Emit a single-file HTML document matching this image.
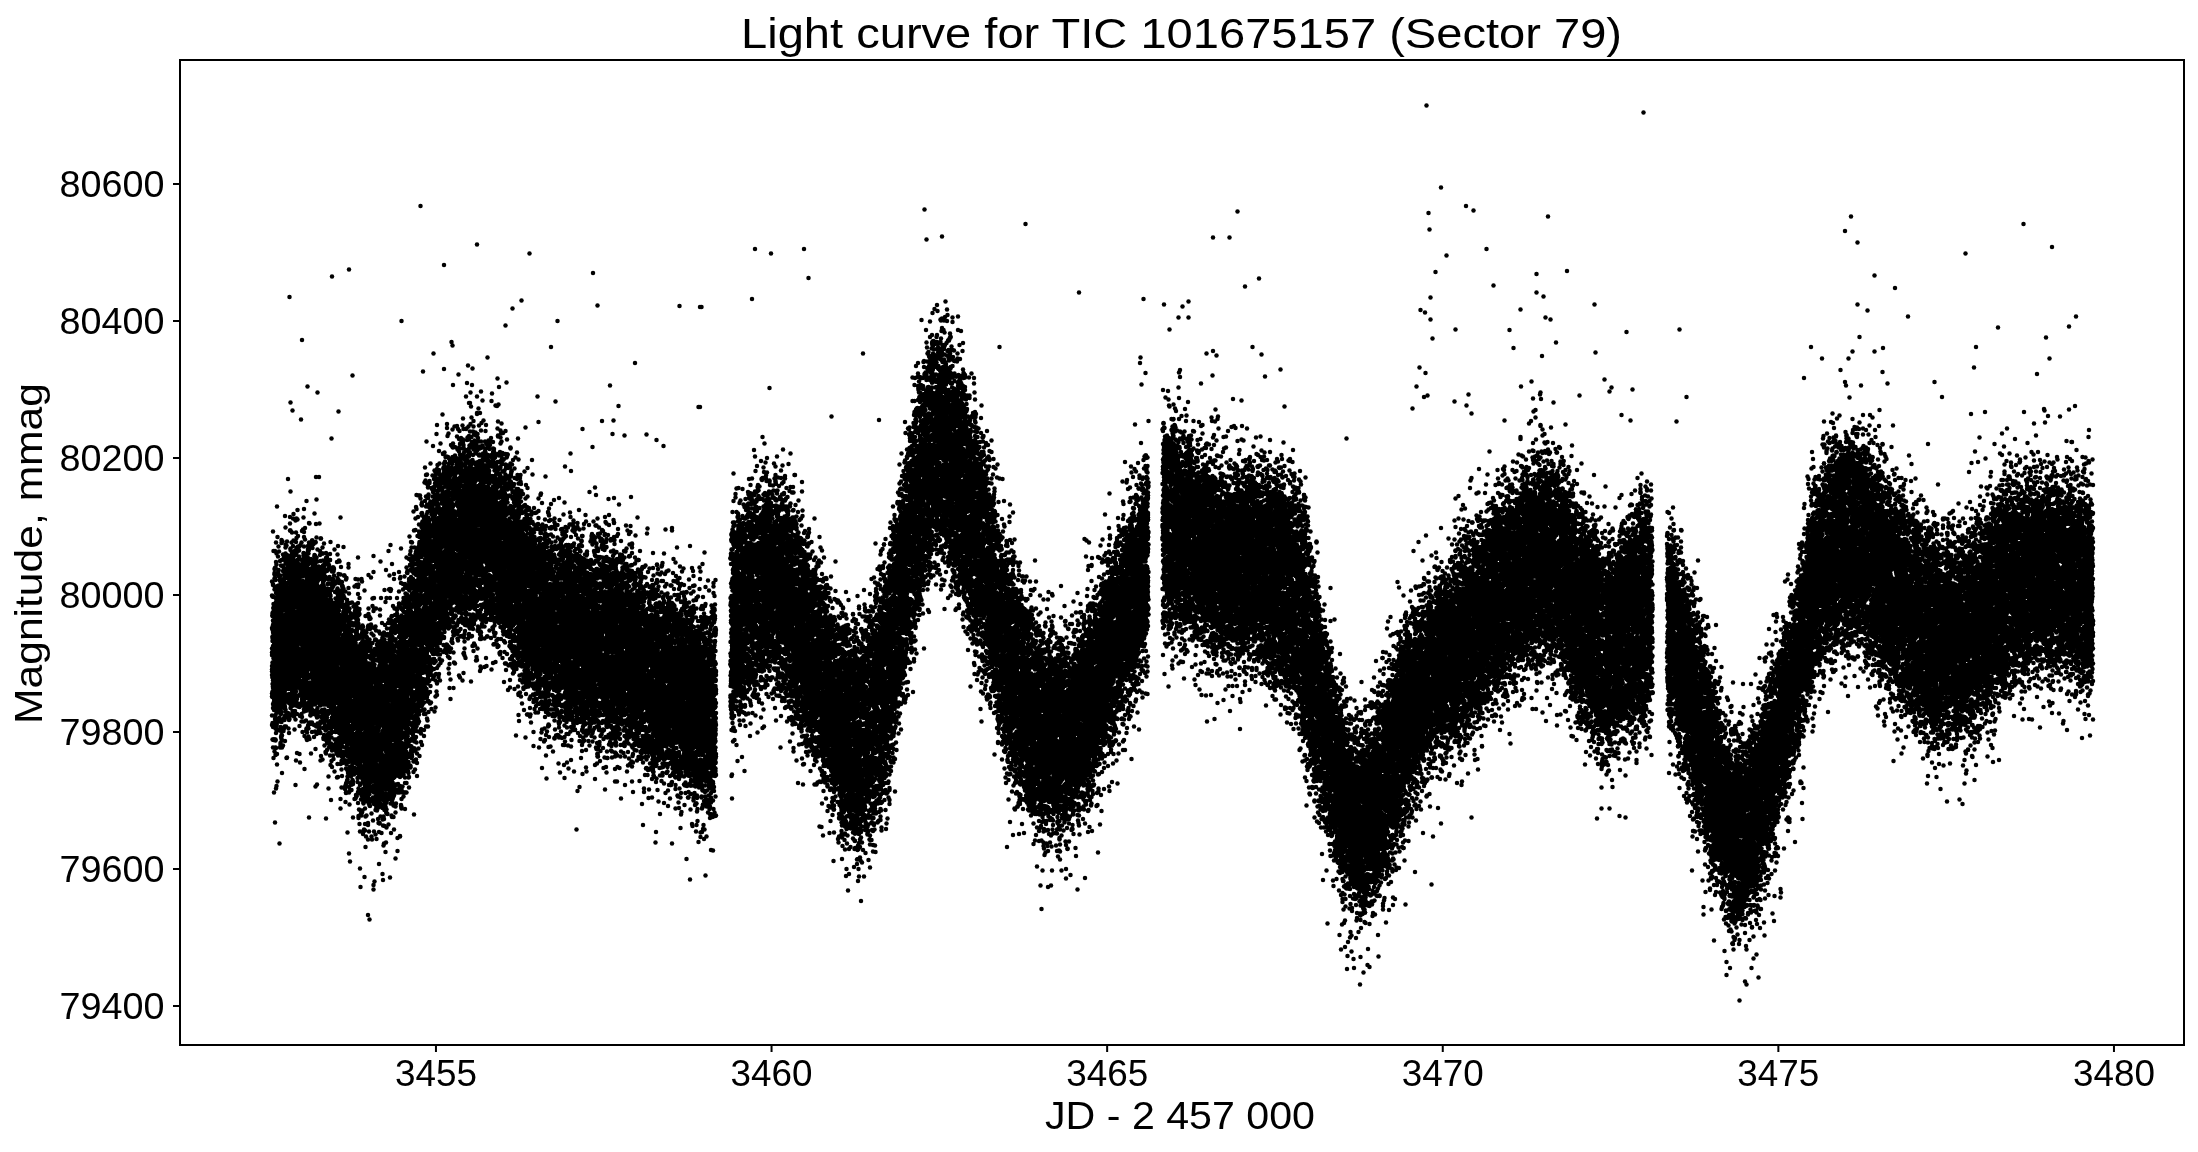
<!DOCTYPE html><html><head><meta charset="utf-8"><style>html,body{margin:0;padding:0;background:#fff;width:2198px;height:1152px;overflow:hidden}svg{display:block;will-change:transform}text{font-family:"Liberation Sans",sans-serif;fill:#000}</style></head><body><svg width="2198" height="1152" viewBox="0 0 2198 1152"><defs><marker id="d" markerUnits="userSpaceOnUse" markerWidth="11.0" markerHeight="11.0" refX="5.5" refY="5.5" overflow="visible"><circle cx="5.5" cy="5.5" r="4.5"/></marker></defs><g transform="scale(0.5)"><path d="M2834 1611l2 2-2 3-3-2zM3236 1494l-4 2 0 4-3 2-3-2-2-4-7 3-3-1-3 0 0 3 3 3 4 0 4 2 4-3 2 2-4 5-5-1-5 5-6-3-3-5-6 0-3-4 3-4-3-3-2 1-3 4-5 2 2 4 4-2 4 4 5 0 5 5-4 4-1 9-2 1-3-1-3 2 2 2 5-2 2 2-1 9 1 1 4-1-1-3 3-4 4-2 3 2 3-1-6-11 3-6 5 0 4-2 10 2 2 6 3-2-1-3-5-2 1-4 6-1-2-4-4 1-2-2 0-3 5-2zM3210 1517l2 2-2 3-3-2zM1520 958l4 4 3-2 3 0 2 4 2 0 4 2 0 5 2 1 6 2 3-3 4-1 5 5 2-5-6-1-1-3 1-8 4-1 3 2 6-1 1 3-6 5 0 3 3 0 5-4-2-4 4-3 0-7-3-2-2 3 0 2-2 2-11-4-1-4-3 0-4 8 3 4 0 6-5 3-3-2 0-7-5-2-2-4 2-10-2-1-4 0-2-2-2 4 4 3 0 4-2 2-4 0zM4156 934l-1-1-3 1 1 6-1 3-6-1-4 4-4-7 2-5-4-2-1 4 3 4-4 4-4 0-2 3-8 3-5-2-5 4-2-2-2-4 1-1 5-1 0-2-2-3 0-4-2-1-2 1 1 4-3 3 0 5-4 6-2 1-6-4-2 4 3 5 5 1 2 4 2 0 2-6 4-4 3 2 7-4 4 2 8 0 6-9 2 1 4 4 3-2 4 0 2-5 4 1 3-2zM3102 924l2 2-2 4-2-2zM3097 897l-5 3-2-1-4 3-3-2-4 4-3-2-4 8-10 4 4 16 6-3 6 5 3-1 0-2-6-7 9-7-6-4-1-3 3-3 4 3 9-1 4 4 3-1 2-6-3-2zM3073 914l3 2-3 3-3-2zM4176 990l-6 4-2 4-2 1-2-1-3-4-2 0-1 6-4 2 0 6-6 6-4-2-2-2 6-8 3-2 0-2-3-3-1-4-5-1-1-2 2-4 5 0 4-4 0-2-7-4-3-6-6 2-2 2 4 4 0 6-4 6 0 4-4 2 2 6-3 2-7-2-6-4 1-3 3-1 4 2 2-6 4-3-4-3-2-5-5 1-1-4-5-2-1-2 2-4-2-2-2 1 0 4-2 3-4 0-2 4-4 0-4 0-9 2-4-4-3 0 0 3 2 1 3 0 6 8-1 2-4 4-4 0-2-2 0-4-5-4-3 4-6 0-3-2 1-4 2-2 6 3-1-8 3-3 2-2 5-3-3-3-4 2-6-2-2-2-4-4 0-2 4-3-2-3 2-4-2-4 0-4-2-2-4 1-4-3-4 5 2 3 5-4 4 4-2 4 2 8-9 8 3 8-1 10 6 6 0 8-8-2 1-6-7-6 0-5-4-3 0-4-5-2-3-4-9 0-1-4 0-4-2-2-6 2 0 6-4 1-4-2-4 1-2 2 2 2 8-2 4 2 2-2 4 0 4 2 0 4-2 2-5-2-8 4-3-2-4 2-4-1-3 5-4 2 0 2 7 0 2 4 6 3 0 7 6 0 2-2 0-4 2-2 4 0 3 6 9-2 2 0 2 3-2 2-4 1-4 2-4-4-3 2-1 3-4 2-4-3-4 0-1-4-5 1-4-1-2 2-4 0-4-7-4 1 5 12 7 0 4-4 2 1 2 6-2 3-4 0-2 2 2 4-2 4-4 2-4-4-4 2 3 5-1 3-5 4 5 4 0 3-4 1-6-4-4 3 0 5 2 1 11-3 1 8-2 1-5-2-9 3-2 0-4-6 0-4-6-5 2-4-4-4 0-5-2-1-3 1 5 6 0 6-7 4 5 4-1 8 3 2 1 4-4 2-5-6-2 4 4 7-3 3-5-1-2-3 2-3-3-1-3 4 0 6 7 2-1 6 2 2 10-4 2-3 5 1 3 2 0 6 3 0 5 2 4-2 4 2 0 2-2 4-12 1-2-1-2-6-4 1-4-5-2 2-1 4-5 4-4 1-1-7-5-1 0-5-6-1-2-3-2-1-3 5-5-2-2 2 2 4-2 4-4-1-5 3-4-3-3-1-4-4-4 4-4-2-2 1 1 3 5-2 4 2 0 6 2 4-2 2-4 2-4-4-4 0-2-3 0-3-7-6-3 4-6 2 0 6-4 0-4 4-4-4 3-3 0-4 7-9 5 0 3-6 6 0 2-2 4 3 3-1-2-4-4 2-4-4 1-4-4-5 2-4 4-3-1-2-9-2-3 4 3 6 4 4 0 6-4 4-4-4 1-8-5-3-2 1-2 4-2 1-2-1-2-4-6 0 0-6-6-1-5-7-5-2-1-6 3-3-1-1-3-2-2 4-4 0-2-4-4-3 0-10-12-7-1-4 3-2 8 6 2-2 0-3-10-3 0-4 4-2-1-3-5 2-4-1-2 2-4 0 0-2 2-4 5-2-1-4-2 0-2 4-6 0-2-1 0-4-2-3-10-2-2-2-4 1-4-3-6-2 0-4 6-7 7 7 4 0 5 6 2-3-3-3-4-1-7-7-2-6 2-5-6-5-2 2-4-2 0-4 4-4 0-2-3 0-3 2-4-4-6 0 0-4 2-2 1-9-3-2-2 0-4-3-2-4 2-7-11-7-5 6-4 2-4 0-1-6-5-2 0-6-8-4-1-4-3-2-3-8 0-4-1 0-4 2 3 4 1 5-2 12 2 1 5 0 1 4-2 4-10 0-4-6 0-5-2-1-3 4-3-1-3-7 1-2 2-2 0-5-3 0-2 3-7 4-4-2-2 1 2 4-4 3 0 3 4 3 6-3 4 1 3 2-1 2-8 6 0 6 2 1 2-1 2-6 5 0 5 2 4 4 10-2 2 2 0 2-4 4-8-2-2 2 0 6-8 8-2-1-2-5 3-4 0-4 5-3 0-1-4-2-2 6-6 2-2 4-4 2-2 5 2 3 3 0 2 1 2-2 3 0 0 6-2 1-3-2-3 2-3-1-3 3-4 0-2 2-6-2-1 2 1 3 2 1 2-2 3 0 5 8-1 2-3 2 0 6-7 4-3-2 0-6-2 0-4 2-4 0-3 6 1 5-3 3 3 8 0 3-6 1-4-3-2 1 0 4 4-1 2 2 0 5 1 3-3 3 2 4-2 6 2 2-1 8 3 2 4-2 4 2 4-2 7 2 1 2-2 2-8 0-3 5-4 0-3 5 1 4-3 5-3 1-3 0-2 1 2 4-2 5 2 4-2 3-6-1-1 2 1 4 4 0 2 4-3 2-3 0-2 2 2 2 3-1 3 2-2 5 2 6-4 6-3 0-3-6-3 4-3 0-2 1 0 2 3 3-2 6 5 3 0 5-4 4 2 4-2 4 4 2 1 8 3 4-2 4-2 2-4-2-2-6-2 2 2 6-3 8 1 2 5 0 1 5-10 9 5 7-3 3 0 6-4 2 2 7-3 3-3-3-3 2-1 3-3 4 2 2-2 6 2 4-1 4 4 2 2 4 2 0 4-7 2-1 4 2 2 5-2 1-3 0-5 2-2 2-4 0-2 2 2 4 2-1 3 2-3 10 4 6-3 3-9-2-6-3-3-5 1-4-2-2-2 2 2 4-1 4 5 6-4 6 4 4 0 4-5 4 1 11-2 3-4 2 0 2 4 2 2 6 4 2 0 2-2 2-4 0-2 2-4 2-3 5 1 5-4 8-1 5-3 0-2-4-4 1 8 10 1 4-3 2-4-4-3 0-1 3 4 1 2 4-2 2-8 3 0 4-4 4-2 9 2 2 6-2 2 5-6 12-2 1-4-2 4-7-2-3-4 4-6 2-4-2-1 2 1 2 6 0 6 6 2 4 0 4 1 4-3 3 2 3 5-2 1-5 8 1 2-6 2-2 5 2 3 6 0 4-3 2-4-3-3 5-7 2-3 0-3 2-7 0-2 2 1 4-2 4 4 4 0 2-7 6-4-4-4 2 2 3 6-1 2 5 0 3-4 4 2 7-3 2-4 0-6-3 0 10-10 0-1 2 5 2 3 7-6 3 0 4-5 8-5 1-8-4 1-6-3-2-4-12-2-3 2-7 4 0 6-3-4-6-3 1-3 6-4 0-2 1-2 6-3 0-3 4 2 10 2 2 7-3 5 5-3 6-5-2-2 2 0 2 10 0 7 6 0 2-5 3 2 4 4-1 3 1 3-1 2 2 4 0 2 2-1 3-2 1-3-4-4 2-3-2-3 2-10-5-6 3-2 3 8 5-3 4 2 12-3 2-5-4 1-14-4-1-2-2 4-17-2-1-2 5-3 2-5 0-2-4-4 2-3-2 3-4 0-8 6 0 2-2 2-10-5-3 1-3 2-1 0-5-4-2-4-8-8 0-1-4 5-3 0-5 2-4 4 0 4 6 3-4-4-2-2-4-3 0-3-4-4 0-4-6-3 0-4-6 2-4 2 0 4 1 0 5 2 0 2-2-2-8 0-1 4-1 1-3-3-1-2 2-6-2-2-4 7-6-5-4 1-4-1-6 2-2 6 2 2-8-2-2-4 2-5-2-3 5-4 0-2-5 4-6-4-3 0-3 2-2 5 0-1-5 4-5-2-2-4 0-2-4-3 0-1 4 4 2 1 6-3 2-10-10 3-10-5-6-1-4 3-5 4 0 2 2 4-3 4 2 2-3-2-1-4 2-4-2-4 0 0-3 4-1 1-2-1-6-6-4-5 2-4-2 1-4-2-6 0-4 6-4 6 2 2-3-4-4-5-1 0-9-4-3-1-4 4-7 4-3-1-5 3-1 4 2 2-3-7-3-3 0-2 2 1 4-9 10-2 0-2 3-2 1-3-2 2-4 3 0 2-6 4-3-2-4 2-7-3-2-4 4-4-2-4 2-3-1-2-3 3-4-1-7 1-1 3 0 2 4 3 0 2-12 4-2 5 3 3-5-3-2-4 4-6-4-4 6-10-1-1-7 7-3 4 3 2 0 1-2-3-8 4-5 4 0 2-3-2-2-2 0-6-2-2-6 2-5-3-3 0-3-5-2-2-5-6 2-2-4 0-2-2-2-7 4-8-2 1-4 2 0 2 2 2-2-1-4-3 1-3-2 0-3 10-5 2 1 1 4 2 1 2-3-2-4 2-5-8-3-6 1-1-6-3-2-2 2-2-1-2-4 5-3 0-4 4-2 3 2-2 6 2 2 7-1 1-4-3-2-1-3 4-3 0-2-2-2-2 2-2 5-4 1-2-6 4-4 0-1-6-2 0-7 2-2 5-1 1-1 0-2-7-2-3 3-4 0-1 2-3 0-3-2 0-3 3-2 4 2 1-3-2-2-5 1-2-4-2 0-2 9 3 3 1 3 1 1 7-1 1 5 3 3-3 3-4-2-3 1-3-3-3 1 2 3-2 24 3 4-3 9 2 2 4-1 3 2-1 2-6 6 0 14-2 3 0 9 2 4-1 3 1 9 2 2-4 6 0 12 2 4 0 6 1 3-1 5-2 2 2 6-2 10 4 5 0 4-3 7 3 4-2 6 0 8-2 3 2 6-2 6 3 3 1 6-4 4 0 8 2 3-2 7 2 2-1 6 5 2 0 4-5 3-1 6 2 12-1 3 1 24 2 2 0 4 2 2 0 2-4 2 2 5-2 5 2 4-4 4 2 3 12-1 2 2 0 4-5 1-3-1-8 3 4 5-1 4 6 10-1 2-4 4 1 6-1 4 4 2 4 7 4 1 4 10 0 2 2 3 0 5 2 4-2 6 2 2 4-2 3 2-1 6-4 4-4 8 4 2 2-6 2-2 6 1 2 5-4 4 2 6-5 3 2 3-1 2-4 4-4 0 0-6 6-3-5-3-2 6-4 2 5 4 0 3 2 3 4-2 5 4 5-3 3 1 0 4 5 4-1 6 3 2 0 4 2 2-2 5-2 1-2-2 2-5-4-1-4 6 4 6-1 3 3 3 2-2-2-6 2-2 5 2 1 6 6 3-2 3-6 6-8-1 0-5-4 0-2 4-4 3 1 3 3 1 0 4 3 3-1 4 2 2 4-4 3 0 3 4 0 2 3 2 1 4 5 5-2 4 0 8-4 2-3 5 2 2 5-6 6-1 3 3 4 2 0 4 4 3-2 5 0 2 2 2 0 3-10-1-4 4-8-2-2 2 2 3 4 1 5-4 4 2-1 5 2 1 5-2 4 1 0 5 3 5-5 3 1 4 4-4 4-1 8 1 2 3-2 4-2 1-7-2-2 4-5 4 0 5 2 2 2-1 0-3 4-5 4 2 0 4-5 7 5 5 2 4-4 4 2 6 3 2 6 7-2 4-3 1-6 6 0 2 3 2 1 2-2 6-4 0-2 3 4 2 2-3 4 0 4-4 2 2 2 4 3 4-3 3-4-1-2 2 2 2 3 0 3 1 2-2 0-4 2-1 3 0 3 4-2 4 3 4-1 4-7 2-5-2-4 9 3 1 2-5 5-1 2 2 2 6 5 4 1 4-4 3-3 13 1 2 4 0 0-4 3-10 3 0 7 8-3 4-7 2 3 4 4-2 4 0 2 4-13 7-3 5 2 3 1 1 4-4 7 0 1 6 5 2 2 3 2 0 4-8 6-1 6 2 2-2 4 0 2-2-1-5-3 0-4 3-4-4 5-3 1-12 10-5 2 1 2 3-3 3 0 3-5 3 0 7 3 0 2-4 3 0 4-4 8 4 4 4 2-2 0-2-4-2-2-6 3-2 6 2 1-4-2-1-3 0-3-6-4 1-4-3-3 2-5-1-3 2-7-2-1-2 4-4 3-1 3 2 3-1 0-3-6-3 0-3 4-7 8 2 0 2-4 6 1 1 3 1 3-6 5-3-4-5 4-4 2 0 4 2 3-2 5 4 2-2-2-3-6 1-2-5 2-3 5 0 3-4 4 0 2-2-2-2-2 0-2 3-4 0-2 2-7 1-4-3 3-5 5 0 1-2-2-4 1-8 5 0 3-6 5 1 2-2-2-3-3-1-1-6-5-7 2-4 0-4 7-4 4 2 3 3-2 5 3 2 2-2-2-5 2-3 4 1 3-1 3 1 2-2 0-1-4-3 0-3-3-2-4 2 1 3 0 3-6-1-6-3-1-6 5-4-1-8 1-4 4-2 2-3 4 1 2-5 0-3-4-3 0-4-2-5 2-2-1-4 4-6 0-3 7-2-2-5 3-4 1-3-3-3 1-4-2-3 2-3-1-4 8-8-5-4 0-5 8-4 8 2 4-1-2-4-4 0-2-2 2-5-3-7 3-3 5 1 3-8-2-2-4 0-3 2-3-4 4-5 7-4-1-9 3-5 5-1 2-2-3-4-5 5-5-1-1-5 5-3 5 0 3-4 1-4 4-8 6-3-2-5-4 6-4 0-1-5 1-2 0-5 1-2 3 0 4 6 2-2 0-2-4-3 1-4 3-4-2-9 4-6 5 2 3-3-8-7 1-3 5 1 2-3-2-3 0-4-4-5-2 0-2-3 10-4 4 4 4-2-1-6-3-3-3-9 1-12 7-2 1-3-6-2 2-6-6-2-3-4 0-3-1-2-4 0-2-3 6-5 3 0 3 0 2 4-1 4 5 2 0-6 4 0 4-2 4 2 1-4-6-3 3-7-4-4 2-4-4-3 0-3 3-2 3 1 4-5 2 0 4-4 4 0 4 4-1 4 4 0 2-4-3-6 1-4-1-2-5 1-4-1-1 6-4 2-2-2 0-4-4-1-2-3 2-8 6-1 4 5 2-2 2-6-2-4 4-6 4 0 4 8 2 2 5 0 3 3 4-1 2-3 4-2-1-3-5 2-4-5-5 2-11-7 1-2 5-3 0-4 8 0 4-5-2-4 1-2 5 0 6-2 2-4 4 0 4 6-3 4 2 6-3 5 4 1 4-5 4 0 2 5-4 4 4 3 0 3 3 2 5-3 8 5 2-6 6-2-2-4-6 4-3-2-7 0-2-6 0-3-6-1-4-6 2-3 10-1 2-4 4-2 4 0 7 9 3-1 1-4 3-2 8 8 0 6-5 2 4 11 3 1 4 2 2-1 0-4-5-3 1-2 2 0 3 0 1 3 6-1 4 3 6 1 6 3 0 2-2 3-6 0-2 2-6 4-3 0-3 2 2 2 18 0 4 6 5 0 5 3 3 4 1 5 8 0 1 10-3 0-5-5-4 1 1 3-4 3 0 4-4 3 2 4-3 3 3 3 7 1 1-2 1-6-3-4 0-3 2-1 4 2 6 0 2 4 5 5 1 3-2 4 2 4-4 7-5 1-2-7-5-3-2 1 0 2 2 3 0 4-4 4 2 3-2 4 2 3 2-2-1-6 3-4 6 6 6-4 7 6 4 0 7 2-1 4-7 3 6 7 0 6-6 5-5-1-1 4 4 2 2-4 5 0 5-5 5 1 4-2 4 1 1-5 4-2 2 3 1 9 3 2 6 0 4-5 4-1 6 6-2 5-3 0-3-3-4 6-7 0-5 3-4-3 2-7-4-3-3 2 1 4-4 2-2 2 5 5 1 5 4 3-8 9 5 4 1 4 2 1 2-2-2-5 3-2 2-10 5 0 4-3 2 2 0 3 2 2 2-2 0-6 6-6 4 6 0 4 2 3-1 5-3 2 2 4 5 0 2-6 2 0 7 0 2 2 0 4-6-2-2 2 2 8-6 0-2 1 1 5-7 4-4-4-4 2-3-3 3-4 4 1 2-2-5-9-10-5-4 3 1 3 4-1 6 4 0 3-4 2 2 6-3 2 3 3 4-1 4 2 4-3 4 3-3 5-3 0-2 2 1 3-2 3 1 4-4 4 2 5 3-2-1-6 4-3 0-5 10 2 3-2 3 1 2-1 0-3-4-3 4-4-5-5 2-3 9-2 3 2-1 6-2 4 1 2 2 0 3-4 6-2 2-5 3-3 9 2 4 2 4-4 4 0 3-2 3 1 2-3-2-2-10 2-3-9 3-3 2 2 3-2-1-6 1-4 2-2 7 3 0 3-2 4 4 6 3 0 0 4 3 3 2 3 5 2 3 4-3 4 3 2 4-2 4 0 0-6 4-2-2-4 2-4-6-4 2-4 10-7 0-5 4-2 1-4 3 0 4 2 2-3-10-3-2 4-2 2-2 5-2 1-4-3-6 1-3 4-3-2-2-4-4 0 0-2 0-7 8-2 2-5-6-14 0-2 4 0 4 3 2 5 3 0 1 3 3 1 2-1-3-4 1-4-2-2-4-1 1-4 8 0 2 4 4 2 1 6 3-2-2-9 2-3 4 2 0 6 2 1 8-5-2-4-4 0-2-2 0-6-4-2-3-4 3-4 6 0 0 2 3 4 3 8 8 3 1-4-5-1-6-8 0-6 4 0 2 4 6-2 4 4 8 2 2-2 0-5 6-3 2 2 0 2-6 4 2 3 2 1 2-6 5-4-1-2-5 0-1-2 2-5 0-3 4-4 4 0 4-6 4-2 4 1 0 4 6 5 5-2-7-6 0-4-2-2-2 0-2-5-2 0-4 3-2 0 0-6-2-7 2-2 5 1 3-3 5 5 4 2 3-2 6 2 0-3-2-3 2-4-4-3-2-6 10-7 6 4 2-3-8-3 4-4 6 0 4 5 6-1 0 3-4 3-2 6-4 0-4 3-1 3-4 3 1 3 2 0 2-4 2-1 4 3 2 0 1-2-2-4 3-2 4 0 3 4 3-4-2 0-3-8 8-4 3 2 0 6-4 4 3 2 3-2 4 0 4-4 3 2 4-1 3 9 0 2-5 0 0 4 7 0 6 4 2-4-4-2-1-10-5-4-2-5 0-2 4-3 4 4 5-1 3 3-2 3-4 2 0 3 2 0 5-2 3 4 3-1 1-3-4-4 5-3 9 5-1 3-3 3 1 2 6-1 3 5 4 0 4 4 6 0 0 4-3 6-4-1 0-7-3 0-6 6 1 2 3 0 4 2 0 4-4 4 3 2 1 5 6-2 4-7 6-2 6 0 4 6 2-1 0-3 2-4-3-2-4 2-2-1-1-3 2-2 4 0 1-1-3-6 4-3 0-5 2-4-2-5 2-5-2-4 0-3-2-4 4-6-4-3 0-5 4-6-2-2 2-8-2-2 0-4-2-2 4-5 0-9-2-4-1-6 3-4-1-4 1-4-2-8 0-4-4-4 1-2 5-2-4-10 0-4 2-2-2-4 2-3 1-5-1-4 2-4-2-4 2-4-3-16 3-4-4-6 2-4 0-10 2-6-2-8 2-4-2-7 2-7-2-4 2-7-2-5 2-6-2-3 1-5-5-4 2-3 0-5 4-10-6-6 0-2 4-2 0-2-3-2-3 4-2-2 0-2 4-2 0-6 4-2 2-4-8-6 0-8 6-1 1-3-5-5 1-5-4-2-1 4 2 4-2 5-4 0-6-6 0-5 4 0 2-3 4 0 0-3zM3472 1826l2 2-3 4-3-2 0-2zM3514 1812l-1 6-5 2-4 0 0-6 8-2zM3452 1787l4-1 0 6 4 2 8 1 0 5-6 3-4-2-6 5-2 0-2-4 4-3-2-7zM3456 1778l4 0 5 4-1 6-7-2-1-5zM3508 1777l-2 3-4-2-2 3-3-2 1-3 4 0 2-2zM3509 1773l4-1 1 3-2 2-2-1zM3449 1772l3 2 0 4 2 2-3 2-6-4 2-6zM3473 1766l3 2-1 3-2 1-3-2 1-2zM3454 1753l4 3-1 4 2 2-1 4-3 2-4-2-1-4-2-2 1-4zM3462 1761l4-2 0-5 4-2 6 8 6 0 1 3-3 2-3-3-3 2-4-2-5 2zM3514 1746l5 0 1 4-5 0zM3458 1744l3 2 0 4-5 3-2-1 0-4zM3426 1745l7-5 4 2 0 5 1 1 5 2 5-2 0 6-4 2 0 6-2 1-6-3-3-6-5 0-4-4zM3522 1735l2 1 0 3-3 3-3-2 0-2zM3522 1728l3 2-3 4-2-2zM3520 1724l2 0 0 3-2 2-3-3zM3434 1720l3 2 3-1 3 2-2 5 1 5-6 3-10-10 2-4zM3446 1719l2 2-2 3-3-2zM3518 1708l4 3-4 5-2-2 0-4zM3524 1691l8-2 2 3 1 9-3 1-6-1-1-5-3-2zM3512 1679l4 4-4 4-3-5 1-2zM3477 1676l3-2 6 2 1 2-4 4-5-3zM3542 1672l2 2-2 2-3-2zM3423 1664l2 2-1 2-4 4-2 0-2-4 0-2 3-2zM3537 1661l3 2-3 3-3-2zM3538 1650l4 1 0 4-5-1zM3542 1641l5 1-1 4-4-1zM3408 1632l2 1 0 3-4 2-2-4zM3532 1627l5 0 1 3-5 2-1-2zM3502 1624l-1 2-2 1-3-1-4 2-2-2 2-4 6-2zM3399 1618l3 0 4 4 0 2-2 2-6 0zM3554 1612l3 2-3 3-2-2zM3406 1610l3 2-3 4-2-2zM3397 1608l3 0 4 6-2 2-2 1-6-3 0-2zM3556 1604l4 1-1 3-4 0zM3390 1602l2 2 0 4-2 1-4-3 1-2zM3525 1599l4 1-1 4-4-2zM3389 1593l1 4-5 5-4 0-3-4 1-3 4-3zM3410 1590l2 3-4 5-2-2 0-2zM3374 1588l3 2 0 4-4 2-2-2-1-4zM3554 1584l4 6-1 2-9 1 0-5 4-4zM3518 1573l3 3-3 2-2-2zM3566 1570l2 4-3 2-2-1-1-3zM3388 1569l4 1 0 4-6 0zM3402 1567l3-2 9 3 0 3-6 4zM3562 1554l3 4-3 2-3-2zM3484 1548l5 0 1 3-4 2-2-1-1-2zM3460 1539l6 1 1 4-5 1-2-3zM3380 1532l3 2 2 6-1 4-2 2-4-3 1-4-1-4zM3503 1532l3 2-3 3-3-2zM3556 1529l4-1 2 3-4 3-2-2zM3496 1528l2 1 0 3-4 3-2-1 0-2zM3444 1528l4-1 2 3-1 2-4 0-2-2zM3376 1521l4 3 1 2-5 4-2-2-1-3 1-3zM3478 1519l2-1 4 1 4 4 0 3-3 2-7-4zM3429 1513l3 2-3 3-3-2zM3589 1512l0 4-7 7-6-1-2-6 2-2 2 0 4-2zM3486 1514l4-4 4 4 3 0 1 3-6 3-6-3zM3496 1506l4 0 0 4-4 0-1-2zM3392 1505l2 2 0 3-2 2-3-2 1-4zM3473 1506l3-2 2 1 4-1 2 1 0 3-4 3-3-3-3 0zM3582 1489l4-1 1 4-4 0zM3508 1487l2 3-2 4-2 2-2-2-2-4zM3870 1484l2 2 1 4-5 2-2-1 0-3 2-3zM3511 1480l3 0 2 2 0 5-5-1zM3502 1478l3 2-3 4-2-2zM3429 1476l2 0 1 4-4 2-2 0 0-3zM3892 1475l4 4-1 2-3 1-4-2 2-4zM3518 1470l4 2 0 4-2 1-4-2 0-3zM3380 1468l2 2 0 2-2 1-2-2 0-3zM3948 1466l8 2 2 6-1 6-5 4-2-2 2-4 0-2-6-2-2-3 2-5zM3576 1465l2 2 0 3-2 0-3-2 1-2zM3449 1464l1 4-3 4-9 0 0-5 6-3zM3900 1461l8-1 2 2 4 9-2 5-6-1-4 3-4-3 0-3 3-3-1-5zM3351 1460l3 0 2 2 4-2 6 3 4 0 4 3 0 2-7 8 3 4-3 5 0 5-3 0-2-2 1-3-1-7 2-2-4-6 0-4-6 0-4-4zM3431 1457l4 1-1 4-4-2zM3598 1456l7 0 0 6-2 0-5-2zM3524 1457l-1 3-5 0 0 4-2 1-6-1-4-2 2-4 10 2 0-4 2-2zM3587 1452l3 0 3 4-2 5 4 3-1 4-4 0-4-6-1-6zM3918 1450l0 4-6 1 0-3 2-2zM3902 1452l1 4-3 2-3-1-3 1-2 2 1 4-3 2-2 0-2-4-5-4 3-7 9-1 3 4 4-2zM3354 1449l2 1 2 4-6 6-4-4 0-2 1-4zM3833 1448l4 1 0 5-5 0zM3934 1447l8 1 0 3 6 7-2 4-4 0-4 1-2-1 0-3 2-5-4-2zM3878 1445l2 3-3 3 1 3-4 3-3-4 3-3 0-4zM3588 1440l6-2 2 4 0 3-2 1-6-4zM3908 1443l-2 3-5 0-3-3-8 3-4-1 0-3 5-6 6 2 4-2zM3524 1438l4-2 5 1 1 3-4 4-2-2zM3880 1432l6 1-2 5-4 0zM3350 1430l3 3-3 7 2 4-4 4-4 2-2-2 2-6-2-5 3-5zM3882 1425l1-2 6-1 2 2 1 2-3 2-7 0zM3604 1422l2 1 0 5 4 4 0 4-3 2-3-1-4-4 2-9zM3917 1422l3 0 3 3 5-3 4 0 8 8 0 6-4 0-6-4-7-2-5-2zM3848 1422l0 4-4 3-2 0-2-3 2-4zM3592 1418l2 2 0 2-3 3-2-1-1-3zM3348 1418l4 1-1 3-4 0zM3542 1418l0 2-2 2-4 2-2-2-1-2 1-2zM3428 1416l2 0 0 4-4 2-2-3zM3414 1418l-1 3-9 3-2-2 1-4 7-2zM3828 1412l3 2-3 3-2-3zM3816 1412l4 0 0 4-4 0zM3904 1410l6 4-2 5-3 3 0 2 3 2 1 2-4 4-7-2 0-2 2-4-6-4 3-6 3 0zM3840 1412l2-2 6 2 2 3-6 3-4-2zM3601 1408l4 0 1 4-5 1zM3939 1404l1 2-2 2-4 2-2-1 0-3 5-3zM3884 1400l3-1 3 3-4 2-2-1zM3972 1400l-1 4-5 0-6 3-2-1-1-3 1-3 3-1 5 1 3-2zM3351 1396l0 8-3 2-5 0-1-6 6-4zM3918 1395l2 3 0 3-3 1-3-3zM3812 1394l4 2 2 4-2 3-2 0-4-3zM3597 1394l5 0 2 2 0 2-6 0zM3834 1392l0 4-4 4-4 0-1-6zM3894 1391l0-1 4-1 3 3-1 2-4 0zM3886 1390l4 0 1 3-4 1zM3935 1398l5-9 2-1 4 1 2 3 6 0 1 2-1 6-6 2-4-6-6 5zM3985 1387l3 2-3 3-3-2zM3406 1388l2-1 4 2 1 3-5 2-2-2zM3838 1386l4 1 1 3-1 2-4-1zM4002 1384l4 1 0 5-5 0-1-4zM3808 1384l2 0 2 5-2 3-2 0-2 0-1-5zM3534 1384l5 0-1 6-2 1-4-2zM3958 1382l6 2 0 6-5-1-2-4zM3946 1378l5 1-1 5-2 0-2-2zM4018 1376l-1 8-5 1-5-2 1-5 3 0 4-4zM3972 1376l0 2-2 2-5 0 1-4zM3555 1374l3 4 0 4-3 2-2 0-1-5 0-3zM3422 1376l4-1 0 3-4 1zM3799 1374l5 1-1 5-5-2zM3864 1372l2 2-2 4-2-2zM3829 1374l-3 5-2 1 0 6-2 2-6-2-8-9 2-3 9 6 3-2 2-7 4 0zM4022 1368l4-1 1 3-3 2-2-1zM3988 1367l7 2 3-3 6 5 0 5-4 5 0 6-16-3 0-5 9-1 1-2-2-3-3 1-3-1zM3965 1366l3 2-3 4-3-2zM3544 1366l2 1 1 3-3 2-2-4zM3878 1360l2 3-2 4 2 1 0 4-2 2-3-3 1-4-2-2zM3396 1356l2 2 0 4-2 0-2-2 0-2zM3541 1349l2 1 1 3-4 2-2-3zM3346 1348l2 2 1 3-3 2-3-1-1-2zM3898 1348l4 0 0 4-4 1-1-2zM3550 1348l2 0 2 4-1 3-3 1-2-2 0-4zM3991 1347l6 7-9 4-2-2-1-6 1-2zM4024 1346l2 2 2 5-2 7-4 4-2 3-2 1-6-5-1-10 3-2 3 2 2-1 1-4zM3984 1346l0 4-5 1-1-5zM4053 1342l3 2-3 3-3-2zM3846 1338l6 1 0 2-2 3-4 0zM3395 1338l3 0 2 3 0 4-5-1zM3802 1337l2 7-2 1-4 5-4 0 0-4 1-6 3-2zM4182 1334l0 6-4 1-4 5-1 4-5-1-1-3 2-3-3-3 1-2 11-5zM4154 1332l2 2-2 4-2-2zM3807 1332l4-1 1 3-2 2-2 0zM4016 1344l0-4 4-1-2-7 2-2 6 4 3-2 8 2 4-2 3 3-2 7-2 0-7-2-3-2-4 2-5 0-1 6-2 0zM4160 1330l3 0 2 4-1 3-3 1-3-2-1-2zM3562 1328l2 2-2 3-3-2zM4099 1327l5-1 0 4-4 0zM3914 1326l4 0 0 6-3 0-3-2zM4144 1326l4-1 2 3 3 2 0 2-2 2-3-2-3 0zM3772 1322l2 0 7 10 5 0 0 2-2 5-8-3-3-4-4-2-1-2zM3932 1322l4 1-1 4-4-1zM3399 1323l5-1 4 4-4 2-5-2zM4162 1320l2 2-2 4-2-2zM4018 1320l2 2-2 2-3-2zM3826 1319l0 3-3 2-1 4-4 0-2-2 1-2 5-5zM3810 1318l1 4-1 3-5 1-3 4-3 0-1-2 2-8zM3576 1318l5 0 1 4-6 0zM4156 1317l3-1 3 0 1 3-3 3-4-2zM3940 1314l4 0 0 7-6-1 0-2zM4044 1313l4 7 0 2-6 4-8-2 0-4 2-4zM4107 1312l4 1-1 3-4 0zM4064 1310l3 2-3 3-2-2zM4120 1312l4-3 4 3 4-2 6 4 5-2 3 2 0 6-3 2-5 0-5-4-3 4-4 0-2 0zM3959 1309l5 1-1 4-5-1zM4145 1306l5 0 0 4-4 1-2-2zM4072 1313l5-3 4 2 1-2 0-4 6-2 4 4 0 6 4 0 1 4-4 2-5-4-2 2-4-2-3 2-5-2zM3846 1304l4 1 0 5-4-2zM4031 1302l3 0 4 2-1 6-3 0-3-2zM3801 1302l2 0 1 5-3 5-3-2 0-6zM4020 1300l6 6 1 4-1 3-4 2-2-1-2-6-3-2zM3575 1300l3 2-3 2-3-2zM4132 1298l4 0 2 2 0 2-2 2-5 0zM4050 1298l4 1 0 3-4 4-2-2-1-2zM4150 1297l4-1 0 4-4 0zM3633 1297l1 3 0 3-4 3-4 0-2-4 0-3 6-3zM3394 1296l4 0 0 4-4 0zM3610 1294l2 2-2 3-3-2zM3748 1294l6 1 2 5-1 3-3 0-6-3zM3813 1291l3 3-4 4-2-1-1-3zM3790 1290l4 0-1 4-4-1zM4112 1285l2 3 3 6-3 2-2 0-4 6-5-2-1-4 3-6zM4014 1286l1 2-2 3-5 2-3-1 0-3 3-3zM3984 1285l3 2-3 3-2-2zM3813 1285l4 1-1 4-4-1zM3388 1286l4-2 4 0 4 7-2 3-4 0-6-4zM4047 1283l3 3-3 4-3-3zM3754 1286l3-3 8 3 1 4-3 2-3-2-4 1-2-2zM3716 1283l4 1 0 4-4-2zM4126 1287l2-5 2-1 6 1 2 2 0 2-6 0-3 3zM4164 1280l4 0 0 5-4-1zM4060 1286l7-7 6 5 7-4 10 13-3 3-5-4-4 1-5-5-8 8-4-3 1-4zM3724 1281l2-2 4 3 7-1 2 5-3 2-2-2-6 3-2-1zM3668 1282l-4 6-6 2-1 2-4 0-5 3-6-5 2-3 9 3 2-2 1-7 3 1 5-4zM3572 1278l4 4 0 3-2 1-4-4zM3698 1280l1 4-4 0-3 4-2 0-4-3 1-3 5-4zM3630 1276l2 2-2 4-3-2zM3855 1277l1 3-2 2-5-1 1-3 3-2zM3582 1276l4 0 0 4-4 0zM4041 1275l4 1-1 4-4-2zM3839 1274l1 6-6 5-2 0-1-6 4-5zM3814 1272l2 2 0 3-2 1-3-2 1-2zM3762 1272l2 2-2 3-3-2zM3738 1272l3 0 7 5 2 3-2 3-4 1-3-4-3-2zM4100 1270l2 6-5 3-3 0-2-3 0-3 4-2zM3687 1270l2 3-1 3-4 4-6 0-1-2 0-4zM3758 1268l2 2-2 3-3-2zM3994 1268l4 0 2 2-3 2-3 0zM3398 1267l2 3 0 3-6 4-2 0-2-2 0-5 5-3zM3734 1270l0 2-2 4-4 2-4-3-8 3-2 2 2 4-3 2-8-7 1-5 8-1 2-1-2-5 3-2 9 1 4 4zM3642 1266l2 0 4 2 1 2-3 4-4 0-2-6zM4104 1265l3-2 3 1 2 3 5-2 2 1 1 2-2 4-8 3-4-2zM3658 1262l2 2 0 2-2 2-2-2 0-3zM4158 1262l4 4 0 5-2 2-2-1 0-4-3-4zM4068 1262l0 3-2 2-4 1-3-2 1-2 4-3zM3667 1260l4 4-3 7-2 3-3-2 1-4-2-4 2-3zM3682 1259l2 3-4 3-2-3zM3352 1258l4 4-4 5-2-1-1-4 1-2zM3734 1257l2 1 1 3-3 5-4-4zM3578 1256l4 2 0 2-3 2-4-3 1-2zM4113 1254l3 3-4 4-2-1 0-2zM3715 1258l-1 3-4 0-10 5-4 0-1-2 2-4 5-1 6-5zM3639 1254l1 2-3 2 0 2-3 1-2-3 4-1 0-3zM4028 1252l2 0 1 4-3 2-2-4zM3382 1252l5 1 1 4-3 1-3-2zM3800 1251l0 3-4 2-2-2 0-3zM3666 1250l0 4-2 3-5-1 1-4 2-2zM3728 1249l0 3-2 2-4 0-2-2 1-2zM4168 1246l2 4-2 1-2 0 0 3-6 1 0-3 4-2 1-4zM3372 1246l4 1 2 3-2 2-4 0zM4014 1246l3 0 3 2 0 5-7-2-1-3zM3880 1246l0 4-2 2-4 0 0-4 2-2zM3738 1244l3 2-3 3-2-2zM3648 1242l4 3 0 3-2 3 0 3-2 2-4-3 0-3 2-3 0-4zM4129 1242l4 0-1 4-4 0zM3672 1254l5-5 1-6 2-2 6 3 0 4 4 4 4 1 1 4-7 3-2 0-2-5-4 3-5 0zM3594 1238l4 4 0 4-4 2-4-3 2-5zM3608 1236l6 0 2 2-2 3-4 1-2-4zM3720 1235l4-1 1 4-4 0zM3696 1234l5-4 4 5-5 3zM3394 1233l-2 3-4 2-5-2 1-4 6-2zM4138 1230l5 0 1 4-6 0zM3716 1228l0 4-5 1-1-3 2-2zM4015 1226l5 0 4 4 0 4-2 0-6-2zM3686 1224l3 2 1 6-3 2-3-1-2-4 2-4zM3846 1223l3 2-3 3-2-2zM3938 1224l4-2 2 4-4 2-2-1zM4056 1222l4 0 0 4-4 0zM4163 1222l5 0 0 4-4 0zM3728 1218l4 2-1 3-4-1zM4099 1218l4-1 1 3-4 1zM3696 1216l4 2 0 2-4 4-4-4 2-4zM3722 1214l2 2 0 2-4 2-2-2zM3636 1216l2-2 4 0 2 2 2 2-6 2-2 0zM3861 1213l5-1 0 4-4 0zM3986 1210l4 0 0 6-5-2zM3660 1210l4 0 1 3-4 1zM3772 1204l4 4-2 3-2 1-2-2 0-4zM3370 1204l2 0 1 3-3 3-2-2 0-2zM3708 1202l2 2 0 3-2 2-4-4 0-3zM3925 1200l3 0 4 2 0 2-2 3-4-1-2-4zM3738 1200l4 4-2 7-4 1-6-2 0-4 3-4zM3592 1200l5 0 3 4-1 2-7 0-1-3zM4018 1198l3 2-3 4-2-2zM4049 1198l4-2 3 4-4 2zM3716 1194l3 2-1 3-2 1-2-2 0-2zM3682 1195l2 3-5 4-1 4-5 1-1-5 4-2 2-5zM3744 1194l-1 4-5 2-2-1 0-4 6-3zM3926 1184l2 0 0 3-2 3-2-1-1-3zM3744 1184l2 2-2 2-3-2zM4014 1182l2 2 0 4-2 0-4-2zM3372 1180l2-1 4 3 4 1 0 5-10 0zM3932 1178l2 2-2 4-3-2zM4128 1175l2 1 1 4-1 2-3 0-3-1 0-3zM4052 1174l3 2-3 4-2-2zM3742 1172l3-2 2 2 3-1 2 1 0 3-3 3-3-3-2 0zM3825 1166l4 1-1 4-4-1zM3846 1167l2-2 4 3 2-2 2 3-2 2-2-1-4 1-2-1zM3886 1166l0 2-2 2-3 0-3-2 4-4zM3672 1163l4 1 0 4-4-2zM3829 1159l2 1 1 2-4 3-2-3zM3957 1158l3 4-4 2-2-3zM4152 1158l4 2-1 4-5-2zM4108 1159l4-1 0 4-4 0zM3855 1158l3 2-4 3-2-3zM3997 1156l3 2-3 3-3-2zM3369 1156l3 0 2 3 6 0 2 5-1 5 5 4-1 6-3 0-6-7-2 1-2 3-6 2-5 0-1-5 6-1 2-4 3-2-3-6zM3904 1154l4 0 2 5 7 3 3 2-1 2-4 4-13-7-1-3zM4071 1151l3 2-1 3-2 0-3-2 1-2zM3365 1150l1 6-3 5-7 1-2-2 2-3 0-5 4-2zM3847 1150l-1 4-4 2-2 0 0-4 5-2zM3941 1146l3 4-4 2-2-1 0-3zM3924 1149l2-3 7 2 1 2-2 2-6 1-2-1zM3908 1146l6 0 0 4-4 2-2-4zM3868 1142l4 4-4 2-2 0 0-3zM3816 1142l5 3-1 3-3 2-2 0-1-5zM3608 1142l0 2-3 4-5 0-2-2 1-4 5-2zM3786 1140l4 4 2 8-4 4-3-2-3-8 0-3zM3982 1136l2-1 4-1 2 2 1 2-3 2-3 0zM4153 1134l4 2-1 4-4-2zM3922 1135l4-2 2 3-4 2zM3816 1133l2 2-2 3-3-2zM3876 1132l4 0 6-3 3-1 3 2-3 7 1 3 2 0 5-5 4 5-1 2-10 6-6-2-2-6-8-4 0-2zM3912 1128l4 0 1 4-5 0zM3953 1125l1 3-4 6-4 0-1-2 1-4 4-3zM4117 1124l3 0 5 3 1 3-4 4-2 0-2-2-2-5zM3988 1124l3 2-3 3-2-1 0-2zM4151 1121l3 2-3 3-3-2zM3843 1122l3 0 4 4 0 2-2 2-3 0-4-6zM3862 1120l2 0 1 4-3 2-2-1 0-3zM3346 1120l6 0 0 7-3 0-3-3zM3882 1118l3 2 1 3-2 2-3 1-3-2-2-3zM3956 1116l4 0 3 2 1 6-1 2-5 0-3-6zM3927 1119l-1 3-4 0-3 2-7-3 0-3 4 0 4-4zM4164 1112l2 2 0 2-2 2-2 0-1-3zM3848 1112l2-1 5 3 1 4-8 1zM3884 1110l4 0 0 2 5 2 1 3-3 3-5 0 0-4-2-3zM3840 1110l3 2-1 4-2 0-3-3zM4042 1109l2 3-2 4-2-1-1-3zM3822 1106l4 0 2 2-3 2-3 0zM3606 1105l8 1 2 2 0 3-5 3 1 7-2 2-6-4-2-4 1-7zM3967 1110l-1 2-6-1-5 5-4-4 1-5 8-3zM4110 1104l4 1 0 3-4 0zM4018 1102l2 3-3 4-2-1-1-3zM3737 1102l5 1-1 4-4-1zM4031 1098l3 2-3 4-3-2zM3876 1104l0-3 6-3 8 2 2 2-2 2-2 0-4 4-4 0-2 0zM3842 1096l4 2 0 3-4-1zM3896 1096l4-2 7 2 2 1 1 5 6 2 0 4-6 2 0 4-2 4-4 0 0-2 1-8-5-1-5-6zM3676 1096l5 0 1 4-5 0zM3926 1098l2-2 4 0 4-2 4 0 6 4 0 2 4 2 0 2-3 4-3 0-1-6-3-1-3 3 0 6-3 1-5-3zM3608 1092l3 2 0 6-5 2-2-1 0-3 2-4zM3825 1092l5 3-1 5-3 2-4-2-1-2 1-4zM3716 1090l2 2 0 2-2 2-4-3 1-3zM3992 1088l0 4-4 2-3 0-1-2 0-3 6-1zM3870 1086l4 0 2 2 2 6-2 2-4 0-3-6zM4016 1085l5-1 1 3-2 2-3-1zM3908 1090l2-4 4-2 7 1 3 5 4 0 0-4 2-2 4 0 1 2-3 4-4 1 0 3-2 2-4 0-3-2-5 2zM3848 1082l1 3-1 2-6 0 0 1 2 6 0 2-3 0-5-1 0-7 6-6zM3951 1082l5 0 1 2 3 2 0 4-6 0-4-6zM4034 1080l4-2 4 1 0 3-5 2-3-1zM3730 1070l3 2-3 3-2-1 0-2zM4173 1068l3 2-3 2-3-2zM3968 1069l5-1 3 3-1 3-2 0-4-2zM3653 1068l1 3-5 6-3 0-2-3 4-6zM3654 1068l2-2 4 2 0 4-2 1-3-1zM3799 1071l5-2 6 0 6 3 3-6 6 2 1 4-4 1-2 3 2 6 2 0 2 5 0 3-2 0-4-1-2-6-2-1-4-6-4 0-3 2-5-1zM3791 1066l4-1 1 3-4 1zM3620 1064l3 2-3 2-2-2zM3648 1063l2 2 0 3-2 0-3-2 1-2zM4044 1062l3 2-3 4-2-2zM4090 1062l2 3-3 3-2-2-1-2zM3847 1058l5 0 2 5 0 3-4 1 3 9-3 3-4-3 0-4-2-1-2 1-2-2 0-5 4-3 1-3zM3805 1058l3 3-4 3-2-2 0-2zM3738 1058l2 3-3 3-3-3zM3956 1056l6 4 0 2-8 6-3-3 3-9zM3722 1052l0 4-4 4-3 0-1-4 5-4zM3829 1053l1 3-6 4-3 0-2-3 1-3 2-2zM4141 1050l1 3-3 4-5 1-4-2 1-5 5-1zM3962 1050l4 0 4 4 1 2-3 4-4 0 0-4-4-4zM3794 1050l2-2 4 0 2 3-1 1-4 1zM3816 1046l2 2 0 3-2 1-3-2 1-2zM3987 1046l3 3 0 3-2 2-4-2 0-4zM3698 1044l4 4 0 2-4 3-4-3 2-6zM4167 1042l3 0 2 4 4 2-1 8-3 0-1-2-4-3zM4001 1041l5 5-2 4-4 1-4-1-1-3zM3636 1037l2 3-4 4-3-2-1-2zM4093 1035l3 3-2 4-4-4 0-2zM3666 1036l4-2 2 4-4 2-2-1zM4152 1034l2 0 2 3-5 3-2-1-1-3zM3653 1033l2 1 1 2-2 4-2 0-2 0-1-4zM3775 1033l4 1 2 4-1 2-4 0-2-4zM3997 1032l1 4-2 3-5 1-1-2 2-5zM3701 1029l2 1 1 2-5 6-2 0-1-4 2-4zM3630 1029l2 1 0 3-3 2-2-1-1-4zM4118 1030l0-1 4-1 3 4-1 1-4 1zM3786 1026l4 4-1 4-3 1-4-4zM4049 1026l3 2 0 5-2 2-6-3 1-4zM4164 1026l4 0 2 4-1 2-5 0zM4153 1025l3 2-3 3-3-2zM4061 1024l3 2 1 2-3 8-2 1-3-2-1-3 2-6zM3812 1022l3 2-1 5-2 1 1 2 5 3-2 4-2 1-4-1 0-5-2-2 2-2-2-5zM3749 1020l3 2-3 3-3-2zM4148 1018l3 2-3 4-4-2 0-2 2-2zM4032 1020l6-2 3 0 3 3-1 5-7 0-4-3zM3654 1021l4-4 7 3 1 4-6 3-4-1zM4025 1018l1 2-4 4-5 2-2 0 0-4 6-5zM4004 1012l3 4-3 3-2-3zM4167 1012l3 3-4 3-2-1 0-3zM4022 1012l2 2-2 2-2-2zM4062 1010l2 4-2 2-3-3 1-3zM4114 1010l0 5-2 3-6-2-5 0-1-2 0-2 3-2 3 1 6-3zM4130 1008l5 0 1 4-5 0zM4126 1008l0 4-4 1-3-2 1-2 2-1zM3691 1008l3 0 2 2 2 4-1 2-5 0-2-4zM4088 1006l6 6-1 7-5 3-2-1-1-3 2-3-1-7zM3724 1007l0 3-4 2 0 2-4 0 0-3 4-1 0-3zM4050 1006l6 0 2 1 1 3-3 2-6 0zM3795 1004l5 4 0 4 4 4-1 2-5 4-2-2-6-6-4 4-2-2 2-5 2-1 2 2 2-2 1-4zM4019 1004l3 2-4 4-2-2zM4007 1001l5 1 0 8-4 0-3-3-1-3zM4137 1001l4-1 1 4-4 0zM3751 1000l5 0 4 1 0 7-4 1-4-2-2-3zM4026 999l6 1 2 2 6 0 0 2-4 2-2 6-3 0-5-6zM3773 998l3 2-2 6-2 0 0 4 6 2 2 4-2 4-8 0-3-1 1-5-4-6 5-3 1-5zM3712 1000l2-2 4 0 3 3-1 1-4 1-3-1zM3673 996l4 0 1 2-2 2-2 0zM4141 995l4 0 1 3-4 2-2-2zM4078 994l4 2-1 4-3 1-3-3zM3651 994l3 2-3 3-3-2zM4114 992l0 2-4 10-6 2-5-2 3-10 8-4zM3630 990l6 6-4 4-1 4-4 2-3-2-1-8 3-6zM3783 988l9 6-3 6 3 4-6 6-6-2 2-4-2-4 2-4-2-4zM4076 990l-2 5-6 5-3-1-3-3-4 0-1-2 1-2 3 0 3-3 6 1 3-2zM3694 988l4 2 0 3-4-1zM3663 988l3 3-4 3-2-2 0-2zM4048 988l0 3-1 5-5 2-2-1 0-5 4-4zM4092 987l3 3-4 4-2-1-1-3zM3652 988l5-4 4 4-4 3-5-1zM3749 982l3 2-3 4-3-2zM3758 982l6 0-1 5-5-1zM3694 978l2 0 2 4-5 5-3-2 0-5zM3765 976l3 0 2 4 2-2 3 1 0 5-3 0-2-3-2 1-2 0zM4112 974l2 2 0 3-2 1-3-2 1-2zM3742 975l0 7-6 0 0-2 2-4zM4017 974l-1 2-6 5-7-3-5 0-2-2 0-2 6-2 4 0 4-2zM4043 978l-1 6-4 2-4-3-11 1-3-4 1-5-2-4 3-2 4 3 5 0 3-4 2 4-4 1 0 3 3 2 4-3zM3703 967l3 4-4 3-2-1 0-3zM3646 964l8-2 3 3 1 4-3 2-3-3-5 0zM3753 960l3 2-3 4-3-2zM4056 960l9 4 3 6-1 3-10-1-2-4zM3632 960l5 0 3 2 3-1 3 3-4 5 6 11-3 6-5 0 0-9-1-1-4 1-3-2 2-4-6-7zM3700 955l4 1 0 4-4-2zM3664 953l2 2-2 3-2-2zM3672 944l-1 4-5 2-6-4 0-2 8-2zM3732 944l4-3 4 1 1 1-1 3-4 2zM3751 938l3 4 0 6-3 0-3 6-4 0-2 3-4 0-1-3 1-2 6-4 0-2-3-3 1-6 4-1zM3744 930l-2 5-7 1-3-2-4 0-4-6 4-3 5 3 4-6 2 2 1 4zM3708 916l2-2 3 2 5 4 0 3-3 1-5 0-3-6zM3726 910l2 2 0 3-2 1-3-2 1-3zM3734 910l4 4-4 4-3-4zM3727 900l-1 4-5 2-2 0 1-4 2 0 3-2zM3710 898l4 5-3 3-5-4 0-2zM3702 897l4 4-4 3-2 0-1-4zM3664 876l2 1 0 3-4 4-2-1-2-3zM578 1060l0 1 4 7 2 0 4-2 6 4-4 8-4 0-2 4-4 2 4 5 0 5-5 2 3 12-4 2-6-5-6 1-2 2 2 4-1 4-5 3-3 3-7 1 1 9-5 5 2 4-2 4 2 9-2 2 0 4-4 3 2 8 4 3-2 6 4 3 0 5 2 0 2 2-3 3-2-1 0-2-4-2-3 3 3 5 4 0 3 4-3 5-4 3 1 4-2 6 2 3-4 5 0 5 4 5-3 4 3 6-4 10 3 11-2 5-1 10 4 4-4 10 2 5-2 4 0 6 4 4 0 5 0 2-4 2 2 5-2 3 1 4-1 2 1 8-1 9 4 9-4 4 3 12-3 6 0 8 4 6 0 5-2 3 2 4-2 5 7 9-2 2-5 0-2 2 1 3 5 1 1 6-1 3-4 1 0 4-2 2 2 4 4 2 4 6-2 3 0 3 2 0 2-4 2-2 6 4-2 8 2 8-4 4 0 8-2 2-4-4-6 0-2 2 0 2 4 4-1 4 2 2-1 6-4 4 2 2 2 0 2-5 6-5-4-4 0-4 4-5 4 2 4 0 4-6 0-2-4-1 0-4 2-1 4 2 2-2-2-3-4 0-1-2-1-4 2-2-2-4 1-3 4-3 2-6 3 0 3 4 2-2 0-2-4-2-2-3-5-1-4 3-3-2-5 1 0-6 4-1 4 1 2-3 4-1 2-4 2-1 4 6 2-2 1-7 3-1 4 3 0 4 4 1 1-3-3-6 3-2 3 0 3 4 3 1 2 3-3 4 1 3 6 1 4-3 4 2-2 9-4 8-6 0-2 2 2 2 3 2 0 5 3 2 3 7 7-2 0-7-2-3-6 2-1-3-4-1-1-2 3-2 3 1 0 3 3 0 1-2 0-5 4-3-2-7 8-1 2 2 7 4 1 2-3 4-10 0-1 2 2 2 3-2 2 1 2 3-1 2 10-2 5 0 1 4-2 6 2 2 4 1 2 3-1 4-5 2 0 2 4 1 4-5 3 3-2 5-6 7 1 5 2 2 2-2 0-5 5-5 2 1 2 5 7-2 0 6 2 1 2 3 6 2 2 3-2 5 0 4-7 0-1 3 2 1 4-1 4 1 6-2 4 4 4 0-1-3 1-2 4-1 2 0 0 4-6 2 0 4-3 0-1-2-3 4 5 6 0 13-6 15-6 0-2 3 3 3 5 0 2 4 0 5 8 1 4-6 4-1 0-3-6-2 2-4 4-2 2-2 0-6-1-3-3-2 0-3 0-2 6 0 1-3 3 0 1 3-1 5 1 2 3-2 4 1 2 4-4 3-5-4-3 3 2 2 4 2 0 4-3 4 1 4-2 6-4 4 0 3-3 4 1 2 4 1 3-6 1-4 4-1 2 5-2 6 4 3 2 6 2 0 2-5 4 0 3 6 0 2 3 2 2-1-2-5 2-2 2 0 2 3 4 3 0 5-2 3 2 2 5 2 1-2 0-4 5-2 9 7 0 7 8 0 0-2-4-4 1-6-3-8 4-5 0-3 4-1 0 3-2 2 1 2 4 2 3 4 5 2 2-2-1-4 2-4-1-2-4 2-3-2 4-16 12-2 4 1 1 3-3 5-4 3 0 1 4 1 6-6-2-6 7-2-1-4-8 0-1-6 2-2-1-4-5 0-5-5-3 2-5-1-2-4 0-2 6-6 3-1 5 4 4-3 5 4 5-2 2 1 4-1 1-2-3-4 2-4-3-7 6-3 0-5-3-4 0-4-4-1-2-4 2-2 4 0 4 4 2 5 4 1 4 3 2-2-2-5 0-4-2-2-4 2-2 0 0-11 2-3 2 0 8 10 1 0 2-2-8-9 1-3 4-1 2-3-4-2-2 2-4-2-3 0-3-4-4-2-2-2 6-3 10 5 2-4-5-3 3-8-6-2 0-5 6-2 4 2 2 3 5 1 1 4 3 0 1-3-1-1-4 0-1-6 6-3 0-5 6 0 2-4-1-2-5 0-2 2-1 6-3 0-5-2-3 4-4 0-1-4 3-3 0-3 2-2 2-4-4-10 4-4 0-4 4-4 3 2-1 3 1 3 5 0 2-4 4 0 2-4 2-2 4 1 2 5 4-2-2-4-4 0 0-3-4-1-2 6-4 0-4 4-2-2 1-6-6-3 3-6 3-3 5 0 4 4 4-4-2-4-2 0-5-4 1-6 6-8 0-2-6-2 0-4-4-2-1-3 3-2 2 1 4 4 2 0 1-4-4-1-1-3 6-6 4 0 6 10 2-2 1-4 5-2 0-3-4-3 0-5 2-3-1-2-5 1-3-1-4 4-3-2-1-2 3-5 10-4 10-17-6-4-2 0-2 4 2 0 2 4-2 4-8 8-5 0-3-5 0-2 3-1 4 0 3-3 2-5-3 0-3-4-4 1-3-1-5-7 0-4 3-2 6 7 7-1 4 3 4 0 4-6 4 0 5 3 1 5 4 4 2 0 1-4-5-4 0-4 7 0 5 2 1-4-6-2 1-6-4-2-6-8-4 2-7 0-1-4 2-4 6-3 0-4-4-3 0-4 6-2 0-6 6 2 2-4 4 0 2 4-2 2 2 5-1 7-3 3 0 3-2 3 2 4 2 1 3-2-2-4 1-7 6-6 6 3-1 2-4 2 3 8 2-2 0-6 6-1 4 5-2 4 4 2 1-2-3-4 2-4 3 0 3 3 3-3 6-2 1-2-4-2-4-4-3 2-3 0-2-2 2-5-2-1-2 1 0 4-2 4-8 1-1-4 6-8-3-2-4 4-4-2 0-4 2 0 3-6 4-2 5 2 3 4 7 2 3 5 3-1 4 3 2-2-2-6 4-3 0-7 6-6 3 1 5 6-4 8-6 0 1 4-3 4 8 12-2 6 0 2 11 0 3-4 5-1 5 4 3-5 5 0 4-8-6-4 0-6 4-4-1-6 3-1 6 5-1 4 5 6 0 10 6 1 3 3 3 0 4 2 2-1 2 1 0 4-6 4 1 4-2 3 5 9 1 4 3 2-8 10 0 2 4 2 2 4-8 4-4-4-2 0-2 4 6 2 2 4 4-2 2 2 4 6-2 8 2 2 5-8 5-3 0-5 4 0 7 2 1 10-4 0-2 2-6 2 4 5 2-3 4 4-2 2-4-2-2 3 1 3 3 1 2 5 4 0 2 2-1 2-4 2 0 4 3 2 3-4 4-1 2 1 5-3 2 2 2 4 5 0 3 2-2 3-8 4-8 9 2 3 5-2 3 2 0 6 4-1 2 2-2 5 0 3-4 3 3 4-1 4 2 1 6 1 2-2 2-6 7 0 2 2 1 4 4 2 0 3 6-1 4 4 4 1 4-3 4 0 2 7 0 2-4 2-4-5-3 4 2 2 3-2 2 2 4 6-2 4 1 3 3 1 0-2 0-6 2-6-2-4 3-3 3 1 0 4 4 1 2 3-5 6 7 6 4-4 4 3 0 2-4 5-4 2-2 0-2 4-4 3-4 0-7-5-4 0-1 5-4 2 2 4 3-1 0-4 3-2 2 2 2 4 11-2 3-5 6-1 6-8 7 0 6 7 1 5 2 1 3-1 3 4-2 3-4-2-3 1 1 4 5 0 1 2-2 4 2 2 4-8 4-2-4-4 0-2 4-2 8-8 2 0 2 2-3 4 1 2 4 1 3 3 3-2-2-3-4-1-1-2 3-4-1-2 2-5 4-3 2 2 2 4 5 2 0 2-4 8 6 1 2 6 6-5 8 2 0 2-5 8 7 8 5-6 4 4 3-2 0-14 3 0 3 2 2-2-4-5 4-6-4-3 0-3 4-2 4 4 5-1 1 6-5 4 3 3 2 6-6 5-5 1-2 4 7 1 3 3 3-2 0-4 8 1 8 12 4 2 4-2-1-2-7-3 0-4 6-2 4 3 4 0 2 4-6 4 3 8-7 2 2 5-4 3-1 2 3 2 6-5 4 2 0 5 3 1 1-5-3 0 0-4 3-2 2 1 0 4 4-1 2-4 2-2 0-6 2-1 2 1 2 6-2 4 2 5-1 1-4 1-1 3 4 2 0 2-4 4-6-2-2 2 0 2 5 4 8 0 3 4-1 8-3 3 0 3 3 0 2-2 3 0 2 3-2 4 2 1 2-1 0-5 1-4-4-2-3-6 2-4-2-4 0-5 8-1 2 4 8-1 4-3 4 2 0 4-2 3-4 2-4-1-2 4-4 2 1 3 6 1 3-7 2 0 3 2 2-1 2-4-2-6 3-4 0-3 2-1 3 0 0 8 3 2 1 2-5 8-4 0 0 4 2 1 6-3 4 5 4-1 3 4 2 0 2-4 3-2 4 2 4-4 8 2 2-1 4 1 0 4-5 0-1 6-3 2-3 0-4-3-4 5 0 2 3 4 4 0 5-2 2 2 4-2 6 4 4-1 4 3 4 0 1 4 3 2 4 4 0 2-3 2-4-2-5 5-2-2 0-3-3-2-3-5-6 3-4-1-3-3-10 4-5-3-2 5 3 0 3-2 4 2 5-2 3 1 0 5-3 0-2 3 4 3 3-2 0-5 4-1 2 0 1 2-3 4 1 6 5 4-2 5 5 4-1 9 2 1 2-1 2-6 7 2 1-4 4-2 7 4 1 3-4 5 5 6-1 4 1 2 9-4 3 0 3-2-3-5 0-3-3-3 1-4-1-1-4 0-3-6 7-9 0-3-4 0-2-8 4-5 2 0 2-2-2-4 2-4-2-4 0-8-4-2-2-4 2-3 6 1 4-5 0-14-4-4 4-5 0-3-2-5 2-11-3-4 2-10-3-2 0-5 4-3-2-10 2-4-2-6 2-15-2-9 2-4-2-4 2-6-6-4 6-9-2-3 2-4-2-7-4-3 2-6 4-2 0-9-2-4 1-4-5-3 0-4 6-1 0-4-3-5 3-4 0-9-4-8 4-7-4-6 0-9-2-4 0-3 4 0 2-3-4-3 2-6 0-11-2-1-4 2-5-4 1-3 4-2 4 1 3-3 1-16-4-1-2 4 0 3-2 5-2 1-4-3 4-5-1-3 4-8 3-2 2-8 0-6-3-6 3-8-3-4 3-6-3-1-3 2-4-1-2 2 3 10-3 4 4 4-2 4-4 2-6-2-2-2 0-4-3-2-1 2 1 6-2 1-4-1-1 1 1 6-7 1 0-6-2-1-4 0 0-5 2-3 0-5 4-1 2-3-2-2-4 0-2-5-4 3-7 2-1-4 4-4 0-2-2-1-5 1-1-6-2-3 0-7 6-3-2-4-4 3-8-1-3 5-7 1-4-1-1 2 1 3 7 0 0 3-3 3 1 3 5 0 4 4 2 0 3 2-1 6-6 10-8 2-1-3 3-2 0-3-2-2 0-4-3-5-8-4-1-4 4-3 0-3-5 1-3-2 2-6-3-2-3 2-4 1-6-5-1 2 1 3 4 1 2 1-2 3-4 2-8-8 4-5 0-5 2-3-4-4 0-3 4-2 10 1 0 5-2 4 2 2 5-8-1-3-4 0-3-5-5 0-2 2-3 0-1-4-3 0-4 9-10 3-6-4-5 6-4 0-2-4 2-8 3-4 5 2 2-4-2-2-8-1 0-9 2-4 5-4 2-4-3-2-2 4-4 0-4 6-5-2-1 2-1 4-3 2-3-1-1-3-8-2 0-4 13-4 1-6 7-2-1-4-5 0-1-4-3-2-1 4 3 3-1 5-4 4-8 2-4-4-5-1 0 3-3 0 0 4-3 2-1 9-4 3-3-4-2-6 2-8 3-2 7 1 1-3 2 0 0-6 4-2-7-9-8-1 1 5 0 5-5 0-3 2-3-2 1-5 4-5 4 0-2-5-3 1-5-4-7 4 1 3 4 0 2 2-2 5 0 4-2 2-6-2-4-5-4 3-2-2-10 0-4-3 0-3 4-1 2-2 0-3 1-4 3 0 6 6 3 0 0-4 3-2 1-3-5-2 0-3 4-3 1-5 3 0 3 4 6-1 1 3-2 3 4 1 1-2-2-4 3-3-2-5 2-2 3 0 3-5 0-2-2-1-4 5-4 1-3 3-5 1-2 2-4-2-4 4-3 0-7-8 4-8 3 1 0 5 1 2 5-1 3 2 2-1 0-3-9-4-1-5-6-2-8-10-4 2-1 2 2 2 4 0 3 4 2 0 2 4-4 4-2 0-2 5-2 1-5-2-2-4-3 0-1 14-3 4 4 2 2 6 2 0 4-4 2 2-1 3 1 5 0 2-5 0-1 3 2 9 7 5-1 3-4 0-4 2-4-4-4 2-6-2-2-2-8-2-2-4-4-2 1-3 5 1 2-2-5-6 1-4 5 0 1-2-2-4 2-4-1-4-1-2-5 0-5-4 0-5-2-3 0-4 2-2 5 2 5-4 4 2 2-3-2-2-6 3-3-1-3-7 2-5-2-1-6 0-2-6-3 2 0 5-3 2-3-1-3 6-6 0-2 4-8 1 0 3 3 2-1 8 4 2 1 2-5 4-8-5-2 2 0 5-2 0-2 4 4 1 2-1 0-5 3-1 3 4-1 6-5 4-4-2-6 0 0-2 2-4-5-2-5-8 4-4 2 2 3 4 2 0 1-3-5-7-7 2-6-6 2-2 0-4 2-2 4 4 4 2 4-2 4 3 3-1-3-6 3-2 3 0 1-3-5-2-3-5 1-6-2-2-2 4-5 0-6 2-5-4-2 2 2 4 3-2 4 4 5-2 4 1 2 5 0 2-11 4-4-4-5 0-3-4-4 2-5-2-2 2-4 0-2-2 0-3-4-3-2-5-6 0 0-3 2-2 5 2 3-4 5 0 7-4 2-4-3-1-3 3-6 2-2 0-1-4-3 0-2-4-6-4-4-4-7 4-3-2 0-4 4-1 1-3-5-4 4-6 4-2 0-3-2-2 0-4-6-2-3-3-6 0-1 4-4 0-1-4 1-2 3 0 1-6-5-3-4-7 3-4 4 5 10 1 0 3-3 5 7 2 3-2-3-8 2-10-2-2-4 1-4-1-2 1 0 5-5 0-3-1 2-12 0-1 4 0 2-4-4-2-2 6-4 0 0-3 1-5 3-2-1-3-5-2-2 3-4 0-3-2-3 1-2-3 4-6 4 0 2-4 2-6-2-2-7 0-8-4-4 3-4 1-3-2 0-8-10 0 0-2 2-3 0-4 6-2-2-3-2-1 0-5-1-2-3 0-2 4-5 3-3-1-4 2-4-2-3 0-1-5-2-3 1-5-11-7-2 2-7-2 2 6 5-2 2 3 0 3-3 2-5-3-2 1-4 4 0 4-2 2-8-6-4 0-2-3-2-1-2 4 8 8-2 6 0 5-4 2-6-3 0-6-2-2-6 4 0 2 4 7 6 0 6 5 4 10 0 2-6 0-3-6-11 6-9-5 1-4-2-3-5 3-1 3 4 3 2 5 3 0 3 1 2 7-3 2-3-4-3-1-3 6 2 5-6 6-6-1-2-2 1-2 6-5 0-2-3-1-6 4 2 5-3 4-4 2 2 7-3 2-2-1-2 2 4 4 0 5 3 3-1 10-7 2-2 0-1-4 4-3 0-5-2-2-5 2-5-4-4 6 2 3 6 3 0 7 4-1 6 4-1 4 3 3 0 3-4 2-6-5-6 5 2 4 0 2-7 4-3-2 2-4-3-7-9-1-2 2 2 2 6 2 1 4 4 4-1 10 1 2 4-2-1-4 2-4 2 0 2 4-3 4 3 3 4 0 2 3 0 3-5 3-3 6-4 0 0-4-2-2-4 2 2 6 3 2 1 5-2 3-2 4-2 1-3-1-1 4 8 6 0 4-4 2-2-2-2 2-6-4-4 2 1 4 5-2 3 1 1 5-4 4 2 2 7 2 1 2-2 3-4 2 0 8-4 3-3-2-7 0-2 2 2 4-3 4 1 3-2 5 4 2 0 3-3 1-5-4-4 2 2 4 8 4 2 3-6 7-4 0-2 3 4 4-2 7 4 2 2-5 6 1 1 3 9 5 1 4-1 2-3 2-10-8-5 6 0 10-11-2-2-2-3 0 0 4 8 4-4 9 3 1 4-5 4 1 3 5 3 1 0-4 3-1 2 1 0 2-1 2-3 0 0 5-2 2-2-1-3-4-5-1-2 2 2 4-5 3 1 6-2 5-2 1-4-2-3 10-3 1-3-1-3-5-3 3 3 3 1 3 5 4 0 4-5 4-4 0-3 6-4 2 0 4-4 6-4 0-4-4-2 2 2 2 3 1 1 3 4 2 2 5 6 0 0 4-1 3-6 0-5-4-2 3-4 0-4-4-4 0-2-3 1-6-3-2-2 2-3 0-3-6-8 4-2 10-4-1 0-6-2-5-4 2-2-1-2-5 0-5-2-3 0-2 6-6-2-4 2-6-2-2-4 0-2-4 4-5 0-2-2-1-2 2-5 0-5-4-6 1-2-4-4-2-4-9 2-2 4 0 4 4 2-4-2-1-4 0-2-4-2-1-4-12 0-4-6-4-4-8 3-2 4 0 7 4 0 6 1 2 3-2 2-4-6-7-6-1-3-2-6 1-1 3 2 2-2 2-2-1 0-3-4-2-1-2 3-7-1-5-1-2-7 1-1-4-2-3 0-2 4-3 0-2-5-2-1-5 2-2 3 0 1-2 0-2-2-1-3 1-4-2-5 2-4-2-2-4 6-4-2-4-3 2-1 6-4 0-3-4-3 4 7 4-1 6 2 2 10-5 3 2 1 2-6 7-10 3-3-1 0-6-5-6-4 1 0 7-8-1-2-3 4-4-2-4 3-6 6 0-1-6 7-6-1-4-4 0-5-4-3 4-4 2 1 4-5 5-3-2-5 0 1-8-3-1-4 8-2 0-3 4-3 0-4-6-1-3 3-2 4 4 2-2-2-5 6-9-4-3 0-4-2-1-4 2-4-3-2-4zM1424 1618l4 4-2 4-2 1-6-3 1-2zM764 1601l3 2-3 3-2-2zM1408 1595l2 3-4 4 0 4-4 10-3 2-5-4-2-2 4-6-6-2 0-6 5 0 4-3 3 3 4-3zM1414 1594l4 0 1 3-5 1zM744 1584l5 4 1 3-9 5-3-4 3-3 1-4zM774 1580l3 2-3 4-2-2zM769 1580l3 2-3 3-3-2zM1421 1580l1 2-2 6-9 2-1-2 2-4 4-1 2-3zM696 1576l2 3-3 3-3-4zM794 1572l2 2-2 4-2-2zM1415 1572l1 5-4 3-4 0 0-5 4-3zM726 1568l1 6-3 3-4 0 0-5 4-4zM698 1566l2 4-4 2-2-2zM1414 1566l2 2-2 2-3-2zM748 1566l0 4-5 2-2-2-1-2 2-2zM1388 1564l0 4-4 2-2-2 0-2 2-2zM1406 1563l3 0 2 2-1 4-4-1-2-3zM700 1554l3 2-1 5-2 2-2-1 0-6zM1354 1546l2 3-3 3-3-3zM812 1545l5 5-4 4-4-3 0-3zM1382 1540l2 2-2 3-2-2zM1416 1538l4 0 2 2 1 2-2 2-3 1-3-1zM1366 1537l4 3-2 4 2 2 0 3-2 1-2-1 0-4-2-1-2-4 2-2zM708 1528l4 0 2 2 0 4-7-2zM725 1524l3 2-2 4-2 1-2-1 0-4zM754 1522l4 0 0 6-2 0-3-2-1-2zM1325 1518l2 4-5 4 2 6-8 2-2-10 5-2 2-3zM1329 1523l2-4 3-1 6 0 2 2-5 6-5 0zM686 1516l2 2-2 3-2-2zM1356 1515l4 1-1 4-4-2zM688 1514l6 0 3 2 0 3-2 1-6-2zM1408 1515l0 3-2 1-5-3-4 2-3-2 0-3 2-1 4 1 2-1zM1312 1508l4 3-1 3-2 2-4-4zM1288 1506l3 4-3 4-4-3 0-3zM1294 1506l2 2-2 3-2-2zM1408 1504l4 2 0 4-3 0-1-2zM765 1502l3 0 4 5-2 3-4-2-2-4zM1392 1497l1 4-3 3-4 0 0-4 3-3zM682 1498l4-3 5 3 1 2-2 2-7-2zM816 1494l4 3 0 5-3 2-2 0-3-4zM1329 1494l5 4-2 7-2 1-2-1-3-8 1-3zM1336 1492l4 0 4 4 0 2-2 2-6-2zM698 1490l3 2-3 2-2-2zM1350 1488l8 0 2 7 7 8-3 8-3-1-1-6-2-2-4 2-4-1 0-3 5-4-3-3-2 1-2 0 0-2zM690 1486l2 2-1 4-3 0-3-4zM790 1483l0 2-2 3-4 0-2-2 2-3zM1228 1480l2 2-1 2-5 1-1-5zM662 1478l4 0 3 4-1 4-4 0-3-2-1-4zM808 1476l2 2 0 6-6 0-1-4zM1262 1474l6 8-2 5-2 1-4 0-4-5 1-5zM1306 1474l4 0 1 4-4 0zM820 1468l2 1 2 3 0 2-4 4-3-2 0-6zM662 1470l6-5 8 3 3 4-4 4-7 1-2-1zM1302 1462l2 3 0 5-3 2-3-2-2-4zM1290 1463l1 5-2 2-6 0 1 8-2 1-4-2-2-7 4-2 1-5zM728 1460l1 2-1 2-6 0 1-3zM713 1460l1 2-4 2-4 0 0-2 3-3zM660 1459l1 2-1 3-6 0 0-4zM805 1458l5 0 0 4-5 0zM641 1458l2-1 5 2 2 5 4 0 0 4-2 1-3-1-5 0-3-6zM1269 1456l3 2-1 5-1 2-5 0-1-4 2-4zM666 1456l3 2-1 4-2 0-2-2 0-2zM1340 1456l4 0 1 4-5 0zM764 1453l2 1 0 3-4 4 1 3-3 2-2 0 0-3 2-2 0-5zM1252 1452l4 1 2 3 0 4-4 0-2-3zM556 1452l2 2-2 2-2-2zM818 1452l3 0 2 2-1 4-4-1-1-3zM1177 1450l1 2-2 6-8 2 0-4 4-6zM1250 1449l1 3-4 2-2 5-3 0-4-5 0-4 2 0 4 2 2-3zM750 1448l2 2-2 4-2-2zM644 1446l4 2 0 2-1 4-3 0-2-1-1-4zM1208 1446l3 2 0 8 10 0 3 7-6 5-2 0-2 3-4 1-4 4-2-1-1-3 7-11 0-3-8-1-2-7zM1194 1446l0 4-6 4-2 4-4 0 0-8 4-3zM1150 1449l4 0 4-3 6 0 2 4-4 12 4 5 3 1-1 4-6 0-4-3 0-4-6-3 0-4-4-2zM653 1445l3 2-3 3-3-2zM701 1444l2 1 1 3-4 2-2-4zM1220 1445l3-1 9 2 0 6-7 1-1-3-4-2zM1291 1443l3 0 4 3-2 8-10-3 0-3zM1141 1441l3 3 1 6-7 4-6-2-1-4 3-2 2-4zM1171 1438l5 1 0 5-5 0zM822 1437l4 3 0 2-4 2-4-2 1-3zM1276 1437l4 1-1 4-5 0 0-3zM1148 1434l3 2-3 3-2-2zM1420 1434l4 0 1 4-4 0zM1214 1434l-4 6-5 0-3 3-6-3-2-4 1-2 8-2 5 0 2-1zM1158 1431l3 2-3 3-2-2zM1178 1432l5-1 1 4-5 1zM1255 1431l1 3-4 4-7 0-1-3 0-3 6 0 3-2zM1235 1429l5 1-1 4-5-1zM559 1428l1 4-4 2-2 0 0-5zM1146 1428l5 0 1 4-4 0-2-2zM662 1427l2 3-3 8-2 2-3-2 0-6zM640 1426l2 2-2 4-2-2zM1127 1426l3 4 0 2-2 1-3-1-3-2 2-3zM828 1425l2 1 0 2-3 3-3-3zM570 1424l0 3-2 3 0 4-3 2-3 0-1-4 4-2 0-4zM1258 1424l2 2-2 2-2-2zM606 1426l10-4 3 2-1 8 2 2 6-4 6 2 2 6 5-3 3 4-4 5-9 4-2-1-2-5-9 2-2-1-2-5-4 2-2 0-2-2 2-4-2-3zM1112 1423l-2 3-4-1-4 3-4-4 1-2 3-1 4 1 2-2zM1202 1420l4 1 2 3-2 2-4 0-1-4zM1291 1418l1 2 0 4-4 2-2 0-2-3 2-5zM563 1418l3 0 3 2 0 2-3 1-3-2zM1178 1415l3 2-1 3-2 1-2-2 0-3zM840 1415l4 1-1 4-4-2zM1194 1414l2 2-2 3-2-2zM584 1416l4-4 6 2 4 2 4-2 4 0 0 10-6 3-3 0-4-3-2-4-7-1zM1146 1412l2 1 1 3-5 6-2 0 0-4 2-5zM1114 1415l2-3 4 0 4 4 4 0 2 4-3 2-3-2-6 2-2-2zM1250 1412l4 0 0 4-4 0zM1232 1410l2 2 0 2-4 4-2-3zM660 1416l-2 4-6 0-2-4-8 2-4 5-2-2 2-7 7-2 7-2zM1096 1414l6-4 6 2 1 3-1 1-6 2-4-2zM1082 1410l1 4-5 3 0 5-6 0 0-7 4-5zM1156 1408l3 2-1 3-2 1-2-2 0-2zM672 1409l4 1 0 4-4 0zM638 1410l0 3-5 1-1 5-6 0-2-5 2-2 6-1 2-3zM572 1406l4 0 3 3 0 7 4 4-1 6-4 0-4-3-3-11zM780 1404l3 2-3 2-2-2zM832 1401l2 2-2 3-2-2zM1372 1398l2 2-2 4-3-2zM614 1398l2 0 2 4-2 2-4 1-2-3 0-2zM848 1398l5 0 1 3-2 2-4-1-1-2zM1134 1398l0 4-6 4-4 2-3-2 0-4 4-4 6-1zM1169 1397l4 1-1 4-4-1zM1217 1396l3 0 0 4-3 0zM1195 1396l5 0 4 2 0 4-2 2-4 0-4-4zM1089 1396l-1 6-6-2-2 4-6 0 0-2 2-5 5 0 4-2zM702 1395l5-1 1 3-2 2-3-1zM600 1393l2 2 0 7-2 3-2 1-4-3 2-3 0-4zM1101 1392l3 2 2 4 0 2-2 1 2 3-3 3-3-2 0-3 2-1-4-3-2 2-3-2 1-4 4 0zM1066 1392l2 2 0 2-2 1-2-2 0-3zM818 1390l4 3-1 3-2 1-3-2 0-3zM1078 1390l-2 6-6-1 0-2 2-3zM1252 1380l4 2 0 2-3 2-3-4zM572 1382l2-2 5 0 2 0 1 4-6 3-4-1zM1129 1378l1 3-4 7-4 1-3-5 2-4 5-2zM1154 1379l2-2 6 2 1 3-1 1-5 1-2-2zM1101 1378l3 0 3 4 7 3 0 5-4 2-5-4-5 0-2-5zM596 1377l2 2 2 3-2 6-2 1-3-2 1-3-1-5zM828 1375l4 3 0 2-4 2-4-2 2-4zM792 1375l3-1 3 2 1 4-6 0zM1083 1374l5 0 0 9-7-1zM1196 1371l2 2-2 3-3-2zM748 1367l2 2 0 3-6 0 0-3zM1336 1366l0 4-5 2-1-6zM767 1364l3 2 0 3-2 1-4-2 0-2zM1190 1364l5 0 1 4-4 0zM1102 1359l1 2-3 3-4 0 0-4 4-2zM615 1360l5-3 2 1 2 2-1 2-5 2zM1074 1356l0 4-2 4-10 1-2-3 0-3 7 1 2-5zM602 1354l2 2 1 2-3 2-2-2zM1308 1354l3 2-1 3-2 1-2-2 0-4zM862 1352l2 3-3 4-2-1-1-4zM870 1352l4 0 4 6-2 2-7-2zM842 1349l7-2 3 1 2 6 0 2-3 2-7-2-2-3zM1105 1347l3 0 2 2 0 3-5 0zM706 1346l2 2-2 2-2-2zM1115 1344l3 2-3 4-3-2zM828 1344l4 1 0 4-4-1zM1084 1343l6 3 2 4-6 5-3 1-3-4 3-2-1-5zM1292 1342l3 2-3 4-2-2zM618 1342l4 0-1 4-5 0zM1068 1340l2 2 0 4-3 2-2-2-1-3zM1297 1334l5 0 0 6-4 0-2-2zM1427 1334l-1 2-5 2-3-2 1-3 5-1zM1060 1332l3 2 1 6-1 2-2 2-2-2-2-4 1-6zM1161 1331l3 1 0 4-4 2-2-1-1-3zM676 1330l4 0 2 4-4 0zM854 1326l2 2-2 4-2-2zM1116 1326l4-2 3 4-3 3-4-1zM774 1324l4 1 0 5-4 0zM1048 1324l4-1 0 3-4 1zM752 1322l4 2 3 2-3 8-2 2-2 0-2-4 1-4-2-4zM1105 1320l3 2-3 2-3-2zM733 1318l3-2 2 0 2 3 4 1 0 4-9 0-3-4zM1144 1316l2 0 1 3-1 3-2 1-3-1-1-3zM1040 1315l2 2 0 3-2 0-2-2 0-2zM1413 1313l2 1-1 6-2 2-2-2-2-3zM1027 1313l5 1 4 6-1 3-3 0-6-3zM752 1312l2 0 1 4-3 2-2-1-1-3zM1228 1306l3 2-3 3-2-2zM1220 1306l2 0 1 3-3 3-3-3zM788 1305l2-1 4 2 0 4-2 0-4-2zM737 1304l3 2 0 3-2 1-4-2 1-3zM878 1303l4-1 1 3-3 2-2-1zM1205 1300l5 2 0 3-4 3-2-1-2-4zM1042 1298l3 3-4 3-3-4zM1249 1296l3 2-1 4-2 0-3-2 0-2zM1320 1296l2 0 2 4-4 4-2-2 0-4zM794 1296l2 2-2 2-3-2zM870 1292l2 2-2 4-3-2zM1081 1292l3 2-3 3-3-2zM820 1292l2 2-2 3-3-2zM831 1293l3-2 4 1 3 4-5 3zM1416 1290l2 2-2 3-2-2zM598 1290l4 1 1 3-1 2-4-1-2-3zM850 1288l2 2 1 4-4 2-2-1-1-4zM1354 1288l2 0 0 3-3 3-3-4zM1348 1288l2 2-3 3-3-3zM876 1290l8-2 2 4 4 4-2 4-2 0-8-4-2-4zM1372 1288l4-2 2 2-4 3zM1422 1284l4 2 0 5-2 0-2-3zM1036 1287l-2 5-2 0-2-2-4 0-3-2 1-4 8 0zM786 1283l4 1 0 5-4-1zM1404 1280l2 2 2 6-5 4-3-2 0-8zM1310 1280l2 2 0 2-2 2-3-2 1-3zM727 1277l4-1 1 4-4 1zM796 1276l3 1 1 3-5 4-2-2 1-6zM724 1276l1 2-2 2-1 4-3 3-1 3-4 0-1-2 0-7 7-2 1-3zM819 1275l1 2-4 4-5 0 1-4 4-3zM1350 1274l2 2-2 2-3-2zM1369 1272l3 2-3 2-3-2zM768 1272l10 2-2 10-4-1 0-5-2-2-2 0zM1360 1271l2 2 0 3-2 0-2-2 0-2zM681 1270l3 2-3 2-3-2zM933 1268l2 1 1 4-4 3-4-4zM1414 1268l3 2 1 6-3 2-3-1-2-5 0-2zM1209 1266l3 2 0 4-4 4-2-2 0-2 0-4zM1032 1266l5 2-4 4-3-2 0-4zM797 1266l1 4-6 6-4 0-4-6 0-2 2-2 4 2 5-2zM1342 1264l-2 6-5 2-3-1 0-4 7-3zM706 1264l5 4-3 4-3 0-1-3 0-4zM1023 1262l4 0 3 3-1 2-5 1zM686 1262l1 4-5 2 0-4 2-2zM882 1259l4 1 0 5-5-1-1-3zM719 1258l3 1 2 3-3 6-2 1-2-1-2-4 2-5zM745 1258l3 0 3 6 4 0 5 5 2 1 2 2-4 9-5-1-3-3-4 2 0 3 4 0 2 3-2 5 0 4-6 4-2-2-1-6 4-3 0-3-5 0 0-6-6-2-3-6 3-9 6-1zM1388 1256l2 2-2 4-3-2zM1391 1254l3 0 2 2 0 4-6-2zM1016 1254l1 3-2 4-7 0 0-2 3-5zM701 1254l3-2 6 0 3 4-5 4-6-3zM1282 1252l4-1 3 4-1 2-2 1-2-2-3-2zM1375 1250l5 0 0 2-2 2-2 0zM772 1251l6-3 4 2 1 2-5 4-4-2zM1420 1248l0 7-2 6-7 4-7 0 0-4 10-5 0-6zM1034 1248l1 6-5 4-5 2-1-6 3 0 3-4zM1003 1246l2 0 1 3-4 3-2-4zM901 1248l3-2 2 1 4-1 2 3-6 3-4-2zM1238 1245l2 3-3 2-3-2zM1114 1246l4 0 2 2 0 2-6 0zM694 1244l2 2-2 3-3-2zM792 1244l6 1-2 4-4-1zM1344 1242l2 2-2 4-3-2zM986 1242l2 6-4 5-1 5-6 2 2 4 4-2 2 0 2 6-1 6-6 0-6-4-3 4-6 1-3-5 2-6-5-5 1-3 10 0 1-4-5-2 0-3 2-2 5 1 2-5 2-1 5 3zM878 1238l0 6-4 1-3-1-1-2 3-4zM1420 1238l4 0 2 2-1 4-3 0-2-4zM1050 1238l2 2-2 2-2-2zM1388 1238l6 0 0 5 2 2 2-1 4 2-1 6-5-1-4 3-6-4-2-4zM704 1238l6 0 1 2-1 4-3 1-3-1-2-2zM792 1233l0 4-6 3-2-1 0-3 2-3zM1378 1232l4 2-4 6-4-4 0-2zM934 1231l6 1-2 6-2 0-3-2-1-2zM978 1230l1 4-3 2-2-1-1-4 3-2zM897 1230l5 0 2 2 0 4-5 0-3-4zM988 1229l4 1 0 4-4-1zM924 1230l5-1 3 4 0 2-6 1-2-4zM1326 1226l2 3-2 4-4 3-4-1 0-7zM806 1226l4 2 0 3-4-1zM696 1225l4 3 0 2-4 1-2-3zM1364 1224l5 0 1 9 3 3-1 2-8-2zM572 1224l-1 4-3 0-3-2 1-2zM909 1222l5 2 8 6-2 6-4 1-1 6-3 3-5-5 5-6 2 0-1-5-5-2-2-2zM926 1220l2 2-2 3-2-2zM1294 1223l4-3 4 4 6-1 2 3-4 4-4-2-5 2-2-1zM1110 1220l4 0 0 4-5 0zM894 1220l6 0 0 4-4 0zM1280 1218l2 2-2 4-3-2zM1198 1219l4 1 0 4-4-1zM932 1220l3-2 5 2 6-2 6 3 2 5-4 3-4-3-3 2-7-2zM1178 1217l4 1 0 4-4-1zM808 1218l5-1 1 4-4 1zM592 1216l2 2-2 4-3-2zM1310 1218l4-2 4 2 2 2-3 2-5-2zM967 1216l3 3 0 7-6 4-2-2 0-6 2-5zM798 1216l8 9 0 2-8 5-2-2 0-3-1-3 1-6zM682 1216l3 0 1 4-2 3 1 3-3 2-4-2 3-4-2-4zM1376 1215l2 3-4 4-3-2-1-2zM826 1215l4 4-1 3-2 2-2-1-3-4 1-3zM1251 1214l3-2 3 1 1 3-2 2-2 0-3-2zM960 1212l1 4-4 4-3 0-1-5 4-3zM844 1210l2 1 0 3-2 4-2 2-3-5zM804 1209l3 2-3 3-2-2zM856 1208l3 2-3 3-2-2zM910 1208l3 2-1 4-2 3-6-1 0-6zM700 1208l5 0 1 2-2 4 6 4-3 7-2 1-5-4 2-6-4-3 0-3zM1331 1207l2 1 1 4-4 2-2-2 0-2zM1278 1208l4-2 2 0 2 3-5 2-2-1zM1028 1204l2 4-3 2-3-4zM1206 1206l-1 4-3 2-8-4 1-3 7-1zM990 1203l3 2-3 3-2-2zM1043 1202l3 2-1 2-2 1-3-2 1-3zM822 1202l3 2-3 2-2-2zM969 1200l-1 6-10 4-4-2-1-2 5-6zM688 1198l2 1 3 5-4 4-3-2 0-6zM864 1198l4 3-1 3-2 0-3-2 0-3zM1294 1196l3 2-1 8 2 4 0 3-8 6-2-2 1-7-3-4 4-2 0-4zM1122 1195l2 2-2 3-3-2zM896 1195l2 2 0 3-2 1-2-2 0-3zM978 1194l2 4-3 2-3-3zM1322 1194l4 6-1 3-2 1-5-2-2 3-4 0-3 3 0 4-4 2-3-6 0-8 6 0 4-2 2-3zM656 1194l4 0-1 4-4 0zM1330 1192l6 6 0 5-3 2-5-7 0-4zM1293 1190l3 2-3 3-3-2zM1166 1192l2-2 4 0 2 1 0 3-4 2-2-2zM1362 1188l4 1 2 6-2 5-2 2-4-4 0-7zM934 1188l5 1-1 3-4 0zM1074 1187l4 1 2 2-1 4-5 0zM1128 1186l4 1 0 5-4 0zM926 1186l2 2-2 2-2-2zM1162 1184l2 4-4 2-2-3zM985 1183l7 1 0 10-4-1 0-4-4-3zM838 1182l2 2-2 4-2-2zM850 1182l0 3-1 3-5 0 0-2 1-3zM665 1182l7 5 2 5-1 2-5 2 3 4-3 4-4-2 0-3-2-3 1-3-1-7zM1082 1181l2 2-2 3-2-2zM1283 1178l3 3-4 3-2-4zM1198 1178l1 4-5 2-1-4zM1248 1177l2 1 2 4-4 4-3-2-1-2zM1204 1179l4-5 4 2 4 0 2 4-4 3-4-3-4 2-2 0zM1186 1174l2 2-2 2-2-2zM1276 1173l2 5-1 2-4 0-1 6-8 1 0-5 6-4 3-5zM1052 1174l2-2 6 4 0 4-2 0-5-1-2-3zM950 1173l2-1 6 4 1 2-2 3-3 0-4-3-1-3zM1290 1175l3-3 3 0 5 5 1 3-4 3-7-1-3-4zM1230 1172l1 4-5 1 0-3 2-2zM650 1171l2-2 3 1 5-1 2 1 0 4-4 2-7-2zM578 1169l2 2-2 3-2-2zM1312 1168l3 2 0 6-3 2-5-4 1-2zM966 1168l2 0 2 6-5 2-2-1-1-5zM682 1169l2 7-2 2-4 1-1-3-3-1-4 6-4 0-1-3 5-8 5-2zM1155 1164l3 2-1 2-2 1-3-2 1-3zM874 1164l2 2 0 2-2 1-3-2 1-3zM1238 1162l3 4-3 2-2-1 0-3zM1266 1162l2 2-4 4 2 7-4 5-5 1-1-3 4-6-4-6 6-4zM641 1160l3 2 0 5-2 3-2 2-5-6 3-4zM556 1161l3 3 0 4-7 3-2-1-4-6 1-2zM1095 1163l5-3 6 2 1 3-3 3-4-2-4 0zM992 1160l4 0 0 4-4 0zM647 1168l4-8 3 0 2 2 4-2 2 2 0 2-3 1-2-1-3 2-2 4-4 0zM1116 1162l2-2 6-1 4 3-3 2-7 0zM576 1158l0 4-5 2-1-4zM1254 1158l0 2-2 4-6 0 0-2 3-4zM1192 1161l6-5 6 2 2 4-2 2-8 2zM1276 1154l5 5-3 7-2 1-4-3 1-8zM612 1158l0 2-2 1-8-1 0-4 0-1 6-1zM554 1154l4 1-1 4-4-1zM670 1154l3 2-1 4-2 0-2-3 0-3zM954 1154l2-2 4 0 3 1 1 3-3 2-4 0-3-2zM856 1150l2 2 0 4-2 2-4-4 1-2zM566 1150l2 3-2 3-2 2-2-3zM1165 1150l3 2-3 2-3-2zM552 1150l3 2-3 2-2-2zM946 1148l2 2 1 3-4 2-3-3zM927 1147l3 2-3 3-3-2zM1273 1147l4 1 1 4 0 2-4 0-2-2-1-2zM930 1142l2 2 0 2-2 1-2-2 0-3zM652 1146l7-4 3 4 4 0 0 10-3 0-3-4-6 1-4-3zM974 1146l8-5 4 3 2 4-3 3-6-3-4 0zM1248 1140l4 0 2 4-2 2-4 0-2-3zM552 1139l2 2 0 3-2 1-3-3zM1229 1140l-1 3-6 1-2 2-2 1-2-2 1-3 3 0 2-2 4-2zM1072 1138l2 2-2 4-2-2zM1143 1138l5 0-1 6-3-1-2-3zM1012 1137l2 2-2 3-2-2zM1170 1139l4-3 4 1 2 3 6 3 2 3-3 2-7-2-6-4zM871 1136l2 2 1 2-4 3-2-3zM1108 1136l8 6-2 4 0 3-3 1-3-2 2-3 0-3-4-3zM814 1136l4-3 4 3-1 2-3 2-3-2zM828 1131l5 1 1 2-2 2-4-1zM1116 1130l4 2-1 3-4-1zM654 1130l2 1 0 3-2 4-4-2 0-2zM571 1130l3 2-3 2-3-2zM622 1130l0 4-4 1-1-3 2-2zM1108 1126l3 4-2 2 0 3-2 1-3-2 2-3-1-3zM1182 1132l2-2 5 0 3-4 2 0 2 0 5 10-3 2-4-3-6 3-4-1zM964 1126l6 0 4 4-1 2-3 3-4 0-3-6zM862 1127l6-3 2 2 0 2-4 2zM1208 1126l4-2 6 2 2 3-4 3-3-1-4-3zM1146 1124l4 0 3 2 3 4 0 2-5 0-5-4zM648 1126l0 2-7 4-7-1-2-1 1-4 5-2 3 1 4-2zM1122 1122l2 2 0 2-2 2-2-2 0-3zM598 1122l4 0 0 4-4 0zM566 1120l3 3-1 6-3 1-3-2-4 2 8 7-4 5 5 4-1 2-2 1-5-2-1-3 2-2-2-4-4-2-1-4 3-2 0-6 5 0zM832 1120l2 2-2 3-3-2zM1090 1120l6 0 1 3-1 2-4 0-2-3zM936 1117l2 2-2 3-2-2zM1204 1116l2 4-2 5-2 1-4-2 0-2zM1144 1116l3 2-3 2-2-2zM1132 1114l2 4-2 5-2 1-3-3 1-5zM596 1116l-2 2-4 0-2-2 2-2 3-1zM849 1113l1 3-2 2 0 3-2 2-4 0-2-3 0-3 4-1 2-3zM1144 1103l2-1 4 3-1 5-6-2zM909 1101l2-1 6 2 1 4-7 0-3-2zM1152 1101l4-1 1 4-5 1zM1118 1098l2 3-4 9 4 2 1 3-1 1-6 2-2-2-2-8-4-2 0-3 2-3 5 1zM826 1096l4 2 1 2-3 10-3 1-3-1 0-4 2-2-2-6zM887 1094l3 2 0 2-4 4-2-1-1-3zM1150 1094l0 4-4 4-4 0-1-2 5-6zM590 1094l0 4-2 2-4 0 0-4zM1131 1094l3 2-2 3-2 1-2-1 0-3zM614 1094l1 2-2 8-2 2-5-2-2 1 2 10-1 1-3 0-2-4-5-3 1-5 4-2 0-6 4-3 4 3 3-2zM1100 1086l2 3-2 4 1 5-4 2-5 0-1-3 5-3-1-3 1-3zM1076 1082l2 2 0 2-2 4-2 2-2-2 0-4zM1087 1079l3 4-1 2-7 2-2-3 2-4zM1002 1080l4-1 2 3-3 2-3-1zM1195 1075l4 3 0 6 3 2-1 8-3 2-2 0-2-4 2-6-4-2-1-3 1-3zM864 1075l2 2 0 3-2 0-2-2 0-2zM1094 1074l2 2-2 4-3-2zM1056 1069l2 1 1 3-3 3-2-2 0-2zM1087 1062l3 2-3 2-3-2zM1048 1061l2 0 2 2 0 4-4-1zM1070 1062l4-2 4 1 2 2-1 4 2 2 5-1 2 4 0 2-3 2-5-2-8 2-4-6zM1058 1060l2 2-2 3-3-2zM1130 1056l2 2-2 3-2-2zM1140 1052l5 2-2 8 7 5 0 4 3 3 1 4 2 2 3-1 1 2 1 6-5 3 0 4-3 2-4-2 1-8-2-2-6 5-6-2-10 3-2-2 0-2 5-8 5-4-2-8 4-4-1-3 3-7zM962 1052l-1 4-5 2-2-1 1-3 4-2zM1078 1051l3 2-3 3-2-2zM1058 1049l7-1 3 5 0 3-6 1-4-5zM1148 1048l5-2 3 4-1 2-5 0-2-2zM864 1040l2 2 0 3-3 3-3-4zM1022 1038l5 1-1 4-4-1zM913 1032l4 1-1 4-4-1zM1021 1030l0 4-3 0-2 4-5-2 0-2 3-4zM1050 1028l0 6-3 2-1 4-4 2-3-2-1-2 2-3 0-5 7-3zM873 1026l4 1 2 4-1 3-6 0zM857 1026l3 0 2 6 2 1 0 3-4 0 0-3-4-1-1-2zM1058 1022l3 3-1 3-2 0-4-3 1-2zM1051 1016l1 3-3 2-3 0 0-5zM1032 1013l3 3-1 4-2 1-4-2 0-3zM910 1012l2 0 4 4-1 6-3 0-5-3-1-3zM870 1010l3 3-1 3-2 1-3-2 1-3zM880 1010l6 0-1 6-5-1zM880 1001l2 1 0 2-3 3-3-3zM914 999l0 3-2 4-6 1-2-3 1-2zM854 998l4 3 0 3-2 3-5-2 1-5zM1004 997l0 3-2 2-6 3-2-1-1-4 1-2 8-2zM1019 994l3 0 1 4 3 2 1 8-3 2-3-1-5 5-2-2-2-3 5-3-2-6 1-6zM900 993l3 2-3 3-2-2zM859 992l3 0 4 4 0 5-8-1zM1024 986l3 2-3 4-2-2zM870 983l3 2-3 3-2-2zM881 982l2 1-1 6-2 1-2-2-1-2zM1021 980l1 2 0 6-6 2-2 0-4-6 1-2zM902 978l3 2-3 3-2-2zM999 975l2 1 1 3-4 3-2 0-2-4zM895 976l-1 4-5 2-2 0 1-6 4-1zM923 974l3 2-3 3-3-2zM873 974l3 2-1 2-2 2-3-2 1-3zM1006 968l2 2-2 3-3-2zM884 969l4-1 0 4-4 0zM986 966l0 4-2 1-2 5-2 0-2-3 0-3 3-1 1-3zM968 968l2-2 4 0 2 4-4 2-2-1zM926 964l2 1 0 3-2 2-3-4zM958 962l2 3 0 2-6 3-2 0 0-5 2-3zM1012 961l4-1 0 4-4 0zM906 952l0 4-2 2-2 0 0-6zM995 950l3 2-4 4-2-2 0-2zM872 950l4 0 2 4-5 0zM916 946l3 2 1 4-5 4-3-2 0-4zM1002 946l6 0 0 7-4 0-2-4zM1000 940l3 2-1 2-2 2-2-2 0-3zM884 938l3 4-3 6-2 0-2-2 0-4 1-2zM1019 936l3 2-2 10-4 2-6-6 1-4zM980 935l6 0 2 1-1 6 3 4-2 4-8-2 0-8-2-2zM925 934l4 0-1 4-4 0zM1009 931l0 7-3 2-3 0-1-2 2-6zM946 929l4 3 0 2-3 2-3-2 0-3zM898 930l4 0 1 3-4 1zM936 928l2 2 0 3-2 1-3-2 1-2zM893 928l3 2-3 2-3-2zM996 927l4 1 1 3-1 2-4-1-2-2zM909 924l3 3-2 6-3 2-3-1 0-3 2-3 0-2zM970 922l3 4-4 2-3-2zM924 920l4 2 0 4-4-1-1-3zM978 916l2-1 3 1 1 4-2 1-4-1zM1002 914l0 2-2 5-8 1-2 0-1-3 5-6zM1011 910l1 2-2 4-4 0-2-2 2-3zM964 915l-2 4-10 5-3-2-3-4-5 3-5-1 0-1 0-3 4-1 2-4 5 1 3-3 5 1 3 4 4-1zM932 905l3 2-3 3-2-2zM923 899l5 3-2 4-2 1-4-2 0-4zM974 898l4 2 6-2 1 4-2 5-3 2-6-3-2-4zM940 898l4 0 1 2 3 2 0 5-4 0-2-4-2-1zM968 898l0 4-5 6-8-2-1-2 4-4 6-3zM922 890l3 2-1 2-2 2-2-2 0-3zM968 890l5 0-1 4-4 0zM971 886l-1 3-6-1-2 2-4 2-3-3 1-3 7 0 3-3zM941 882l1 4-6 5 1 5-3 2-4 0-2-11 1-5zM954 876l0 3-2 1-5-1-1 2-4 1-2-2 1-3 4 0 1-4 2-1zM2328 872l1 4-5 12 2 8-2 4 2 3-2 5 4 4-5 7 2 4 1 7-2 2 1 10-3 4 4 4 1 7-1 7-4 4 6 4-3 8 1 7-2 3 4 7-4 3 0 7 2 3-3 5 1 5-1 4 3 8-2 2-1 7 3 2 2 3-5 4 0 5 2 3-1 8 2 4-4 6 1 4 3 4-2 6 3 4-3 5 2 5-2 7 4 1 4-6 3 1 1 3-4 4-4 0-4 8 3 8 0 6-2 2 1 10-3 9 4 5-1 4 2 5-5 7 9 4 0 9-4 3-4 7 2 5-2 6 4 5 6-2 6-7 2 1 2 4-2 3-5 1-1 7-9-2-3 5 2 4 0 7-4 4 1 4 3 4-2 6 2 2 5-6-3-4 0-3 2-1 8 4-4 10 3 2 5 0 5-12-5-6 2-5 2-1 5 2 3-2 4 0 2 4 5 1 4 9 7-4 8 0 2 5-6 2-2 2 3 3 7 0 2 2-3 4 1 4-6 2 0 6-6 2 0 2 2 2 4 0 2 2 6-7 2-1 4 6 10 1 0 3-3 4 1 2 8 0 3 3 5-1 6 6-3 4 2 6 5 0 2 4 4-3-2-11 2-2 7-1 2 5-3 4 2 4-2 4 4 4-1 4 6 2 3-4 4 0 0 5 6 6 3-4 3 0 2-5-4-1-1-5-5 2 2 1-1 3-3-1-1-2 2-2-3-2 0-3 4 0 4-3-3-3-3 0-2-4-6 1-3-1 0-4-3-4 5-4 3 1 2 5 4 0 0 4 7-2 4 3 1 4-5 4 6 4 1 3 0 6 4-2 0-3 3-3 1-4 4 0 2-6 2-2 6 3 0 4 2 4-2 7 1 2 3-2 3-8 5-2 5 2 1 2-2 2-4 1-2 2-1 5 3 2 4-4 6 2 2-6 6-2 1 3-4 9 2 2 5-5 6 7-4 3 2 4-3 3-5 2-3 2-5-2-1 4 2 2 5-4 2 2 4 0 5 5 3-1 1-4 3 0 3 8 3 6-3 3-5-4-2 2 0 4-4 1-2-5 0-5-4-2-3-4-3 3 4 3 3 6-3 2-3-1-2 3 1 2 6-2 3 0 3 4 4 2 2 4 5 0 5 6 2-3-1-6 5-3 4 6 4 0 3 5 5-1 4 2 2 0 4 6 2-4-5-2-1-4 0-2 4-2 3 0 9 8 4 10 0 3-6 7-4-1-2-3-4 3 4 3 2 6-4 2-4 0-4 2-6-3-2 6 2 1 7-3 9 5 3-6 1-4 6-2 0-6 3 0 4 5-5 8 5 5-1 8-2 0-8-3-2 1-2 9 2 2 6-5 4 0 2 2 0 4-2 8 2 2 3 7-3 3 0 5-4 1-2 2 3 2 8 0 3 2-2 4 0 2-4 3 0 3 3 0 1-1 0-4 6-3 2 1 2 5-4 6 1 5 3 3 2 4 0 7-3 3 3 3 4-1 2 3-8 5 0 5-4 1-2 7 2 3-1 5 1 1 4-1-1-3 4-4 2-4 5 0 2 4-5 4 4 6-7 5 4 5-1 6 1 4 3 2 9-3 4 1 2-2 0-2 2-2 2 2-2 3 0 9-4 4-6 0-4-5-2 1-6 0-4 2-2-1-2 3 2 2 4-1 3 2 7-3 5 5 4 1 5 4 0 4-6 0-2 2 1 6-6 2-5-1-2 5 4 1 3-3 14 6-1 4-2 1-2-1-2-3-7 3 1 3 4 1 0 6 4 0 3 2 6 0 5-4 4 3-2 3 0 6-6 4-5-4-5 0-1-3-3-3 0-4-2 0-3 3 5 7 4 1-1 5 5 2 4 8 0 4-5 2-3-1-2 3 2 2 4-2 6 2 1 2-3 4 4 2 0 6 5 0 5 2 2-1 2-6 2-1 2 2 0 10-4 6-6 2-4-1-2 2 2 3 7 0 5 6-5 12-5 2-2 2 3 2 3-1 4 1 2 2-4 4 0 2 6 2 6 5 0 5 2 2 1 3-6 3 1 4 5 2 8-4 5 4 0 3-4 0-3 5-5 1 2 7 2 1 2-1 1-2-2-4 1-2 4 0 2-4 4 0 1 2 1 10-10 4-4 6 6 6 8 0 2-2 0-2-2-2 2-2 2 0 1 4 6 0 7 6-4 6-2 0-4-2-2 1-1 3 3 2-2 2-3 0-1-4-2 0-2 1 1 3 4 1 2 5 11 0 0 4 4 4 0 5 4 2 4 7-2 2-3 2-6 0-3-2-2 1 1 4 3-1 2 2 0 3-6 1-2 6 2 4 6-4 3 3 3-1-3-5-2 1-3-2 3-2 2 1 3-5 8-4-2-12 3-2 6 3 7-5 0-4 5-4 0-2-3-2-8 6-6-1-2-5 2-6 4 0 4 1 6-4 7 6 6-1 0-4-1-2-6 1-1-3 5-8 4-10 3-4-2-2-5 0-3-4 1-2 4-1 3 3 4 0 3 2 3-1 3-5 4-2 0-2-4-4 0-5 2-3 3 0 2 2-1 4 4 1 2-3 4 0 4-3 4-2-1-3-3 0-4-2-2-6-3 2 4 5-1 5-3 0-4-3-3-10 8-3 2-3-1-2-3-2-5 5-2-1-3-6 2-5 4-1 4 2 3-2 3 1 4-4 4 1 2-3-4-4 2-2 2 0 5 3 2-1 1-3-5-3-5 2-4-2-2-6-6 0-4 2-2-2-2-2 8-6 2 0 4 4 2-2-1-2-5-2 1-2 3-2 0-4 2-2 4 1-1 6 3 2 6-5-4-6 4-6-2-5 6-3-2-4 2-8 3-2 3 2 4-2 3 2 2-2-4-6 3-9-2-4-5-3 1-3-2-5 2-6-5 0-3-3-4 3-3-2 1-4 3-4 3-1 9 3 0-4-3-2-2 0-2-2-4-8-1-6 2-4 6 1 3-5 2-2 2 0 2 3-3 3 0 2-6 4 2 4 0 5 3 1 3-2 3 0 2 8 4 3 4-2 0-1-8-6-2-2 2-4 10 0 0-2-4-5 3-5-5-3-5-7-3 0-4-4 0-3 6-1 4 2 7 0 4 3 2-3-3-4 2-5-2-9-3-3-1-6 4-3 4 6 3 0 1-2 2-4-5-4 0-8 3-3 4 0 2-1 0-7 4 0 2 5-2 8 2 2 3-2 3 2 2-4-2-2-2 0-2-2 4-6 5 0 2-4 4 0 4 4 3 0 3 2 5 0 0 4-6 4 4 6-2 6-4-1-3-8-4-1-1 2 0 4 3 2 3 4 0 9 2 1 8-3 0-2-4-3 0-4 6-3-4-5 4-8 4 0 6-6-2-2-4 0-4-4 2-11 4-1 2-5 4 0 2 3 6 0 0 3-3 1-3 0-3 2 0 2 1 2 8 1 1 3-1 2 2 4 4-3-4-5 6-11 2 0 4 5-1 5-4 5 2 2 3-2 1-4 3 1 3-2-1-2-4-3 0-2 2-2 6 2 2-4-4-2-1-5-5-3-1-8 1-4 2-1 4 3 12 1 4 3 6-1 2-2-1-3-9 2-4-4-4 0-2-5-4-3 2-5-2-4 3-3 5 2 2-2 0-4 6 0 0 6 2 5-2 3-6 1-1 3 1 1 7-1 1-4 6-4 6 0 1-2-1-1-5-1-4-4 1-2 6 1 2-3-6-5 1-6-2-3 5-4 4 0 2-2 4 0 2-6 4 1 3-2-4-9 5-4-2-2-6-1-2-9 6-6 3 0 3 5-2 6 7 3 3 4 8-8 4 0 2 5-6 9 2 3 7 1 5-3-4-14-2-1-4 0-2-4-2 0-2 3-4 1-2 0 0-4 2-5 2-2 8 3 0 2 4-2-2-6-8 2-3-2-1-3 3-4 17-1 6 6 0 2-4 0-2 4 2 1 3-1 5 3 1 6 3 3-2 2-4 0-2 3 3 1 3-2 4 0 2-2-3-4 1-3-5-3 1-3 4-1 0-2-4-4 0-4 2-4 5 0 1-4-2-2-4 1-2-3-6 4-4-2-8-2-2-1 1-3 3-3 3 0 3 3 2-1-2-6 3-5 3 0 2 6 4-2 0-8-6-2 0-3 2-1 4 0 4 4 4-2 7 0 1-1-1-5 3-4 5 0 3-2 8 2 0 4-4 4-3 0-3-4-2 2 1 6-5 6 0 6-4 1-4-5-7 4 3 3 4-3 2 1 4 5 5-3-1-4 5-4 3 3 2 6 5-2 5 4 2-2-2-6 2-2 6 0 2 4 6-4 0-2-4-4 2-3 7 1 3 4 6 1 2-3 5 0 0-7-1-2-4 0-2-3 4-4 3 4 4-2 3 4 6 2 4 4 0 4 8 2 0 3-3 3-3 0-2-2 0-6-6 1 0 3 2 4 0 2-5 3-3-1-6 9-6 1 2 5-1 5 1 2 4-2-2-4 1-4 3 0 3 4 7-4 0-2-4-4 1-2 9 0 0 3-2 5 5 4 1 4 6 1-2 9 6 2 0 6 0 4-6 0-6 10 0 2 4 0 4-7 4 0 2 5-4 6 6 6 4 0 3 4 9-3 4 3 4-2 8 5 0 5-6 0-1 5-2 1-5-3-1-7-3 2 2 9-4 3 0 3-4 4 1 4 3 5-2 2-4 0-1 4 2 2 3-2 4 0 1 5 1 1 4-6 5 0 5 6-2 6-4 2-4-4-4 1-4-3-2 2 0 2 2 1 4-1 3 3 5-1 2 4 4-2 2-5 5-1 3 0 0 6-2 2 2 4-1 8-2 4-3 0-2 1 0 3 6-2 3 0 3 5 3-1-5-8 2-8 4-2 4 4-2 6 2 2 5 0 1 3 0 3-6-1-2 1 0 3 3 1 7 0 3-4-1-9-6-4 0-5-2-2-3 2-3-2 2-3 4 1 2-2 9 3 1 3 4 2 0 2-2 6 3 3 3 5-1 2 2 2 5 2 3-4 6-2 5 4 2-4 4-2 8 6 2-4-3-4 1-3-6-5-5 2-2 6-3 2-4 0-2-2-4 3-3-2 1-5-4-4 8-5 4 1 6-6 0-2-8-4 2-4 2-2 6 2 4 6 6-1 4 5 4 0 2 5 2 0 7-9 7 2 0 4 4 2 1-4-5-3 1-8-2-3-5 3-3 7-3 0-4 4-2 0-4-8 1-2 11-7 0-5 6-4-4-6 1-2 4 0 3-4 8 2-1 3-3 2-4 5 1 4 3 2 6 10 4-2 4 2 0 2-3 3-1 3 4 4 4-2-2-4 3-4-5-4-6-14 1-2 4-2-3-7 0-4 5-5-1-3 0-5-4-4 2-2 4 0 6-3-2-10 2-2 4 0 2-3-2-3-8-1-2-3 2-3 7 0 2-6-3-8 2-6-5-3 1-5 5-2-1-4 0-5-5-3 2-6 3-3-2-6 3-8-4-5 0-5 4-7-5-2 0-4 5-4 0-6-5-7 0-3 4-2 0-5-1-2 1-3-3-4-1-3 4-3-2-10 3-4-3-6 2-2 1-15-3-7 2-2-2-6 3-4-1-9-6-3 2-6 5-2-6-12 3-4 2-6-1-3 0-11 1-2-1-6 2-3-5-4 2-4-1-7 4-7-3-20 2-7-2-4-4-3 0-3 6-2 0-6-6-4-4 2-5-3 1-3 6 0 2-4 2-2 0-6 2-2 0-6-4-2-3-5-9-1 1 4-3 2-4-3-2-4 2-2 6 2 0-5 4-2 4 0 4 4 4-6-4-4 2-6 4-2-2-4-3 1-1 4-4 3-5-3-5 1 0-4 2-3 6 2 4-1-1-4-7-2-3 4-3-1-2 3 0 10-10 6 4 3 0 3-6 2 1 5-3 3-5 0-11 6 4 8 2 0 3-5 3-1 3 2 5 0 2 1 4 9-5 5-1 3-4 2-4-1-4 3-5-4-1 4 2 4-2 2-4-2-1-4-4-3 1-5 4-2 2-1 0-2-6-5-4 6 0 9-4 7 2 6-4 2 0 3 4 1 4-5 5 1 4 4 5 2-2 7-4 1-3-6-4 0-3 2-4-2-2 2 0 5-8 3 1 4 3 0 6-4 6-2 3 2 1 3-7 3 0 6-5 3 0 3-6 0 0-5-4-2-4 5-5 0-1 1-2 9-4 2-4-2-5 5-7-5 1-2 6-4-3-4 2-6 4 0 4-4 6 0 5 2 1-4-2-2-2 2-4-2-6 4-3-2 1-7-5-2-7-11 0-4 4-5-5-5 3-8-2-2-4 0-2 2 0 6-6 6-5 2-3-2 1-4 4-4 0-2-3-2-4 0 0 2-2 2-3-4 3-1 0-1 2-5 4 1 4-2 4 1 4-3 4 4 2 0 2-4 5 1 5-7-2-2-8 8-7-2-3-4 4-6-2-2-2 2 0 6-4 6-4 0-4-6-3 1-3-2 2-6 5-3-2-3-4 0-5-7-7-5-2-5-8 1-5-5-6-1 0-2 2-3 8 2 4-4 0-6-2-2-5 2-1-4 6-4 0-3 4-5 5 0 1-2-1-3-5-1-1-4-2 0-1 2 0 5-4 2-4-5-4 0 0 4 6 1 3 5-1 2-3 2 0 3-3 3-8-2-2-7-6 1-3-2-1-2 5-7 5-4 7 0 2-8 5-3 0-4 2-2 0-2-4-2-2 1 1 4-3 4-2 0-4-3 0-3 6-2 0-3 4-1 1-2-1-3-3 0-2 4-3 1-2 3-4 4 3 7 3 1 0 4-2 0-4-1-2 4-4-1 0-8-2-6 2-6 4-2-2-4 3-2 3 2 4-1-2-5 2-4-4-4 0-6-2 0-2 2 4 5-2 1-6 2 2 9-3 3-1 4-3 2-1 5-4 3-2-2 1-4-1-2-10 4-6 0 0-4 3-4-3-4-3 6-5-1-6 3 1 4-2 3-6-1-3 2-5 0-3 2-4-5 4-3 2-6 0-2-6-2-6 2-4-4-3 0-1 4 4 4 5-1 1 3-4 3-3 5 1 4-4 6-6 1-2-4-2 0-1 3 2 2 5-1 3 5 3-2 3 1 1 2-6 9 6 6-1 4-3 2-2-2-3 1-2-1-1-6-6 2-3-8 1-4-2-2-4 2-4 4-5 3 1 3 4 1 2 5 4 2 2 3 6-3 2 2 4 0 4 2 0 3-4 3-4-1-2 5-6 1-5-3-1-6-1-1-7 1-5-5-2 1-7-4-2 3 4 3 2 6 8-4 4 4-2 6-7 6 4 3 0 3-7 3-4-1-2-6-4 1-4-3-1-4 5-2-2-6-2-2-2 2 1 6-8 2-4 3 1 3 8-2 1 5-13 9 0 2 4 2 6-6 5-1 1 5-2 3 5 3-1 5-13 5-3-1-8 1-3-2 0-6-1-2-8-1-1 1 1 4 0 4 2 5 2 1 6-2 2 2-2 4-6 3 4 7 4 0 2-2-2-4 2-6 8-3 2 2 0 3-6 4 3 4-2 4-3 1-3 5-7 1-4-3-2-4-5 4-5-4-4 2-4 0-2-6 4-3-1-3-3 0-1 5-5 1-4 0-2 1 2 3 5-1 3 5 4 0 2 4 4-2 3 0 1 6 3 1 5-5 8 5 10-1 2 4 0 3-5 1-5-2-1 3 3 3 0 5-6 3-2-3 1-6-1-1-4 0-3-6-6 4-3-2 1-5-5-1-2-2-3 0-3-1-2 1 0 6-6 2-4 8-3 0-1 4 2 2 3-6 3 0 5-7 3 0 4 5-2 7-4 1-2-4-3 3 7 7 0 3-4 1-2-3-4-1-2-3-8 5 0 2 2 2 4-4 5 2 1 2-4 6 5 3-1 3 2 3 0 4-3 1-4 0-4 4-2-2-1-4-2-2-2-2 4-3 4 2 2-6-2-1-5 2-3 0-2 4-4 4 0 2 2 4 5-1 3 3-2 6-5 4 5 8 1 10-2 2-4 0-2-4 0-4-1-2-4 0-3-4-3-1-2-3-4-1 1 4 5 2 0 5-4 0-8 6-6-4-1 4 2 3-5 3 0 2 4 2 1-2 0-4 5-2 3 0 4 2-2 8-5 6-6-2-2 2 0 2 5 6-5 6 0 4-4 0-4-6 4-6-3-3 1-3-2-2-4 2 2 4-2 6-4 1-4-2-6 5-5 0-1 1 2 3 3-2 4 2 3-4 5-1 5 3 0 5 2 2 6 1 0 4-3 1-5-1-2 2 0 4-6 4-8 0-10 4-3 0-3-4-2 0-2 1 2 8 0 7-7 8 0 4 3 0 2-4 4 0 2 4 0 4-2 1-6-2-2 1-2 0 0-3-4 0 0 8-4 1-2 2 2 4-2 4-5 0-3 2-4 0-4 4-5 0-6 4-1 2 3 2 11-6 7 6 1 6-6 8 1 3 5 1 0 4-5 0-1-4-4 0-2-2-4 2 2 2 6 4 2 3 4 1 0 5-2 3 2 5-3 5-3 1-6-3-1 1 1 5-5 3 3 5-1 2-5 0-2 2 2 3 12 1 4 4 1 2-5 5-4-3-3 2 1 2 4 2 0 6-2 0-8-2-4 4 1 4-2 3-10-2-3-5-2 2 0 2 3 2 1 4 10 2 6 6 0 3-4 1-6 6-2 0-2-2 0-2 4-2-1-4-4 4-7-2-2 2-6-4-4-2-2 2 0 2 4 2 2 2 5 0 1 4 2 2 4-2 4 5 4-3 6 1 2 5-2 4-4 0-2 4-5 2-7-8-6 6-3-1-3-3-4 0-2 2 1 5-5 3-4-2-2 9 1 3 2 0 1-2 0-4 3-2 5 1 2 3 7-2 6 4-2 3 3 5-2 3-4 3-3-1-4 6-10 1-5 8 2 6 3-1 1-3-2-3 3-2 3 1-1 4 3 2 2-2 0-5 3-5 3-1 4 4-2 4 2 3 10-2 6 9-4 7-4 2-2-1-1-3 3-5-4-3-4 4-2-2-2 2 0 4-2 2-4 0-4 3-4-3 1-2 4-3-1-3-3 0-3 5-6-1-4-4-2 2 1 4-1 2 1 6-4 4-3 1-4-5-3 0-1-2 2-2 4 2 2-2 0-8 2-4 0-2-2-1-7 5 1 4-1 6-7 1-2-2 1-7-9-3-2-5 3-2 4 0 4 2 5-2 0-2-3-2-4 2-5-4 0-2 4-3 4 5 4-2 5 2 2-2 3-1 4 3 6 1 2-3 0-2-10 0-2-2 2-8 3 0 3 2 2-1 0-7-8 0-2 6-4 2 1 4-1 2-4 0-2-4-6-4-2 2 4 4-2 3-4 0-2-3-6 4-4-2 0-2 3-2 0-6-1-2 1-8 9-2 0-4-3-2 1-2 3-2 2-5 5 0 2-3-3-2-5 2-2 0-3 4-4 0-1 2 0 6-4 1-3 5-3 0-2-8 3-6 4-2-1-4 4-4-3-6 5-4-11-8-1-4-6-8 1-3 5 1 2-4-2-1-4 1-3-2-5 0-1-2 1-4 4-2 0-4 7-2-2-4-3 4-4 0 0-2 0-4-2-3 1-5 3-2 0-3-4-1 0 6-4 2-4-3 2-5 3-1-1-5 2-5 4-1 2-2-2-4 2-6-3-1-3 2-4-3 0-6 5 0 3-2-2-3-6 1-4-4 4-11-4-3-7 1-3-2 3-5 6-2 1-2-11-6-1-2 2-4 4-2 4 3 2-3-1-2-4 1-5-3-1-4-2-4 4-4 4-1 1-3-9-5 1-5-2-5-2-3 5-8 0-2-5-2 0-4-2-2 0-7 0-1 4 0 2-4-6-2 0-2 3-6-4-2-1-2 1-2 5 0 0-3-1-1-3 0-4-4-4 0-2-2 1-4-1-4 6-5-2-5 4-6-6-4 0-3-2-3-4 2-2-2 0-6 4-2 0-4 2-7-3-7-5 2-4-4 1-5 4 0 3-3-2-2-4 1-2-1 0-9 5-3 5 4 2-4-2-2-4 0-4-3 1-3 3-2-2-6 2-4-2-4 2-5-2-2-4-1 0-6-3-4 5-4 4 1 2-3-2-2-4 1-9-5-5 0-1-2 1-2 5-4 5 4 2-2 0-4 2-4-5-6-3 1 1 5-2 4-7 2 1 4-5 5-6-1-2-2 1-3 9-3-4-8 2-4 5 0 2-3-3-7 2-6 4-2-1-8-5-6-2 2 4 8-1 7-4 1-11-4 3 10-5 3 0 3 6 0-2-4 3-2 3 1 0 5-4 1 1 2-4 5-5 0-6 2-2-1-2-4-4-1-2-6-4-2-5 3-3-2 2-3 0-4 2-2 5 4 7 0 2-10-2-2-2 3-10 1-1-2 5-5-5-6-3-1-2-3-4 1-5-3-5 1 0-8 2-4-4-4 0-2-4 0-1 4-5 2 3 3 5-3 2 2-2 4 2 6-3 5-3-1 0-4-3-4-5-2-2-4-4 2-1 7 2 1 3-2 4 1 2 4 0 5-2 3 2 7-2 0-7-2-5-8 0-4-7-6-5-2-10 6-2-2 2-4 0-4 4-4 10 2 2 3 4-3 0-5-2-5-4-4 0-4-2-4 2-6-2-2-2 1-3 5-5 0-6 4 1 2 3 1 4-1 2-4 3 0 1 2-2 7-6 3-2 6-5 0-3 2-3-1-2-3 0-6-5-5-3 1 3 6 0 2-2 2-6-2-2-6-3 0-2 6 3 4 14 2 0 4-4 2 0 6-2 1-5-3-9 2-4-4-8-4-2 2 4 6-2 2 0 6-4 2-10-12-6 3-6-4 1-5 4 0 1-2 0-5-6-3 2-6 2-2 4 0 3 4 3 2 2 4 4 0 4 2 8-6-1-2-3-1-2 4-4 1-4-2-3-1-1-5 6-4-2-3-8 1-2-5-1-1-2 0-1 3 2 3 0 2-4 0-3 5-3 1-5-2-1 4 4 2 0 4-8 6-4 0-4 4-4-2 0-4 3-3 7-1 0-3-6-1-4 3-6-3 2-5 6 1 2-2 4 0 2-2-2-9-2-2-4 2 0 5-5 0-1-5 2-5-2-3 0-5 3-2 3 0 6 9 6-7 12-5 0-5 4 0 2-3-5-5-2 0-3 4 0 5-11 7-8-2-3-3-8 3 0-3 2-3 0-9 4-4-3-4 1-5-2-2-4 2-4 6-4 0-2-8 4-4 0-2-4-2-3 4-8-4-3-2-2-7-2-3-7 4-2 6 2 5 1 11-2 1-5-2-3-4zM2714 1796l4-2 2 2 2 2-5 2-2 0zM2723 1785l4 3-3 4-4-2 0-4zM2736 1781l6-1 1 6-2 0-4-1zM2746 1766l2 4-2 3 0 5-3 2-4-5-1-7 1-1zM2760 1764l0 2-3 4-1 4-2 2 0 3-3 2-3 0 0-4 3-1-1-6 6-6zM2746 1742l0 4-4 4-8-4-4 2-2-2 0-2 4-4 10 0zM2770 1734l4 3 0 3-3 2 1 6 2 4-6 4-2-2 0-5-4-1-2-3 8-3-2-6 0-1zM2731 1727l3 2-3 3-3-2zM2694 1724l4-1 2 3 0 2-6 0zM2676 1714l4 2 0 3-3 1-3-2 0-2zM2728 1713l2 2 0 3-2 2-3-2 1-4zM2690 1706l2 2-2 4-2-2-1-2zM2758 1700l6 1 0 3-2 2-4 0zM2694 1695l3 2-3 3-2-2zM2798 1699l-2 5-6-1-7 1-3-2-6 5-2-1-2-4 2-4 3 0 3-2 3 0 1 4 3 0 1-6 4-3 4 1 0 4zM2776 1670l4 6 0 4-4 1-4-4 0-5zM2656 1662l3 1 0 5-5-1 0-3zM2664 1658l4 0-1 4-4 0zM2798 1655l4 3-4 5-4-3zM2676 1654l2 2-2 3-3-2zM2774 1650l4 0 0 4 2 0 6 4 4 0 0 11-4-1-4 2-4-2 0-5-2-3 1-6-3 0zM2657 1648l3 2-4 3-2-3zM2802 1640l2 1 1 3-3 6-2 0-3-2 0-4zM2763 1620l3 0 4 4 4 0 0 4-2 2-6-4-3-3zM2820 1619l2 3-2 6-3 2-2 3-5-1-2 5-7 2-1-3 2-3 3-3 4 0 7-6 0-4zM2806 1608l3 1 2 5-7 4-2-2-1-3zM2720 1605l6 1-1 4-5 0zM2661 1604l2 1 1 3-4 3-2-1 0-2zM2798 1594l2 2-2 4-3-2zM2647 1590l3 2-3 2-3-2zM2808 1584l0 4-6 0 1-4zM2662 1584l3-2 3 0 1 4-1 2-5 0-1-2zM2654 1580l3 2-1 4-2 1-4-3 0-2zM2832 1565l1 3-3 6-4 0-1-4 4-5zM2659 1548l3 2-3 3-3-2zM2782 1546l2 2-2 2-2-2zM2796 1546l6-1 0 5-2 1-3-1zM2762 1546l4-2 2 2 2 2-5 2zM2832 1538l6 0 0 5-2 1-4 0-1-4zM2654 1540l0 2-6 2-3-2 1-3 6-1zM2835 1526l3 2-3 4-3-2zM2709 1528l3-2 6 0 4 2 0 4-3 2-3-3-6 0zM2640 1527l0 3-6 2-2-2 0-2 4-2zM2792 1521l2 3-3 2-3-2zM2704 1520l5 0-1 5-2 1-3-2zM2823 1514l3 2-4 3-2-3zM2732 1514l4 0 0 6-4-1-1-3zM2640 1512l4 1 1 4-1 3-3 1-4-3 1-5zM2836 1506l3 2-3 3-2-2zM2708 1504l8 6-2 2-5 4-3-3 0-7zM2772 1500l3 3-1 3-2 1-2-3zM2798 1496l3 2-3 4-2-2zM2742 1496l3 2 0 4-5 5-2-1 0-3 1-5zM2634 1494l3 2-1 3-2 1-2-2 0-2zM2688 1494l3-2 7 2 0 2-5 4-3-2zM2667 1480l3 3-3 3-3-2 1-3zM2756 1480l4-1 3 1 3 4-2 7-3 0-5-3-2-4zM2738 1488l-1 2-5 2 0 6-9 0-3 4-3 2-7-10-4 0-4-3-4 1-2-2 2-4-2-4 4-3 6 3 2 2-1 2 2 2 3 0 2 4 12 1 2-3-2-2-7-1-1-7 4-4 2 0 2 4 4 1 2 5 4 0zM2870 1474l2 2 0 4-3 3 2 7-5 4-3-2-1-8 3-6zM2642 1471l2 2-2 3-2-2zM2750 1471l4 1 0 4-4-1zM2746 1470l2 2 0 2-8 2-2-2 3-4zM2726 1469l6 1-2 5-5-1zM2852 1466l2 2 0 2-3 4-3-4zM2872 1467l6-3 6 6 2-4 4 0 2-2 6 0 2 6-2 6-3 0-3-3-8-1-2 2 2 4 5-1 3 1 2 6-2 5-4 0-4-5-4 0-3-2-1-8-6-4zM2691 1462l3 0 3 2-1 4-4-1-2-3zM2621 1459l2 1 1 3-4 2-2-1 0-2zM2856 1456l3 1 1 3 0 2-3 2-3-1 0-4zM3200 1452l0 3-1 2-6 1-3 2-2-1 0-3 4-4zM2874 1452l0 3-4 3-4 0-2-2 1-2 5-2zM3223 1450l3 2 1 4 3 2-2 4-5 2-5-6 1-4zM3186 1444l4 4-2 2-3 2-3-2-1-2zM2916 1444l4 0 2 4 0 6 4 0 1 9 3 3-1 4 5 2 0 4-7 0-5-7-4-2-1-7 3-3 0-3-4 0-3-1 0-6zM2900 1444l0 2-5 4-6-3 1-2 8-3zM3159 1438l3 2-3 2-3-2zM3257 1440l-1 8-2 4-8 2-4-4-4 0-2-2 2-4 4 0 2-4 4 0 2-2 3 0zM3168 1438l4 0 0 3-4 1zM3228 1438l4-2 4 4 0 2-2 2-6-2zM2930 1436l3 2 0 4-3 5-2 1-3-2 2-4-1-4zM2611 1434l6 0 1 5-2 3-6-2zM2627 1432l5 1 3 5-1 2-6 0-2-4zM3161 1426l3 4-4 2-2-2zM2670 1427l6 0 0 5-2 1-4-1zM3188 1425l2 5 4 6 0 2-8 4-4-1-4 3-2-1-1-3 3-4 6-2-1-6 3-3zM2916 1422l5 0 1 4-3 2-2 0-1-3zM2940 1421l0 7-6 0 0-3 3-4zM2678 1420l3 2-1 2-2 2-2-2 0-3zM2865 1420l3 0 2 5 0 3-2 0-4-2-1-4zM3254 1416l4 0 4 5 1 3 5 6-1 2-3 0-4-2-1-4-5-4zM2766 1416l-2 4-4-1 0-3zM2945 1414l3 0 2 4 6 2 0 7-3 0-3-5-4 2-2-1zM3177 1414l3 0 2 4 0 4-4 4-4-4 2-4-2-2zM3216 1416l0 3-3 1-8 2-3-2 2-4 6-4 4 2zM2754 1409l4 1 0 4-4 0zM2610 1408l2 1 0 3-2 2-3-4zM3279 1408l5 0 0 4-4 0zM2924 1407l2 3 0 2-6 4-2-1-2-3 2-4zM2897 1402l3 1 0 7 4 3-2 3-2 1-3-1-4-8 1-4zM3270 1395l2 1 3 6-3 4-3-1-1-6 0-3zM2932 1394l4 3 2 3-2 4-2 2-2-1 0-3-4-5 0-2zM2782 1392l2 2 2 4-5 6-2-1-1-5zM2664 1392l6 2 0 4-3 2-3-2-2-2zM3164 1394l6-3 4 3 2 3-5 3-3-2-4 0zM3158 1388l2 0 0 3-4 3 3 4-3 2-2-2 1-4-2-2 2-4zM3274 1386l3 2-3 4-2-2zM3290 1385l3 2-3 3-2-2zM2926 1383l2 3-3 2-2 0-1-3zM2780 1382l2 2 0 3-2 1-3-2 1-2zM2654 1382l3 2-3 2-2-2zM2674 1380l2 1 3 7-5 2-2 0-1-3 1-2 0-3zM3156 1379l3 2-3 3-2-2zM3148 1378l2 3-4 3-2-4zM3168 1376l4 4-1 4 1 4-2 2-2-2-2-10zM2974 1382l0 3-7-1-3 2-4-2-2-4 4-2 4 3 4-5 2 1zM2665 1375l-1 5-6 0 0-4 4-2zM3226 1370l0 3-2 5-4 0-1-2 3-5zM2562 1370l6-1 2 5 6 2 0 3-4 2-4-3-3 0-3-6zM2600 1368l4 0 1 4-5 0zM2581 1368l5 0-1 4-5-1zM2632 1366l4 4-4 4-3-4zM2596 1367l0 3-4 2-1-4zM3142 1367l4-1 2 0 2 4-4 2-4-2zM2542 1366l2 0 1 6-4 2-3-2 0-4zM3275 1362l3 2-3 2-3-2zM2922 1362l2-2 3 1 1 3-4 2-2-2zM2936 1360l4-1 0 4-4 1zM3286 1356l5 3-1 5-3 2-4-2-1-3 0-3zM3246 1354l2 2 0 2 4 2 4 4-1 4-5 2 0 2-2 1-3-2 3-7-2-4-2-2zM2994 1355l1 3-2 2-3 0 0-4zM2988 1355l0 2-4 5-2 0-3-1 0-3 7-4zM2795 1354l4 0 1 3-4 1zM2954 1353l2 2-1 5-3 4-4 0 0-5 4-6zM3198 1352l4 2 0 3-4-1zM2578 1352l2 2 0 2-2 2-3-2 1-3zM3146 1350l4-1 0 3-4 1zM3194 1348l2 2-2 3-3-2zM2862 1348l2 2 0 3-4 2-2-3zM3225 1346l3 2-1 3-2 1-3-2 1-2zM2598 1346l4 0 3 4 1 2-2 2-4 0-2-4zM3009 1344l2 2 1 2-4 4-2-2 0-2 0-2zM2970 1344l3 0 3 2 1 2-2 3-3 0-4-3 0-2zM2810 1344l3 2-3 2-2-2zM2548 1348l6-6 3 0 3 8 8 2 1 8-3 2-4-2-3 2-5-4 0-5-6-3zM3134 1342l3 1 4-1 3 4-4 4 2 6-5 3-2-1-3-10 0-4zM2640 1342l4-3 3 1 2 2 0 3-1 2-4 0-4-2zM2546 1339l2 1 0 2-2 2-3-2zM3300 1338l1 4-1 4-4 2-6-4 0-4 4 0 4-2zM2998 1334l4 0 0 4-4 0zM2798 1334l3 2-3 2-2-2zM2971 1332l3 2-3 2-3-2zM2568 1332l4 1-1 3-4 0zM3066 1331l2 2-2 3-2-2zM2547 1332l5 0 0 4-4 0zM3206 1331l2 0 4 4-2 4-4-1-2-4zM3262 1329l4 3 0 2-4 2-3-2 1-4zM3012 1330l4 0 1 4-5 0zM3240 1328l4 1 0 4-4-1zM2649 1327l2 1 1 2-4 2-2-2zM2574 1325l2-1 3 2 1 4-2 0-4-1zM3018 1323l4 3-4 4-2-2 0-3zM2786 1323l4-1 1 4-4 0zM2466 1320l2 2 0 2-2 2-3-2 1-3zM2977 1320l5 0 1 2-1 2-4 0zM2833 1320l5 0 0 2-2 2-2 0zM3012 1319l4 1 0 4-4 0zM3130 1318l4-1 4 3 1 3-5 1-4-3zM3073 1318l1 7-2 3-3 0-3-2-2 2-4 0 0-4 4-1 2 1 3-7zM2532 1318l4-2 4 3 4 1 0 2-2 2-4 0-4-1zM2935 1316l4 0-1 4-4 0zM2546 1316l6-2 2 1 0 3-1 1-5 1zM3189 1310l5 2-1 4-4-1zM2980 1310l6 0 0 4-2 0-3-1zM2896 1308l2 4-4 2-2-2zM3036 1308l2 3-4 6-4 1-2-4 0-2 2-2zM2446 1307l2-1 6 4 2 4-2 5-6 1-2-2 0-2 2-2-2-4zM2551 1308l3-2 2 2 2-1 4 3-3 2-3-2-2 2-2-2zM2578 1306l2-1 4 3 1 2-2 4-3 0-3-4-1-2zM3020 1304l4 4-4 2-2-1 0-3zM3057 1302l3 2 0 4-2 1-4-3zM3098 1302l3 2-3 4 3 5-4 2-1 3 1 2 5 0 0 2-2 2-3-1-4 1-5-8-4 0 0-2 0-2 5 0 1-2 1-3 3-4zM3199 1302l3-2 4 1 2 7-6 0-4-4zM3011 1300l3 2-3 4-3-2zM3061 1299l3 2-3 3-3-2zM2952 1300l2-1 4 1 0 4-2 2-4-2zM2848 1296l3 2 1 2-4 4-3-2-1-3zM2812 1296l2 2-2 3-2-2zM3105 1298l4-2 3 1 0 3-2 2 2 4 2-2 0-4 2-2 6 2 2 2-4 8-6 2-4-4-3 2-3-3zM2826 1294l0 4-3 3-3 0-1-4 1-3zM3132 1294l0 2-2 2-4 0 0-4 4-2zM3246 1292l4 0 0 5-4-1zM3154 1292l4 0 0 4-4 0zM2596 1292l5-1 1 4-5 0zM2648 1290l2 0 4 4 2 4-2 3-5-1-1-4-2-2zM3291 1290l3 0 2 4 0 2-4 0-2-4zM2586 1292l5-4 4 5-3 2-6-1zM3088 1288l3 4 1 5-6 4 2 4-1 3-3 2-4-2-5 1-7-8 0-3 6-3 4 1 6-8zM2418 1287l4 1 0 6-4-1-2-3zM2991 1286l3 2-3 3-3-2zM3047 1286l5 2-1 3-5-1zM2800 1286l4-2 4 2 2 3-4 3-4-1-2-2zM3078 1286l-1 6-3 2-4-2-4 4-8-4 1-4 3 0 6-4 4 2 4-2zM2430 1284l6 0 1 6-1 2-5-1-2-5zM3126 1282l4 1 1 3-1 2-5 0-1-4zM2426 1282l2 1 1 3-3 2-2-4zM3108 1282l5-1 1 5-2 0-3-1zM3091 1283l4-3 3 2 2-1 2 1 2 5-6 3-6-4zM3061 1280l1 3-2 5-5 0-1-4 4-4zM2474 1280l4 0 1 4-4 0zM2530 1282l0 2-2 6-7-2-5 2-4 10-2 2-3 0-3 4-2 2-5-3 0-7 11-6-2-3-6 1-4 4-4-2 0-2 1-2 5 0 2-7 4-1 5 6 3-2 1-4 5-2 2 1 2 4 5-2zM2492 1278l4 3-4 4-3-3 1-2zM2450 1283l8-5 6 6 4-2 4 2 2 6 6-2 2 0 1 3-3 3-8 0-4 2-4-2-6-5-1-3-6 0zM3193 1276l3 2-3 4-3-2zM2617 1275l3 3-4 2-2-2zM3120 1274l0 3-6 3-2-1 0-3 4-4zM3078 1273l4-1 2 2 4 2 0 3-4 2-2-1-1-3-3-1zM2554 1272l2 0 3 7-1 6-3 2-6-7 1-6zM3198 1272l3-1 4 3 6-1 0 7-2 2-4-4-4 0-3-4zM2530 1272l4 0 2 4-2 2-2 0-2-2zM2868 1271l2-1 4 2 2 4-5 0-3-2zM2446 1270l4 0 0 5-4-1zM2404 1269l0 5-6 1 0-5zM2500 1268l6 0 0 5-2 3-6-1zM2575 1267l3 2-3 3-3-2zM2542 1267l2 1 2 6-3 2-3 0 0-8zM3279 1266l2 2-1 6-2 0-2 0-1-4zM3272 1267l1 4-3 3-3 0-1-3 2-3zM3224 1266l2 1 0 3-3 4-4-5zM2614 1266l7 2 1 3-1 3-4 0-3-5zM3021 1266l3 2-4 4-2-1 0-3zM3254 1264l2 0 0 3-3 2-3-3zM3169 1264l5 0 2 2 0 3-3 1-3-2zM2636 1262l3 2-3 3-2-2zM3259 1262l5 0 0 4-4 1-2-2zM3042 1262l5 0 1 4-5 0zM2842 1262l4-2 4 4 1 6 3 3 0 3-7-2-3-6-2-3zM2806 1260l6 4-4 4 4 5 0 6-4 3-4-2 0-4-4-4 0-6zM2540 1260l2 2 0 2-2 2-2 0-1-3zM2515 1260l2 2 1 4-4 4-2-2 0-4zM2570 1260l2 3-3 3-5-2 0-3 4-2zM2530 1258l2 2 1 2-4 4-2-1-1-4zM3028 1257l3 2-3 3-2-2zM2952 1257l2 1 0 2-3 2-3-2zM3086 1256l2 3 0 3-2 1-4-3zM2448 1256l2 2-2 3-3-2zM3074 1252l3 2-3 4-2-2zM2404 1280l6-8-6-2 0-4 4-2 8 0 2-2-2-2-4-2 0-4 2-2 4 1 4 5 6-2 4 0 2 6 4 1 4 5-1 3-3 1-2-2-4-4-8-2-2 2-4 14-4 0-4 2-4 0zM2498 1250l2 2-2 4-3-2zM3259 1250l5 2-1 4-5-2zM3162 1252l1-2 5 0 2 3-1 1-5 1zM2592 1252l4-2 4 3 4 0 0 3-2 2-3-2-3 2-2-2zM3108 1250l4 0 2 2 0 2-5 0zM2476 1248l1 4-6 6-3 0-4-4 2-4zM2540 1248l-2 2-4 2-6 2-3-2 1-4 6-2 5 0zM2816 1246l2 0 2 2 8 3-1 5 3 6-2 7 2 2 6-7 4 0 0 6-3 3-1 5-4 0-3-3-3 3-4 0 0-9-4-3-4-10 2-4-2-4zM2458 1246l0 2-2 2-6 2-2 0 0-2 2-5 4-1zM3000 1242l3 2-3 4-2-2zM2411 1244l3-2 8 2 0 6-4 1-4-3-3-1zM2514 1241l6 1 0 6-7-2-1-2zM2392 1242l4-2 6 4 4-2 4 4-4 6-3 1-5 4-2-2-1-5-3-3zM3009 1241l3-2 2 2 3-1 3 1 0 3-3 2-7-2zM3126 1236l3 2-3 3-2-2zM3068 1236l2 3-4 3-2-2zM2336 1236l3 2-1 3-2 1-3-3zM2639 1234l2 2 1 2-4 3-2-3zM3104 1234l2 2-2 4-2-2-1-2zM3204 1234l4-1 3 1 1 2-4 3-4-1zM2602 1232l2 4-1 2-3 1-2-3zM2852 1232l3 2 1 7-2 3-8-4 0-4zM2620 1232l8 3 0 5 1 2-1 2-4 0-4-4zM2944 1231l2 2 0 3-2 0-3-2 1-2zM2830 1230l4 0 4 2 5 0 1 4-4 6-7-1-3-8zM3293 1230l3 2-4 5-2-1-1-3zM3142 1226l2 2-2 3-3-2zM2394 1228l7-2 3 5-1 3-3 2-4-2-4-4zM3093 1225l3 2-3 3-3-2zM3073 1224l3 4-4 2-2-1 0-3zM2465 1224l4 0-1 4-4 0zM2622 1222l0 3-3 3-3 0-2-2 3-4zM2354 1222l4 0 0 6-4-1zM2386 1220l4 6-4 4-4-2 1-6zM2594 1220l2 0 1 4-3 3-2-1 0-4zM2441 1220l1 3-2 2-4 0 0-3 2-2zM3196 1220l3-2 3 3 4-2 2 1 1 2-9 6-2-2zM2342 1218l5 1-1 5-6 0 0-2zM3088 1214l2 2 0 3-2 1-2-2 0-2zM3288 1214l3 2-3 3-3-3zM2853 1214l0 8-8-2-2 6-3 1-6-2 0-3 5-6 7 0 4-4zM2556 1211l5-1 1 5-5 0zM2476 1210l4 0 0 4-4 0zM2408 1209l4 1 0 4-4 0zM3209 1208l3 0 0 3-4 3-2 0 0-3zM2910 1208l4 0 1 4-5 2-2-3zM2864 1207l4-1 6 4 0 2-4 3 0 5-6 0zM2434 1206l4 2 0 4-5 0-1-4zM3102 1205l1-1 4-1 2 1 1 2-2 2-4 0-2 0zM2387 1202l3 0 4 4 0 4-6 0 0-4-2-2zM2367 1202l0 5-7-1 0-3 5-2zM2334 1197l2 2 0 5-4 6-4-3-1-3zM2632 1196l1 4-7 2 0-3 4-3zM2348 1196l4 1 0 3-4 2 1 4 3 0 2 2 2 0 0 4-3 0-1-2-6 0 0-4-2-2 2-4zM3070 1196l4 0 1 4-5 0zM2373 1196l4 0-1 4-4-1zM2896 1196l4-1 0 3-4 1zM2580 1193l4 1 0 2-1 2-4-1zM2868 1192l3 0 3 6-2 2-2 0-2-2zM2886 1190l2 2-2 4-3-2zM2364 1190l4 4-3 4-4-3 1-3zM2602 1190l4 4-5 3-2-1-1-2zM2381 1190l3-2 3 2 1 2-5 3-3-2zM2622 1187l6 1 0 4-4 0-2-2zM3200 1184l2 2-2 4-2-2zM2902 1184l4-4 4 2 0 3 0 1-5 1zM2434 1180l2 2 0 3-2 1-2-2 0-2zM2500 1178l2 2-2 3-2-2zM2365 1178l1 4-3 2-3 0-2-2 1-2zM2562 1180l2-3 7 0 2 1 1 4-4 2-4-2-4 0zM2619 1176l3-2 7 2 1 4-2 2-6 0-3-3zM3107 1174l3 1 0 3-4 4-3-1-1-3zM2902 1174l0 5-5 3-4-2 0-2 5-5zM3010 1172l4 4-2 4-2 1-4-4zM3058 1170l2 4-2 2-2-1-1-3zM2573 1172l5-2 2 4-3 2-3 0zM2916 1172l4-2 4 2 4-2 3 4-1 1-4-1-4 2-4-2zM2887 1168l3 2-2 10-4 0-2 0-1-6 2-5zM2502 1168l2 2-2 2-3-2zM2514 1166l3 2-1 3-2 1-2-2 0-2zM2902 1166l4-1 2 4 4 1 0 4-3 2-5-4-2-4zM3208 1162l2 2-2 3-2-2zM3004 1160l2 2-2 3-3-2zM2897 1159l2 1 1 2-4 4-2-1 0-3zM2982 1156l2 2 0 4-4 1-2-1-1-4zM3065 1158l3-2 4 0 0 3 0 1-4 1-2-1zM2916 1154l2-2 6 4 3 4-1 2-4 2-6-4-2-2zM2585 1152l3 0 3 3 1 3 0 6-5-1-1-3-3-4zM3211 1151l1 5-6 0 0-4 3-2zM2624 1152l4-1 1 3-3 2-2 0zM2569 1150l4 0-1 4-4 0zM3281 1148l3 2-3 4-3-2zM2890 1149l4 1 2 4-1 2-5 0-1-5zM2378 1148l3 2-3 4-2-2zM2524 1148l2 2-2 3-3-2zM2957 1148l5 1 0 3-1 2-3 0-2-2 0-2zM3222 1148l6 0 2 6-2 0-6-2zM2538 1147l2 3-3 3-2-1-1-3zM2484 1144l3 3-3 3-2-2 0-2zM2330 1146l4-2 3 3-3 2-3-1zM2996 1144l4-1 0 3-4 1zM2378 1142l4-2 2 3-3 3zM3220 1140l3 2-1 2-2 1-2-2 0-3zM3204 1139l2 2-2 3-3-2zM2908 1139l6-1 6 6-6 4-6-2zM2949 1134l5 2 2 3-6 7-4-2 2-4-2-4zM2378 1133l0 5-6 0 0-4 4-2zM2968 1132l4 0 0 5-4-1zM2615 1132l5 1 2 5-2 6-4 3 2 2 0 3-2 0-3-2 1-3-6-1-1-2 1-8zM3224 1131l6 1 0 5-5-1-1-2zM3128 1131l0 4-2 1-1 2-3 0-1-3 3-4zM3214 1129l4 3 0 8-2 2-6-2-2-3 4-7zM3294 1128l2 2-2 2-2-2zM2965 1126l1 3-3 3-3 0 0-6zM2926 1125l3 2-1 3-2 2-2-4 0-2zM2944 1126l2 4-2 2-9 4-5-4 2-3 7-5zM2624 1123l4 4-1 3-3 2-3-2 0-5zM2350 1120l3 2-3 3-2-2zM3152 1120l-2 4-3 2-3-3 1-3zM2995 1120l5 0 0 6-6-1 0-3zM3023 1118l3 2-2 4-2 0-3-3zM2926 1116l8 2 0 2-3 4-3 0-4-4 0-2zM3042 1112l3 2-3 4-2-2zM3230 1112l4 6-1 5-2 1-5-2-3 2-2 0 0-8 3 0 3-4zM3158 1110l4 2-2 4-2 2-4-4zM2610 1110l4 2 0 4-4-2zM2483 1108l3 3-4 3-2-4zM3226 1107l2 2-2 3-2-2zM3241 1108l1-2 4 0 4 2 4 0 2 2-9 5zM3273 1105l3 0 4 3-1 4-5 0-2-4zM3292 1102l4 1 0 5-4-1zM2942 1102l4 2-4 4-2-2 0-2zM2922 1104l4-2 4 3 6-2 2 3-2 4 2 2 6-2 3 4-1 3-4 3-4-4-4 0-4-6-7 2zM3014 1100l2 2-2 4-2-2zM2974 1102l2-2 6 3 0 4-2 1-4-2-2-2zM2612 1098l2 2-2 3-4 4-5 1-1-3 2-4 2-1 3-2zM2350 1097l3 2-3 3-2-2zM3180 1094l4 2 0 2-3 2-3-2zM2550 1093l3 1 0 2 3 4-1 2-4-1 0-3-3-2zM2535 1090l2 2 1 2-4 2-2 0 0-3zM3284 1090l2 2-2 3-2-2zM3158 1088l2 2 0 4-2 1-3-2 1-3zM3053 1088l3 2-3 4-3-2zM2932 1092l2-3 4-1 7 4 1 2-6 6-4-3zM3148 1086l2 2-2 4-3-2zM3288 1085l8 1 0 6-3 2-5-3-2-2zM2592 1084l10-1 0 9-4 0-2-2-4-3zM3183 1085l3-5 5 0 4 4 3 0 2 4-3 3-4-1-3 2-6-4zM2934 1080l4 0 1 2-3 2-2 0zM3300 1076l3 2-3 2-2-2zM3182 1075l4 1 0 4-4-1zM2381 1075l5 1 1 3-2 3-3-1-2-3zM2507 1074l4 0 1 4-4 0zM3260 1072l7 0 3 2-2 4-4 2-4-4zM3166 1071l2 1 1 3-3 3-2-2 0-4zM3119 1070l1 8-6 4-3 0-3-2 1-2 7-8zM2394 1068l2 2 0 2-3 3-2-1-1-3zM3135 1068l4 2-1 3-4-1zM2582 1068l3 2-3 2-2-2zM3154 1065l7 3-3 6-2 2-3 0-4-5zM3172 1064l2 0 2 4 0 2-3 2-3-4 0-3zM3262 1062l2 1 1 3-5 6-2-2 0-2zM3076 1061l3 0 3 3-1 4-3 0-2-2zM3162 1060l3 2-3 3-2-2zM3032 1058l3 2-3 3-2-3zM3020 1059l3-1 3 0 1 3-5 2-2-1zM2338 1057l5 0 3 5-2 5-6-2-2-5zM2420 1054l3 2-3 3-2-2zM3278 1054l3 2 0 5-3 3 2 6-3 2-5-1 0-3 2-5-1-7zM2548 1052l2 1 0 3-3 2-3-3zM3096 1051l4 1 0 4-3 0-2-2zM2583 1058l1-3 6-5 2 1 4 5 4-3 4 3 6-6 2 2-3 8-3 0-2-2-6 6-4-3-6 1-4-2zM3151 1055l1-3 2-2 6 0 3 2-1 2-6 5-2-1zM2974 1054l6-4 2 0 4 8-4 2-6-2-2-2zM3004 1048l4 0 4 3 0 3-6 0-3-4zM3142 1046l3 3-1 3-2 2-3-2 0-4zM3045 1046l3 2-1 3-2 1-3-2 1-2zM2428 1044l3 2-1 2-2 1-2-2 0-3zM2612 1040l0 6-4 4-4 0-2-4 2-3zM2446 1037l4 1 0 4-4-2zM2580 1036l6 0 0 8-7-1zM2509 1036l5 0-1 5-5-1zM2382 1034l3 2-3 4-2-2zM3298 1034l2 0 0 3-4 4-2-3zM3151 1032l3 0 2 4 3 1 5-1 0 8-4 3-6-3-2-2 0-5-2-2zM3039 1028l3 0 3 4 1 2-2 2-4-1-2-4zM3287 1026l3 2 1 5-1 3-6 0-2 0-1-6zM2602 1026l0 3-4 1-4 7-8-1 0-4 6-4 1-4zM3014 1024l-3 6-4 2-5 0-4-4 2-3 6 2 4-5zM2549 1016l1 4-4 0 0 4-3 0-1-4 4 0 0-4zM2429 1016l5 0-1 4-4 0zM3154 1015l4 0 3 3 2 4-1 4-6 0-4-8zM3138 1015l6-1 6 4 0 8-1 2-7 0-2-1 0-6-3-3zM2574 1014l3 2-1 2-2 1-2-2 0-3zM2601 1014l4 0 2 6-1 2-3 0-3-2zM2414 1014l4 0 1 3-5 0zM3116 1012l2 1 0 3-3 4-3-2 0-4zM3282 1010l2 0 1 3-4 4-3-3zM2453 1010l3 2-3 2-3-2zM3136 1005l3 2-3 3-2-2zM3298 1004l3 4-3 2-2-1 0-3zM2497 1005l5 1 0 5 2 0 2 2-2 3-3 0-1-4-3 0zM3008 1010l4-6 3 0 5 4 4-4 8 6 0 6-1 2-3 0-3-4-5-2-2 4-4 1-2-1zM3287 1004l4 0-1 4-3 0zM3050 1003l2 3-2 3-3 0-1-3zM2470 1004l2-1 6 3 1 4-3 0-4-1-3-3zM2534 1004l0 3-4 3-4 0-2-2 4-4 4-2zM3120 1002l3 2-2 6-3 0-2-2-1-3zM2338 1002l4 0 4 4 1 4-3 1-4-3-3-3zM2572 1001l3 2-3 3-2-2zM3090 999l3 1 2 2-1 3-3 2-4-4zM2585 998l-1 4-4 2-2-1 1-4 4-1zM3101 995l8-3 2 7 3 1 0 2-4 1-1-3-7 2zM2444 991l4-1 2 2 2 6-2 3-5 1-3-2 0-4zM2534 993l0 3-3 2-3 0-2 3-6 3-6-4-2 1-2-2 0-2 4-3 11 0 4-4 4 0zM2358 986l4 0 1 3-1 3-4-2zM2426 990l2-2 3 0 0-4 3-2 5 0 4 3-1 5-3 2-7-3 0 3-4 0zM3126 980l2 4-2 2-4-3zM2518 978l2-1 4-1 3 2 3 0 2 4-2 2-4-2-3 1-3-1zM2444 978l8-2 2 6 0 2-5 2-5-6zM3113 972l3 4-4 2-2-3zM2439 972l5 2 0 4-6-1zM3104 972l2 0 4 4-2 4-3 3-3-1 0-3-2-3 0-3zM2346 970l2 2 0 2-4 4-2-1 0-3zM3054 970l2-2 6 1 5 3 1 4 2 3 6-2 4 6-2 5 0 4-5 0-1-6-2-4-4 0-4-4-6 0-2-6zM2495 966l2 2 1 2-4 2-2-3zM2480 967l4 0 4 7 3 2-1 7-3 0-1-3-7-2-1-2-1-3zM2334 966l5 2-1 6 3 0-1 4-2 0-1-4-4-2zM3082 965l3 3-4 4-3 0 0-3zM3148 965l4 1-1 4-4-2zM2404 962l2 4-3 2-3-2zM2532 959l10 1 4 5 4 3 2 4 0 2-6 4-2 3-6 1-2-5 6-3-4-10-2 1-2 3-7 3-3-2 4-5 4-2zM2492 957l0 5-2 2-8-2 0-4 7-2zM2466 957l2-1 6 3 0 5-2 1-5-2zM3081 956l9 0 0 6-5 0-4-3zM3072 954l2 0 0 10-2 1-2-1-2-7zM2500 954l2 2-2 2-3-2zM2384 955l2-1 4 0 2 4-1 2-5 0-2-3zM2446 954l4 0 2 3 7-1 3 5 2 1 2 6 6 1 1 5-3 3 0 3 4 2-2 4-4 0-3 2-9-3 0-2 2-3 3-10-8-2-1-4-2-2-4 0-2-4zM3048 952l3 1 3 5-2 6-2 1-4-2 0-9zM2368 952l4 0 1 4-4 0-1-2zM3068 950l0 4-4 4 0 5-6 1-2-5 2-6zM3098 947l3 1 1 3-6 3-2 0 0-4zM2400 946l3 2-3 3-3-3zM2348 943l2 2 0 3-2 0-2-2 0-2zM2480 942l2 1 2 7-2 7-2 1-4-1-2-2 4-5-2-4zM2336 936l4 1 0 4-4-1zM2498 934l4 0 0 4-4-1zM2361 936l5-4 4 3 4-2 3 2-1 5-2 0-4-2-4 2-3 0zM2359 915l3-1 6 2 3 4 0 3-3 1-4-2-5 2-1-4zM2356 898l4 2 0 4 2 2-2 3-2 1-3-2-1-9zM2362 881l3 1 0 5 1 1 2 0 4-4 4 4-1 4-3 0-2 2 1 2 5 0 0 3-10 9-2-1 0-5-2-2-1-8-4-2 3-8zM2367 880l5 0 0 4-4 0zM2346 880l3 0 1 3 4 1 0 4-4 0 0-4-4 0zM2356 863l8 5 2 3-2 3-5 0-4 4-5-3-2-7zM1900 664l-2 2 2 4-1 4-5 6-4 8-6-1-2-7 2-4-2-2-4 2 2 4 0 2-8 0-4-2-4 1-3 5 2 4-2 8 5 2 2 2 2-2 4 0 0 6-1 2-3 0-3-4-3 2-1 4-3 0-2-2 1-6-3-1-4 7 7 10-3 4-4 0-5-2-2 5 2 2 4-2 7 1 0 3-3 4-3 1-4-2-2 2 1 2 5 0 2 3-8 8 1 5-5 2-3-3-1-5-2-1-2 1 0 6-6 2-2-1-4 1 3 4 6 0 3-2 4 1 1 2-3 3 2 6-4 2-5-2-2 2 2 2 5 1 2 13 5 3-1 2-3 2 0 3-3 4-10 0-2 2 2 2 6 0 5-2 4 4 5-2 3 2-3 3-2 5-9 0-3 7-4 1-1 8 5 4 0 2-2 7-3 3 2 4-1 2-3 2-5-1-4 3 0 2 5 5-1 3-4 0-2-2-3 1 1 3 4 0 4 4 0 11 6 1 2 4-15 10 5 6-10 22 2 2 4 0 0 2-2 4 0 5-6 2 3 5-1 2-4 4 4 4 2 4 4 2-2 4-4 4 0 2 2 0 2 3-4 2-2-3-3 0-3 4 0 4-4 2 2 8 2 1 4 0 4 5-2 4-10-1-2 1 1 6 5 4-2 6 2 3 2 7-2 4 0 4-2 2-6-2 1-7-2-1-3 2 2 3-2 5 2 5 3 1 1 4-3 2-5-1 0 3-6 4 2 2 3 0 3 5-6 10 7 9-1 2-6 0-2 2 0 3 2 2 4 1 2 2-7 6 0 2-3 4 2 5-3 3 7 7 6 1 1 2-5 6-5-2-5 7 2 7-5 6-6 0-4-4 2-5 5-3 0-7 4-3-2-4-3 2-1 6-4 2-4-2-4 6 0 3 7 5-1 5 6 4 0 3-6 1-1 3 3 2 2-2 3 0 3 6-4 11-4-1 0-6-5-5-3 1-4-3-2 1 6 10 2-2 3 2 1 2-3 2 7 3 3 6-1 5-5 4-5-2-2-12 2-4-3-4-3 3 1 11-3 4 2 4 0 10 2 2 2-4 2-2 4 4 4 1 1 3-3 2-4-1-4 3-3-2-5 2-5-3-1 3 3 4-3 2-7 0-3-7 2-5-2-2-3 2 2 4-2 9 5 5 2-2 6 2 2-2 4 1 2-1 0-6 6-4 3 1 1 2-2 3 2 5-6 3-1 4-5 6-4 0-1-2 2-3-2-4-8 3-10-2-3-4-3 2 1 2 4 1 2 4 2-1 4 2-1 6 9 5-2 9 6 2 0 10 2 1 0 3-2 2-3-2 1-4-6-2 0-7-2-1-4 2-4-4-4 3 5 11-1 10 2 2 4-2-1-2 3-2 2 2-2 2 0 2 3 2 3-1 2 2 0 3-4 0-2 5-3 1-5-3-1-5-4-2-4-4-1-6-6-2 0-4 4-3-3-4 2-4-1-3-4 1 0 4-4 1-7-4-1-2 2-4-2-2-14 6-3 0-3-2 1-4-1-2-6 3-2-2 0-3 4-2-4-10-4 0-4-4-2 4-2 1-4-3 0-4 4-2-1-8 3-4-6-3-6-7 0-4 6 2 2-3 3 0 1 5 4 4 4-6 4 0 4 7 6 1 4 11 4-1 0-4-11-16-9-2-2 4-2 1-2-3 0-4-6-2 0-2 3-4-1-2-4 0-2-4 4-2 6 2 1-4-5-2-4-6-4 1-2 4-2 1-4-4-7 2-3-1-1-3 3-6 4 0 8 4 4-5 3 0 2-2-3-5-12 4-8-6 1-14 7-5-1-5 4-1 1-3-5-6-3 1-1 4-3 1 1 5-3 3 0 4-7 5-5-1-2-4 2-4-4-6 0-4 3-2 6-2 2 0 2 5 3 0 0-4 3-5-3-2-2 2 0 4-4 0-2-6 2-6 4-4-3-2-4 6-8 0-12-14 3-2 2 1 3-1 7 6 2-6 6-4 1-2-2-2-7 4-4 0-1-2 0-4-5-2-4-4-4 0-1-6 3-4-4-4-2-8 2-4-3-4 1-2-4-4 2-2 4-2-2-4-6 3-4-1-2 4-4 1-2-1 0-3 2-2 0-5 4-4 5 2 3-4-4-2-5 4-4-3 0-3 5-2 1-8-1-1-4 1-2 5-8-1 0-6 3 0 2-5 5-4-3-3-6 6-3 0-3-2-1-2 2-2 6-3-1-5-7 3-1 5-6 5-7-4 0-4-2-1 0-3 2-2 2 1 1 4 3 2 3-8-1-3-6 1-4-2-4 4-4-2-3 5-6-1-5 5 4 5 4 0-1 4-3 0-2-2-4 0-4-6-4 2 0 4-6 4-4-4 2-3 6-2 0-3 8-6-2-6 3-4-1-2-5-2-3 6 2 6-5 0-3 4-4 0-6-3-2 1 0 8 3 4-3 2-4 0-2 2 4 2 2-2 2 0 4 2 0 4-4 0-6 4-4-2-2 2 3 4 0 4 3 2 0 3 6 3-2 6-4 2-6-2-2 2 2 2-3 2-3-2 2-2-2-2 0-4-4-4-2 0-3 2-5-2-2 2 3 3 4-3 5 4-1 6 3 4-4 5-8 1 0 2 2 4-6 18 0 3 2 3-2 8 4 4 3 8-6 4 1 6-2 2-1 12 6 4-1 3-4 3 6 4 0 4-2 4 0 6 2 4 0 4-4 2 1 4-3 6 2 5-1 3 3 4-2 4 4 2 0 4-4 2-3 5 3 5-2 4-1 6 3 6-3 4 3 6-2 7 2 3-2 6 0 4 4 7 0 3-3 2 1 4-2 4 2 3-2 3 2 7-3 4 0 2 3 3 0 15-4 5 2 6 2 2-4 6 0 8 4 6 0 4-2 4 0 4-2 4 2 2-1 19 9 5-3 5 0 3-6 4 0 6 2 2-2 4 0 13 3 7-2 7 2 2-2 5 5 4 3-2 0-3 2-2 0-2-4-3-2-6 3-3 7 2 4 11 2-2 1-4 2 0 8 6 11-6 6 2 1 4 3 1 2-3-6-2-2-5-6 3-2-2-4 2-11-6 0-4 3-2 4 2 2-2 0-5-2-1-6 0-2-2-1-6-6 2-3-4 0-4 5-2 5 4 1 2 5 2 4-2 5 2 2 4 1 8 3 2 1-4-1-2-1-8-4-2-2-4-4 0-1-6 11-10-2-6 2-4 2 0 2 0 4 8-7 16 4 4 9 2 0 8 8 4 2-4-5-2-1-6-4-4 2-6-2-2-4 2-2-2 3-6-3-4 0-2 4-2 4 0 2 8 3 0 3-2 4 0 3-4 5-3-4-5 2-6 6 2 3-5 3-1 4 6 2 0 1 2-3 4 2 6-7 2-3 8-2 0-2 4 3 2 4-4 3 2 1 6 11 0 1 10 11 0 3 4-7 4-2 4 2 2 3-2 6 0 3 4 4 0 0 4 4 2 0 4-2 2-6 0-6 4 0 3-4 4 2 3 6-4 4 4-2 3 2 3 10-2 2 7 4 2 1 4 3 3 2-3-1-9 5 0 4-4 2 2 0 2-3 8 9 4 0 10-6 2-1-9-11 1-2 4 2 1 6 1-1 5-3 5-5 2-3-2-2 3 1 2 5-1 2 1 2-2 4 0 0 4 2 3 6-4 2 1 2 7-7 2-3 0-2 3 2 2 0 5 2 2 3-2 0-6 5-3 3 1-1 7 4 2 0 7 3 4-1 2-4 3 1 3 3 0 0-6 6-2-4-5 1-2 7-5 4 4 0 5 2 5-1 8 7 0 8 4 2 8 0 2-4 4-6 0-2-2 0-6-8-5 0-4-4 0 0 3 2 2 0 3 4 3-2 4 3 4 1 5-4 3-4-2-4 2-2 4-3 0-2 2 0 2 7 2 3-6 6 0 3-1 6 4 0 5 6 2 0 5 1 1 6-1 1 5 3 1 3-5 5 0 1 5-2 4-6-1-2 4-5 2 1 3-2 4 2 5-1 2-3 2-4-2-1 3 4 5 5 0 2 3 3 0 1-10-4-5 2-4 4 0 2 4 3 2 0 2 5 8-2 6-4 4 2 4-2 6 6 4-2 3 2 3 1 6 5 0 4 6 4-2 8 2 0 6 6 4 4-2 6 3 0 4-2 5 0 2-2 2 0 4-4 5-6 3 2 4 8 2 4-5 2 0 0-3-4-4 1-2 5 0 2-3-4-5 2-6-4-3 4-9 2 0 6 2 1 6 4 2 2 2-3 6 4 4 5-4 0-1-3-3 0-5-4-3 0-4 3-3 5 3 5-6-3-2-1 2-9 2-2-2 2-6 4-4 3 1 3 5 4-6 4 0 7-8-1-4 2-4-4-2-1 2 1 6-3 1-5 6-6-1-2-3 4-3 2-2-2-2-4 0 0-4 5-2 4 2 3-4 2 0 7-5 3 0 2 2 3-2-1-3-6 2-2 0-4-5-2 7-3 0-3-2 0-7 2-3 2 0 4-2 2 0 10-7-2-3-6 4-3-2-1-2 5-9 3-2 7 3-1 5 4 8-1 5 1 2 4-2-2-4 2-4-3-4 0-2-5-4 4-7 4-3-1-5-3-2-2 2 2 4-3 2-3-3-6 1-2-4 5-6 5-1 2 0 3-4-1-3-4 3-6 0-2-1 0-3 4-2 5-6 6-2-1-4 4-4 0-2-2-2 2-6-2-2-6 2-2-4-2-5-3-3-1-4 2-2 4 4 4 0 2 6 6 3 3-1 0-4 3-4-4-4-6 0-4-6 4-2 4 3 2-3-2-3-3 2-3-1 1-5 4 0 1 3 3-2 3 2 4-1-2-3-4 0-3-4 7-10-2-2-4 5-8 3-4-3 0-4 2-3 4 0 8-8 0-12 3-6-1-7 2-1 5 3 1-3-5-2-1-7 5-3 3-8-2-2-2 0-6-2 0 4-3 0-3-1 0-3 2-2 3 0 1-4 4-1 2-3 4-2 3-4 2 0 3 2 2-2 0-4 2-4-1-2 5-5-2-3-4 2-3 0-3-4-4-1-1-4 3-5-2-6 4 0 4-2 6-1 2-3-3-2-11 4-2-2 0-2 4-3 3-5 3-3-4-11 4-6 0-3 2-2 8-1 1-3-5-3-2-6-4-4 2-10 3-2 3 0 0 6 3 2 5-6 3 0 1-2-1-3-5-1-2-3-5 1-3-2 0-4-1-1 1-8 4 1 0 7 2 1 7-2 5-5-4-3-2 2-2-1 0-3 2 0 2-4-5-2 0-5-5-2 0-3 4-4 2-1 5 4 3-2 0-4-3-3 1-6 2-2 2 0 2-4-2-1-3 2-3 0-2-3 2-4 4-2 6 2 2-2 4 0 2-2 0-2-3-2-3 3-7 2-5-5 0-2 4-2 6 2 2-6-4-2 0-3 3-1 5 2 1-2-1-3-4 0-2-2 1-3 4-2-4-10 0-6 3-2 2 0 2-2-2-3-3 1-1-3 2-2 2 1 5-4 6 0 1-2 2-9 9-7 0-3-6-1-3-2 4-8 4 0 5 2-1 8 5 0 3 4 3-2-1-3-3 1-3-2 1-2 3-2 0-3-6-3 0-3 4-2 0-3-6-1-2-5-6 3-10-5 2-3 5-1 0-4 3-4 0-4 4-4 8 2 0 2-4 3 2 3 5-3 7 3 1 2-4 8 5 3 0 4 6 1 2 6 6-4 4 3 4 1 4-4 4 2 0 3-6 5-6-2-3 2 4 8-5 14 1 2 3-1 2 1 3 4-1 4-2 2-6-6-3 2 3 6 6-2 4 4 2 6-4 2-6-5-2 1 1 6-3 0-6 8 3 2 2-4 3-2 1-5 3-1 10 6 4 0 3-5 3 1 0 8 2 4 4 6 4 10-4 4-1 4-5-2-2 2 0 5 1 2 5 0 0 4 8 5 4 6 0 4-8 6 0 4 6 0 1 5 4 3-1 6-5 2 1 4 5 0 1 2-3 6 3 2 4-2 3 4 5-2 4 0 4 6 2-1 0-4 4-1 4 2 4 6-2 3-2 1-4-2-2 1 2 6 6 3-2 3-2 1-5-2-4-5-4 3-7 1-1-3 2-4-4-4-3 2 2 4-1 5 1 1 5 0 2 4 3 0 3 4 1 4 2 1 3-2 3 2 0 3-4 0-2 2 2 4 10-6 2 1 2 3-15 8-7-6-3 2 1 4-4 6-2 1-3-1-2 2 1 2 8 2 4-9 4-1 4 6 0 4-5 2 1 3 4-1 1-5 4-1 2 1 2 5 5-1 4 3 0 4-2 2 1 4-2 4-3 3 2 8 6 2 6-5 3 4 4-1 3 2-2 4-6-1-8 3 2 3 6 4-1 4-4 2 0 4-3 3 1 3 5 2 0 4-8 5 2 3 4-2 2 3-2 10 4 9-1 4-3 4 4 6-2 5 2 1 3-2-1-4 4-4 3 3 1 4 3 3-1 2-5 0-1 2 4 6-1 2-5 4-4-2-2 5 2 2 4-1 4 4 4-4 4 4 4-2 2 0 0 6-4 1-2-4-2 2-4 8 4 4 4-1-2-4 3-4 3 0 2 2 0 3-5 3 1 2-2 4-2 12 4 3 2-1 2 2 0 2-4 2-1 2 3 2 1 4 2 2 6 0 1 3 4 3-1 2-5 1 0 3 3 2 1 2-5 14 3 1 2-5 4-2 2 0 4 5 4 0 4 7 0 4 4 4-2 4 0 4-3 2-5-2 1-5-6-3-3-4-5 2-4-4-3 2 2 4 4-1 3 5 5 0 2 6-4 10 1 4-3 4-5 2 0 2 2 3 2 0 1-5 4-1 3-4 3-1 0-8 8 0 7 12-1 2-2 2 4 6 4 0 1 2-3 6 3 2 4-6 3 2 6 0 5 2 5 6-1 2-3 2-3-2-3 1 2 3 2 0 3 4-4 6-5-1-2 1 4 5 1 5 4-1-1-3 2-2 2 0 2 2-1 4 1 2 6-3 4 0 1 3-1 4 6 4 4-4 9-1 1-1-1-4 1-3 6-1 6 4 2-5 5-1 1-3-2-1-3 4-7 2-2-1-2-4 6-3 0-4-6 2-2-2 0-2 3-2 1-4-5-1 1-5-2-2-3 2 2 6-3 6 3 4 1 4-4 4 0 6-5 0 0-6-3-1-2 3 3 4-3 4-5-3 1-5-2-2-3 1-8-4-1-7 3-3 2 1 1 3 2 1 2-1 0-5 2-2 6 0 3 2 1 2-3 4 1 2 4-2-2-4 2-5-2-5-8-5 1-5 5 1 2 3 6-5 4 4 2-1 2 0 3 4-1 4 0 3 4 1 1 8 5-2 0-4 4 0 4-3 3-7 4 0 3-2 4 2 4 2 3-3-2-2-5-1-2 2-3-2-1-3 4-3 6 2 6-4 3 2 4-2 4 4 3-1 2-3-2-2-1-1-5 3-4-4 2-4 4-2 0-6 4-2 3 2-1 8 2 2 2-2 2-6-4-4 0-4 4-4 0-3 3-3 9 0 3 4 3-2 0-2-4-3-1-9-1-2-4 2 0 8-3 3-3-1 0-4-4-4-1-2 5-3 2-4-3-3-1 2-6 0 0-6-2 0 0-3 1-1 3 0 1 4 3 2 2-2-3-6 3-4-1-4-2 2-2-2 1-4 2 0 2 3 2-1 3 0 1 4 4 1 8-7-1-3-1 0-4 4-5 1-2 0-2-5-3-1 0-5 5 0 9-6-2-3-5 0 0-4 3 0 2-3 5-1 2-4 4 0 3-4 3 0 3-4 4 1 2 3 3-2-1-2-4-2 0-5-2-4 4-3 8-12-4-2-2 4-6 0 0-3 2-3 0-4-4 0-5-3-3-7 4-3 4 0 6 7-1 6 3 0 2-2 0-4 2-2 3 0 3 4 2-2-1-4-5 0 0-4-4-11-1-5 3-2 4 0 3-2 3 3 5 1 3-2-2-4-4-2-4 4-8-6 0-6 4-3 3 0 3-3 5 0 1-1 0-9-3-2 1-4 6 2 3-2 3 2 0 6-3 3-3 6 2 4-2 2-3 1-1 2 3 2 2-2 3 0 2 4-2 4 2 2 2-2 3-6-5-6 3-2 3 1 2-3-6-2-1-6 3-3 5 4 3-3-2-2-4 0-2-6-4-2-6-7 2-2 5 1 6-12 6 1 2 3 7-2 4 4 3-1 7 4 4-3-2-2-5-2-3 0-6-2-2-4-5 4-3-2-2-4 0-4 8-1 2-2-4-5 0-4 4 0 3 4 1 0 2-3-2-2-4 1-2-6-10-6 3-4-3-6 4-3 8 1 2 6-4 7 3 1 2-5 4-1 5 11 3-2-3-5 6-5-3-3-3 2-2 0-6-6 4-4 6 3 3-1 0-2-5-4 4-5-5-3-1-4 3-2 3 2 2-4-3-1-3 3-4 0-2 2 0 3 4 1 1 8-5 3-2-1-2 0-3-2 1-2 4-2 0-4-8-2-2-2 2-4 6-8 7-1 3 1 2-2-2-2-4 0-2-1-5 4-3-1 0-2 2-6 4 0 3 2 3-2 2-6-2-2-3 0-1-4 4-4 0-4 4-6-2-4 4-4 0-4 2-3-2-5 2-6-3-2-2-6 6-5-3-5 3-9-1-5-4-4 0-4 6-3-2-7 0-8-1-2 1-10-2-4 3-14-3-4 3-7-1-2-1-7-5-5-6 1-2-2 0-2 4-1 4 1 2-2-2-4 1-4 5-5-2-4 2-3 0-6-2-5 4-4-5-5-1-2 5-6-1-6 1-6-3-6 1-4-3-4 2-2 0-4 2-4 1-10-1-6-4-4 0-3 3-3 0-8-2-4 3-5 0-13-3-3 4-8-1-4 1-5-3-4 1-4-3-4-5 2-5 0-6-5-2 7 2 2 4 0 4 2 3-2 3 2 0 2-5 7-5-5-2 2 2 6 2 2-2 3-6-3-2-6-3 2 1 2 3 2 1 4 5 2 3 4 2 5 5 1 0 3-4 3-5-4-4 3-6-7-4 4-8 2-1 1 1 5-4 3 2 3 6-2-2-5 3-2 5 1 2 6-3 4 0 4-5 2 0 2 4 4-6 7 3 5-7 4-4 6 0 2 4 1 2 1-2 8-2 1-3-2-5 1-5 4-3-2 0-5-4-1-1 2 3 4-2 5 4 3 0 4-4 5-4 2 0 7-4 6 1 7 3 3 7-7 3 0 3 3-3 7 4 3 0 2-2 2-4 0-7-9-1 3-4 0-4 4-6-6-4 4-2 0-6 8 3 2 5-6 4 0 2 2 2 0 2-4 3 0 3 2 0 4-1 2-5 0-2 4-2 0-4-2-6 3-4-3-4 0-6-5-2 2 4 5 5 2-1 6 2 1 4-2 5 1 1 2 0 4 2 2 4 0 1 2-3 6-4 0-2 3-4 1-2 4 2 2 5-5 7 1 2 3-4 3 0 4-3 3-5 0-10 7 0 4 2 4-2 6-7 6-1 5-2 1-4-2-2 2 0 2 4 2 6 0 2-1-1-3 3-4 6 1 2 5-6 8-4 4-8-1-2-3-6 0-7 8 1 5-2 5 2 2 2 0 4-4 9 7-2 13-5 0-1-4 1-4-4-1-1 1-1 8-4 1-3-7 1-5-5-3-1-4-1 0-7 2-4-2-2 2 2 3 4-1 3 2 4-2 3 2-4 7 5 5 0 4-3 3 2 5 0 6 2 2 2 6-6 4-2 7-6-1-2 1 4 8-2 5 0 4 0 1-6 0-1 1-1 10-3 4-1 4-3 1-9-3 0-4 5 0 3-3-2-1-8-2-2-3 4-3 4 1 1-3-3-2-2 2-4 0-2-5-4-2 0-3 6-3 0-3-4-4-6 0-6-2 1-6-4-2-4-6 2-5-1-3-2-3 1-3-1-4-4 2 0 2 4 3-2 3 0 5-4 5 4 4-4 7 1 5-6 6-6 0-1-2 4-4-2-4 2-7-2-1-5 0-1-4-4-2 0-2 2-4-1-2-3 0-4 5-4-1 0-2 2-4 4-2 1-2-2-2-3 0-2 4-3-2 3-6-3-4 1-5-4-2 0-3 2-2 2 1 3-4 5 0 0-3-2-2-4 4-2-1 0-3-4-2-4 8-3 1-9-9-1-3-4-2-2-3 1-2 5-3 3 1 3 4 2 0 4-6-1-3-8 0-4-5 0-10-2-2-4 2-5-4-3 1-4-1-4 2-5-4-5 0-2-2 3-4 7 2 4 2 4-1 1-3-5-7 2-3 6 0-1-4-3-4 0-12-2 0-2 1 0 4-2 3-5 3-4-2 0-3 3-3-2-6 3-5 4-2 5 4 3-4 3-1 3 1 0 5 3 3 4-12-2-2-4 2-6-2-2-6 4-4-2-2-6 4-2 2-4 2-2-2-8 4-2-2-1-4 5-1 4-5 4 0 4-4 5 2 3-1 0-2-6-5-4 4-8 0-4 6-6 0-2 5 1 3-3 4-5-2-3-4 1-4-5-5 4-5 2-2 6 5 8-3-2-8-4-2-2-4 9-10 0-2-5-4-1-4-3-1 0-5-5-1-1-2 0-2 4-1 2-3-3-2-5 4-4-3 2-4 6-2 0-2-4-3 2-5 4-1 2-3-2-2-4-1 0-6-5-1-3-4 7-9-3-3 2-8 0-5 2-7-2-4 1-4-2-2-3 2 2 4-2 8 0 3-2 2-6-6-4-2 2-3 3-2 0-2-2-2-3 2-2-3 2-7 6 0 2 2 3-4-10-4 1-3 2-3-4-2-2-2 2-6 4-6 0-4 2-2-2-4-3 2-4-2-1-4 4-6 2 0 4 2 4-3 4 1 2-2-2-2-4 2-3-1-2-5-3-1-4 1-1 6-3 3-4-1 0-4 2-4 5 0 0-2-3-8-6 0-3 2-2-2 0-3 3-1 2-4-2-2-4 0-1-3 3-3 11 0 1 4-4 5 2 3 4-5 5-1 1-3-5-5-4 0-3-4 3-9-5-3-2-4-3 2 5 5-2 3 4 6-2 2-11 0-1-4 4-2 2-2-7-4-3 2 2 4-1 2-3 2-3-2 1-4-3-3 1-5 4-3 4 3 4 0 2-1 0-5 3-2-1-4-8-4 4-4-4-8 3-4 1-6-2-5-3-1-5 2 0 4-2 2-3 2-5-2-2-4 4-4 0-4-4-2-2-4 4-2 1-3-1-1-7 1-3-5 1-2 3-1 4 3 4-4 4 0 2-2 0-6-2-1-8 0-3-3 0-2 3-3-1-5 1-2-5-4-3-5 0-7 10-2 4 2 2-4-2-1-5 0-1-5-3-2-1-4 0-4-2-1-2 1 1 4-1 6-3 2-3-2-6 0-2-4-4 2-4-3-1-3 3-5 4-3-2-2-10 4-2-2 0-8 4 0 2-2 4 0 5 2 6 2 2-5 4-1 1-2-2-3-6-1-4 5-2-2 0-3-5-3 0-7 5 0 2-2 0-2-4-2-2-6-3 0-1 5-8 3-2-2 3-8 7-8 4-7-2-9zM1724 1656l4-1 0 3-4 1zM1717 1651l3 2-3 3-3-2zM1726 1642l4 4-1 4-3 2-4-4 0-3zM1732 1642l0-3 3-2 7 0 2 3-6 6-4 0zM1696 1634l4 4 0 5-3 2-3-1-2-6zM1722 1630l1 4-5 2-1-4 3-2zM2087 1631l3-3 3 0 2 3 0 3 3 3 0 2-9 1-3-4zM1740 1624l4 0-1 5-5-1zM1702 1624l2-2 2 2 4 0 2 2-4 2-6-1zM2124 1622l2 4-6 2 0-4 2-2zM1694 1622l3 4-1 2-6 5-4 0-2-3 1-2 3 0 4-6zM1734 1620l2 2 2 4-5 4-5-2 0-4 1-2zM2086 1620l3 2-1 2-2 1-2-2 0-3zM2135 1619l9 3 0 4-1 4-5 1-4-3-1-6zM2076 1616l2 2-2 3-3-2zM2136 1611l2 2-2 3-2-2zM2152 1610l3 2 0 6-3 2-5-3 3-6zM1736 1605l5 5 1 4-6 6-4-4 0-7 1-3zM2128 1606l-1 2-4 2-5-2 0-2 6-2zM2084 1606l10-4 5 5 4-1 3 8-1 3-5 0-2-4-4-3-9-1zM2079 1602l1 2-4 6-6 2 0-2 2-4 0-4 2-2zM2146 1598l6-3 4 3 4-2 4 1 4 8 1 3-5 6-3 0-3-3 1-5-1-1-4 1-6-3-2-3zM1687 1593l3 2-3 3-3-2zM2172 1592l4 0 2 5 0 3-8-1-2-3zM1728 1591l2 2 0 3-2 0-2-2 0-2zM1674 1591l4 0 3 3-1 8-9-1-1-4zM1758 1592l0 2-2 4-4 0-2 4-4 4-2 0-4-3 1-8 6 1 7-6zM2133 1590l2-2 5 3 1 4-7 1zM2128 1586l3 3-3 3-2-2 0-2zM2158 1585l2 2-2 3-3-2zM1710 1583l2 2-2 3-2-2zM1693 1582l3 3-2 3-2 2-2-2-1-2zM2181 1580l2 2 1 4-1 4-3 1-3-2 1-5zM1762 1580l2 2-2 4-2 2-3-2-1-4zM1742 1573l4 3-4 5-4-3zM2159 1574l3-3 4 3 6-2 2 2-2 4 2 4 0 2-2 1-8-3-4 2-2-4zM2144 1571l2-1 4 2-1 6-3 0-2-2zM2075 1570l2 2-1 2-4 3-2 0-2-3 2-2zM1678 1568l1 4-3 3-4 0 0-4 2-2zM1653 1564l7-1 3 5 3 1 2 7-2 0-4-2-4 0 0-4-5-3zM2170 1561l4 1 0 4-4-2zM1756 1560l3 5-1 4-6 0-2 3-4 0-1-4 7-8zM2130 1559l2 5-6 6-5 0-1-2 8-9zM2079 1556l2 0 3 2 0 6-4 0-2-5zM2034 1556l3 0 3 2-1 4-5-2-1-2zM2042 1556l3-2 3 2 2-1 2 1 1 2-3 4-2 0-3-2zM1728 1553l2 2-2 3-2-2zM1660 1552l2 2-2 4-3-2zM1756 1552l2 3-4 3-2-1 0-3zM2174 1552l4 0 0 5-4-1zM1748 1549l2 2 0 3-2 1-2-2 0-3zM2103 1547l2 1 1 2-2 4-2 0-2 0 0-4zM1772 1543l2-2 6 1 0 3-4 3zM2035 1540l3 2-3 2-3-2zM2046 1536l4 2-1 3-3 1-4-2zM1725 1532l3 2-3 3-3-2zM2068 1528l3 2 0 4-3 2-4-4 1-2zM2038 1530l0 4-6 4-6-4 0-2 5 0 5-4zM1764 1527l4 1 2 3-2 3-4 0-2-4zM2026 1525l3 2-1 3-2 0-2-2 0-2zM2048 1520l3 1 3 5-2 6-2 0-6-6 2-4zM1782 1515l3 2-3 3-2-2zM2182 1514l4 4-2 2 0 4-2 0-3-3 2-2-1-3zM2038 1512l2 2-2 3-2-2zM2020 1512l6 4-2 6-2 2-4-2-2-6zM1650 1512l4 0 1 4-5 1zM2194 1511l3 1 1 2 0 3-4 1-2-2 0-2zM1726 1510l2 2 0 4-4 3-3-2 0-4zM1758 1506l1 6-3 3-2 1-6-4 0-2 3-2 2-2zM2034 1501l2 2-2 3-2-2zM1740 1500l4 4 0 4-5 4-3-3 2-3 0-4zM1767 1500l2-2 5 2 1 4-7 2zM1634 1497l5-2 2 1 1 2-4 3zM1658 1492l4 0 1 4-5 1zM1704 1492l4 2 0 3-5-1zM1747 1492l5 0 0 4-4 0zM2057 1490l4 0-1 5-4-1zM1766 1487l2 3-3 2-2 0-1-3zM2196 1488l8 0 1 4 2 0 7-6 3 0 0 6 3 4 0 8-4 2-3 4-5-1-5-5 0-10-6 0-3-4zM1624 1487l4-3 6 2 2 4-8 4-3-3zM2072 1478l4 2-3 4-3-2 0-4zM2025 1477l3 2-1 3-2 0-3-2 1-2zM2213 1476l3 2-1 3-2 1-3-2 1-2zM2201 1476l3 2-3 2-3-2zM1704 1474l3 2-3 3-2-2zM2116 1472l3 2 1 4-2 2-2 0-2 0-2-5zM2153 1470l2 0 1 3-4 2-2-3zM1758 1466l2 2-3 3-3-3zM2010 1464l6 2 1 2-2 3-3 0-2-3zM1774 1464l2-1 4 3 2 0 0 4-3 1-5-2-1-2zM1625 1468l5-6 4 0 8 6 0 2-8 4-6 0-2-2zM1738 1456l2 0 4 1 2 2 0 3-4 0-4-2zM2036 1456l0 4-2 0-5 6-3 2-2-2-1-4 5-6 4-2zM1624 1455l5 0 1 3-6 0zM1722 1454l6-3 3 1 1 4-3 2-5-1zM1788 1446l2 1 0 3-4 4-2 0-2-5 2-3zM2008 1446l0 2-2 6-3 4-3 0-2-5 2-5 4-2zM1756 1444l3 4-4 3-3-1 0-4zM1610 1444l0 3-2 2-2 0-1-4 3-2zM2212 1444l4-1 2 3 8 4 2 3 0 3-4 0-2-2-6 1-4-8zM2160 1444l2-2 4 0 1 3-3 2-3-1zM1704 1440l2 0 0 3-4 3-2-1 0-3zM1589 1440l5-1 6 2 0 3-1 4-5 1-1-3-4-3zM1720 1440l3-2 8 2 1 2-8 4-2-1zM1718 1434l2 6-6 4-4 0 0-4 4-6zM2038 1432l3 2-3 3-2-2zM1640 1432l1 2-1 6-4 2-2-1-2-3 4-6zM2006 1430l4 1 0 3-4 0zM2016 1428l3 2-3 4-2-2zM1794 1427l2 2-2 3-3-2zM2122 1425l3 2-3 3-2-2zM1994 1426l1-1 4-1 3 4-4 2-3-1zM1598 1425l6-1 2 4-2 2-2 1-4-3zM2081 1425l5-1 2 4-2 2-4 0zM1718 1420l3 2-3 2-2-2zM1616 1420l4 0-1 4-4 0zM1476 1414l2 2 0 2-2 2-2-2 0-3zM1585 1414l5 0 4 4 0 3-4 1-4-2zM2232 1413l2 3-2 5-7 2-1-7zM1744 1413l4 6-1 2-3 1-2 4-5 0-1-3 4-5 0-4zM1601 1412l0 4-5 1 0-5zM1735 1410l2 0 1 3-4 3-2-2 0-2zM1756 1409l3-1 3 2 2 7-1 3-3 0-2-1-3-7zM2230 1408l4 0 1 3-4 1-1-2zM1779 1407l3 2-3 3-3-2zM1580 1407l4-2 3 1 1 4-2 2-4 0-2-2zM1479 1406l-1 4-2 1-5-1-3-2 1-2 7-2zM2220 1402l2 2-2 2-3-2zM1718 1402l4 0 0 3-4 1zM2002 1400l4 0 0 4-4 0zM2223 1398l3 2-3 2-3-2zM1602 1395l2 3-4 4-2-2 1-4zM2240 1394l4 4-6 5-2-1 0-4zM1572 1394l6-1 4 1 3 2 3-2 3 2 1 4-4 2-5-4-9 4-3-2zM1794 1392l6-2 6 4 0 7-2 3-10-2-2-3zM2036 1388l2 3-3 3-3-4zM1606 1388l2 2-2 2-2-2zM1686 1382l3 2-3 4-2-2zM2247 1380l6 0 1 6 2 2 0 3-6-1-3 2-3-1 0-3zM1641 1379l3 2-3 3-3-2zM1578 1379l2 1 0 2-2 4-2 2-2-2 0-2zM1570 1381l-2 5 3 4-3 4-5-1-3-5-4 2-6-3 0-5 3-2 6 0 3 6 2-2 2-4 4 0zM1650 1376l2 2-2 4-3-2zM1734 1376l2 2-2 3-2-2zM1586 1375l2 3-2 2-2 0-1-3zM2136 1374l0 3-3 3-5 0 1-6 4-1zM2082 1373l3 5-1 2-2 2-5-4zM2244 1372l4 2 0 3-3 1-3-2 0-4zM1704 1368l2 2 0 2-3 2-2 0-1-3zM1570 1369l4 1 0 4-5-2zM1494 1368l4 6-1 4-4 1-2-1-2-6zM2011 1368l0 4-3 2-2-1 0-4zM1486 1366l3 4-3 3-4-3zM1729 1365l4-1 2 0 4 8-1 4-3 0-1-4-6-2zM1599 1364l2 0 2 6-5 3-2-1-2-4 2-4zM1516 1363l12 0 2 3-2 6-4 1-4-1-2-4-2-2zM2090 1362l4 1-1 3-4 0zM2244 1362l5-2 3 2 6 0 4 3 0 3 4 4-1 2-3 1-4 3-5 0-1-2-4-2 0-6-4-2zM2271 1358l1 2-4 5-5-1-1-2 2-2 4-2zM1490 1358l2 2-2 2-2-2zM1556 1357l8 1 2 7-2 3-4 0 0-4-5-2zM1775 1356l2 1 1 3-4 2-2 0 0-3zM2140 1355l2 2-2 3-2-2zM1740 1355l2 1 0 4-4 2-2-1 0-3zM2236 1355l2 5-6 3 3 5-1 4-7 4-3-2-1-4 5-2 0-3 2-2-1-7zM1576 1354l4 2 0 3-2 3 0 3-4 1-2 0-1-4 3-3 0-3zM2136 1355l1 2-3 3-5 0-1-2 4-4zM2254 1354l4 0 0 4-5-1zM1668 1354l6 0 1 3-3 2-3-1zM2106 1350l2 2 0 2-3 2-3-3zM2261 1341l6 3-1 2-4 4-4-6zM1711 1340l4 2-1 3-4-1zM1644 1340l3 2-3 3-2-2zM1686 1337l3 3-1 3-2 1-3-4 1-2zM2061 1338l3-2 6 6 4 0 0 3-9 3-5-5zM2040 1336l2 2 0 4-4 2-2 0 0-4 1-3zM1987 1338l0 2-6 6-7 2-2-1 0-3 4-4 7-4zM1560 1334l3 0 2 5 5 1 2 6 0 2-4 0-3-4-5 0-2-3zM2138 1338l-3 3-5-2-4 2-2-2 2-4 6-1 2 0zM1994 1334l3 0 3 2-2 5-3-1-3-4zM1990 1332l2 1 0 3-3 2-2-1-1-3zM1742 1331l3 2-3 3-2-2zM1506 1333l4-2 4 3 1 2-1 2-4 0-4-2zM1772 1330l3 2-1 8-2 2-4-2-2-6zM2094 1328l2 2 2 4-4 4-4-1 0-3zM2195 1328l0 3-4 3-5 0 0-3 2-3zM2139 1327l5 1 1 4-1 2-4 0-2-2zM2114 1326l4-1 1 4-5 1zM1486 1326l3-2 4 2 1 4-5 2-3-4zM1560 1330l0 4-6 2-3-2-5 1-2 4 10 7 0 6-2 5-4 0-2-5-7 2-7-4-1 2 3 4-2 2-3 0-4-2-2-4-3 1 0 4-2 5-4 0-3-2-1-2 3-4 1-6-1-2 1-2 10 2 6-4 0-4 2-2 4 3 2 5 4-2-2-6 2-2 0-4-2-1-4 1 0-4 4-2 3 2 4-1 3 3 4-2zM2276 1322l2 2-2 4-3-2zM1734 1322l2 4-3 2-3-3zM1587 1324l-3 5-2 1-8-1-2-3 4-4 3 2 5-2zM1515 1322l2 0 3 1 0 3-4 0zM2246 1322l4-2 2 4-4 2-2-2zM2146 1322l4-2 4 0 3 6-3 2-2 0-2-2-4 0zM2086 1320l4 0 3 5-1 3-4-1-2-4zM1504 1320l4-2 2 4-4 2-2-2zM1644 1319l4-1 0 4-4 0zM2134 1318l6 0 0 8-6-2-2-2zM1559 1318l1 5-7 2-1-3 2-3zM1666 1317l2 1 0 3 0 3-3 2-5-6zM1972 1316l4 0 2 2 0 2-4 0zM1542 1315l2 2-2 3-2-2zM1742 1314l4 3 0 3-4 2-5-4 1-2zM1694 1312l2 2-2 4-2-2zM1702 1312l5 2-1 4-4-1zM2123 1312l3-1 3 3-4 2-2 0zM1503 1310l3 2-3 4-3-2zM1530 1310l6 2-2 6-2 2-4-3 0-5zM1682 1310l0 2-3 7-6 1-3-2 0-2 4-6zM2064 1310l0 5-4 3-3-1-1-4 4-3zM2039 1308l3 3-4 3-2-3zM2052 1307l2 3-2 3-3-3zM1560 1308l4-2 6 5 5-1 1 3-5 5-3 0-6-6zM2098 1306l-1 4 1 4-2 2-5-1-7-4 0-3 5 0 5-4zM1712 1306l4-2 6 4 2-3 4-1 2 4-11 8-5-2zM2012 1304l3 2-3 2-2-2zM1496 1304l4 0 3 4-1 2-4 0-2-2zM1998 1304l4 0 0 4-4 0zM1748 1301l2 1 0 2-3 2-3-2zM1579 1301l3 1 3 4-1 2-3 0-3-2zM1492 1300l4 1 0 3-4 0zM1510 1298l4 2 0 4-2 2-4-2 0-4zM2120 1302l2 4 0 2-7 0-2 6-7 4-2-2-2-9 2-3 2-5 4-1zM1788 1296l2 2 0 2-4 4-2-2 0-2zM1536 1299l4-3 5 2 1 2-2 2-6 0zM2064 1296l5 0 2 4-1 4-4-1-2-5zM1530 1296l-1 4-5 2-2-1 0-4 6-2zM2158 1294l4 2-1 6-2 0-3-2 0-4zM1810 1293l2 1 0 3-2 3-3-2 0-3zM2170 1292l3 2-3 3-2-2zM1790 1290l6 0 0 4-2 0-4-1zM2116 1288l4 2 0 3-4 3-4-2 0-4zM2094 1293l0 3-4 2-8 0-2-2 2-5 7-5zM1493 1289l8-2 1 7 2 2 0 3-4 1-2-4-5-2zM1559 1287l3-1 6 2 2 3 0 4-7 1-5-7zM2076 1282l4 4-2 6-5 3-3-1 0-3 4-3 0-4zM1680 1292l4-2 8 2 2 2 7 0 1-4-3-4-1-4 5-2 5 6 3-3 3 0 2 6 4 3 0 3 2 1 0 2-1 2-3 0-1-4-5-1-4-3-2 2 0 4-12 6-7-6-3-2zM2052 1280l3 2 1 2-3 3 0 5-3 0-2 0 0-4 2-2 0-4zM1621 1280l2 0 1 3-4 3-2-4zM1685 1282l-1 2-4 4-6 0-4-3 2-3 6-3 5 1zM2062 1278l2 4-2 4-2 2-4-4zM1659 1280l5-3 4 2-1 3-3 1-4-1zM1510 1276l6 4-1 3-5 3-2-2-2-4zM2186 1276l4 1 0 5-4-2zM2041 1276l3 3-4 3-2-4zM2170 1274l6 3-1 4-5 3-4-4 2-6zM1711 1273l1 3-2 4-4 1-2-3 2-4zM1626 1274l5-3 3 3 1 2-1 2-4 1-4-2zM2108 1268l4 2 0 6 4 2 0 2-5 6-1 3-4 2-2 9-4 1-2-2 1-3-1-8 4-2 2-2-6-8zM1800 1272l2-4 4 1 2-1 4 3 5-1 2 6-3 2-3-2-3 2-6-2zM2004 1267l4-1 0 4-4 0zM1551 1266l3 2 0 10-1 1-4 1-3-2 2-9zM1539 1264l4 0 1 4-4 0zM1703 1262l4 2 1 3-3 5-4 4-1 4-2 1-2-1-3-8 7-4 0-4zM1498 1261l4 3-2 4-2 2-4-3 1-4zM1946 1261l4 0 4 3 0 4-2 2 8 1 6 5 3 4-2 4-3 0-2-6-5 2-3-4-5-1-1-3 3-2-5-3zM1676 1264l0 2-4 0-3 3-3-1 0-2 3-4 4-2zM1486 1260l2 2 0 2-2 2-2-2 0-3zM2042 1260l3 2-3 2-2-2zM1789 1261l3-2 3 1 1 2-4 2-2 0zM1755 1258l2 2 1 2-4 3-2-1 0-4zM1560 1258l2 2-2 3-3-2zM2060 1258l4-1 6 6-2 5 2 1 2 5 10-2 3 4-1 3-7 3-12-6-1-4 2-4-6-2-2-2zM1971 1260l-3 4-3-2-5 2-2-2 2-4 6-2zM1642 1256l2 2-2 2-2-2zM1647 1254l3 2-3 4-3-2zM2040 1254l2 2-2 2-3-2zM1670 1252l2 0 0 3-2 3-3-4zM1492 1252l-1 4-5 2-2 0-1-3 2-3zM1798 1250l2 2-2 3-2-2zM1750 1250l2 1 1 5-1 2-2 2-5-4 1-4zM1589 1250l3 2-3 3-3-2zM2184 1250l2 0 2 6 0 2-2 2-4-2-2-3 0-3zM1966 1248l0 3-4 1-4 5-4-1 2-6 4 0 4-4zM2175 1246l3 2 0 6-4 4-4-4-1-3 1-3zM2030 1246l0 4-2 4-6 0-1-5 5-3zM1514 1244l2 0 4 4 0 2-2 3-2 0-4-4 0-3zM1748 1243l4-1 5 0 5 8 0 2-2 1-6-5-4 0-3-3zM1612 1242l2 2-2 2-3-2zM1538 1238l2 2-2 4-2-2zM2232 1234l1 6-3 2-4 1-1-5 4-4zM1954 1235l4-3 6 2 1 2-1 2-6 1-4-1zM1820 1233l4 0 3 5-1 6-3 0-4-3-1-6zM2194 1230l4 0 3 4 0 2-3 2-2 0-4-4zM1974 1230l2 3-2 5-2 1 0 6-7 1-2-4 1-4 6 0 1-8zM1940 1228l3 0 1 4 4 2 2 4-2 2-3 1-4-3 1-5-3-2zM1645 1225l5 3-2 4-2 2-4-4 0-3zM1618 1225l4-1 0 4-4 0zM1932 1223l2 1 1 4-4 3-2-1-1-3zM2195 1220l2 1 1 3-4 2-2-3zM1764 1219l6-1 4 4 0 4-2 2-6-3-2-4zM2267 1218l-1 3-2 1-3 0 1-4 3-2zM1552 1216l0 6-5 1-1-5 3-2zM1786 1212l2 2-2 4-3-2zM1636 1214l1 4-3 4-6 0-2-2 0-2 4-4zM2190 1212l6 2 1 4-2 2-3 0-3-4zM1946 1212l3 2-3 3-2-2zM1641 1211l5 0 0 3-4 2-2-2zM1824 1210l2 2-2 3-3-3zM2204 1206l3 0 0 4-4 0zM1476 1206l4 0 2 2-1 3-5-1zM1506 1204l3 2-3 4-2-2zM1520 1203l4 1 0 4-4-2zM2010 1200l3 2-3 2-2-2zM2210 1199l3 2-3 3-2-2zM1635 1199l2 1 1 3-4 3-3-3zM1937 1198l5 2 0 6-4 0-2-6zM2028 1198l4-1 1 4-5 1zM1771 1194l3 2-3 4-3-2zM1782 1189l0 5-4 4-3 0-1-2 2-6zM1792 1188l4 1 0 5-5-2zM2042 1188l0 2-2 2-6 0 1-4 5-2zM1934 1184l3 2 3 6 0 2-4 2-6-4 2-6zM1816 1183l7 1 3 2 5 9-1 6-4 0-2-3-7-3-2-4zM1784 1182l4 2 0 2-4 4-2-2 0-3zM2006 1182l4 1-1 4-4-1zM1832 1180l2 2-2 3-3-2zM1617 1178l5 3-2 6-2 1-3-2-2-3zM1518 1179l4 0 0 3-4 2zM1930 1178l3 2-1 2-2 2-2-2 0-3zM1994 1177l4 1 2 4-2 2-2 0-4-2zM1648 1176l2 4-4 4-4 0-2-2 1-3zM1946 1174l2 2 0 2-2 2-3-3zM1588 1172l2-2 4 0 4 4-4 2-2-2-3 0zM1924 1170l2 2 0 3-2 6-2 1-2-1-3-7 3-4zM2238 1168l2 2-2 2-2-2zM1844 1166l2 2-2 3-3-2zM1966 1165l4 1 1 3-1 2-5-1zM1989 1163l3 2-3 3-3-2zM1908 1160l2-4 2-1 5 1 1 2 0 2-6 2zM1829 1155l3 2-3 3-3-2zM1621 1153l3 2-3 3-3-2zM1859 1152l1 8-4 0-2 4-4 0-2-2 2-5 4-5zM1836 1151l4 1 0 4-4-1zM1954 1152l1 4-7 4-6-6 4-4 4 0zM2226 1150l6 0 2 3-2 3-4 0-2-2zM2258 1149l4 3-4 3-2-1 0-2zM2236 1150l4 0 1 3-5 0zM1820 1149l4 1 0 4-4-1zM1600 1148l2 2 2 3-1 3-3 2-4-4 2-4zM1773 1148l5 2-1 7-3 2-4-5 0-5zM1520 1148l2 2-2 2-3-2zM1493 1147l3 3-1 3-2 1-3-2 0-3zM1507 1147l3 0 1 5 3 2 0 5-4 1-3-2zM1856 1142l1 4-5 5-3 0-3-3 0-3 7-3zM1914 1140l3 1 1 3 0 2-4 4-2 0-2-6 2-4zM1478 1139l4 1 0 4-4 0zM2249 1134l2 1 1 3-4 2-2-3zM1999 1134l3 3 0 3-3 1-3-2 0-3zM1784 1134l2 2-2 2-3-2zM1852 1134l3 0 2 2 0 4-3 0-2-3zM1937 1132l3 2-1 3-2 1-3-2 1-2zM1813 1132l2-2 4 3 3 0 2 2-1 3-2 1-5-2-4-3zM1598 1130l-2 6-5 2-6-2 1-4 4 0 5-4zM1864 1126l6 2-2 4-2 0-2-2zM1826 1126l4 1-1 4-4-1zM2230 1130l-1 2-8 2-2-1-1-5 7-4zM1854 1124l2 2-2 3-3-2zM2011 1124l4 0 1 4-4 0zM1578 1124l4 2-4 4-2-2 0-4zM1842 1120l4 0 0 4-4 0zM1902 1120l4 0 0 4-4 0zM1944 1116l4 0-1 4-4 0zM1954 1116l2-2 4 1 0 3-2 2-4-2zM1922 1114l2 3-3 3-3-4zM1597 1116l3-2 6 1 1 3-3 2-5 0-3-2zM2240 1112l2 2-4 4 2 9-1 3-2 2-2-2-4-10 1-6 2-2zM1570 1108l2 3 0 4-2 2-4-5zM1586 1108l4 1-1 4-4-1zM1592 1109l4-2 2 2 1 3-3 2-4-2zM1924 1108l4-2 2 1 0 3-4 2-2-2zM1793 1105l1 5-4 6-4 0-2-2 0-7zM1480 1102l2 1 1 3-3 2-2 0-1-4zM1850 1102l4 0 2 5 0 3-8-2 0-2zM1472 1096l2 5-4 1-1 4-3 0-2-4 4-2 2-4zM1886 1093l5 3 3-2 4 0 2 6-4 5 2 4-4 4 2 5-5 5-3-3 2-4-2-4 2-5-5-3 0-5-2-3 1-2zM1868 1090l4 4-4 4-3-2 0-4zM1559 1092l-3 2-4 1-2-2 0-2 5-3zM1484 1092l1-4 5 0 2 2-4 4-2 0zM1974 1086l4 3 1 3-8 5-3-2 2-6zM1896 1086l2 1 1 3-3 2-3-2zM1832 1086l3 2 0 2-3 2-2-2 0-2zM1988 1082l2 1 0 3-3 2-2-1-1-3zM1863 1081l4 1-1 4-4-1zM1572 1079l2 2-2 3-3-2zM1856 1078l2 3-3 3-3-4zM1520 1079l0 3-7 4-4 2-5-2-2-2 2-3 4 0 4-5 4 0zM1494 1076l4 0 2 2 1 3-2 3-3 0-4-2 0-3zM1874 1074l0 4-3 2-2-1-1-5zM2276 1072l3 2-3 4-2-2zM1902 1072l6 2 1 4-3 2-4-2-1-3zM1584 1072l3 0 2 2-1 4-3 0-2-3zM2237 1076l3 0 8-4 2 0 1 2-5 4 0 4 4 0 2 2 0 4-5 1-3-1 0-5-6 0-2-5zM1972 1072l2 2-2 2-3-2zM1843 1071l2 1 1 2-4 4-2-2 0-2zM1878 1068l10 6 4 9-4 5-7 2-1 2 0 4-4 2-4-3 2-4-1-5 3-2 2 1 5-5-4-6-3-2zM1522 1069l0 4-4 1-3-1 1-3zM1820 1067l5 0 1 4-5 0zM1540 1066l0 2-2 2-2 0-3-2 1-2zM1789 1064l4 0 1 4-4 0zM1576 1064l5 0 1 2 0 3-6 0zM1498 1064l0 4-2 2-4 0-2-4 1-2zM1920 1062l2 2 1 2-5 4-2 0-2-5zM2258 1061l3 3-3 2-2 0 0-3zM1962 1058l3 2 0 4-3 2-4-4zM1588 1058l6 5-2 4-2 1-6-4 1-4zM1906 1058l4-1 2 1 2 6-2 0-4-2zM2255 1056l3 2-3 4-3-2zM1862 1056l4-2 4 4 3 4 5 0 0 4-5 0-5 4-2 0-1-8-3-2zM1893 1054l4 0 1 3-4 1zM1472 1052l3 2-1 7-3 2-3-2-1-5zM1490 1050l2 2-2 4-3-2zM1980 1048l4 0-1 4-4 0zM1474 1044l2 1 1 3-3 2-2-1 0-3zM1506 1043l4 1 2 2-2 3-3 0-2-2zM2275 1042l1 4-4 10-4 1-3-3 0-8 4-4zM1558 1042l2 4-4 4-2-2 0-2zM1796 1040l3 2-1 4-2 0-2-2zM1544 1040l4 2-1 6-3 2-3-4 1-4zM1504 1039l-2 3-5 0-5 4-4-3-5 2-3-2 4-5 7 2 9-4zM1964 1036l3 0 4 2 3 6-2 3-3 0-2-3-4 0-1-6zM1869 1034l3 2-1 2-2 1-3-2 1-3zM1898 1033l2 2 0 3-2 0-2-2 0-2zM1879 1032l3 4-4 4-2-2 0-4zM1849 1031l5 1-1 4-5 0zM1550 1028l2 2 0 4 2 2-1 3-3 3-2-2-3-6 1-4zM1836 1026l2 4-4 2-2 0 0-3zM1882 1026l3 2-3 2-2-2zM1942 1026l0 2-3 3-4 1-2 0 0-6 6-2zM1978 1020l4 0 0 4-4 2-2-2zM1570 1022l3 4-1 4-8 4-4-1-2-7 3-4 5-2zM1803 1019l4-1 1 4-4 0zM1498 1019l2-1 3 2 4 0 1 4-5 2-1-4-4 0zM1544 1015l4-1 2 6-6 0-1-2zM1526 1015l1 3-9 14-4 0-4-2 0-4 6-3 1-5 3 0 2-4zM1846 1012l2 2-2 4-2-2zM2272 1010l3 1 3 5 0 4 1 4-4 5 2 5-3 2-3-2-3-6 1-4-1-4 2-2-2-5zM1510 1012l-2 2-4 1-4 2-2-3 0-3 4 0 4-2zM1861 1008l3 2 0 2 0 4-2 2-4-3 0-5zM1908 1007l2 2-2 3-2-2zM1808 1003l2-2 7 2 1 3-2 2-5 1-2-1zM1909 1000l3 2-3 3-3-2zM1522 1000l9 6-1 2-8 6-6-1-4-3 4-8zM2280 999l4 5 0 6-2 2-6-2-1-4 1-3zM1852 998l3 3-1 5-2 0-3-3 1-3zM1828 997l2 2 0 3-2 1-3-2 1-3zM1542 998l2-2 4 2 1 4 5 2 2-3 6 0 2 2-2 7-6 1-4-3-7 2-1-4-4-4zM1950 996l4 2 0 4-2 0-3-2zM1883 996l3-2 6 2 2 2-3 3-3 1zM1540 988l4 3-1 5-3 2-4-5 1-3zM1798 984l6-4 2 2 3 0 3 2 4 1 2 5-2 2-4-2-3 0-5-4-4 0zM1958 978l1 2-1 2-5 2-3 0 0-3 2-3zM2286 970l4 0 4 2-1 6-3 0-4-4zM1814 962l4 0 2 2 2 3-2 3-4 0-2-6zM1926 954l2 2-2 4-5 0-1-4zM1841 952l3 0 2 2 1 2-2 3-5-1zM1879 952l3 2-1 2-2 1-3-2 1-3zM1928 945l3 3-3 2-2-2zM1808 944l3-2 3 4-4 2-2-2zM1826 932l4 4-4 2-4-3zM1965 931l4 1 4 4 1 3-3 3-7-2 0-6zM1866 930l5 1-1 3-4 0zM1898 921l2 3-4 3-2-1 0-2zM1956 920l2-1 2 1 1 4-5 0zM1945 919l3 2-3 3-3-2zM1878 920l2-2 4 0 4 5 0 3-6 2-4-6zM1934 916l4 0 0 4-4-1zM1826 914l0 3-6 7-4 1-3-1 1-5 6-7 3 0zM1948 912l4-4 4 2 2 3-2 2-3 1-4-2zM1834 906l1 4-3 4-4 0 0-6zM1828 892l4 2-1 3-3 1-2-2 0-2zM1926 890l8 2-2 8-3 0-4-5-1-3zM1872 884l2 2-2 2-2-2zM1854 882l3 2-3 4-2-2zM1861 884l3-2 3 4-4 2-2-2zM1836 882l4 4-2 4-2 0-4-1 0-3zM1842 872l5 0 1 4-5 0zM1828 866l4 0 5 4 1 6-2 4-4-1 0-5-4-3zM1864 864l2 2-2 2-4 2-2-1 1-5zM1842 863l2 3-3 4-2-2-1-3zM1904 860l4 1 1 3-1 2-4 0zM1822 856l6 2 1 3-2 3-7-2 0-2zM1944 856l2-1 4 1 0 4-4 2-2 0zM1916 854l1 4-3 2-2 0 0-5zM1936 850l4 2 2 2 0 2-4 3-4-5 0-2zM1858 847l3 2-3 3-2-2zM1838 843l4 5-2 4-3 1-3-1-2-4zM1944 836l4 3 0 5 2 4-2 3-7-6 1-7zM1924 836l3 2-3 4-2-2zM1935 836l3 2-3 2-3-2zM1848 832l0 4-4 4-3-1-3 3-3-1-2-5 1-2 3 0 3 4 3-8 3 0zM1868 830l3 2-3 5-2-1-1-4zM1896 828l3 2-3 3-2-2zM1852 812l4 0 4 8 4 0-1 6-5-2-5 3-3-1 0-3 4-3-4-4zM1901 804l3 2-3 2-3-2zM1920 792l2 2-4 5-2-1 0-3zM1888 786l2 2 0 3-2 1-4-2 0-3zM1918 780l4-2 2 3-4 3-2-2zM1840 779l2-1 4 2 2 0 2 5-6 1-4-4zM1900 778l4 0 0 4-4 0zM1866 776l2 0 4 2 0 6-4 0-3-2-1-4zM1898 766l4 3 2 3-3 6-7 0-2 0-1-4 3-4 1-3zM1908 764l2 0 4 2 0 4-1 6-8-3-1-2zM1840 762l3-4 5 0 4 4 4-1 4 1 4 6 6-3 5 1 1 4-8 4-4-2-4 1-4-1-6 6-2-3 0-4-8-4zM1902 758l4 0 0 4-4 0zM1909 756l7 0 1 3-2 3-4 0-3-4zM1872 752l2 2-2 4-2-2zM1856 746l5 2-1 4-4 0zM1870 736l4 0 6 7 0 2-2 3-6-2-2 2-3-2-1-4zM1874 720l6 0 4 6 4 0 0 4-5 4-3 0-6-6zM1884 713l3-2 5 1 3 3 0 7-3 0-2-5-6-1zM1886 703l5-3 6 4 1 3-4 2-7-3zM1872 690l2 1 0 3-4 3-2-1 0-2zM1878 689l4 1 0 4-4-1z" fill-rule="evenodd"/></g><g transform="scale(0.5)"><path d="M546 1063l6 22-5 17 3 0 1 33-1 1-1 2 0 8 0 3 1 7-1 1 2 3-7 3 2 5 0 2 4 5-1 4 3 7-8 5 1 2 2 0 0 1 5 10-5 4 3 1-3 6 0 2 1 5-1 1 1 1-3 2 1 1 0 2-1 2 1 0-1 1 2 1-1 8 1 2 1 0 0 6 0 0-2 1 1 0 1 1-2 0 1 3-1 1-2 1 2 2-1 1 3 1-2 1 0 3 1 3 2 2 0 1-2 3-2 0 2 2-2 1 2 1-2 5 6 3-1 0-2 0 2 1 0 1 0 1 0 0 1 0-2 1-3 3 0 3 1 1-3 1 2 1-1 6-1 1 0 5 1 1 2 6 2 2-4 6 1 2-2 5 3 1-2 4 1 1-2 1 2 0 0 3 1 1-3 0 3 2-3 5 2 0 0 3 0 2-1 0 1 1 0 1 0 4 3 1-1 2-3 4 1 5 0 1 0 2 2 7-3 0 1 4-2 0 2 1-1 2-1 3 1 1 2 1 1 1 0 2 2 3-2 2 0 4-2 1 1 1-1 7 2 4 3 0 1 2-1 8-7 1 7 4-1 3 0 6-5 2 5 1-6 3 2 4 2 0 3 3 1 9-4 13 0 0-3 0 6 0-4 1 4 1 0 14-5 0 6 1-3 7 2 7-4 6 5 61-4 8 2 60 9 42-6-115 2-9 9-17-10-17 19-13 1-1-20-7 10-13-4 0 6-4-5-1 0-4 9-4-6-1-1-3-1-4 2-3-1-1 4-8-5-1-3 0 4 0-9-1-1-2 15-1-7-3 11-1-3 0-16-3 0-1 1-5 9 0-5-1 1-1 3-1 7-1-14-1 13-3-9-1 13 0 0-1-2-3-8-3 14-2-20-1 7-1 8-1-11-4 11 0-3-3-6 0 8-2-2-3 1-1 1-5 4-14 0-2-5-5 0-2 2-3-1-1 0 0-1-145 2-1-1-1 2 0-8 0 6-1 3-1 1 0-13-1 1-1 1-1 10-4-5-1 4 0-4-1-14-17 1-3-1-2 0 0-2-1 2-2 0-1 2-3 0-2 0 0-2-6-1-4 20-3 2-1-3 0 0-1-19-1 1 0 3-2 5-3 12 0-2-1-1-1-10-2 7-2-9-2 6 0-5 0 9-4 3 0-3-1-9-2-3-1 14-1-10 0 8-2-13 0 13 0-14-1 15-1-14-2 10-3-9-1 0-1 10-5 8-1-10-2 0 0-3-1-9-2 20-2-2 0-19-3 19-2-11 0 10-2 1 0-8 0 4-2 1-4-12-1 18-3-8-1 5-2-18 0 5-4 13-8-14-2 16-2-2-2-8-3 11-3-9 0-2-3-8-6 16-19-1-23-16-19 22-55 3-364 2 211 4 16-4 162 14 37-8 8-7 6 13 3-7 0 4 1 5 1-4 2-11 6 1 14-1 0 12 4-8 0 12 7-3 4-6 5 5 3-9 1 3 7 10 1 3 0-5 2-1 1-12 1 0 3 16 1-2 0 3 0-8 0-6 4 0 1 9 0-9 1 8 1-2 3-10 1 18 1-12 3 13 1 0 2-4 1-2 1-4 1 8 6 1 25-21 2 0 1-1 0 23 1 0 2 0 3-22 2 3 3-2 0 0 0 4 3 1 1 1 0 0 1-5 4 10 37 1 1 5 0 0 1 0 0-9 0 0 3 0 0 12 3-11 0 1 2 5 0-4 1 3 1-2 1 8 60-2 1-3 4 1 0 1 3 1 3-2 0 5 2 0 52-1 4 0 4-1 2 0 13-3 1 3 0-3 0-5 1-12 1 13 0-13 1 4 0 11 5-7 0-1 2 1 1 0 1 4 0-10 1 21 3-4 0-3 5 1 2-16 8 16 0 5 2-4 0-14 1 10 2-7 1-1 0 13 1 3 1-18 2 4 6 5 0 4 6-13 1 2 0-1 2 18 1-12 1-9 5 12 1-13 1 21 12-22 5 12 2-11 7 16 40 5 2-7 13 8 4-9 45 27 65-9-97 13-31-8-27 5-2-6-1 4-4-8-1 5-7-9-1 19 0-12-2 2-4-1-1 4 0-1-5 1-3 5-1-4-2 2-1-12-2-5 0 9-2-8-7 17-3 0-1-18-2 20-1-2-3-13-1 4-2 1 0 11-2-8 0 7 0-15 0 6-1 8-3-13-1-6-3 12-2 1-1-5 0 2-1-3 0 7-1 2-2-12 0-3-1 2-2 15 0-13 0-1-2-3-1 14 0-6-2 7 0-1-1-5-1-1 0-11-3 0-2 0-2 0-7 14-14 5-1-17 0 10-2-1-1-7 0 7-3-5 0 1-1 7-2 0 0 4-1-1-1-16-2 4-1 15 0-2 0 4-1-6 0 6 0-8-3 9-1-9-5-2 0 9-2-7 0 1-2-10-42-1 0 1 0 1-2-2-1-1-3-2-1-1-1 1-1 12-123-8-1 8-2-1-5 1-1-9-1-3-2 18-13-5-2-2-1 3-6-13 0 21-2-9 0 3 0-13-4 17-4-14 0 8-1 6 0-15-1 9 0 0-1-3-4-6-1 4-3 6-1-9 0-1-1 9-4 0-2 2 0-2-2 6-5-14 0 15 0-7-1-15-2 18-3-16-2 15 0 6-4-14-2-2-5 0-10-4-2 2-3 4-3 9-9-1-1-11-11 1-17 5-16-11-163 13-66-11-93 31 105-3 169 6 0-5 45-4 28 10 20-7 1 1 27 8 2 1 0-17 4 6 3 0 1 17 2-21 1 18 7-20 1 10 3 5 3 6 5-2 0-4 3-11 0 1 2-1 1 1 0 3 2-1 1 14 5-5 1-6 1-4 2-1 3-1 2 17 1-16 0 17 0-16 2 6 0-12 1 9 0 5 0 1 2 8 1-1 9 0 6-9 5 2 1-4 2 12 1-13 2 11 1-13 3-1 2 13 1 1 0-11 1 12 0-3 1-10 0 9 1-7 1 0 0-11 166 0 2 0 12 0 1 1 4 2 4-2 2 9 40-6 2-3 1 13 0-9 1 17 0-23 1 17 1-6 5 10 4-2 1-11 0-2 1 13 1-12 0 3 0 7 1-7 0 0 1 1 1 11 2-19 0 6 1-1 1 3 0 2 3 5 0 2 2-10 0 7 8-17 2 22 0-5 1-6 1-7 3 3 1 2 1 6 0-6 1 13 3-8 3 1 3-9 1 4 2 7 1-3 0-5 2-5 6 19 1 0 3-16 20 11 14 3 7-4 2-7 48-3 4 21 64 10-37-5-23 0-24 12-10-5-9-3-4 2-8 4-4-7-7 6 0-14-4-1-3 13-3 7-1-17 0 17-1-13-4 3-2-12-2 10-1 3-3 9 0-17-1 4-5-6-1 17-1-6-4-15-5 7-1 7-2-4-1 7-2 6 0-20-3 21-2-20 0 10-1-8 0 0-2 15-2 0-1-19-2 7-2 1-1-9-3 9-1 2-2 5-1 1-4-2-1-10-1 10 0 3-4 0 0 0 0-11-3 10-1-1-1-7 0 8-1-3-1-8 0 1-2 3 0-10-3 13-1 7-1-1-5-11 0 2 0-1-3-7 0 4-1-2-1 17-1 1 0-3-200-4-1-2-1-3-4 3 0-1 0-7 0-2-1 19-2-10-5-1 0-6-1 6-2 0 0-1-4 11-1-7-4-10-1 1-1 6 0-5-1 10-2-17 0 19-4-3 0-9-3 16-1-13 0 3 0 8-3 3-1-7-2 1-1-10-1 10-1-4 0-3-4-8 0 0 0-2-2 19-1-20-3 1-3 15-2 3 0-14-1 2-1-4-2 12 0 5-1-1 0-2-3-7 0 9 0-17-5 8 0-8-3 1-4 6-1 3-2 0 0-8-4 2-2 6-6-8-2 17-7-8-15 2-207 1-324 13 270 4 212-5 57 11 2-12 15 3 12 1 2-5 1 8 10-5 14 4 1 7 2 1 0 4 5-18 0 17 3-15 1-2 1 5 2-7 1 11 0-6 2 6 5 1 1 0 2-10 3 12 0-5 4-9 1 14 0 4 1-17 2 1 2 1 3 11 1-11 3 13 2-5 3 10 1 0 0-10 3-11 1 8 3 12 1-1 1-6 1 7 0-9 0 11 1-10 2-4 0 4 1-10 2 16 3-2 0-11 2 10 1 7 0-6 2-2 0 0 1 5 1-16 0 4 4 12 0-7 1 7 10-3 5 0 2 3 4 3 0-14 7 1 1-3 1 1 2 10 2 1 1-12 2 7 2 2 0-13 3 1 0 1 1 8 1 1 0-11 0 4 52-1 0 6 3-11 2 12 0-13 0 2 2 9 2-7 1 1 0 0 0 4 1-5 69 3 1 0 5-1 2-1 1-4 1 0 1 22 25 1 1 0 0-1 1-20 19 5 2-1 1 3 2 1 4-4 3-2 1 1 0-5 2 2 1 18 4-6 0-6 6 2 0 11 0-11 3 2 0-5 1 1 0 9 1 4 2-14 1-6 2 22 0-3 2-10 1 4 1-14 1 1 2 0 0 1 1 18 3-17 0 7 2 3 1 4 7 0 0-7 1 10 0 2 1-10 1 0 2-4 2-6 0 18 1-1 8-9 2 12 2 1 5-12 6 11 1-19 1-2 1 21 4-1 3-1 4 0 0-1 2-1 3-2 4-6 0 6 1 1 2 2 7 0 1-11 12 10 6-10 13 14 48 5 58-2-16 22-44-1-15-2-12-11-1 11-3 1-13-19-10 17-3-7-8 2-1 2-4 0-2-1-1 4-4 3 0-21-1 18-1-17-2 4-2 14-3-19-3 5-5 0 0 3-1-5-2 0-1 14-1-9-1-1-3 10-4-13-3 6-4-5 0 14-1-3-2 0-1-17-6 1-1 11-2-3 0 12 0-10 0-9-2 18 0-15-1 18-4-3-1-12 0 9 0 0-1-8-1 14 0-10-1-4-1-9 0 5-1-3-1 2-4-3-4-2-1 1-3 0-12 0-1 6-5-1-4-3-1 12-19 8-1-15-1 9 0 7-1-16 0-1 0 17-1-18 0 1 0 1-2 2-4 1 0 7 0-14-5 1-1-5-2 10-4 0-2-8-1 3-2-1 0 1 0 0 0 7-39-4 0 2-1 4-2-11-3 12-1-12 0 1 0 9-2 0-1-2 0-4 0 7-1-5-1 2-36-2-1-1-1 7 0-2 0 1-1 2-1-1 0-11-3 1-3 8 0-4 0 2-1-1-1 14-49-5 0 4 0-10-4 2 0-1-2 1-2-1-5 2-2 1 0 0 0 5-1-11-1 2-2 10 0 0-2-17-1 10 0-11-3 13-1-3-3-7-2 8 0 1-1 0-1-9 0 10 0 0-1 4-4-19-2 14-1-7-1 10 0-8-1-10-1 9-1 10 0-9 0 1-1-5-1 12 0-18 0 16-1-12 0 11-2 3-3-15-3 13 0-2 0-7-2 8 0-15-2 19-2-14-2 16-1-9 0 6 0-14-1-4-4 12-1 0 0-13-1 19 0 2 0 1-3-20-1 14-2 0-1-3 0-3-1 4-4 5-3-16 0 4-1 15-9-3-8-18-1-1-11 19-2-7-1 4-3 4-1-1-10-5-1-14-23 0-7 19-13-11-364-7-212 39 611 5 5-19 3 1 5 5 18 8 36 0 11-2 3-4 1 6 1 2 1 2 3-2 1 3 11-17 2 12 0-1 2 2 0-12 1-4 2 18 2-5 0-10 3 3 1 5 3-9 1 19 1-14 4-9 0 2 1 11 1-13 1 6 1 8 1 5 3-4 2-10 1 2 1 1 0 11 1-8 1-7 1 0 1-3 1 20 4 0 4-5 6 7 4-12 3 2 1 11 2-4 0-4 1-6 1 4 0-3 1-1 0 11 2 2 0-14 3 2 2 4 5 3 0 5 0 0 40-2 3 1 3-1 0 1 1 0 0 1 1-14 81-5 1-1 0 3 0 5 1-8 0 10 3-1 1-2 3 2 1-11 1 0 0 5 0-4 1 2 52 5 1-4 0-4 0 6 1 2 6-7 5 4 0-3 1-2 21 5 4 0 2 17 2-17 2 14 0-19 2 8 1 9 1-18 1 10 1 0 1 11 3-11 1-4 2-2 2-2 1 17 7-16 2 1 2 11 0 2 4 1 3-16 0 20 0-9 3-4 0-2 0 16 1-16 2 12 0-2 1-10 1 12 4 1 1-10 5-5 4-4 0 3 4 19 2-21 0 1 4 10 0-2 2 5 13-6 2 6 2-8 9 2 2-3 1 11 1-12 5 6 5 11 0 1 6-8 0-5 15-11 43 9 17-8 20 15 56 3 9 8-60 0-9 2-7 17-3-1-12-7-20 9-37-14-13-2-9 12-3-5-2-10-1 18-12-7-4 0-1-2 0-11-5 19-2-9-1 12 0-1-5-6 0-7-12-3-1 14-4-8-1 0-1 1 0-5 0 0 0 9-4-10-1-4-1 13-1-2-3 9-5-2 0 1 0 0 0-4-1-16-2 4 0-5-1 6-3-4-7 17 0-16-1 0-1-4-1 0 0 22-5-18-4-3-1 5 0 0-5-6-4 0-1 8-30-1-2 2 0 6 0 1 0-10-2 11-3-14 0 13-1-10 0 1-2 9-1 1 0-2 0-8-3 12-8-1-3-2-1 1-1-1-3-1 0 3-2-3-31 0 0-5-3-1 0 12 0-1-2 0-2-11-1 2-1 1 0-9-2-1-1 4-1 8-2-4 0-10 0 23 0-9-2-1 0-13-1 16-2 4 0-20 0 18 0-9 0-9 0 0-1 10 0-10 0 3-2 3 0 1-1-2 0 1 0-6-69 1 0 3 0-1-1 2 0 15-2-1-1-1 0-11-2 0-3 9-1-10 0-6-1 2-1-2 0 6 0-6-1 20-1 2-3-9-21-8-1 8-1-10-2 13 0-2-3-12 0 15-1-13-1-3-4 14-1 0-1-14-1 1-1 8 0-3-1-8-4 3-1 10 0 1-4-8-1-1 0 4-1 0-1-3-10 0 0 4-8 1-3-10-1 13-3 4 0 2-1-14-2 2 0 12 0-13-1 14-4 1-4-19 0 18-3-5-1-2-4-6-2-3-5-3-1 5-2 13-7-4-15-13-9 13-3-8-2-4 0-3-5 0-15 3-1 14 0-15-52 14-21-14-11 34-22-4 12 7 26-12 12 16 8-9 3 9 7-8 20 2 1-4 0-9 1 12 2-1 14-7 0-2 8 15 8 3 5 1 13-6 2-1 1-5 6 13 1 0 1-8 0 7 2-14 3 6 1 9 3-21 0 21 1-6 2-4 4-7 0 10 0-2 1 0 6 3 1-17 0 22 1-15 2 7 2-9 1 5 0-1 0 8 3 6 5-11 0-11 0 10 0 11 0-1 2-8 4 2 1-11 0 4 1 7 0-9 1 18 3-7 0 4 1-4 0 3 0 3 1-4 6-2 6 0 2 3 4 1 1-3 0 6 1-3 1 3 0-15 7-2 0-4 1 2 0-3 3 11 0-10 1 0 1 10 2-8 3 3 3-4 31 3 0 0 0-4 5-2 3 20 3 1 3 0 2-8 19-1 0 4 1-10 2 12 1-13 2 1 1 10 1-6 1-11 47 2 1 21 21-6 1 5 0 2 2-11 1-2 5 11 0 2 1-7 1 0 1 3 0-7 0 6 1-16 9 1 2 0 7 1 2-3 2 17 39 2 1-1 0-1 2-3 7 1 2 6 4-1 1-1 4-20 3 9 0-5 1-1 1 9 1 9 0-11 2 13 1 0 1-2 0-10 1 9 1-17 1-3 0 19 4-2 4-1 3-7 0 6 2-13 2-1 0 3 0-4 1 4 1 12 2-13 0 9 1 6 4-16 2 20 0-22 4 3 1 1 1-4 1 3 3 19 2-18 2 2 1 8 3 4 3-3 0-7 15-8 3 4 3 15 4-6 7-10 19-4 2 3 17 20 13-11 38 15-53 0-26 5-3 0-1 10-54-7-1 0-3-1-2 0-2-10-3 11-9 4-5 1-8 2 0 3 0-18 0 4 0 6 0-2-3-8-1 7 0-10-1 2 0 9 0 0-5-2 0-2-1 6-1-5-1-4-3 0-1 17-2-3 0 0-11-10-1 4-3-8 0-2 0 1-1 12-1 2-6 7-1-3 0 1-5-2-18 4-6-1-6-3-4-2-2 0 0 2-6 0-1 1-1-11-6 14 0-10 0-3-1-3 0 12-5-13-1 15-2-11-1 7-2 2-1-1 0-3 0 6-1 1 0 0-3 0-3 0-1-7-1 6-1-12-2 0-3 11 0 3-2-13-1 7 0 2-1 3-4 1-5 0-2-1 0 0-2 1-2 0-3-1-38-1-2 0-5 0 0-18-9 0 0 6-2-2 0 2-7-4-1-4-1-1-1 2-58 1 0 2-5-2-3-4-2 8-4 0 0-2-3 17-1 0-4 0 0 1-2-23-4 6-1 16 0-5-1-9 0 6-4-4-1 5-1-7-1 11-2-14 0 3-1 11-1-2 0-10-1-2-7-4-1-2-1 1 0 4 0 2-11 1-2 1-4 0 0-4-3-5-1 4-4 5-2 2-1 7-1-8 0 11 0-19-1 9-1-9-4 18-1 1-2-5 0-2-3-12-1 9-2-10-1 9-1 13 0-6-2-11-3 1-1 9-1-8-1-1 0-1-1 9-3 0-1 1-1 2-6-1 0-15 0 13 0 4-1 3-6-3-2-13-4 8-4 8-3 0-1-4 0 0-7-4 0-4-2-2-9 1-3 8-1 6-7-1-1-16-1 17-2-2-7 0-20-11-18 1-455 30 348 4 1-5 23 1 4-6 5 9 11-5 3 7 12-7 11-3 1 10 2 1 4-4 5-16 1 20 1 0 10-17 0 2 1 15 2 0 2-2 5-14 1 6 0 5 2 2 0-15 5 11 1-1 5-11 1 5 4 14 2-10 3-7 0-4 0 10 1-6 3 14 0 3 4-14 1 7 0-1 1 1 0-12 2 1 0-1 1 5 0 0 3 9 3-4 2 5 0-11 1-3 0 3 2 3 4 7 3-3 0 2 1 3 1-14 3 15 3-11 1-8 0 21 1-7 3-4 0 7 0 0 1-17 0-1 7 1 2 5 4 1 0-5 1-1 2 11 0-10 2 14 0-3 1 4 0-1 1-5 1 1 2-5 1 3 1 9 2-11 0 14 1-15 1-4 1-2 1-1 0 2 0 2 4 0 1 6 0-3 0-6 2 0 0 0 1 10 1-7 5 18 3-13 1 4 1-5 0-3 1 13 0-13 0-2 0 11 1 5 1-18 1 19 1-5 1 6 0-16 3 10 2-4 2-5 46-2 1-1 7 2 8 8 1-13 0 3 0 17 1-15 0 8 0-3 3 1 0-1 1 1 0-4 1 6 1-1 0 3 2-14 1 15 2-4 39-1 0 5 1-5 1 5 0 2 1-1 2-8 5 1 0 12 0-6 2 7 1-1 0-11 19 4 0-2 0 0 1-7 3 12 3-13 2 12 0-11 2-1 0 7 2 0 0-4 0-9 2 5 0 4 5-2 0 0 5-7 2 17 0-4 1-8 1 5 0 1 4 10 1-4 4 6 2-2 8-9 1-3 1 15 0-1 0-10 1-5 2-1 0 15 4-5 0 1 2-11 1 2 1 4 0 0 0-10 3 7 1 7 0 3 1 2 5-20 1 12 1-3 0-3 2 12 0-11 0-3 1 10 3-8 0 9 2-3 1 1 2-4 0-11 1 9 1 7 4-5 0 0 1 10 0-10 0-4 3 2 1 1 3 6 4-4 0 2 3-6 0 1 1-6 2 7 1-6 1 9 1 4 2-16 0 4 7 2 1-3 0 8 4 1 0 8 0-9 2-6 2 9 0-5 2 8 4-17 2 7 1 15 2-15 1-7 1 6 2 9 3-1 1-4 3 3 0-13 1 17 2-14 5 1 1 0 3 9 4-3 5-10 2 17 6-16 2-1 1 1 20 10 54 16-139-2-6 6-12-6-5 6-7-6-2 10-5 4 0-1-12-1-4-6-9 3 0-2-1 8-3-11-4 3-1 14-1-20-5 2-4 15-2-12-2-3 0 17 0-7-2 2-1-11-5 2-1 5 0 1-2 2-6 4-4-7-6-5-2 2-2 11-2-13-3 7-2 3-5 1-1-12 0-3-1 5 0 4-1-4 0-4-1-1 0 12-2-16-1 0 0 16-4 6-1-18-4 8-1-5 0 8 0 6-2 0-1 2-1 0-5-1 0-10-1 1-1 8 0-10-1 9-3-2-3-8-1 2-1 11-6-4-1-2-4 1 0-4-3-1-5 1-1 10-1-2-4-14 0 4-1-12 0 19 0-9-1-7 0 0-2 2-1-1-2 12 0-1-2-14 0 16-2-3 0-10-1 5-2-1 0-5-62 1-2 5-3-2-2 11 0-9-3 3-1 9-1-11-3-9-1 21 0-7-2 5-2-2-2 2-2 0-5-13-3-1 0-1-1 9-3-3 0-9-5 12-2 0 0-6-1-2-1-1 0 8-21 9-1 0 0-1-1 0-1 0-1 1-2-13 0 14-1-15-1 1 0 0 0 2-1 2 0 3-2 6-16-20-4 1-2 7 0-2-1-8 0 23-1 1-1-11-3-3 0 1 0 3-4-11-1 9-2-10 0 5-3-1 0-5-16 3-13 15-1 0-1-16-3-2-6 4-6 0-1 1-3 2 0-5-5 16-5-14-1 14 0-15-1 11-4-10 0 10-1 4-1-10-3-1-2 9 0-6-2-7-3 9-2 10 0-20-2 1-1 11-2 6-1 0-2 0-2-3-5-6-1 2-1-10-1 14 0-4-2-11 0 18-1-1 0 0-1-16-2 19 0-2-2-11-1-9-5 15-1 0 0-2-2-2-1-12-2 17-2 6-13 1 0-8-1 0-3 0-5-3 0 6-1-10-1 10-3-8-1 1-11 2-1-4-14 11-8-8-44-7-140-5-331 26 295 18 122-11 21-1 18 8 19-15 5 12 10 8 5 0 1-7 19-4 3 12 5 0 3-13 0 4 2-9 1 8 2-6 1 6 1 0 0 10 1-9 3 7 1-20 1 5 0 8 6-5 0 7 1-12 0 6 0-2 1 14 6-15 0 16 0-2 1-15 1 11 2-8 1-5 4 0 1 16 0-7 0 8 2-17 1-4 0 18 0-3 1 5 1-7 1-3 1 1 1-9 1 19 2 0 3 1 0-10 1 9 0-15 0 6 1 4 1-15 1 13 1-7 2 6 3 8 2-17 0 16 0 2 1-13 0-5 0 17 1-19 2 5 1-2 1 14 0-11 1 4 0-3 1 2 0-1 1-9 3 12 0-3 4 4 1 4 1 6 0-5 0-14 0-3 1 12 4 0 0-3 0-4 1-6 3 15 0-14 0 4 1 13 0-13 0-5 1 2 5 10 1-1 0-10 1 14 0-15 1 2 2 1 4 2 0-2 3-3 26 2 9 0 2 15 10 2 0-1 0-2 0-1 1 1 4 3 6-14 17-2 0 5 3 0 2-1 2-3 3 1 0 0 1-1 2-4 2 12 0-11 1 10 2-11 1-1 0 12 1 1 0 0 2-6 1 0 1-1 1 3 14-4 3 9 1 1 0-10 1 0 1-1 2 11 2-3 0-1 2-7 23 1 3 2 7-3 1-2 0 1 0 13 28-3 1-6 1-1 0 0 1-1 0 0 1-1 1 13 1-4 5-5 1 7 9 1 1 0 1-2 4 2 5 2 0-2 0 3 2 0 1 5 4-2 1-3 1 5 0-7 4-1 6-1 0-8 4 16 0-21 1-1 1 10 2-2 4-1 1 5 0 2 1-10 0 12 0-15 0 1 1 2 0 6 2 12 1-12 3-5 0 0 0-1 0-3 1 10 1 4 0-12 9 11 0-11 0 16 3-13 1 0 1 10 3-13 0 9 5-3 5-6 2 10 10-6 0-6 3 2 1-1 1 10 1-11 4 14 3-9 0 3 6-1 16 1 7-3 3 0 22-2 8 32-25-2-22 8 0-6-17-3-12-1-10 2-9 11-1-2-2-9-9-3-3-3-7 14-1-7-1-10-4 9-2 3-1-5-3-6-1 6 0-3-3-1-1 12-3-2-3 1-5 3-7 1-1-1-5-18-1 17-1-18-4 20-2-11 0 1-2-4-1 5 0 11-1-8 0-5 0 2-5 8-3-5-2-1-4 4-1-10-1 13-1-12 0 11-3 4 0 0-2-17 0 10-3-10-1 10 0-4 0 2 0 0-1-10-2 12-1-1-1 0 0 9-1-5-1 4 0-19-1 14 0-3 0-5-2 3-3 1-6-1-1 6-2-10-1 14 0-16-1-3 0 8-2-9-3 10-1-2-4-4 0 15-84 1 0-2-1-3-1 0-4-16-1 17-5-14 0-3-4 2 0 0 0 17-56 1-1 0-5 0-2 0-6-6-1 0-1 1-1-1 0-1-1 1-1-16-3 18-2-17-2 17 0-1-1 2 0 4-1-22 0 15-2-2-4-5-4 10 0-12-1 9 0 7-1-6-1-8-4 3-1-2-1-10-3 16-1-11-1 4 0 8-1-13 0 1-1 4-3 1-3 7 0-2-1 0-1-7 0 5-1-2 0 5 0 0 0-14-1 1 0 0-6 12-5 4-2 3-1-3-1-9-2 1-2 11-1-11 0 10-1-9-2 2-1 5 0 4-1-22-1 0-5 17-3 0-1-3-1-4 0 5-1-1 0 0 0 8 0-16-1-5 0 7-1 0 0-8-1 8-5 7 0-16-1 2-4 17-1-7 0-2-5-7-3 14 0-9 0-3-1 17-2-21-6 17-10 4-1-5 0 0-2-3-2 4-3-11-15 2-5 8-8-11-3 15-3-15-5 12-78-18-32 17-47-2-7-15-154 29 219 17 17-2 27-6 44-1 14-11 1 19 5-1 1-16 0 11 0-8 4-5 11 21 2-13 1-4 2 3 1 5 0 8 1-8 2 0 2-5 3-1 1 7 2 0 5-9 0 7 2-10 2 17 1-14 3 10 2-8 4 2 2 0 0 5 1 7 0-12 4 4 0-14 1 20 0-17 0 12 0-9 0 2 1 9 0-9 2 1 0 13 0-3 3-18 1 9 1 2 3 7 1-18 0 12 2-4 3 10 0-18 0 9 1 10 1-12 0 1 2 6 3-10 3 0 0 4 1-8 0 7 0 2 4-2 6 0 3-6 0 4 1-5 0 0 1 13 0 1 2-3 0 0 0-2 0 0 2 9 3-10 3 1 2 3 0 3 0-10 0 10 4-8 4 6 2 0 0-11 13 3 3-3 6 2 0-2 1 2 0-3 1 3 1-1 6 3 3-1 4 1 3-4 2-1 4-2 0 5 1 3 2 0 3 1 0-1 1-3 3 1 1-1 1-3 56 0 1-1 0 2 2 4 7-3 2 2 0 0 1 0 0 16 3 2 2-4 7-2 1 1 0 4 2-11 15 11 0-2 1-8 3 9 2-11 2 11 1-2 0-2 5-6 0 3 0 3 29-5 0 3 1 6 0-2 2-1 0-9 5 9 1 1 0-5 1 7 2 1 1-20 11 0 2 1 5-3 2 1 0 13 0 0 0 6 0-10 1-10 0 18 0-2 1-8 1 0 0 2 0-6 4 14 0-13 2 15 1-9 1 8 0-8 0 8 3-9 5-1 2 10 1-4 0 6 1-17 1 4 0-2 3 6 1 0 0 0 1 5 0-14 0 10 1 3 2-15 1 16 1-16 1 20 0-13 7-8 3 17 1-12 0 11 6-14 0 8 4 3 1-5 0 7 2 8 2-21 0 1 4 13 2 0 14-1 9-1 1 2 4 2 5-4 30-9 5 2 4 5 6 17 2 18-21-8-21 2-1-1-6-6-12 8-5-10-5 5-1-2-4-6-14 2-1-6-1 0-2 0-1 22 0-4-6-1-2-9-2-6-1 18-1-14-1-5 0 17-2-18-3 7 0 3-2-1 0-1-1 1-3 1-1-1 0 4-4-9-3 16-1-4-4-6 0 11 0-5-1-8-1 11 0-18 0 18 0-1-2 4-2-4 0 1-2-2 0 3-1 0 0-19-4 11 0-6-3 11-3-5-2 1-5 0-1 3-3 3-5-18-1 3-1-2-7 12-5-2 0 10-2-14-1 2-1-2-4 0-1 11-1 2-1-9 0 7 0 2-1-9-2 9-1 1-8-6 0-8-2-2 0 5 0-9-2 12-2-13-2 2-1 10 0 7 0-8-2-7-1-2 0 8-1-13 0 9-1 14-16-19-6 1-2-2-5 19-56-3 0 2 0-3 0 6-1-5-8 1 0 1-2 1 0-3 0 4-1-7-74 4 0-4-1 6 0 0-1-2 0 2 0-10-2 12 0-12-3 1-1 2-4 4-3-10-21 5-1-11-2 3-4 11-2-2 0-12-1 14-1-1 0-11 0-2 0 8-1 2-1-7 0 14-1 1 0-15-1-2 0 19 0 1-1-15-2-7-7-2 0 22-2-12-1 13-1-6-2-16-1 3-1 11 0-13-1 14-1 3-3-3-1-1 0-4 0-9-2 21 0-12-1-5-5-3 0 14-1-10-3 1-3 13-1-5 0-3-2-11-2 18-3-13-2-5-2 14-1-4-2 7-1-4-3-5-2-6 0-3-10 10 0 11-2-17-3 6-6-4-7 11-7 0-2 3-9-15-4-4-7 2 0 14-13-13-8 3-15 1-33-9-6 18-242 21 226-13 68 22 4-19 14 18 1-23 24 7 15-4 5 9 4-10 11 9 1 11 14-5 5-7 2-8 0 10 1 3 1-2 3 7 2-15 1 11 2-16 0 6 2-5 1 13 0 5 2-9 4 1 3-5 2 10 3 7 0-21 1 3 0 16 2-6 0 8 1-8 3-9 1-1 2 2 1 11 1-4 0 3 0-12 1 13 1 4 0-16 6 5 1 13 2-6 0-3 4-1 3 4 1 0 2 0 6 6 3-3 1-20 7 20 2-20 0 21 0-10 1-5 0-1 0 6 1 3 0 0 0-8 1 10 0 0 1-15 1 17 0-13 2-6 1 10 3 6 0-7 1 0 0 9 4 1 0-13 74-2 1-1 4 4 66-4 1 10 2-13 0 14 1-13 0 0 4 0 1 2 0-1 1-1 1 13 0 3 0-15 1 12 0-10 1-1 1 8 0-1 1 2 0 11 1-4 1-5 0 2 1-4 3-2 0 0 3-6 1 2 2 12 0 0 1-14 0 17 2 1 0-3 0 3 0-16 0 2 0-5 13 0 0 8 3 1 1-12 3 12 0 1 1-12 3 6 1-6 1 6 1-6 1 19 7 3 0-2 1-7 4 7 1-7 0-9 3-5 0 10 0-7 0 19 2-10 1 2 1 7 1-7 1-3 1-5 5 1 0 4 1-10 0 4 4 7 3-10 2 10 4 1 1 1 1 5 1-6 2-5 2 14 1-15 1-2 0-4 3 22 0-12 0 6 3 1 1-16 0 20 1-17 1 7 3-8 4 5 5-5 0 15 8-18 2 1 2 0 7 13 1-1 0-13 3 21 0-13 1-9 1 2 0 10 38 1 16-12 1 8 1-7 3 21 2 25 25-22-38 5-2 14-8-5-7-1-3 2-2-6-10 2-2-10-3 7 0-5-1 0 0 19-6-15-1 9-3-6 0-7-6 18-3-16-3-2 0-1-1 18-2-20-5 19-1 3-1-23-1 16-1 4-1-16-2 9-5-8-2 15 0-5 0-11-1 7-1 6 0-7-1-1-4-3 0 2-1-4 0 6-1-1-1 1-5-8-2 6-2-8-15 3-1 6 0-7-7 5-1-4 0 5-1 1-2-4 0-2-1 6-2 2-4-11-1 1 0 8-3 2-1-1-2-7-3-2-1 6 0-1-12 3-1 5-3-10-2 9-3-7-1-2-5 2-2-2 0 2-5 0 0-3-2 0-2-1 0 20 0-19-1 15-54 0-2-5-4 2-3 5-2 1-1-5-68-1-1-8 0-1-1-1 0 11 0-9-1-2 0 14-1 3-1-16-3 16-1-15-1 14-1-8-1 0 0 6-1-2-1-3-7 3-3-10-1 1-1-3-2 14 0-12-1-6-1 6-1 13 0 1-1-11-2-9 0 11 0-2 0-4-2 9 0 0-1 0-3 7-1-19-1-3-2 8-3-3-1 0-2 9-2-9 0 10-1-14-1 1 0 14-1-9-3 7-1 0 0-3-1 9-4 2 0-15-2-3 0 7-1-5-3 9 0 1-3-10-1 2 0-6 0 6 0-3-5 15 0-13 0 11 0-6-4-2 0 6-1-14 0-2 0 18-3 4-1 0 0-2 0-1 0-18 0 1-2 2-2 1 0 13-3-5-1-3-3 12 0-18 0-1-2 17 0-19-2 14 0-12-1 0-5-2-1 15-10-15-3 17-1-2-8-5-2 0-2 6-4 4-1-5-5-6-4 8-10-7-4-2-31-3-1 6-2 1-35-3-17 30-140-14 34 2 114-2 97 3 17 7 16 0 2-10 11 4 1 0 0-1 4 17 2-18 0 13 5-5 7 3 2-13 0 4 2-3 0 8 4-4 1-4 0 17 1-20 4 14 1 0 1-1 4-11 2 11 1-2 2 2 0-6 1-8 2 1 1 10 0 10 0-17 1-2 3 9 1 3 3-13 1 6 2-6 1 19 0-1 4-8 4 4 2-9 0-5 1 6 0-7 1 1 1 19 2-1 1-2 0 2 0-17 3-1 1 0 1 0 1 10 1-9 0 11 1 7 0-13 0-2 1 1 4 11 0 4 1-15 0 14 3 1 2-14 2 13 0-18 0 11 7-10 0 17 1-10 3 6 2 3 2 4 3-14 4-7 2 1 0 1 1 12 1-15 2 16 2-6 2-8 2 19 1-20 1 20 0-9 3 9 1-5 1-17 31 2 6-1 2-1 2 0 0 4 46 0 0-3 3 0 0 9 1-1 2 0 1-1 2-5 2 2 1 2 0-6 1 18 56-2 0-2 8 2 3-2 0 6 34-21 1 0 0 19 1-1 1-15 0 14 1-12 0 13 0-11 1 7 2 0 4-4 2 11 1 3 1-14 0 14 1-12 0-6 1-3 0 9 1 2 5 6 0-14 1 0 1 12 0-8 1 1 1 13 2-1 0-5 0-1 5 4 1-7 2-2 0-10 1 12 5-3 2 5 0-4 0 0 1 9 0 1 2-8 1 3 3 0 3 3 2-19 0 5 4 16 3-4 0-2 2 0 3-4 2 4 1 4 4 1 1-1 2-18 1 2 0 9 1-4 3 6 0 2 4 5 2-2 2-16 1 16 4-2 3-6 13 0 15 9 3-13 2 16 91 19 4-13-33-1-12 17-1-6-9-4-13-2-14-5-3 15-2-15-1 3-2 7-7 0-3 5-1-16-1 16-2-7-6 3-1-8-4 8-2-1-3-8-4 5-2 6-2-1-6-16-3 22 0-4 0 4-4-11-1 12 0-17-2 17 0-7-1 4-2-20-1 12 0-8-3 4-1 14-1-11-1 7-1 3 0-9-3-10-1 1 0 3-3 1-6 2-1 4 0-6 0 4-1 2 0 2 0-11-7 10 0-10-2 5-1-5-5 2-7-3 0-2-8 4-3 0-1 2-2-1-3-1-1-4-2 3 0-5 0 2-2 1-3-2 0 4 0-1-3 2-5 0-1-1-2 16-1-21-1 15-1-1 0 9-5-9-1 10-1-10-2-3-24-11-1 15-4-9-1-1 0-5 0 5-1 0 0 0-2 4-2 5-2 9-16-5-1 0-2 0-1-1-3 0-2 0-1 3-98-6-6 9-1-12-2 2 0 8-5-8-1 2-1-4-13-4-2 6 0 4-1 5-4-5 0 6-2-18-1-2-1 1-1 18-2-1 0-15-1 16-1-17-3 7 0-3-1 7 0 4-4 3-1-12 0-5-1-1 0 1-1-1 0 5-2-4-1 16-1-13 0 3 0 4-1-9-1 9 0-15-1 17-1-14-2 2-1 4-4-5-4 14-2-10-3 14-1-12-5 3 0-3-1-11-4 11-1-4-1-6-3 3 0 19-2-3-6-10-2-5-1 4-4-7-5 6-2 1-6-6 0 14-7 6-7-18-17-3-14 2-28 15-22-8-254 16-94 16 286 2 51-13 76 1 29 12 48-9 19-12 0 2 0-1 3 20 3-14 1 10 2-3 1-8 3 1 0 14 7-16 2 4 6-6 2 2 0-3 0 18 2-8 1 8 0-3 3-15 3 15 0-14 0 12 1 2 0 4 2-4 0-12 1 18 0-13 0-4 3 3 1 3 2-7 8 8 1-9 2 18 1 2 2-9 0-13 0 17 1 5 0-1 2-9 1 0 5 9 1-1 3-1 3-5 0 2 1 1 39-8 3 9 0-9 0 9 1-8 0-2 1-1 2 10 3 1 0-4 1-14 25-1 1 5 0-3 1 21 6-17 0-3 3-2 1-1 1 20 0-5 2-1 5-1 1 1 0 7 5-4 1 1 1-19 41 23 50-2 7 1 1 0 2-22 25 2 3 4 1 3 7 5 2-5 1-9 2 16 3-10 2 11 1-1 1-5 2 2 2 6 1-1 1-13 1 18 1-15 1-4 0 6 0 10 4-19 0 18 2 1 1-18 0 19 1-8 2-5 0-4 1 5 4-8 1 13 2 3 0-3 2-2 0 10 0-6 0 7 0-1 2-2 3-5 5 3 1-8 1 3 1-8 3 19 1-21 4 14 0 0 1-5 0 4 4-5 1 12 3-1 1-6 4-12 4 20 2-11 0 2 7 5 0-15 4-5 0 4 4 2 12 5 19 0 28 11 3 15 62-9-21 8-25 5-17 4-1-13-10 2-3-9-2 17-4-6-4-9-5 11-2-10-4 5-2 7-4 2-2-1-2-7-15 7-5 0 0 1-1-6-4 0-1 3-2 6-2-16-1 9 0-7-1 8 0-10-4 9-1 3-2 1-4-15 0 14-1-13-1-1-1 16-2-8-1 0-6-9-1 5 0-2 0 8 0 4-1 7-2-17-3 0-1 10 0-13-1 10-3-2-1-1-2 7 0 0 0-2-1-5 0 11-3-11 0 8-1-9 0-6-3 14-4 5-1-1-1-8 0-10-5-1-2 0 0 14-1-17 0 20-2-3 0 2-1-10 0 13-4-8 0 0-1 0 0 0 0-13-1 21-1-9-3-4 0 2-1-7-2 5-1-7 0 19-13-2-1 2-1 0 0-2 0 1-3-1-1 2-3 0 0-16-20 2-5 0-1-3-2-1 0 2-1-4-91 1-2 0-4 2-1 1-3-4 0 6-4 1-1-1-3-6-1 2-2 17-6 0-3-7-2 2-7 9 0-1-1-8-1 8-15 1-1 0-4-2-6 1-1-5-2-6 0 5-1-7-1 10-3-13-3 0-1 1 0 1-1-2 0 8 0 3-15-2 0 4-1-12-4 15-3-9-1 9-1-21-3 6-1-2-1 3 0 6-2 0 0 8-1-11-4-2-1 8 0-16-2-1-2 8 0 2-3 4-1 0-2-6-1 13 0-11-2-10-1 1 0 6-7 2 0 12-2-3-1-16-2 20 0-11-2-7-3 13-7 3-2-11-1 8-8-1-4-1-3 2-7 4-9-18-2-3-16 1-3 9-34 11-259 13-52-4 161 7 193-10 4 19 29-18 8 10 3-10 5 6 5-5 0 1 8 13 0 1 0-3 1 3 6 1 0-1 4-19 4 9 2 11 3-6 1 4 2-1 0-12 2 11 2 0 4-4 2-8 1 16 3-9 0-1 1-8 1-3 1 3 0 5 0-8 1 0 1 18 1-2 4-13 4 10 0 3 1-13 1 14 1-13 2 0 1 17 1-1 3-13 0 13 0-7 0-2 1 4 0-7 1 4 3-9 0-1 0 20 1-12 3 5 1 6 1-14 2 11 3 0 1-11 0 1 0 6 1-3 1 3 4-11 1-1 1 9 2-10 1 12 2-12 3 8 0 1 1 8 3 0 0 2 1-4 0-3 0-13 0 2 1 8 0-3 4-2 1-1 1 6 1-5 1 11 1 3 0-1 1-6 0-12 1 1 2-1 0 19 19 1 1 1 0-4 1 1 1 0 0-6 3-2 3 11 0-4 3-1 1-2 0-11 13 3 1-4 1-1 2 11 1-11 3 0 0 1 1 0 1 6 1-6 0 12 15-3 1-4 1 8 0-9 2 12 5-2 1-6 1-4 0 7 1-5 0-8 62 1 1 2 1 1 1 2 0-1 1 0 0 10 2-10 1 14 2-10 0-1 1-9 1 2 1 7 0 13 1-13 1 4 2 4 1 1 1-6 7-1 1-7 1-1 0-1 0-1 1 6 0-1 2 9 3-2 2-5 1 4 0 0 2-11 1 6 1-6 2 1 2 21 14-1 1-4 1-11 3-3 1 11 0-6 2 6 7-2 0 10 2-22 0 16 0 4 1-11 1 10 0-17 0 2 1-1 1 14 3-5 3-10 0 11 3-1 0-8 2-4 3 23 0-5 1 1 0-5 0-9 1 4 0 10 2-13 0-2 6 4 0-8 0 9 1 9 2 1 2-4 1-8 2-6 1 4 3-5 1 15 0-11 0 10 1 4 0 0 1 5 1-1 1-8 0-10 5 11 3-3 0 1 4 0 7-8 4 12 4-7 7-3 1 5 0 3 3-2 1 6 1-15 0 0 1 17 13-20 13 11 24 3 18 9 11 19-13-11-6-9-7 6-5 8-5 0-27-6-2-7-1 1-7 13-3-14-6 4-6 4 0 4-5 9-3-3 0 3-1-5-3 0-1-11 0 8-1 5-1-18-2 18 0 0-4 0-2-14-1 16-2 0-1 1 0-22-1 16 0-6-1-8-1 10 0 0 0 2-1 2-3 1-1-12 0 11-1-1-3-11-1 11-2 6-1-2-1-17-1 19-2-17 0 8 0 10-2-19-2 11-2 9 0 0-3-3-2-2-2-15-1 2-2 2-1 0-8-1 0-5-1 1-9 1-2 20-3-18 0-1-1 0 0 2-2 8-52-1-1 5 0-4 0 7-1-10-1 10-3-12-1 1-1 1-1 0-2 1 0 0-1 6 0-3-1 3 0 2 0-4-2-14-116 4 0 1-7-5-4 21-14-1-1 1-5 0-1-20 0 18 0 1-1 0-1-19 0-1-1 14-13-4-2 1-1 9-2 1-1 0 0 0-1-11-1-1-3 7-1 2-4-18-5 4 0 8 0 2-1-10-2 8-1-5-1 11 0-12-2 11-5-5 0-8-1-4-1 15-1-1 0 8-2-12-5 0-1-12-1 6 0-5 0 20 0-14-5 7-2-5-1-1 0 6 0-4-2 9 0-16-1 8 0-6-1 12 0-8 0 11-3-19-12 13-1-10-2 20-2-23-3 20-3-20 0 4-2 12-1 6-3-4-2-11-1-5-1 17 0-6-5-3 0 8-3 0-5-6-7-1-9-11-20 13-63-12-9 11-26 24-49-7 162 13 10 1 13-17 3 13 2-13 6 12 3-8 2 5 13 1 0-9 5 7 4 0 2-2 7-3 1 6 1-7 4-5 2 8 3 14 2-13 0 13 5-20 0 16 1 3 2-14 1 1 2 4 2 4 2 5 3-19 2 2 1 0 2 3 4 13 4 2 0-19 1 14 2-3 2 2 0 1 4-2 0 5 2-3 1 6 0-1 0-6 2-6 1-2 2 10 4-2 1 0 0-14 5 1 0-1 0 5 2 2 0-1 1 1 4-8 3 9 10-3 2 7 2-12 1 19 1-3 1 6 1-13 3-4 0 5 2 2 2 9 0-6 1-1 0 0 2 6 17 1 0 0 1 0 1 1 4-14 105-3 1-2 1 2 0 8 0-2 2 2 4-13 0 13 0-12 1 1 3 7 1-4 0-3 33 2 1 1 2 1 0 1 0-9 0 10 0 3 4-13 1 13 2-1 2-6 0 16 11-8 2 5 6-15 1-2 1-1 1 8 3 0 4 14 0-1 1-21 0 21 3-1 1-20 7 7 1 3 4-9 0 22 3-12 0 10 2-20 0 15 2-11 0 1 1-6 1 12 3 3 1-8 0-6 2 19 1-6 0 3 2-4 4-1 5 0 2-1 1 9 0 0 2-6 2 8 0-19 1 20 1-4 4-12 1 6 3 3 6-10 1 7 0-1 3-1 5 8 10-8 2-2 14 10 19 1 8-8 5-6 26-4 8-2 77 37-101 0-28 4-3 2-14-1 0 0-4 0-2-2-9 3 0-4-3 5-1-18-3 20-1-5-4 5-2-14-1-8-1 12-7-6-3 2-6-7-2 1-2 7-1-4 0 4 0 12-1 0-2-19-2 10 0 9-2-4-1-14 0 17-6-14 0 6-2-3-1-6 0 17-1-4-1-14-1 15 0-1-2-13-1 3 0 8-1-4 0 11-6-1 0-21-1 9 0 10-1-16 0 18-4 3 0-24-1 4-1-3 0 17-1 2-1-6-2-7-1 14-6-2 0 4 0-1-5-3-2-3-5-15 0-1-2 0-1 21-4-1 0 4-1-6-13 1-1-4-2-1-2 0-4 7-1-10-1 0-4 1-1 6-2-4 0 9-58-2-78-11-4-1-1 9-1 4-2-19-3 4 0 11-2 3 0 0 0-5-2 0-2-2-1 9-4-2-2-21-9 19-5 3-1-6-1-2-3-3 0 3 0 0-2-2 0-8-2 12-1 2-1-13-1 14 0-5-3-1-1-6 0 12-1 0-1 5-2-8-1-3-9 5 0-6-9-7 0-4 0 12-4 10-3-6 0-7-1 7 0-12-2 12 0 1 0-12-1-5-3 4-4 18-3-11 0-2 0-6 0 3-4 11 0-11 0 8-1-13 0 4-2 15-1 2-3 1-2-4 0-4-1-2-2-1-5 7-4-8 0 4 0 4-4-3-4-8-5 8-2-12-4 8-1-6-4 16-3-8 0-4-3-4 0 13-4-12 0 14-13-7-4 2 0-15-1 9-7 8-6-3-47-13-6 11-9-5-81 10-283-9-65 34 225-16 71 13 156 1 32-8 4 1 10 2 3 5 3-14 10 2 2-6 5 10 1-1 2 7 0 6 8-19 0 10 0-9 2 17 1-15 1-5 0 11 2-4 1-2 2 1 1-3 2 9 4-10 0 9 1-6 1-1 2 4 2 13 3-9 11-8 1 4 1 4 1 0 0-1 1 6 0 3 2-9 1 2 1 1 0-8 0 11 1 2 1-13 0-7 5 24 0-23 1 7 1-1 0 16 0-2 0-11 1-7 1 11 0 7 1-6 1 8 2-21 2 14 0 3 1-5 6 1 1 7 1 1 2-2 0-19 3-2 2 7 4 0 6 0 3 5 4 6 1-5 1-9 1 19 1-21 0 17 2-17 1 1 4 15 0-8 0-9 1 18 1-2 0-5 1 1 0 4 0-11 15 0 1 0 1 2 5 1 1 0 0-2 1-1 3-3 1 1 3 0 0 0 1 2 1 0 5-1 1-3 1 6 37-3 0 3 0 6 5 1 1-11 0-1 1 1 1 0 1 10 1-11 0 9 3 0 0-4 3 0 17 0 0-1 1 0 1 3 1 2 0-1 1-10 0 14 2 7 0-22 1 13 1-12 0-1 1 16 1-5 1 2 2 0 1-7 0 17 3-7 0-15 60 20 20-18 0 21 1-1 1-19 0 10 1 9 0-16 2 1 1 5 0 10 1-15 0 6 0-8 3 10 0 7 1-17 1-1 1-5 0 2 11 6 4 3 2-1 1-6 6-3 0 6 0 7 1 0 7-1 1 10 1-8 1 6 0 1 0-2 1-14 0 11 1-12 1 7 2-8 0 10 2 0 1 4 1 4 1-7 1-2 0 6 1-5 1 10 2-18 3 2 1-6 1 3 2 16 4-18 2 14 1-16 2 10 2 4 1 6 1-14 2 13 6-2 5 5 3-17 4 16 5-21 1 13 1 10 0-15 12 15 0-9 1-1 0-14 6 12 12-5 2 6 9-3 34 32 18-12-34 4 0-4-25 9-2-4-2 6-21-11 0 5-2-3-4 15-1-17-1 12-2-10-12 15-1-6 0 5-1-18-2 4-2-1-6 9-1-15-1 4-1 8-5-13-2 16-2-15 0 1 0 9-2 0-1-8-1 7-1 13-1-21-1 13-2-3-2-7-1 7 0-2-3 10-3-8 0-7-5-3-1 6 0 15-1-23-2 16-2 2-1-6-1-5-1 1-4 10-1 5 0 0 0-14-2 2-2 2 0-8-6 7-1-9 0 8-2-9-3 1-1 21-1-13-2-1-2-1-1 14-21-20-72 1-1 3 0 1-8-8 0 1 0 0-1 3-1 2 0 13-2 0 0 0-1-2-1 2-3 1-1 0-1-4-40-7-1 7-1 3-2-11 0 11-1 0-1-11-2 11 0-11 0 0-1 0-1 2 0 7 0 1 0-7-1 2-1 10-28-3-28-2-3-1-2 0-1 3-2-13 0 2 0 1-6-9-1 8-1 8-1-8-2 10 0 2-1-12-1-1 0 1-1 11-4-5 0 8-3-9-9-13-1 20 0 1-1-19 0 15 0 2-1-10-1 11-4-13-1-4-2 17-2-14 0-3-1 3 0-1-3 2-2 0-4 11 0-6-1-2-1-6 0 16-2-12 0 13-1-20 0 13-1-5-1 8-3-2-1-14-2 18-2-4-1-11-2 4-3 15-2-21-1 2-13 13-6-18-2 5 0-1-6 6-2 2-4 0-10-8-12 0-1-1-5 11-31-10-13-3-128 2-27 10-29 33-86-21 145 13 123-10 57 9 1-6 9 6 3-3 4 13 3-7 16-5 2 5 0 0 6-11 2-2 6 13 3-4 6-1 0-1 1-9 2 21 0 0 12-19 1 2 0 11 2-15 0 12 1-6 5-2 1-3 0 4 4 6 0 4 1 7 4-3 0 0 3-18 0 17 1 5 4-3 1-17 0-3 0 12 4 10 0-13 1 1 1 10 0-9 0 10 3-16 1-3 1 1 1 19 0-18 2 14 0-11 2-2 0 0 1 4 1 12 0-20 1 4 2 15 0-16 3 12 0-4 4-2 1-5 0 1 0-2 0 7 1 7 4 1 1 3 0-4 0-4 0-1 0 6 1-13 18-1 1 3 1 3 0-12 2 14 1-1 1-12 3 1 0 9 0-3 2-3 1-5 73 6 2 0 1 0 3 1 3-7 2 6 71-4 1 3 0 3 1 0 0-8 6 10 1-7 4 1 20 3 0 4 3-2 4 1 1-2 1-3 1-5 0 9 1 2 1 3 2 1 1-10 1 0 0-2 3 12 1-14 1 9 1 13 4-15 3 16 0-15 2-6 1 2 7 1 1-1 1 6 0 0 3 9 1 2 1-6 0-15 1 13 2 0 0-11 1 9 1-8 1 6 2-4 1 8 1-7 1 9 1 5 1-4 0-16 4 9 0 5 0-5 3-5 2 14 1-13 3-5 4 8 2 12 0 1 3-21 1 14 0-14 1 16 3 4 5-13 4 10 4-1 4-15 1 8 4 5 6 3 2-6 3-4 3 8 2-10 10 10 20-14 7 16 14 20 66-2-42 4-24 0-7-9-15 16-12-5 0 6-10-4-3 1-1-7-11-12-4 19-2-11-1-4-1 7-2 6-1-13 0-1 0 6-7 0-1 8-1 4-1-14 0 3-1-1-1 2 0-12-1 12-1 2-4-4-3-5-1-1-3 3-8-1-1-4 0 1-1 11-1 0 0 0-2-14 0 1 0 0-3 1 0 10-1 6-1 4 0-21-2 1-3 2 0-3 0 4 0 15-1-19-4-1 0 14-1 5 0 0 0-10 0-1-1 10-4 0-1-7-3-7-6 11-1-3-1 4-2-1-1 3 0-1-1-8 0 0-1-4-4 7-5 4 0-3 0 5-1-9 0 10-1-10 0-2-3 1-1 14-1-11-2 12 0-14-2 11-1 1-1-8 0 1-1 1 0 6-64-6-4 0-4 2-3 2-2 0-2 2-2 0-2 0-1-7-69-3-2-1-1 7 0-10-1 0 0 1-1-1 0-1 0 0-1 0 0 12-3-1-1 1-3-9 0 7 0-3-1 2 0 8-14-5-6-11-1 12-1-11 0 9-2 0 0-16-1 0-1 15-1-3 0-11-2 19 0 1-1-13-1 0-4 4 0 1-2-11-2 0-2 1-1 1-2 5 0 5-1-7-1 9-6-1-7-15-1 18 0-11-2 4-1 3 0 1 0 6 0-9-1-11-1 2-1-2 0 13-1-2-4-6 0 5-2 0 0 6-3-9 0-4-1 1 0-4-2 19-1-21 0 8-3 0-2 2-5-3-3 11 0-4-1-5-4-2-1-1-1 3-2 14-2-18-1-2-1 0-3 7 0 1-2 1-3 3 0 3-3-18-10 4-1 0 0 3-18 14-35 1-10-20-22 18-166 20 11-7 226 8 23 0 1-8 6-7 1 17 1-1 9 5 2-13 2 7 9-10 0 11 4-3 2-5 4-2 0 0 2-6 1 18 0-18 1 16 5-7 0-3 0 5 0 5 1-13 3 10 3-2 0-13 4 19 0-1 2 2 0 1 0-20 1 13 3-12 0 8 2-8 3 20 4-20 1-1 0 15 1-1 1-1 1-11 3 2 1 0 0-1 1 15 1-6 0-11 1 3 4 2 1 5 0 5 2-2 4-1 3-8 0 0 0 12 1-13 1-3 0-3 0 11 1 10 4 2 1-11 39 4 1 3 0 0 1-1 0 0 0-9 1 11 2-1 1-10 1-2 1 9 2-1 1 1 1-3 1 9 2-1 3-2 5 0 1 3 6-20 22 5 2-2 0 4 1 0 2 0 2 0 1-9 5 7 0 0 0-2 2 0 0-4 3 14 3-6 1 0 0 7 1-1 1-7 0 10 1 0 0-12 1 0 0 1 2 10 3-8 1 0 0-1 0 8 3-16 54 2 23 4 1-5 1 6 3-3 5 0 3-1 2 5 3-6 1 0 2 11 2-3 3 1 5-9 0 6 1 10 2 0 2-10 1 10 1-7 2-9 24 12 1 1 0-6 1 11 1-9 1-3 0 4 0-2 4-10 0 21 2-9 0 1 1 5 2-9 1 13 1-4 2-6 0-4 4-4 1 13 2-1 3-7 1 0 2 14 1-17 0 4 2-3 0-6 0 3 1 6 4 1 1 0 7 1 2 5 4-9 1 8 6-14 15 17 1-11 15-7 1 20 7 3 25-8 36-1 21 25-73-8-6 12-9-9-11 5-5 5-11 1 0-4 0-10-3 15-1-20-4 17-10-15-1-5 0 24-1-11-4-8 0 8-1 2-2-12-8 12-1-9 0 8-3 1-1-1-2 4 0-9-1-4 0 16-1 1-1-13-6 15-1-17 0-5-2 16 0-6 0-6 0 5-8 5-4-13-1 11 0-9 0 15-1-17-1 16 0-2-1-14-2 10-5 10-1-16 0 0 0-3-1 18 0-14 0-2-1 13-2 3-24 0-1-3 0 0-1-3-8 3 0 5-1-2-1-9-77 6-2-2-1-10 0 1-1 0 0 11-1 0-2-7-5 4-1-12-58 2-1 0 0 0-1 2-2-3-3-3-4 1-1 19-1-1 0 0-1 1 0 0-1 1-2-7-11 3-3-8 0 8 0 2-1 3-3-15 0 15-1-9-4 8-1 0-2-3-12-1-6-15-4-2-1 2-1 5-1 0-3 0-1 0-6-8-2 3-1 2 0 1-1-5-3 5-1 1-2 5 0-6-1-1-2 10-1 1-2 4-3-6 0 2 0 7-1-17 0 1-4 10 0 0-1-1-5-11 0 16-1-16-1 9 0-5-5 5-2-12-2 7-12 13-2-2 0-8-3-10-6 3 0 4-14-7-3 10-2 4-2-14-8 1-2 1-5 3-19 3-48-4-167 32-280-15 444 0 5 10 34-7 23 4 7 9 8 7 4-3 6-18 3 6 6 7 4-4 4-8 2 4 1 5 3 7 2-3 4-2 6-10 0 19 7-4 1-8 4 2 0-8 0 9 4-1 2-3 3 8 4 0 1 5 1-20 4 0 2 2 1 18 4 0 1-3 1-12 1 10 3-14 1 0 3 9 1 4 0-10 1-1 0 12 0-11 1 9 1 3 1 3 8-1 1 1 0-20 0 22 0-2 1-19 0 2 3-1 2 0 2 12 20-3 0 5 1-14 0 9 1-5 2 2 1-10 2 20 0-9 1 1 3 3 0-10 2-3 3 4 2 8 2 0 4-8 3 8 0-4 0-9 1 4 0-4 1 23 99 0 1-23 55 3 3 1 2-1 0 1 5-3 1 7 21-4 0 2 1 3 0 7 3-14 0 14 3 1 3-9 2-6 0 2 1 16 1 1 1-19 1 11 4-1 2-3 0 2 0-4 0 16 1-10 1-4 3 1 1 11 1-5 0-8 1 9 4-8 3-9 0 9 0-9 9 2 4 17 2-19 1 4 3 12 2-5 0 4 1-3 1-7 1 10 1-14 0 17 0-5 4 2 3-10 0 18 0-17 2 7 3-14 6 7 6 8 7-8 1 11 8-7 5 1 2 5 2-4 10 1 11-7 1 12 7-1 5-1 27-17 31 36 72-7-41 19-55-7-11-1-4-3-29 9-9-21 0 18-9 0-5-10-1-1 0 13-3-7-4-1 0-10-2 18 0-12-2 14-11-17-1-4-1 11 0 6 0-5 0-14-2 11-1 12-2-20-1 11-2 6-1-6-2 8-1 0 0-1-1-10-6-3-1 5 0 4 0-13-2 13-3-7 0-3-2-4-1 18-1-11-2 8 0-15-2 9-1-10 0 21-20 0-3 0 0-1-4-2-4 3 0-7 0 3 0-3-2-2-1-13 0 14-3 1-3 2-1 0 0 4-2 0-1-1 0-21-89 8-2 1-1 0-4-3 0 1-1-3-103 4 0-4 0-2-2-1-1-1 0 14-1-2-3-9-2 3-1 2 0-4-5 3-5-4-3-1-1 2-1 18-5 2-1-10 0 1-1-2-5-5 0 12-2-5-3-11-2 10 0 0 0-4-2 6-5 0-1-9-1-1 0 11-1-3 0 10-4-7-2-12-1 11 0-5-2 6-1-14-2 2-1-1-1 16 0-3-1-13 0 15-1-18-2 10 0 9-1-2-1-4-4-11-1 3-1-6-1 19 0-14-6 5-1 9-4 5-1-22-1-1-1-1-6 14-5-9-2 0-1 14-1-8-7 7-4 3-1-21-1 10-11 9-7-1-10-2-6-4-44 20-478 3 0-6 200 3 0 9 291-4 23-6 7 2 8-1 15 11 16-12 4-3 15 10 1-13 2 18 12-1 4-6 0-1 3-10 2 9 1 4 0 2 9 1 6-7 1 11 1-13 7-4 0 16 4 3 1-1 0-1 1-1 1-8 1-8 3 16 2-9 3-4 0 6 0-7 4-5 0 8 2 14 1 0 0-7 2 2 0-9 1 2 1 2 0 2 0-1 3 4 4-8 0 3 2 5 1-12 1 14 0 3 0-5 0-12 3 10 1-9 3 16 1-4 1 0 1-1 2-3 1-4 1 9 2-8 0 10 1-2 13 1 0 2 0-4 1-3 3-2 2-1 1 0 2 2 1 4 4-1 0 4 9 2 3-1 3 1 0-23 154 2 3 12 4 2 1-1 0 5 1-7 0-11 1-3 1 13 2 10 0-15 1-6 1 9 0 0 1 3 1-8 0 8 0 6 3-2 4-9 2 8 1-11 1 5 0 2 1 9 15-1 2-1 5 2 1-2 1-7 15 7 2-9 5 7 3-12 4 7 4 9 2-9 0 4 1 1 2-16 7 16 2-7 0 0 2-9 1 18 2-2 4-2 0-16 5 1 0 13 2 0 1 1 1 6 2-8 1-1 3-9 1-1 5 1 19 12 8-14 0 13 8 3 1-5 5-3 1 12 8-12 1 7 4-11 6 14 67 15-50-4-1-2-64 5-2-1-1 6-1-1 0 3-1-7-1-5-2 1 0-5-3 13 0-10-7 8 0-7-5-2-3 4-5 4-4-6-1-1 0 4 0-1-5 9-2-14-2 5-5 6-4-3-4-2-1-3 0 8-3-10 0-1-3 9-3 0-1-8-1 1 0 7-2-3-2-3-7 1 0 9-3-2-1 4-1-15-1 14-1-12-1-2 0 5 0 2-2 1-2 6-1-9-5 9 0-3-4 3-7-2 0 2-2 0-7 1-4 0-5-16-5 11 0 1 0 0-1 0-1 2 0-2-2 1-1 0-2 2-1-3 0-2-1 2-6-1-3 3-1-1-1 2-1-1-5 1-7-1 0-1-1 0-1 2-1 0-6-1-3 1-1-2-1 1 0 2-6-1-2-1-2 1-2-3-3-7 0 5-1 2-2 3-1-1-1 1 0 0 0-3-1-1-3-5-1 1-1 3 0 4-1-1-1-2-1 0 0 5-1-3 0-3-1 0-1 0-4 1-3 1-1 2-1-1-1 2-1-2-2 0-1 0-1 3-3-3-4-1-1 2-1-3-1-1-2 2-6 4-4 0-5-2-2 2-1-4-1 0 0 3-1-3-4 3-1-3 0-3-4-2 0 8-6 0-1 0-2-3-2 0-4 4-3 0-6-2-2 2 0-8-2-6 0 5 0 1-1 5-3-11-5 4-1-3 0 5-1 7-1 0-1-1-3-12-5 8-1-9 0 10 0 0-3-10-3 10-1 1 0-2 0-3-6 2 0 6-3-5-1-7-3 2-2 7-1-4 0 2 0 3-4-9-1 9-4-10-1 11-2 0-1-10 0 2 0-4-1 1-1 0-7 3 0 8-2 1-1-8 0 6-1-10-2 12 0 0-2-3-1 3-3 1-1-11-1 0-1 9 0 1-2-9-4 2-2 0-3 4-2-9-1-2-3 12 0-12-2 9-1 4-1-11-1 2 0 3-3 6-1-4-4 1-1-4-3 5-3 1 0-2-3 2 0-4-1-2-6 7-2-1-17-2-6-9-5 9-8 0-7-11-5 15-1 32-92 0 2 0 9 0 0 0 3 0 17-1 8 2 1-2 2 1 5-2 1 1 1-1 0 1 11 2 36-2 3 1 7 0 18-2 4 1 8 2 1-2 0 0 2-1 3 1 1 1 2-1 8 0 1 1 8-1 2 0 9 0 4 2 1-1 0 0 13-1 7 1 8 0 8 0 1 1 0-3 1 3 2 0 5 0 1 0 6 0 8-3 1 1 0 0 4 0 2 2 7-1 1-2 1 2 6-2 0 0 1 1 3 0 12 1 2-1 0 1 2-2 3 2 1 1 2-2 4 0 4 0 0 2 5-2 0 1 4-2 1 0 19 0 4 2 5 0 2-2 1 1 5-1 4 1 3 0 4 1 0 1 6 0 2-1 1 0 7 0 25 0 92 1 45 0-48 11-27 9-8-11-24-7-7 3-3 1-18-4-1 2-1-2-3 1-2 13-5-15-4 22-5-8 0-14-4 3-5 0 0 10-3 0-3 7-2-4-2-5 0 5-1-11-3 1-2 10 0-9-2 11 0-1-1-9 0-7-1 0-3 16 0-1 0-1-6-7 0-3-1 1-1-3 0 19-4-19 0 17-1-20 0 19-3 0 0-3-1-8-1 0 0 5-2-12 0 12-1-2 0-8-2 0 0-1-3 4-6 12-1 5-1-5-1-17-1 13 0-13 0 16-7 4-3-1-4 0-3 3-1-23-13-1-4 22-6 0 0-2-4-1-2 4-3-23 0 3-7-1-12-2 0 0-3 0-2 2-1-1-2 0-6 0-12 20-10-19-1 16 0-17-3 15-1 1 0-15-1 15-1 1-2-17-1 15-1-1-1-12-1 14-2 1-1 0 0-14 0-2-1-1-1 18 0 4-1-4 0-18-2 0-6 0-1 0-3 1-1-2-3 1-16 19-3-1 0-6-1 6 0 0 0-8 0-3-2 0-2 1-1 12 0-3-3-7-1-2-1 11 0-8-1-10-8-1-2 5-4-1-2-4-5 3-3 0-3-3-8-1-2 0-3 1-5 5-1 18-1-19 0 18-1-19 0 2-4 16-2-20-2 19-1-9-1-10-3 20-2-20 0 18-2-8 0-8-2 0-4 1 0-2-6 1-2-1-1 1-3-2-2 12-5 2 0-3-1 7-1-17 0 16-1-17-1 18 0 2-2 0-1-13-1 2 0 9-3-1 0 0-1-6 0 3-1-15 0 16-1-5-1 9 0-2-1-2 0-11-3-1 0 6 0-5-1 12-2-14 0-1-1 21-4-20 0-3-1 0-3 1-6-1 0 0-1 6-9 6-1-12 0 23-1-22 0 11-1-12-3 12 0 10-2-2-1-8 0-10-3 16-1-7-1-8 0 16-1 3-1-6 0-1-3 7 0-18-1-3 0 10-3 4-3 7-3-12-2 2-2 8 0-9-5-11-3 8 0 14-15-8-3-12-4 14-1-10-6 0-7 14-10-12-1 4-1-10-29 43-449-6 100 4 302 2 13 1 29-7 15-6 1 3 12 9 13-14 1 14 0 2 1-13 1 3 1-5 2 12 1-6 5-5 1 1 1-8 1 12 0 2 3-2 1-6 5 12 1-14 1 7 0-13 5 5 2 16 0-14 0 1 1 7 0-8 2-4 1 19 0-1 3-10 2 7 3-11 0 8 1-7 2 12 1-15 0 9 3-8 0-6 2 2 0 15 4-4 3-5 0-1 3-2 1-3 0 13 1 8 2-18 1 15 1-18 5 2 2 7 0-6 1-5 1 12 1-1 0 0 6-10 0 12 2-14 0 10 0-10 0 11 3 10 1-17 1-2 0 14 0-2 1 5 2-17 2 2 4 9 0-5 1 3 1 7 2 6 0-18 1 13 1 5 1-22 3 2 0 19 48-5 0-1 0 1 1 1 0-18 1 7 0-2 0 18 0-15 1 6 4-15 1 11 0-1 0 7 2-9 2 7 1-9 1 14 4 3 1-2 39-6 2 8 2-9 0 9 4-8 2 5 1 1 32-1 1 1 1 1 3-17 0-4 0 20 1 0 2-15 4 1 2-6 1 11 1 2 2-9 2-3 1 14 2-13 0 12 1 1 2-8 1-1 0 0 2 13 2-2 1-3 5 1 2 1 0-2 1-7 1-2 1 1 0 9 1-13 0 13 0-13 1 20 0-6 1-15 1 13 2 4 0 0 0-13 5 12 0-12 0 3 1-8 2 10 2 6 0-1 0-2 2-10 3 18 2-4 0-11 1 13 0 1 1-13 1 2 1-1 3 9 0-14 7 20 1-9 1 7 0-13 3 0 1 11 0-11 1 8 1-2 2-8 1-3 0 1 1 14 4 1 1 2 6 1 3 1 0-1 5-22 0 1 1 7 3 10 1-16 5 11 1-9 1 17 1-20 0 19 2-11 1 11 1-9 6-12 1 22 1-14 1 13 3-15 1-3 1 16 2 4 3-6 1-15 1 18 2-18 0 5 3 5 4 1 5-11 4 12 1-12 2-1 0 16 13-16 0 8 1-5 2 19 2-10 16-10 5 9 20-11 70 26-77 10-9 3-3-6-18 5-16-3-12-6-3 0-5-5-3 1-4 2-3 17-1-11-10 0-1 8-2-3-1-6 0 14-4-4 0-15-1-2 0-1-5 18 0-19-1 21-2-12 0 4-1 2-1-4-2-1-3 11-2-9-9-5-1 9-1-11 0-3 0 5-1-2-3 17-3 0-3-1 0-19 0 2-2 6-1 10-1-8 0 9-5 1 0-6-1-15 0 7-1 7 0-15-1 13-2 1-3-2-2 11-3-7-1 2 0 0-1-3-2 1-1-6 0-6-1 15 0-3 0 0 0-12-2 1 0 1 0 0 0-1-1 0 0 17 0-21-3 7-1 1 0 3-2 7 0-9-1-9-6 2-1 2 0 3-4-3-4 0-2-4-1 23-9-22-10 9-1-2-1-9-2 11-3-3-4 1-1-1-1-8 0 20-1-19-1 4 0 19-6-9-26-15 0 7 0 8-5-11-1 12 0-3-2-4-1 0 0 2-1-3-12 4 0-4-1 5 0-1 0-1-1 3-2-12-1 9-5 2-1-7 0 2 0-4-16 2-1-1-2 2-1 0-1 6-5-11 0 12-3-2 0-3-1 3-1-6 0 3 0-2-2-4-54 2-3 5-8-2-2-7-2 21 0-2-2 0 0-1-2-2-3-6 0-6 0-1 0 9-1-5 0 4 0-7-1 15-2 3 0-21-14-1-6 0-9 8-3 2-2 2-3 3-3-14-1 13 0 1-2-14 0 15-1-10-3-6-2 14-1 4-3 3-3-21-4 15-2 5-1-20-1 12-1-6 0-1-1 3 0 15-1-19 0 0-2 0-2 13-1-3-2 3-3-16-3 3-2-1-1-1-6 4-1-3-3 17-8-9-2-1-2 9-1-7-1 4 0 3-5 2-6-6-1-1-9-13-3 17-7-9-3 12-6-5-29-4-13 17-367-3 269 15 137-6 14 3 6 0 17 5 5-7 2-10 4 12 1-12 2 12 0 1 4-12 2 6 1 12 1-11 9 8 0-3 1-14 1 5 1-5 1 4 1 12 1-17 1 8 2 0 5 15 0-12 1 3 2 8 0-23 1 3 0 12 1 2 1-11 5 0 5 10 0-10 0 4 1 12 1-1 1-5 3 1 2-12 0 1 1 16 2-14 0 7 0 1 0 3 1-3 0-7 0 3 2 3 1 5 2-12 1 1 0 9 1 2 2-2 1 2 2-15 2 18 0-14 0 14 1-5 3-15 2 1 0 9 1 2 1 1 0-3 0-10 2 10 1 2 1 9 2-6 0-6 0-7 0 2 1 1 0 9 1-10 9-1 4 0 0 1 2-6 4 17 12-1 0-4 2 9 1-10 0 11 1-9 0-3 1 1 3 0 3 10 2-4 0 1 0 2 0-9 118 8 3-12 1 11 1-12 1 11 4-4 0-6 1 6 0 4 0-15 10 4 5 0 0-7 4 1 1 0 0 21 9-2 0 1 2-16 4 2 0 2 1-9 1 19 0 1 1-1 1 0 0-8 2 9 3 0 0-15 1 3 1-1 2 12 0 1 1-13 0 1 0 14 1-1 0-13 0 6 6 8 2-2 3-1 1 4 5-16 2-7 0 12 3 0 5-8 1 3 0-2 2-3 0 20 4-20 2 20 1-14 0-5 1 16 2-18 1 12 2 2 0-6 2-8 2 6 0 7 2 8 1-18 6-3 4 14 1 5 0-9 0 3 3-11 2 16 1 2 1 0 3-1 2-1 5-10 1-2 0-6 1 15 3-11 1 16 5-3 3 6 3-11 6 5 0 1 1-8 3 1 4-5 2 16 4-6 0 5 1-21 2 9 4 4 18 2 25 9 54 19-12-6-40 9-2-5-5 2 0 3-2-21-2 20-15 1 0-13-1 12-2-10 0 3-1 3 0 0-8-1-2-13-1 5 0 13-1-13-3-4-2 0 0 18-4-10 0 2-1 3 0-3-1 8-3-12-1 0-1 10 0-19-3 21 0-10-2 8-2-16 0 15 0 0-1-19 0 8-2 7 0-12-5 12-1-7-2 11-2-11-1 12 0-1-1-13 0 0-3 5-1 12-3-13 0-11-1 20-1-19-1 17-1-7-1-5-1 8 0 2-1-15-1 3-1 9-4-1-4-3-2-3 0 2-1-2-2 14-1 2 0-1 0-18-1 9 0 6-1-15-3 1-1 7 0-1-3 1-2 9 0-12-2 12 0-18-1 3 0 9-1-11-2 15-1 3-3-2-1-1-2-7-1-1 0 5 0-3 0 4-2-8 0 5 0-10-2 13-3-14-2 0 0 6-1 11-1-6-1 0-3-1-4-1-1-6-3-3-2-1 0 1-2 2 0-1-17 1-3 1-4-1-1 0 0-3 0 21-5 1-114-1-3-6-1 5-2-8 0 1-6-2 0 11-1-9 0 7-2 0-2 0-1-16-1 2 0 9 0-2-1-9-1 11 0-1 0-10-1 19-1-1-2-8 0-11-1 1-2 9 0-9-1-1-1 19 0-10-1-12-10 2-5 0 0 9-5 3 0 2-1-1-4-8-2 15-1-6 0-6-2 2-1 8-2-3 0-1-2-2 0-2-6 9-3-2-1 4-4-24-7 3 0 0-3-1-4 18-5-6-1-7 0 1 0-6-1 7-3 5-2 2-1 0-2-2-5 3-1-6-3-7 0 0-2 3 0 2-1 5 0 1-1-12-1 7 0 2-1 5 0 3 0-15-4 16-2-17 0 4-6 2 0-6-1 8-3-11-1-1-2 15 0-11-5 3-1 1 0 0-2 16-1-5-3-6-6 8-2-17-7 3-3 3-7-8-1 7-1 1-3-8-11 3-10 12-3 4-21-15-8 24 51-1 0 15 14-18 10 18 9-17 2 10 16-6 9-4 10 18 1-19 0 10 3 9 8-12 1-8 2 4 0-5 2 18 0-3 3-9 2 1 1 2 5 10 3-14 3 1 1 3 0-2 0-3 1 3 0 2 3 4 6 11 1-13 1-10 2 2 1 8 1-6 0 1 1 2 2 2 1 3 1 4 0 2 2 0 3-18 0 4 1 15 4-5 2 8 0-8 3-1 3 2 1 2 2 3 3-2 0-12 4 2 1-7 0 13 2-8 0 12 5-2 0 4 0-10 3-6 0 3 1-5 0-2 0 9 1-5 0-3 0 21 5-5 1-3 0 7 0-14 3 0 1 6 1-9 0-3 0 3 1-2 0 15 1-1 3-1 2-6 4 4 1-10 0 11 6-5 3 11 2-10 0-2 1 1 5 10 1-7 0-1 1-3 7-4 1 0 0 0 1-3 0 7 0-7 1 12 0-13 1 14 0 2 5-15 0 5 2 6 2 10 64-2 1-15 3-5 2 0 0 9 1-10 1 0 0 10 2-9 3 2 44-2 2 4 2 0 1 0 3-4 2 1 1 1 9 0 8 0 2-1 3 15 27-3 1 6 4 0 0-10 0 11 1 0 1-13 2 15 2-14 1-6 1 14 1-8 1-1 5-3 1-1 2 16 2-4 3-15 2 15 2 2 1-4 0-12 0 7 2 2 1-1 2 2 0 11 1-2 1-11 1-10 2 11 1 5 1-3 0-8 0 13 3-3 1 5 0-4 0 4 0-15 2 6 0-3 1 12 2-11 1 8 4-1 1-3 1 1 0-1 0-1 1 10 0-3 0-15 1 7 2-3 4 15 1-10 1-1 1 1 0 7 1-13 0 9 1-1 2-9 0 2 1-5 1 10 0 5 1 5 2-3 0 1 1-1 1-16 3 14 0-11 1-1 1-5 1 19 2-6 0 5 2-2 1-3 2 4 0 1 3 0 4-18 4 19 6 0 15-6 1-11 7 0 7 17 14-11 4 13 8-10 37 10 3 23 0-8-27 7-12-20-2 22-8 1-4-16-5 11-1-14-6 6-1 8-1-2-6 4 0-2-1-2 0-1-1-10-1 11 0-1 0-8-2-1-1 8-2-11-1-2-2 13-1 10 0-7-1-13-2 4 0 6-1-11 0 9-1 4-1 6-1-18 0 15 0 4-1 0-1-23-3 6-1 10 0 3-8-3 0-3-1 4-1-10 0 1-2 3 0-2-3 4-1 0 0 10-1-4-2-18-1 11-1-1 0-8-1 3-1 1-1 1 0-3-5-1-1-1-1 18-2 1 0 1-5 0 0 0-2-12-5 1 0 1 0 2-2-11-3 9-3-8 0 7-2-9-25 1-1-1-1-1-3 12-99-5 0 0 0-1-1-1-3 11 0 0 0 2-1 4 0-1-1-6-2-7-1-1 0 7 0-1-1-3-1 4-5 2 0 1-2 3-2-18-17 2-2 2-1 1-2-1 0-2-6-2 0 1-2 9-6-6-1-1 0 1-1-1 0 10 0 2-3 5-1-3 0-1-1 3 0-8-1 0-1-6 0 0 0 7 0-7 0 7-1-1-1 0-3 3-2 1-2 5-2-4-6 0-5 3 0-13-9 1-1-3 0 6 0-7 0-2-1 1 0 8 0-11-1 2-1 11 0 1 0-15 0 2-1 11-1-13-1 15-4-1-1-12 0 12-1-5-1-1-2 11-3-1-2 3-5-8-4-5 0 2-1 4-1 6-3-15-2 8-3-3 0 9-1 2-1-1-5-7 0 4-4-11-1 15 0-19-1 4-6-2-3-3-6-1-2 18-1-19 0 5-1-5-1 5 0 3-1 3-1 11-1-16-5 4 0-9-1 11 0-5 0-7-5 16-1-10-10-1-1 3-5-7 0 8 0 5-3-14-3 6-7 0 0 1-2 0-3 2-4-8-3 8-4 11-21-12-481-9-58 31 576 2 21 3 6 4 14-10 6 4 4-7 1 2 6-4 1 2 0 9 15 8 8-18 1 14 0 5 1-17 2 8 0-3 0 5 3 8 7-2 1-11 2-4 1 5 0-8 0 16 1 4 0-10 0-4 1 14 0-15 0 0 3-1 4 11 0 1 0 2 2-10 1 3 2 8 4-14 5-3 0 15 0-7 1-5 2 1 3 4 2 1 0-7 1 8 0-12 2 12 1 3 0-10 1 10 0-11 0 1 6 1 1 6 0 7 1-11 1-2 1 12 1-7 0-8 1-1 1 18 0-6 0-9 1 12 0-17 0 4 1 3 0-5 0 4 1 0 5 11 0-12 1 11 3-3 0 3 1-4 0 2 15-1 0-2 1-1 1 7 1-13 1 15 3-17 0 15 4-4 0-7 0 4 0-4 1-5 6-1 1 3 5 2 3-3 1-1 1-1 1 2 2 6 32 4 0 1 0-3 0-2 3 9 1 2 3-1 1-5 2-4 1 3 12 4 0-8 1 8 0-10 4-1 0 12 1-2 1-10 1 3 3 10 24-4 1 5 2-7 0-8 0 4 1 13 1-10 0-10 1 21 0-20 2 17 1-1 1-5 1-3 1-7 1 6 0-2 1 3 0-4 41 3 1-8 1 6 0-8 4 10 2 1 5-1 1-4 1-3 1-4 10 1 0 0 3-1 2 0 0 5 1 2 2 1 1 0 0 1 2 3 3 0 6-6 0-1 1 1 14 17 1-17 3 5 2-10 0 22 0 1 4-12 0-1 2 2 0-10 1 1 1 7 6 10 1-15 0-1 0 12 0-8 0 3 2-8 1 11 3 8 3-8 1-1 1-13 2 15 1 0 6 1 0-2 2 3 0-10 5 3 5 1 0 5 4-1 1-1 0-3 3 6 4 1 0 4 0-3 1-1 0-4 1 6 4-1 0 4 1-10 1-7 1 3 1-7 1 15 0-17 4 22 1 0 3-8 9 5 15-8 10 11 15-16 31 4 1 3 17 21 51 10-37-1-7 2-5-19-7 9-1-7-23 18-5-1-1 1 0 1-2-15-4 13-2-11-9 1 0-8-4 7-2-3-1-7 0 11-1 11-1-1-5-3-1-11 0 4-4-3-4 6-3 8-4 1-1 0-3-12-1-8-4 6-1 9 0-5 0-4 0-4-1 18 0-4-1-14 0 16-1-9-5 3-3 2-2-10 0 7-1-10-4 1-1 0-9 4-7-3-2 0-3-1 0 1-2-6-3 1-15-1-8 4-11 1-1-4 0 7-7-6-2 5 0-1-1-3 0-2 0 13-128 1 0-6-3 11-3 1-1-14 0 5-3 2 0-3 0-4-22 2-1-5 0 7-1 3-1-11-2 10-2 6-1-18 0 0-3 1 0 5-3 0 0 3-2 4-1 6-4 1-12 1-6-2 0-6-1-2-1 0 0-6-1 1-2-1 0 7-4-13-2 17-1 0 0-18-2 1 0 4 0 9 0-7-1-2-1 9-3 3 0-7-1 7 0 2 0-2-1 0 0 7-3-17-2 3-1 12-1-11-1 2-1 4-2 3 0 2 0-3-2 1-2-2-2-7-1-1-2 9 0-9-5 4-3 0-2 10-3-22-1 10-1 9-1-16-2 4-15-9-4 23-7-4 0-13-2-2-2 16 0-4-1-3-2-10-2-2-10 14-4-10-5-5-2 6-22 9-30-8-290 29 351 5 16-15 10 4 5 0 2-3 9 2 0 6 3 0 1-5 2 7 5 3 13-4 1-4 2-4 2 13 3 3 2-1 6-5 2-3 1-1 2 1 4 13 1-24 1 13 0-11 0 20 1-15 3 9 2 1 3-8 1-4 0 0 1 2 0 2 1 11 2-6 1-13 5 4 2 18 3-14 2 9 0-6 3 0 0-8 0 10 0 10 2-4 2-15 1 5 0 9 3-12 1-4 0 0 1 16 0-8 2 8 1 4 0-22 0 2 15 5 1 2 2-9 3 10 2-1 2-1 0-7 1 2 1 16 20-1 2-2 1 2 4 0 1 0 3-13 2-3 1 7 0 1 2-9 1-2 4 6 2 16 48-2 1-3 5 6 5-1 0 2 22-2 1-3 5 5 5-1 6-1 1 2 0-4 4 0 2 4 5-22 71 0 3 10 5 4 0-4 0-2 1-2 3 12 2-15 1 12 1-1 2-11 1 3 0 0 1-2 0-5 1 2 0 0 0 8 1 1 1 0 2-9 2 6 3-8 3 3 9-2 1 11 4-3 2-7 0 5 2-1 1 13 0-2 1-15 1 4 0-5 4-1 0 22 0-21 0 14 3 3 0-6 1-8 1 16 1-13 1 1 2 14 2-12 1 1 3-9 1 18 0-9 2-8 4 8 1-2 1 7 3 5 1-9 1-10 4 7 5-1 2-6 0 12 2-11 4 5 5 5 7-9 5 16 2-3 4-8 1-6 19 9 20 5 10-6 4 4 29 26 21-6-40 2-9-1-15-9-4 6-6 10-3-3-4-7-2 2-1 4-3 6-15-11 0-6-2 8 0-7-2 10-2-4-3 2-5 6-1-14-3-1-1 11-2-14-2 16-2-4-7-8-1 0 0 7 0-11-2 16-1-1-1 1-3-4-2 5-5-10-1 7-3-2-3 2 0 3-4-4-2-14-1 20 0-3-1-8-3 12 0 1-1-17-3 18-1-1 0-11 0-11 0 18-1 3-6-14 0 12-2-17 0 3 0 2-1 16-5 0-2-1-1 0-4-3-9-1-4 0-2-12-2-2 0 13 0-9 0 0-1-2 0 15-2 2-1-12-2 0-1-10-1 9-1-3-1-6 0 20-21-5-4 4-4 1-1 2-2-1-10-6-3-3-1 1-3 4-2-2-1 1-6 4-3-7-4 0-6 2 0 3-3 1-1-20-5 2 0 2-1-2 0 5-7-3-1-4-11 3-1-1-8-1-1-2-1 23-10-5 0 2 0-5-5 5-5 4-1-4-1 4-1-20-3 12 0-4 0 3-1-12-5 2-1 19-1-6-1-11 0 1-1-2-1 2 0 2-1 8 0-2 0-8-1 1 0 5-1 3-3-5 0-1-1 0-1 8-2 0-3-9-1 1-1 5-1 3 0-5 0 2-1 2-7 2 0-3-1 4-3-10-2 1-3 3-1-12-23 0-1 20-4-20-3 19-2-20-1 8-16-1-1-3-1-2 0 8-1-9-4 11 0-11-1 10-1-9-1 0 0 9-1 10-12 0-3-4-6-8 0-2 0 12-1-15-1 17-3-16-1-4 0 0-1 2-3 12-2-11 0 0-1-5 0 13-1-1 0-6-1 15 0 2 0-3-1-20 0 19-2-9-2 11-1-17-2 14 0 3-1-4-4-4-1 5-1-15-3 9-1 0 0-1-1-4-3 15 0-1-4-12 0 14-1-1-3-19 0 17-5 1-1 0 0-14 0 11-3-16 0 15-3 1-1-12-2 5-8-4-1-7-5 7-2-4-2 17-5-19-4 13-1-13 0 12-11 0-4-3-21 13-12-2-473 25 380-3 68-5 3 7 7-10 23 11 3-1 2 1 8 0 0 1 3 0 2-23 3 13 4 8 1-20 2 15 2-15 3 7 1 9 1-14 0 7 0 2 9-11 1 6 1 16 0-4 4-9 1 12 1-4 1-16 0 12 1-7 1 11 6-7 0 1 1 1 3-4 1 5 1 5 6-16 0 14 0-2 0-12 0 18 1-22 0 19 0 1 0 0 1 2 2-5 2-16 0 5 1-2 1 5 0-4 4 16 0-15 1 5 1 5 0-8 1 5 5-6 1 7 5-3 3-1 0 1 3-10 3 5 0 16 3-1 0-20 1 14 1-13 1-1 1 3 0 11 4 7 1-1 1-5 0-12 1 0 2-2 0 13 0 3 1-7 0 10 1-14 5 13 1-17 1 16 1-9 1-10 2 14 0 1 1-15 2 9 0 7 1-6 1 11 1-12 3 1 1 8 1-8 3 4 14 3 0-12 1 2 2 9 3-13 3 13 0-15 0 14 1-6 1 3 4 2 1-1 3-11 1 2 1-2 3 9 2 0 2-11 1 9 0 0 1-1 1-4 22 8 1-8 2 6 0 6 1-15 0 12 0 6 3 1 2-10 1-6 1-3 0 21 1-17 0 4 1-4 0 17 2 1 1-6 3-11 0 0 1 9 0 1 1-5 1 4 1-2 1-9 6 2 1 0 5 16 1 0 2-17 0 17 0 0 1-1 4-1 1-14 0 0 0-1 1 18 1-6 0 2 0-10 1 8 0-2 0 4 2 3 1-15 2-2 0 1 2 14 0-17 0-2 1 7 0 3 0-2 1 9 2-1 0-3 1 3 0-3 0 10 2-3 20 3 1-6 0-2 2 0 1 0 1-1 2 2 2-4 0 4 0 1 0-7 1 12 1-17 0 11 2-11 0 0 2 0 0 16 1-14 1 10 1 4 0-15 1-1 0-5 0 1 2 14 2-14 2 12 0 3 1-9 0 14 2-13 0-7 2 0 0 1 1-2 10 1 1 0 4 18 11 3 0-1 2-3 0-4 4-9 2-1 2 12 1 5 1-1 3-4 3 1 1-4 5 1 2-6 2 10 1 1 4-14 1 13 1-9 1 7 2-5 2 1 0-12 3 20 4 0 0-11 1 8 1-13 1 5 3-9 1 8 1-2 2 0 1 14 3-8 1-12 1 16 0 0 1 5 2-6 1-15 1 16 0 3 0-18 0 20 4-9 2-10 0-2 0 15 2-3 0-3 1 13 1-2 3-2 1-10 3-7 1 11 1-1 1-5 1-2 0 4 1 5 0-4 0 9 1-2 1-15 2 0 0 1 5 12 1 2 2-13 0 16 0-11 2 11 1-19 3 6 1 14 5-17 0 12 1-14 0 7 2 9 0-11 4 0 3 5 2-1 8 4 1-2 0-1 9 6 1 4 1-4 12 5 1-20 2 6 14 3 15-12 18 35-92 9-3-9-3 10-8-18-2 1-2 2-2 3-1 14-3-14-4-9-6 6-3 4-3 9-1-10-2-5-11 6-1 2-2-4-1-7-2 3 0 13-1-11-2 2-3 2-6-4 0 15-2-19 0 11-1 7 0-5-1 8 0-7-3-15-1 18-1-13-1 4-1 0 0-9-4 8 0-3-2-3 0-3 0 9-1 5-1-1-2-4 0 5-1-4-1 9 0 5 0-12-3-5-1-1-3 7-1 4-2-9 0 6 0 6-4-19-1 2-1 18-1-1-1-2-7-1-3 4 0-7-1 6 0-2-1-7 0 7 0-10-2 13-1-11 0 12 0-14-3 11-1 0-2-2-1-5-2 6 0 0 0-3-1-1-4 0 0-8-1-6-1 23-1-16-1 7 0 7-2-2-4 1 0-11 0 11-1-5-1-3-2-10-2 2 0 9-1-8 0 15-4-5-1 1-3 3 0-10-1-6-1 17-1-17-1 5 0-5 0-2-1 22 0-14-1 11 0 0-1-5-2 6-1 0 0-8 0 7-3 3-1-22-7 0 0 7 0 2-1 13 0-22-1 8 0 11-1-19-3 17-1-8 0 9-1-15-2 0 0 1-1 14 0 3-1-20-8 7-1-2 0 2-2 1-4-2-2-8-2 4 0 2-1-1 0-1 0 5-17-2-1 4 0 2-1-11-2 1-1 0-1 12-1-15 0 16-1-14 0 13-2-14 0 12-1 2-1-15-1 12 0 2-1 7-1 0-1-9 0-10-1 11 0-6-1-1-1 18-41-6-1-2-1 1-6 2 0-1-1 5-3-6-7-2 0 8-1 0 0-8 0 1-1-1 0-4-2 2-3-1-6 1-1 3-1 2-2 3-1-2-1-18-20 0-5 0-1 1-31 3 0 2-5 1-5-1-1-3-2-1-1 2-1 7-1-9 0-1 0 0-2 11-4-3-1 0-2-2-1 0-2-5-1 3-1 12-8 2 0 1 0-16-1 17-1-20 0 16 0-2-1-8-3 3-1-5-4 16-2-1 0-2-2-6 0 7-1-13-2 8-2 1-1-1-3 0-2-6-1 5 0-12-3 20 0-7-1-2-2-6-1-7 0 1-1 12-1 8-2-20-2 18-1-2-1 4-1-19-1 16-3 0 0-18-1 15 0 0-1-15-4 9 0 7 0 1-2 2-1-1-2-10-2-5-1 18-2-17-1 18-4-4 0 0-3-9-1 9-1-2-2 0-6-2 0-4-2 13-2-15-6-5-2 11-2-7-3 7-1 3-7-8-16 1-7 3-4 3-9 0 0 3-11-13-238 41 89 0 38-3 18 3 5-4 14 4 0-2 1-2 2-9 6 13 1-1 4-9 12 0 8 4 2-2 2-10 3 13 3 5 1-13 3 4 2-10 2 6 4 4 0 4 1-1 1-6 5 0 2 10 0-6 2-8 1 3 5 3 6-8 3-1 2 4 1 3 8-1 1-5 3 2 1 2 1 10 1-7 0-5 1 13 1-18 1 19 2-14 2 11 3-16 0 5 1 9 1-12 0 8 3-5 0 2 0 5 0-2 9-9 3 6 1-6 3-3 0 12 2-8 3 2 1-4 0 7 1-5 10-1 2 2 3-2 0 5 22-1 1 1 0 4 1-7 1 7 0-10 0 13 2 3 1 1 0-16 1-2 1 23 2-1 1-11 0-3 3 7 3-10 1 2 1-1 1-2 0-1 0-3 2 3 0 2 9 2 0-3 1 1 1 8 0 0 0 0 4 0 0-13 3 8 1-8 2 0 2 20 23 0 1-2 0-2 2 0 4-3 3 9 0-4 0-7 1 11 2 0 2-12 2 9 2-4 1 0 0 2 1-3 0 8 1-1 5 0 1 0 0-5 10-3 1-1 0 6 1 0 0-9 0 14 0-13 2-1 2 13 2-13 1 14 0-1 1-8 0 0 0-10 1 1 0 10 1 4 1-14 0-1 1 13 1-13 1 9 3 0 0-2 1-3 2-8 24 2 3-3 2 0 5 1 11-1 2 3 7 1 0 20 1-21 2 19 1 1 4 0 13 0 6-1 0-3 1-1 0-3 7 0 5-1 2-14 1 22 1-22 0 23 1-16 0 16 2-2 2-1 3-20 1 6 0 1 1 6 1 0 2-6 2-1 2 12 3-10 0 1 2 2 4 2 1 8 1-9 1 2 2 1 4 2 0-6 1 1 1-4 0 2 1 5 2 7 2-17 0 10 6-9 1-3 0 11 2-8 1 6 1-9 3 9 1-3 1-5 0 6 3 2 0 9 1-12 1 2 4-2 1-3 0 1 0-1 4 10 8-5 4-3 1-5 2 2 4 6 2 6 2-15 3-1 3 8 0-5 8 7 1 3 3-9 4 1 2 5 1-5 8-5 6 5 3-3 7-2 14 2 13 0 4 11 3-13 12 2 5 0 8 23-149-2-32 2-19 8-3-3-2 4-5-3 0 4-5-6-2-2 0 12-1-13-1 3-1-6-2 14-7-12-3 4-9 6-2 4-1-12-7-1-1 3-1 4-5-2-5-3-1 2 0 14-6-14-2 3-2-2-4 2 0 6-4 4-1-4-4-2-4-5-2 1 0 1-5-2-1 14-4-11 0-1-1-2-1-6-1 11-4-10 0 14 0-13-1 18-2-9-3-5-1 3-1 2 0-1-2 9-2-10-1 1-1 9-2 2-1-20-1 9-1-6 0 6 0-10-1-2 0 20-1-20-1 19-5-7-3-13-1 6-1 15 0 2 0-4-1-1 0-5 0-5 0 10-7 2-2 3-2-21-5 20-1-20 0 17-2 1-2-1 0-2-3-1-3 0-1-1-2 5-4-1-17 0-4 0 0 3-2-1-7 2-1 0 0-2-1-1-1-4 0-2-4 0-7 0-5 8 0-1-1 0 0 2 0-6-1 5-24-6-4 1-1-1-1 7-4-3 0 3-4-5-1 0-1-6-3-2-1 12-5-3-1 3 0-12 0 7-1 5-1-8 0 8-1-4-53 3 0-2-1-2-3 1-4-16-20-1-4 1-3-2-4 1-3 2-3 4-3 2-1-1-1 1 0-8-1 9-3 0-2-3-2-2-1 9-4 2-1 3-1-12-1-2-2 18-2-3-1-14-1 14-1-6-1 9-1-6 0-6-1 0-1 12-1-8-1-1-1-9-1 7-1 7 0-12 0 12 0 1 0 2 0-1-2-18-2 16-3 0-2-6-1-6-3 6 0-13 0 11-1 0-1-9 0 11-1 6-3-1 0-6 0 0 0 12-1-2-1-14-1 5-1 10 0-11-3 11-1-21-2 19-1 1-2-8-1 3 0-8-1-5-6 7-2-3 0 9-4-1-4-9 0 16-2-9-1 7 0-2-1 1-1-7-1-1-1 8-1-7-1 11-2-9-4 4-1 0 0-10-1 14-2 1-1-14-1 4-5 0-3 3-2 5-2-6-1 5 0 0 0-18-1 14-1-3-7 10-1-5-2 2-1-1-13 0-5 0-3-2-5 4-3-1 0-10 0 7-7-2-2 3-2-9-11 33-204 5 82-1 2-11 2-4 6 4 15-1 7 5 0-15 1 21 1-16 0 11 1-3 6-9 7 13 0 4 2-10 0 3 0-1 2 8 3-9 0 1 0 8 1-9 2 1 5 3 1 5 3-2 3-5 2 0 1 0 3-3 2 8 1-19 1 4 0 11 2 7 6-2 1-1 4 0 0-9 1-1 1 6 0 0 0-1 0-7 2 15 0 0 2 1 1-19 2 16 2 3 3 0 0-20 1 12 1-8 1 8 2-8 5-1 0 16 1-6 2-9 0 11 1-11 2-1 0-4 1 3 3 12 1 2 3-3 1-14 0 14 0-6 1-4 2 8 4 6 1-11 0 11 0-8 0-7 2 18 0-12 0 0 2 0 0 9 3-20 2 15 1 0 0-10 2 13 4-4 1 6 0-18 1 16 0-17 0 6 2 9 0 0 0-12 1-1 0-2 0 4 2 11 3 2 1-15 0 15 1-1 0-10 2 3 0-11 0 11 4-1 0 1 1-3 2 0 1-3 3 6 1-6 1 9 3-14 1 1 1 0 1 14 1-4 1-2 3-4 0 2 2-4 1-1 2-1 1 0 1 2 6 2 2 4 6-3 2-2 3 15 7-1 1-2 1 7 0-9 2 0 2-1 1 2 4 7 1 2 0-3 2-20 3 0 4 2 24 6 2 14 3-15 1 15 4-19 1 16 4 2 1-5 5 0 1 0 0 0 3 2 2 0 0-9 3-5 1 3 0 7 1-10 3 1 2 15 0-3 1-2 0 6 1-9 1-7 0 3 1 2 0 2 1-12 29 20 2-2 1-15 0 2 0 11 1-12 1 0 0 9 3-2 0-7 0-2 2 20 1-10 0 1 2 1 1 7 0-13 5 4 0 0 4-9 1-1 2 10 3-2 1 0 1 11 7-1 1 0 1-1 0 3 7 1 0-5 4 4 0 0 1-7 3-1 0-11 3-1 0-2 1 14 2 7 1-6 0-7 1-1 1 1 3-2 1-5 0 0 3 1 0-1 2 19 3-1 4-18 2-1 1 16 1-1 0 4 1 0 0-11 0 13 2-18 1 15 1-10 1 13 0-10 3 10 0 1 2-20 2-2 0 4 0 13 2 4 0-8 2 10 5-8 1 1 0-3 5-8 1 16 2-6 1-13 1-1 1 12 0-1 1-1 2 3 1-6 0-3 0-1 1 9 2 2 2-8 0 9 3-7 1-1 2 2 1 8 1-14 4 0 1 9 1 1 2 6 1-10 1-6 3-2 3 8 0 4 1-8 2 8 1-11 5-2 2 2 0 18 0-16 2-2 0 11 1-1 0-11 4 9 6-7 1-1 5 2 0-1 1 2 6 0 3-3 17 3 8-3 2 20 14-18 2-6 3 9 5-5 11 0 5-2 61 32-160-2-4-1-41 1-11-7-1 4 0 4-4 5-8-11-1 16-3-6-1-6 0 2-1-7-8 9 0-8-1-2-1 1 0 22-3-10 0 6-1-20-1 10 0 5-1 8 0-21-1 7-2 4-4-12-1 20 0-11-1-5-3-4 0 1-1-2-1 6-4 5 0-5-2-3-1 11-4-2-2-2 0 0-1 0-1-1 0 0-1 8-3-16 0 15-1 8 0-9-5 3-6 5-1-15-1 15-4-11 0-10-1-1-2 1 0 16 0-14-2 0 0 7-1 11-5-6 0-2-5 1-2 0 0-5-4 1-1 10-5-7-1 8-11-3 0-17-3 3 0 11-2-1-2 5-4-14-1 8-10-1 0 2-1-13-2 17-2-15 0 0-1 4 0 11-1 0-1-11 0 10-2-12 0 12 0-16-1 6-1 2-1 0-1 6-1-7 0 4 0-2 0-1-1-1-1-1-4-3-4-4-38 0 0 0 0 0-4 23-15 0-1-6 0-3-4 1-3 8-2-18-37 17 0-8 0-8-1 10 0-4 0-11-4 19-3-20-1 9 0 14-1-13 0 1 0-8 0 3-1 15 0-7-2-7-5-1 0 7-1-12 0 0-1 14-1-9-1-1-2-6-2 8-1 14 0-14-1 11-1-7-1 3-1 0-1-2-5 3-4-1-2-9 0 3-3 0 0-2-1 5-1-11-2 19-1 4 0-21-4 12 0-2-4-7-1-5 0 2 0 14-2-14 0 9 0-4-1 10-1 0 0-8 0 8-3 2-2-19-1 2-1 16 0 0-2-7-1 2 0-1-2-13 0 10-3-8 0 1-2-1-3 0-19-1 0 21-1-4-1-4-4-10-1 11-5-6 0 4 0-6-1 9 0 7 0-14-1 7-9 0 0 4-2 4 0-8 0-11-3 7 0 11 0-4-1-8 0 10-1-8-2-3-1 5-2-14-1 20-1 3-2-8 0-15-1 4 0 12-2-14-1 10 0 4-5-9 0 1-1 9-1-10-1-2-1-6-2 21 0 0 0-11-2 13-6-13-2-4-1 17 0-10-1-1 0 11-3 1-1-11-1-2-3 4-2-5 0 11-2-14-3 11 0-9-3 11-5-5-2-9-2 12-3-1-2 5-2-5 0-1-2-11-1 17-1-5-1 2-1-7-8 4-4-12-10 8-17 5-17 4-8-16-139-4-60 35 54 7 130-17 7 20 9-19 3 20 8-5 4-6 3-3 2 1 2 6 0 6 1-10 14 3 4-4 2 6 3-15 5-1 4 9 3 14 4-22 3 7 0-3 2 15 0-17 2 10 2 4 0-5 1-9 4 12 0-1 1-9 1-4 1 14 0-4 2 11 2-19 3 7 0-5 1 6 0-2 1 7 2-7 0 2 1 10 1-11 0-5 6 2 0 2 1 6 1-5 1 4 1 0 0 3 3-5 0-12 1-1 1 19 1 1 1-2 4-13 0 15 1-19 1 13 0-10 2 18 0-9 0-6 0-2 2 3 3 2 6 0 1-2 1-3 7-4 7 0 0 22 1-16 1-1 1 1 2 1 0 12 1-13 3-6 2 17 3-15 0 19 4-19 2 14 0-15 1 12 0-13 3 20 1-1 0-11 2 12 0-12 1 12 2-9 0 1 1 11 12-1 1-1 19-3 3 1 1-1 0-18 1 18 0-16 2-3 2 22 0-19 47 2 6 0 1 4 26-1 0-3 1 5 0 3 0-8 1 10 1 4 1-4 1 3 0 2 1-16 4 3 1-3 1-3 0 20 1-2 0 2 1-3 0-3 0 5 0 3 1-1 0-6 1-16 6 9 11 1 1 0 0-5 0 1 1-2 0 7 0-8 1 9 3-10 1 0 2 1 1 0 0 2 2 3 1 7 29 2 2-6 0-2 1 9 0 4 1-13 1 0 3 0 2 2 1 10 2 1 0-6 1 2 0-9 18 4 2-7 1-2 1 13 1-11 1 10 1-10 0 9 2-12 0 12 0-2 1-1 1 10 0-1 4-19 0 11 2-2 0-6 3-1 0 19 9-6 4-15 3 17 1-18 1 21 0-13 1 14 0-14 4 1 3-8 1-1 2 15 0-11 5 16 0 1 1-1 1-18 2 5 0-2 2 17 1 0 1-3 3-20 3 15 1-5 2 7 0 3 0-1 1-13 6 5 0 0 0-4 1 0 4 4 0 5 2-14 1 13 7-2 5 11 1-6 4-14 5 2 10 14 4-18 1 6 4 4 10 5 2-17 8 15 1-4 1-1 8 14 17-7 22 22 2 2-3 5-1 0-7-17-18 16-1 2-1-7-1-7-5 13 0-3-3 1-1-5-4-8-1 13-2-3-1-12 0 12-2 0-4-2 0 6-1-1-1 3-1-15-1 3-3-1-3 13 0-6-2-4-2 10-2-10-3-2-2 1-2-3-2 15 0-4-2-19-6 13-1-3 0 3-1-3-1-9 0 19 0-9-1 6-1-13-1 9-1 9-3-10-1 8 0-18-2 4-2-1 0-3-2 18 0-21-1 3-2 2-4-2-3 4-3-2-5-2-4 2-2 2-2-1-1-3-5 2-1 2-1 7-2-11-5 21-2-8 0-12-1 9 0-9 0 8 0 3-1 3 0-9 0 3-1-2-1 6-1-6-1 2-1-4-2-1 0 1-2 12 0-12-2 13-2-5-1-10 0 5 0 8-2-16-1-2-3 2-9 3-1 1-6-1 0 1-2 0-1-4-1 13-16 0 0-8-2 9-1 0 0 0 0-11-2 13-1-3-2-7 0 10-2 1-1-12-2 5-3 2 0-13-2 20-38 2-5-19-24 0-2-1-7 1-1-5-1 13-49-4 0-2 0-3-2 1-5 9 0 7 0-16-4 2 0 0-1 5 0 12-1-1-2-9-2 2 0 3 0 4-1-9 0-10-17 1-3 0-2 0-1 1-1 2-15 0-1-2 0 3-1-7 0 7-1-8-6 20-1 1 0-14-1-6-1 15-1 1 0 0-5 2-4 2-4-20-1 6-1-6 0 18-1-1-1-1-1-17-1 15-1-4-2-4-2 12-3-12-5 13 0-15 0 0-1 13-1-19-2 13-1 9 0-19 0-1-4 22-1-22 0 7-2-3 0 1-2 4 0 5 0 1 0 7-1-3-2-12-2-3-1 7 0-9-2-1-7 2-1 0-3 4-2 9-9-5-1 0 0-11-1 14 0-8-2 16-1-5-1-18-1 9-2-6-6 15-1-15 0 8-6-11-1 8 0-2-7 16-3-21-9 1-4 2-2 0-2-1-6 16-7-11-16 0-9 11-2 6 29 4 24-1 16 1 37 1 7 16 1-15 1 2 2-7 2 7 0 0 3 8 0-11 1-6 7 2 5 3 4-1 1 5 1-7 0 1 0-3 2 5 1 1 1 3 2-2 1-3 3 1 5 2 0 6 2-11 0 16 0-10 4 10 1-5 0-11 1 4 0-2 0 7 2-9 6 2 3 8 0-6 7 2 1 5 2-1 1 0 3-2 0 0 2-1 4 0 2 14 2-8 1-11 1 6 1 0 1-11 1 20 2-11 1 2 0 9 1-19 1 16 2-16 1 16 0 3 3-6 1 6 0 3 1 1 2-12 3 1 2 8 3-3 2 4 1-2 4-1 5 0 0 0 2 2 1-2 2-13 10-1 1 5 0 4 1-11 2 13 1-1 4 2 1-12 1 1 0 7 3 4 10 0 1-5 0 4 1-5 1 1 1 10 0-1 4-9 2 8 0 0 1 4 6-17 15 3 0-6 3-3 0 2 1 11 3-9 1 5 1 1 3 0 3-2 1-6 4 2 0-3 0 1 1 10 58 0 0 1 0-1 0 10 1-7 0-4 1-2 1 14 1-15 2 1 2 11 2-4 2-2 2-12 23 2 1-2 0 2 3-2 7 2 33 4 1-5 1 9 6-10 1 21 1-17 1 14 0-1 5-15 1 0 1-2 0 1 1-1 1 13 7-4 1 0 1 1 0-13 1 1 0 21 3-8 3 8 1 0 0-20 0-2 1 1 2 1 1 21 4-1 3-4 1 1 1 1 2 3 4-23 1 2 6 0 1 5 2 3 2 14 2-16 1 12 0 2 0-15 4 8 0 2 3-2 1 6 2-18 0 5 1 12 1-11 1 13 0-2 1 3 2-15 2 0 3 1 0 12 1-9 1 1 1 1 0 10 1-14 0 3 4 2 3 6 2 1 0-3 1 3 0-3 1-3 1 4 2 2 1-4 3 5 1-9 3 6 3-4 1-9 0 12 1-13 3 7 4 5 1-5 0 1 1 4 2-13 2 16 2-1 12 1 1-14 0 10 2 0 2 4 1-10 4 12 0-8 5 6 9-5 23 5 73 22 70-2-25 5-31-4-4 1-17-9-6 11-5-10-6-6-1 8-4 10-1-4-3-4-4-10-6-1-4 17-4-1-5 3-3-9-1-7-3 13-1-11-5-3-1 16-9-1-3-11-2 11 0 0 0-20-2 13 0 6 0-4-1-7-1 6-1-9-1 4-1 7-1-13-1 4-1-4-1 18-5-3-2-16-1 9-1 4-2 5-2-12-4 3-1-2-1-8 0 1-1 15-3 1-1-11-1-7-1 0-1 11-3-11-1 13 0-12-1 16-1-16-2 10-1-2 0-3-1 10-1-7 0 13-4-16-1 11-4-8 0-7 0 13 0-10 0 9-1 5 0-4-1-15-3 0-7 7-3 1-2-1-1-5-3 0-1-3-1 2-2-2-4 0-7 2-11-1 0-1-2 7-2 0-1 1-2 0-2 13-1 0-2-15 0-6-1 19-1-1-4-13-1-1-1-2 0 4-1 15-1-11-1-2 0 2-2 2-1 3-5-3-3-3-1 0 0-6-1 0-1-3-24 11-1 1 0 0-1-6-4 13-1-15-3 1 0-1 0 11 0-6-1 7 0 6-18-1-2 1-1 1-4-1 0 1-14-8-4 7-2-9-1 10-3-12 0 2-3 10-1-8-1 4-4 4-6-3 0 2-1-5 0 5 0-7-2 2-5-2-3 0-1 2 0-1-2 4-2-19-4 10-22-1-2-6-1 0 0 10-1-1-4-3-3 1-1-8 0 5 0-2-7 9 0-3-2-8-1 13-1 0-1 2-2-1-2-11-1 8-1-1 0-3-1 13 0-11-1 9-31-4-5 0-6-1-2 6-2-7-1-16 0 8-1 1-2 14 0-17-1 0 0 0-1 3 0 8-4-9 0 7-1-1 0-9-1 14-3 1-1-18-2 2-2 10 0-3-1 12-3-4 0-9-3 1-3-2-1 2 0 2-1 2-2-5-1-1-2 1-6 1 0 5-1 6-1-22-1 6-2 15-5 1-1-11 0-5-2 17 0-5-6-8-2-4-1 7-6-5-1 1-1-5-1 3-9-1-3 12-6-14-1-1-1-1 0 5 0 1-6-6-2 4-2 13-13-13-12-1-14-1-18 0-11 26 106 9 19-11 5 2 4 2 0-4 0-4 5 11 7 4 2-15 6 9 3-3 4 13 1-8 0 0 2-9 1 8 12-6 0 15 1 4 3-15 2-3 4-1 6 14 0-17 6 6 2 8 0-8 8 3 1 5 1-12 0 0 2-1 0 1 2-2 4 20 2-19 0 7 2-6 1 0 1 1 2 17 0-1 6-10 0 1 2-2 1 11 3-3 0 2 5 1 7-2 4-5 3-2 4-5 0 10 1 5 3 1 2-2 2-13 0 8 1-6 1 12 3-21 3 20 0 1 1-1 3-14 1 13 1-13 1 13 1-2 1 6 0-14 1 9 1-5 0-6 2 0 2-3 1 14 3-8 1-2 0 9 0-9 0 13 1-15 14 1 1 0 0 1 2 1 4 0 1-2 1 15 0-15 0 13 0-16 1 14 1 3 0-7 0 2 1-2 0-7 2-1 1 3 0 1 3-10 0 14 1 4 2-1 1 3 1-7 2 0 2 10 0-4 0-11 0-1 1-5 3 17 0-3 3-2 5 3 0 1 1 1 0 2 1-2 6 1 0 2 1-2 0-2 44 0 0-16 2 1 1 1 0 1 2 12 2 4 2 2 1-2 0-3 0-14 1 1 1-1 2 19 1-1 1-2 5-13 44-3 0 4 3-8 3 10 2-1 1 0 1-3 5 1 1-7 6 3 8 2 2 0 6-3 1 1 1 1 0-2 8 1 1-1 1-1 0 4 2-1 5 0 0-2 1-1 4 7 2 3 4 2 2 1 5 0 0-10 1 6 1 2 2-6 1 7 0-2 7 2 0 0 1-2 1-8 0 1 7 5 2 11 3-13 1 14 0-7 0 3 1 0 2-16 0 15 3-5 2-4 2 15 2-18 1-2 0 20 0-5 3-16 1 18 0-5 3-12 0 7 1 7 4-1 0-5 1 10 4 1 0 1 0-1 0 1 3 0 0-17 1 14 3-16 6 15 0 1 2 1 0-2 1-4 2 3 0-15 2 13 2 6 0-5 2 3 0-11 7 3 2 11 1-10 2-7 0 5 1-4 4 7 6-1 4 10 3-9 4 7 10 1 83 25 185-2-128-1-11 3-8-5-10 7-13-1-2-11-3 11 0 1-7-6-8-2-2 4-3-1-3-7-7 9-1-17-2 0-2 9 0 3-4-2-5 4 0-6-3 6 0-13-6 11-2 7-1-18-5 8 0 1-1-9 0-1-1-2 0 15-5-11-1 14-1-13-3 2-1 10-1-14-1 11 0-4-1-9-4 16 0-1-1 3 0-9-3-6 0 0 0-2 0 0-2 7-2 9-1-7-2-13-3 11-1-5-1-1 0 0-2-1-6 11-7 3-2-9 0-2 0-6 0 5-4 10-1-7-2-1-1 1 0 5-1-13-2-1-2 6-1-2 0 9-2 1 0 0-3-8-5-1-1-1-2 8-1 10-1-10-1-1 0 8 0 2-1 0 0 2-1-12 0-2 0 1 0 0-2 12-1-11 0 1-4 7 0-3 0 3-1-17-23 8 0 1-2-11 0 0-1 10 0 2-3-2-1-2-2 0 0-1-1-1-1-5 0 6-1-3 0 18-18-13 0 9-1-11 0 16-1-10-3-11-1 11-1-10-1 14-1 7-1-19-1 3 0-2-1 10-27 1 0-4 0-3-1 9-1 2-4-11-1-2-1 3-1 6 0 4-58-6 0 7-1-8-3-1-1 11-1-6-3-1-1 3-5-2-1-3 0 6-1-14-1 2 0-4 0-1 0 4-1-7-2 9-1 10 0-9-2 0-1 2-2-4 0 10-1 2 0-3-1 1-1-2 0-9 0-2-1-5-1 14-2 0 0 2-4 7-1-5 0 4-2-19-1-3 0 1-1-1-1 18-12 3 0-5-2 1-3-12 0-2-2 6-1-8-1 20-1-7-1-14 0 12 0-11-2 11-1 7-2-18 0 9 0 11-3-3-1-4-2 0-4-15-1 7-1-7 0 14 0-10 0 15 0 0-1 3-1 1-1-12-1-1-5 7-3-6 0 6 0 1-1 3-4-14-4 4-2 0-1-7 0 6-3 0-3-6 0 19 0-3-1-16-1-4 0 4-2-3 0 0-2 21 0-16-2 15-2-13-3 2 0 3-4-4-3-3-3 1-1 7-5-12-1 2-1 13-8-14-1 13-3-4-11-9-8 2-26 11-2-3-44-6-1-5-2 1-26 4-235 21 315 6 16-7 8 0 11 10 35-9 1 4 6-1 15 4 3-9 1 11 8-2 0-1 2-6 4 7 1-9 1 3 4 12 0-15 1 8 1 0 3 11 2-11 8 12 1-13 5 1 3-5 0 1 1 16 0-20 3-2 0 11 0 2 2-7 3 14 2-12 6-6 2 9 1-3 0-8 8 10 1 6 0-5 1-1 0-8 0-2 1 18 1 0 0 3 4-5 3 0 4-4 3 10 1-3 0-10 6 11 0-5 2-4 0 11 2 0 2-8 35-5 1-5 1 1 1 12 3-2 4-13 0 17 1-4 0-12 0 10 1 3 0-12 1 6 1-2 0-2 2 14 2 2 0-1 1 1 1 1 10-2 0 0 3-3 2 1 0 0 4-16 22 18 1-2 1-16 0-1 3 16 0-17 1 20 6-2 17 2 1-1 0-1 1 0 0-1 2 0 0-1 1 1 1-1 5 2 1 4 3-3 37-2 1 6 6-10 0-1 0 4 3 2 2-2 0 3 1-17 28 3 2 13 2 4 0-18 0 12 4 1 1-1 0-17 1 1 1 2 0 14 2 4 0 2 0-1 1-13 12 7 0-6 0 2 1-1 1 9 0-13 0 14 0 2 2-14 1 14 2-18 3 13 1-1 1-12 0 14 0-17 1 16 0-4 3-5 2 4 0-11 1 0 0 3 3 5 1 4 3-10 1 0 2 8 2-7 9 1 4 13 1-15 0 17 2-5 0-3 4 11 1-21 2 16 2-6 0 3 0-13 1 4 1 5 2-2 0 7 4 1 1-8 2 13 2-12 2 9 1-1 1 4 1-17 0 9 4-8 2-5 2 19 3 2 0-13 2-5 0 9 0 1 1 8 3-9 0 9 2-18 3-3 1 16 1 0 2 4 0-10 1 3 2 8 0-22 5 15 0 2 4-4 2 9 1-12 4-3 12 10 1-2 3 6 1 1 5-22 6 22 1 1 3-3 3-2 7 0 0-6 4 1 2-10 25 18 24-12 2 22-4-4-18 18-17-4-10 2-1-4-1-10-1 13-4-2-4-17-2 14-3-3-4 2-1-7-1 3 0 0-1-5 0 8-7-11-1 13-6-4-3 0-2-2-5 0-5-7 0 1-1 10-4-3 0 4-1-11-3 0 0 13-1-2-6-4 0-9-1 4-1 3-6-2 0-2-1-1 0-1-1 12 0-1-2 0-3 2-1-13-1 8-1 4-1 1-3-10-1 11 0-15-1 22-1-5-4-3-2-10 0 10-2-11-1 10 0-2 0-5-2 3-1-6-2 1-1-3-2 1-1 0 0 19-12-5 0 0-1-3 0 10-2-11-2 0-2 2-2 0-1 7 0-18-50 0-6 1-1-4-38 22-42-1-3 1-1-20-1 16-6-14 0 16-5 0 0 2-1-21 0 22-1-2-11-3-2 5-2-13-2-9-1 12 0-6-2 10-3-9-2-5-1 14 0-12 0 18 0-14-1 6 0-3-2 8-3 3 0-14-5 3-1-5 0-1-2 11 0-11-1 16-1-16-2-1 0 19-1-8 0-11-3-4 0 7 0-5-2 3-1 0 0 11-2-11-2 8 0-7-2-3-1 17-1 0 0-19-1 20-3 1-1-2 0-3-1-16-1 5-2 0 0 9-2 2-5-14 0 15-5-16 0-2-3 1 0 20-4 1-5 0-4-2-3-2-8-2-1 2-2 2-2-9 0-3-3-3-2 17-1-20-2 0-3 9-9-11-2 14-1-4 0-5-1-3-5 18-2-19-5 0-5 20 0-14-15 12-2-15-1 5-1-6-8 9 0-7 0-6-28 11-677 19 673 2 42-3 15-3 3 14 10 7 8-15 18-6 4 15 4-4 4-13 1 2 8 6 7-5 4 11 3-13 0 10 3-1 1-8 0 5 2-3 1 12 2-8 2 15 3-15 1 11 1-9 2 5 0-6 1 12 1 2 4-21 3 6 3 9 0 4 2-20 1 6 2 14 0-18 2-2 1 1 0 14 1-15 0 0 2 3 0 9 2-5 2 12 3-9 0 9 0-10 3-1 1-2 1 12 0 2 1-3 0-10 1-7 0 2 0 15 1-1 1-14 4 0 2 20 0-4 0 1 4 0 6 1 1 3 8-22 0 1 1 4 2 5 2-6 0 7 6-1 3-6 1-2 2 20 8-1 1-1 6 0 2-4 1-1 1 1 1-3 0 7 0-8 0-1 1 0 1 9 2-11 3 12 2 0 0 1 1-2 1-9 0 8 1-8 0 1 1 1 1 7 35-1 1 0 0-6 4-1 2 0 1 0 2 6 2-9 43 0 0 1 1-6 0 7 0-1 1 2 0-11 0 1 3 11 2-11 0 12 1-2 0-10 2 2 1-1 2 3 1-1 36 0 0-4 0 2 0-2 1 5 0-8 2 9 3 0 4-9 1 9 0-1 1 12 16-4 1 4 1 4 5-1 1-11 0 11 2 0 0-10 0-2 1 1 1-4 2 9 0 6 0-11 1-5 0 13 0-5 1-11 3 11 0 1 2-14 2 12 0 1 1-12 0 12 1-5 0 0 2-3 17 7 2-8 1 17 2-3 1-2 1 0 2-13 0 10 4 6 2-18 1 9 1-7 0 13 2-11 1 9 0 4 1-10 5 7 0-12 2 9 0-13 0 2 1 5 0 13 1-11 0 14 1-8 0-10 0 3 0 6 1 6 5 2 7-9 1 6 2-17 3 15 5-8 3 6 1 8 2-10 4 9 1-15 7 11 11-13 0 8 1 9 3-20 3 20 4 1 5-14 36 11 8-4 30 2 47 13-44 6-3 2-30-15-31 2-5 5-3 7-9-8-1 17-1-19-4 7-2 2-14-4-3 8-1 5-1-19-5 4-1 9-1 1-9-14-2-1-5-2 0 4-1 13-1-6-1 4-2-3-2-4-3-1-5 11 0-10-3 5-1 2 0 3 0-16-3 9-1 2 0 6-2-12-1 12 0-11-1-2-2-2-1-4-1 18-1 0-5-1 0-7-2-2-1-9-1 7-2 8-43-5-2 11-2-13 0 1-1 10 0 1-3 1-1-10-2 5-1-1-2 9-62-1-2-1-4 0-1 1-1-1 0-20-41 0-4-1-5 1-1-2-2 1-40 0-5 2-6 5 0 0-5-1-3 1-2-6 0 0-1 17 0 5-2-12-2 1-4 10 0-4-1-4-1-9-7-3-1 8-2 0 0 1-1-1-1 2-2 10-1-11-1 11 0-10 0-11-2 9 0 10-3-14-1 0-3 10-1-12-1 12 0-2-2 6 0-17-1 19-1-9 0-8 0-5-1 13-1-3-5-10-5 13-2-5 0-2-1 1-1-3-1-4-1 5-1 13-2-10-1 12-3-13 0-2-4 2 0 0-3-5 0 10-1-8 0 5-4-1 0 3-8 2-2 0-2 9-1-7 0 2-4-6-3 2-1 3-5-14-1 13-2-14 0 1-6 12-2-5-8 9-3-13-14 2-19 9-8-1-3-7-4 25-12 7 40-7 23 9 7-1 1 1 8 2 24-19 0 6 1 3 1 3 3-4 1-4 2-1 1 3 3-7 0 10 3 1 2 11 3-15 1 7 0-1 1-3 0-10 0 5 0 7 1-1 1-6 0 5 3 4 1 0 2 7 0-8 0 3 4-13 1 6 0 9 4 5 1-19 0 15 1-1 2-2 0-4 1-2 1-5 1-4 2 17 1-10 2 12 1 2 1-12 3 13 0-23 0 22 1 0 0-6 1-12 0-4 1 10 0-1 7 8 1 1 0-2 3 5 6-4 2-1 1-5 1 2 4-1 1 9 3-2 0-4 0-1 0 4 1-3 7 0 0 4 0-2 0-1 1-3 3-2 0 1 2 6 7 2 0-12 38 5 0-1 1 3 2-1 2-9 0-1 1-1 1 12 1-11 0 3 2 2 0 1 2-6 34 2 1-6 0 3 0-2 1 5 0-6 0 2 0-2 1 9 3 0 2-4 7-3 0 5 1 12 71 1 1 1 2-9 0-4 2 2 1 11 0-13 3 14 1-1 1-2 1-1 1 1 0 1 0-15 1 11 1-1 2-10 0 3 1 1 1 5 9 4 1 5 1-3 2-10 3 8 3-2 1 0 0-1 1 7 3-1 1-8 3-5 1-6 1 0 1 15 2 4 1-1 2 0 0-7 1 6 0-13 1 1 1-3 0 14 4 2 1-7 0-5 2-4 0 12 2-11 0 13 1-18 0 15 0-11 3 14 0-7 4 10 1-19 3 9 2 11 3-6 2-10 1-4 1 1 0 13 2-14 1 9 5-6 0 1 1 15 4-17 1 2 1 1 1-6 0 13 2-13 6 9 4-4 5 0 3 12 4-11 6 12 1 3 7 0 1-17 3-4 1 6 1-4 10 4 6 12 19-9 3 9 16 23 22-14-29 11-38-1-16-13-13 21-14-12-1-4-8 1-2 1 0 13-7-13-1-7-3 19-1-1-5-18-3-2-1 4-4 18-2-3-1-9-1 0-2 0-5 3-1 9 0-2-1-15-1-2-2 21-1-17-1 16 0-2-1-10-1-1-3-9-1 17 0-17-1 20 0-8-2-4-3-3-1-4-3-1-1 5-1 14-2-10 0 2-1 3-2-7 0 0 0 9-4-14 0-1-1 1-1 17-3-12-4 8-1 4-2-3-1 0-1-12-1 0 0 15-1-3 0 5-1-7-1-1 0 0 0 2-1-4 0-1-2 5-88-3-3 9-1-11-3 11-1-10-1 1-2 2 0 3-1 4 0-5-1 4-18 0-2-1-2-19-63-1-1 3-3 3-13-5-3 8-2 0-3-3-3 3 0-6 0-1 0 0-11 1-6-2-3 10 0 1-1 8-1-8-1 1-2 11-2-17-1 14-3-15 0 16-1-14-2 2 0 11 0-1-1 1 0-5-1-9 0-6-2 10-4 2-1-12-4 23-1-9 0 4-3-4-2 0-2 2 0 6-6-1-1 1-2-10-1-5-1-3-1-3 0 19-5-1-3-8-5-1-8 2-1 3-1 0-3-3 0-12-2-1-1 20-7-12-2-4 0 18-1-3-6-11-10 16-6-8 0-5-22 8-17 3-601 11 493 4 3 5 4-6 28 12 3-1 14-6 2 6 0-7 8 7 22-8 16-1 14 7 15-20 1 18 1-3 3 0 6-1 4-13 2 6 6 0 1 11 2-15 1 4 2 11 2 1 1-11 2 8 2-5 2 7 1-11 1-1 0 0 3 13 0-12 6 10 1-10 0 10 1 1 2-7 0 10 0-5 1-6 0-11 1 23 2-11 1 0 3-5 3-1 0 1 1 6 0-9 2 14 1 6 1-19 1 16 0-3 1-4 6-7 0-2 0 9 2-13 0 10 2 1 1 1 2-5 0-7 1 0 0 16 0-1 2-11 4 3 1-4 2 20 29-21 109 3 1 3 3 1 5-9 0 7 1-4 0-4 1 23 61-5 3 0 4-1 1 1 6 1 1-2 0 5 16-2 6-7 3 7 1 3 1-1 2-11 1 4 4-9 1 1 2 11 1-1 2-9 0-4 1 14 3 6 1-10 0-7 0 13 3-5 4 6 0-4 3-13 4 11 1-6 1-6 1 12 1-14 2 8 1-1 0 10 1 5 1-22 0 2 0 4 5 13 1-10 2 3 0-2 4 12 1-11 2 10 2-15 2-5 5 6 1 9 1-1 2-10 16 4 9 9 7-3 10-6 92 26-51-12-43 16-13 3-27-10-10 2-2 7-20-16-2 8-2 3-4-12 0 23-4-11-1-13-6 3 0 1-2-2-8 0-10 10-2 2-1 6-4-14-1-2-1-4-5 24-1-22-1 7-3-3 0 5-2 4-2-11-3 4 0-5-2 0-3 10-1-7 0 1-1 13-1-14-1 11-2-15-1 14-1-16-1 17 0-10-1 9 0-9-1 14-1-4-1-1-4 1 0 0-5 0-2-6-1-2-1 1 0-2-3 15-1-8-4 1-1 4 0-10 0 10 0-10-1 5-2-2 0 8-1-9-2 10-1-10-3 9 0-12-137-2 0 4-1-5 0 4-1-9-1 9-1 4 0-1-2 2-3 0-1-13-1 5-2-3 0 6-1-10-40 2-1 7-2-4-7-1-1 0 0-1-1 0-9 3-7-1-4-1-3 2-1-1-4 1-2-2 0 13 0-7-2 7-1-11-3 1 0 13-5-14-1 11 0-1-2-4 0 2-2-9-3 1-1-6 0 6-2-1 0 9-1-12-4 21-1-2-1-6 0-1-1-4-1 7 0-10-2-5-2 14 0 3-4 3-4-13-3-4 0-2-2 20-1-12-3 7-2-3-3 3-1 1-3-14-1 14-1 3 0 0-5-14-1 10-2 1-3 4-2-3-9-6-3 6-29 1-6-6-3-3-2 5-23 4-12 14-92-9 42 8 27 2 15 0 5 0 1 11 12-13 1 13 4-13 9 10 1-16 2 9 2-12 3 17 5 4 1-14 1-2 1 10 0 6 4-20 0 18 0-7 1-5 1 14 1 2 0-16 5 10 4 6 0-7 1-1 0-1 0-1 4-7 4 6 0 0 0-4 0-1 2 12 1 2 0-5 1-17 1 16 0 0 5-4 2 0 0 4 1 5 1 0 1-4 0 1 0-8 2-7 2 7 1 14 9-18 24 1 2 2 1-2 1 0 5-4 0 4 1-4 0-1 1 18 22-2 2 0 2-4 5 1 2-1 3 2 1 6 0-2 2 3 106-4 6 0 3-2 1 0 4-4 0 3 0-2 1 0 0-3 3 12 5-7 1 1 0 6 1-7 0 3 1-6 16 6 0-2 1 3 2-10 2-2 0 12 4-4 0 2 1-8 4 9 1 0 0 1 2-3 0-4 3 1 4 1 5 8 0-8 1 5 0 0 2 1 3 2 7-15 2 3 1 8 0-18 2 9 0 2 2-11 1 18 0-3 2-15 2 20 1-17 1 18 2-18 0 1 0 8 3 9 0-17 1 2 1 8 0-1 2 8 3-3 0-16 2-1 2 18 2-13 2 3 2-7 2 6 0 5 0-4 5 13 1-13 1 12 1-20 0-1 0 16 1-6 1-8 2 15 1-6 2 4 1-5 1 3 7 0 5 5 4-11 0-6 4-1 13 17 2-10 5 8 32-6 9 1 9 16-15-2-46 4-14 13-7-4 0-8-11 8-6-14-2 16-1 5-14-15-1-6-7 22-2-7-7-2-1 3-9-5-1-8 0-1-1 10 0 6-7 6-4-23-3 22-2-21 0 5-1 7-2-11-1 11 0-10-4 6-1 4-1-7-4 4-1-3-1-8 0 1 0 9-1 9-1-17 0-2-2 13 0 9-1-7 0-1-2-13-1 3-3 7-1 8 0-8 0-4-3 3-2 14-3 0-1-12 0-1-2 1-1 6-4-16-1 2-1 4-2-1 0-3-1 10-3-7-1 3 0-5-1-2-2 1-1 5-1 0-1 2-2 10 0-8 0-5-1 6 0 1-1 2-1-10-1-2-5 18 0-9-22 7-1-3 0-2 0-4-8 9 0 1-1-6-1-16-74 4 0-1-2 2-3-1-1 0-2 0-1-1-1-3-5 5-53-2-2 8-2-9-1 9 0 0-1-3-4 3-1 0-9-2 0-5-1 8 0-2 0 11 0-2 0 1-2 0-1-8-2-11-2 23 0-16-1-3-1 10-4 7-4 1-1-11-2 10 0-17-1 8-1 10 0-11 0-2-1 10 0-8 0 2 0 3-2-17 0 18 0-8-2 0-1 1-1 0-2-1 0 2-5-4 0 4-5 0-1 1 0-13-3 6 0 8-1-14-2 3-1 0-1-1 0 16-2-16 0 10-3 2 0 1-6 2-2-13 0 13-1 3 0-8-1 10 0-22-1 22-2-22-1 9-1 11-4 1-1-19 0 14 0 2-2-16-2 6-3-1-1 15 0-15 0 6-2 4-1 0-1-2 0-4-3 10-2-9-1-6-2 2-1 8-3 4-1-15-3 19-10-10-4-10-2 11-6 0-22-1-5 7-38-8-2 9-3-4-36 20-75 6 77-14 7 7 5 3 5-9 2 16 6-13 3 13 2-6 14-13 5 17 2 1 0-22 1 16 12 2 3-2 1-5 1-6 1 15 1-3 1 3 2-3 1-12 2-2 1 14 3-2 1 7 4-12 4 2 1 12 3-13 5 13 2-1 0-15 1 13 2-10 1 0 0 1 3-4 2-3 1 19 0-2 0-5 1 4 0-5 0-10 0-3 1 8 0 7 1-14 0 5 1 5 0-11 0 5 2 14 0-1 6-14 1-3 0 2 1 1 1 11 2 0 0-13 1-1 0 4 1 9 2-8 0-5 1 4 0-4 0 10 1-7 2 0 0 2 1-1 1-5 5 16 0 3 1 0 0-1 0 2 1-7 0-1 2-1 2 2 4 4 1 4 48-19 20 0 9-4 0 2 0 3 1 4 55-4 2-3 0 2 0-4 4 0 0 12 2 0 2-3 1-6 0 6 1 12 64-1 1 2 1-4 1 2 1-1 5 2 7-2 3-2 1-1 4-1 2 0 1 2 5 5 0-7 8 5 1-9 3 8 0-7 1-9 3 4 3-6 0 11 3-12 4 9 3-5 2 9 1-10 0 13 2-1 0-5 1-4 0 10 1-10 0 2 0 12 0-17 1 1 4 13 1-2 1-7 4 12 0-4 1-5 5-6 4 8 2 9 1-21 0-2 0 6 1-5 1 17 1-14 4-2 3 14 8-1 4-11 3 1 3 6 3-10 4 7 6 11 3-16 7 2 1-3 5 10 15 10 6-15 59 22-123 10-7-4-1-7-2 0-23 9-9-13-5 10-2 5-3-10-1 1-1-3-2 12-6-11-1 7-1 2-8-11 0 6-6 8-4-4-11-7 0 3-9-4-2 0 0 1 0 5-3-6 0-1-1 0-4 1-1 4-5-3 0 4-5 3-5 2-8-2-2 0-4 4-1-4-1 0-5 0-2 3 0-1-2 0 0-4-4 2-1 0-6 1-2 3 0 1 0-3-2-2-3 0-2 3-2 1-1 1-3-2-2 0-3-3-3 0-1 0-4 0 0 0-3 5-1-2-5 1 0-2-1 1-4 1-5-3-1 2-4-1-3 2-3 0-1-2-5 1-2 1-1-1-2 1-1 0-6 0-1-2-1-1-2 1-1 3-6-4-5 2-1-1-1-1-1 1-2 0 0-9-1 2 0 5-1-11-2 1 0-2-5 1 0 10-2-4 0 3-4 1-2 1-4 0 0 3-2-1-5 2-2-2-1 0 0 2-5 0 0 0 0-1-2-2-4 2-1 2-2-2-1-1-1-3-3 1-3-12-1 13-2 2 0-14 0 14 0-1-1-12-1 0-1 14 0 0-1 0-1-1-2-1-2 2-2-1-1 2-2-4-2 0-1 2 0 0-6-3-4 2-4-14 0 13-2 0-2 1-2 2-1 0-1 0-4 0-5 0-4-3-3-11-2 0-3 10 0-1-1-11-2 15-2-8-2 0 0 7-2 0-2 1 0-9 0-1-6 10-2 1-3-4 0-9-1 13-4-1 0-2-3-6-1 9-2-4-4-6-1-2 0 1-2 1-1 10-2 1-3-13-2 8-1 2-1-2-1-10 0 11-1 4-1-3-7-9 0 10-1-2-1-7-1 7-1 2-9-2-2 0-5-5-1 3 0 0-5 4 0-8-12 5-4 3-1-6-2 3-2-1 0-9-25 15-44-14-73 8-23-11-20 1-11 6-117 39 182 1 66 0 1 1 8-2 3-1 1 1 3 0 26 2 6-1 6 0 7 1 8-2 4 1 2 0 4 1 2-2 6 2 1-2 0 1 2 0 2-1 1-1 7 3 6 0 9-3 7 2 12-1 11 1 10-1 5 0 8-1 3 3 6-3 1 1 2 0 0 0 9 1 4-1 1-1 0 0 10 1 0-1 4 1 7 0 5 1 6 0 1-2 2 1 1-1 3 1 11 0 9 0 1 2 8-2 2 1 11-1 2 2 4-1 12 1 5-1 7-2 5 3 3 0 7-3 12 2 0-1 24 1 7-1 1 2 15-2 3 1 6-1 7-1 1 1 4 0 10 0 54 11 63-8-25 16-11-1-6 1-10 7-8-6-16-13-4 4-5-7-1 13-2 2-6-5-3-10-7 19 0-13-2 13-2-12-7 15 0-12-1 2-3-13-2 9-1 6-3-2 0 2-1-3-3-7-1-3-3 0-1 10 0-11-1 21-2-20 0 11 0 8-1-2-1-11-1-2-4 4-1 5-1-6-1-7 0 20-1 0-2-1-2-11-2 6-3-16-2 2 0 20-1-17-2 10-3-8 0 5-3 10-2-13-1 5-2-14 0 15-2-16 0 15-1 0 0-5 0-1-1-8-1 15 0 2-1 4-1-3 0-13-4 0-4-4-6 0-1 0-1-1 0 0-3 1-3 1-1-1-2-2-9 4-8 6-1 3-1-3-6-7-1-2-1 5-1-4-1 0-1-1 0 1-2 0-1-1-2 19-5 4-1-22 0 0-7 17-1 0-1-17-1 17-1-12-3 2 0 9-8-12-1 17 0-1 0-20 0 16-2-1-1 0-1-17-1 0-1 20-2 2-1-19 0-2-6 1-2-1-3 1-3 16-11-7-2 8-1-19-3 20 0-13-2-1-2-2 0 14-1-13-1 2-1 12 0-19 0 6-1 12-1 0 0-2-1-5 0 4-1-12-6 0-1-2-3 1-1-2-2 0-11 16-16-16-1 12 0 1-1-3 0-2-1-1-1 2 0-8-1 21-1-22 0 6-3 1 0 14-1-4 0-12-1 12 0-15 0 12-3-13 0-1-7 2-2-2-4 16-5-16 0 9 0 11-1-6 0-8-3 15 0-20-1 4 0-4 0 22-1-19-1 9-2-11-1 0 0 21 0-7-3-13 0-3-2 13 0-1-2-5-1-5 0 9 0-9-3-2-5 19-4-3-2-1-2-2-2-13-1 7-1 10-1-13-2 14 0 0-1-3-1 0 0-11-1 11 0-9-2 10 0-4-1-5-1-6-1 1-3 0-19 22 0-22-3 22-8-1-8-22-1 18-3-18-2 13-1 1-2-12 0-2-2 22-1-6-3-7 0-6-1-2-2 3 0 14-1-13-1 12-1-1-4 5-3-7-3 1-1 5-3-20 0 22-1-6-2 5-1-1-2-3-11-3-1 4 0 5-16-2-5-11-4-1-2 9-2-10-10-6-4 5-13 3-123-11-50 37 4-8 22 3 105-2 5 2 9-3 21 1 21 18 8-6 14 3 13-10 1-5 6 14 4-18 19 15 2-9 0 3 2 4 7-1 3 1 0-7 2 8 0 7 0-12 1 1 1 11 1-22 1 22 1-18 2 10 2-12 5 4 3 13 0-13 3 3 7 12 1-21 0 0 1 21 1-2 0-5 3-7 1 2 1 3 0-9 0 10 1-10 4 15 0-17 0 0 4 20 0-18 1-3 1 3 1 9 0 7 1-17 1 21 3-6 1-8 0 7 0 4 1-10 1 8 0-13 3 2 4 9 2 2 1-17 1 10 0-11 2 1 2 14 2 3 0 3 1-9 0 1 7 8 1-1 0-8 0 2 2-15 13 13 11-3 0 4 1 0 0-2 2-9 1-1 1 11 2 1 1-12 0 1 0 1 0 5 3-5 0 5 1 15 43-24 55 1 2-1 21 3 3-3 7 22 3-5 2 2 1 0 7 3 1 0 7 0 2-2 1 2 2-8 23 1 0-6 1-2 0-2 1-1 2 0 2-1 1 2 1 9 1-3 2 3 0 2 3 0 0-8 0 16 3-4 0-18 2 5 1 10 2-14 0 14 1-7 1-3 1 12 0-14 1 13 1-15 3 15 0 1 0-8 4 7 0-3 1-7 0-7 4 6 1-1 4 3 4-9 5 10 1-7 0 3 0-5 2 0 0 2 1 6 5 7 3 0 1 5 2-2 1-18 1 16 1-9 1-5 2 6 1-7 2 5 0 13 5-7 2 3 1-10 2 5 2 1 0-11 10 11 2 5 4-10 7 1 0 10 2-2 5-3 4 8 1-11 1 12 2 1 0-5 5-9 15 5 1-2 0-7 3 11 30 31 22-8-9-2-11 7-9-12-16 7-5 0-19 2-18-8-11 12-2-18 0 8-2 8-3-3 0-8-2 5-2 6-2 5-1-11-3 2-2 8-3-6-3 1 0-13-1 5 0 2-1-2-1 7 0 0-2-4-1-1-2 1-1-8-3-5-1 0 0 14 0 2-5 5-1-4-2 1 0-2 0-6-2 4-2-10-2 16-4-15-1 16 0 1-2-8 0 9 0-20-1 12-1-9-1 2-1 2-1 6-4-6-3 11-3 1 0-13 0-1-2-7-2 17 0-6-4 5-1-13-1 8 0 0 0-2 0 5-2-13-1 12-5-3-2-6 0 9 0-2-1-9 0 2 0-4-29 4-2 2-1 0-2 1-1-1-4 2 0 2 0-9-1 9-4-1-2-1-1-2-1-3-1 2-1 2 0-3-2 0-2-4-2 7-45 0 0 4-2-1-1 2-1-10-1 12-1 1-2 7 0-10-1-1-1-10 0 20-1-20-1 3-1-1 0 8-2 10 0 0-2-1 0 2 0-11-1 5-1 1-1-11-23 3-1-10-5 13 0-11 0 9 0-5-4-2 0 5-2 12-62-12-4 3-1-6 0 9 0-8-3 11-3-1-2-10-3 3-1 4-1-2-2-2 0 2 0 7-1-8-1-3-1 13 0-12-4 0-1 0-1-6-1 9 0-3-2-2-1-2 0 15-1-3 0-13-5 9-3-2-1-7 0 4-1 3-1 8 0 0-3-13-2 10-2 2 0-13-4 3-1-2-4 15-1-2-2-13-1-5-1 21 0-4-1-14-1 4 0 3-3-11-4 4-2 0-1 16-1-18-1 1-1 1-1-3 0 18-6-12-1-5-7 4-1 6-8-2-1 12-18-11-2-10-207 0-32 36 104-11 60 21 68 1 7-19 8-3 2 3 15-4 11 13 9 4 2-6 0 0 7-3 0 14 2-19 1 6 11-6 4 16 2 1 8-5 1-10 4 7 1-2 4-1 1 7 3-9 0 0 1 10 2-14 0 10 1-6 1-4 2 8 4 2 3-13 1 17 1 5 2-17 4-4 0 4 0-5 2 9 1-1 5-1 0-8 2 24 20 0 3-8 16-3 1 5 1-9 1 13 1 1 4 0 0-9 2 4 1 2 1 3 22 0 0-2 9 2 0-7 5 7 4-7 0 1 0 5 2-14 144-1 0-1 0 9 0 0 3-10 2 10 1-9 1 10 2-12 11 2 3 0 4-1 3-3 0 11 1 2 2 6 0-8 0 5 1 5 1-13 0-8 0 21 0-9 8-4 0 11 4-17 1 19 1-20 0 7 1 5 5-6 1-5 1 20 3-2 5-15 1 17 0-2 2-1 1-18 1-2 1 20 1 2 1-21 0 21 1-9 1-5 2 12 1-7 4-9 1 5 0 6 3 8 2-14 8 5 3 3 6-9 12-7 3 14 12-15 3 3 2 9 3 5 0 6 5-21 38 19 0-10 1 2 52 15-5 6-32 12-6-9-49 8-4-12-1-10-4 11 0 5-4-7-9-2-1 16-7-19-3 16-4 1-1-12-2-6-3 17-2-11-1-8-1 6-2 16-3-14-1-6-1 9-2-2 0 5-1-4 0 5-2-12 0 17-1-20 0 3-2 11-1 1-2 8-1-8-1-7-3-3 0-3-2-1 0 21-1-4-3-6-1 6-2-11-3 0 0 14-2-1 0-18-1 17 0-3-1-1-3 5 0-10-2 8-6-18 0 21 0-17-1 1 0 16-2-2-1 3-3-22 0 1-1-2-4 11-14 5 0-6-2 11 0-2-1 2 0-10-6 9-2-3 0-11-2 6 0-6-4 11-3-10-2 7-2-5 0 6 0-2-15-6 0 1-1-1 0 8-5-10-2 9-1-3-2-1 0-9-119 0-1 0-6 8-2-1-1-8 0 10-3 12-1-11-1-11 0 21-2-14 0-5-1 4-18-4-1 1 0-1-3 10-1 1 0-7-5 17-10-7-2 0-1-9-4-1-1 10-1-15-1 9-1 10-3-15-4 17 0-4-4-13-1 9 0-5 0 3-5 10-1-4-4-1-1-4 0-1-4 1-1 3-1 4-1-14-2 1-2 11-1-13-2 13 0 1 0 1-2-19-1 22-2-1-1-2-1-3-1-3-11-7-2 12-3-17-3 2-7 3 0 11-8-6-1-2-1 12-7 2-7-20-7 5-9-7-6 21-1-19-4 9-13-7-14 5-5 1-5-5-14-6-68 8-40-7-9 0-227 33 0 7 323 2 54-5 2 8 2-15 6-4 11 0 22 9 25-8 5 16 2-10 4-1 3 5 2-4 1 8 1 3 9-9 6-6 0 15 0-17 1 9 2 2 3-14 6 18 1-1 0-12 5-3 0 7 0-8 3 4 1 2 1 15 2-16 1-2 8 2 1-5 0 18 0-9 1-9 1 5 0 8 0-10 1-2 4 18 5 0 1-17 1 15 0-20 3 8 1-1 2 0 0 14 1-10 3-10 1 8 3-3 1-2 0-3 17 3 1 1 3 1 2-1 1 0 2 12 177 5 2 2 0-2 1-8 2-2 1 12 1-1 3-9 0 10 0-7 1-13 11-2 0 2 0 7 2 11 1-3 2 3 1-8 4-4 0 3 0-7 1 0 1 1 2 10 1-13 1 14 1-2 1 7 0 1 1-21 2 2 4-1 3 1 1 0 6 2 0 7 1-11 1 19 0-3 1-2 1 6 0-15 7-6 0-2 1 12 3-3 1 3 1 5 2 5 2-7 0-7 6-4 1 6 2 4 2 9 0-14 1 0 7 9 1-15 3 19 4-9 0 2 3 0 14-9 3 16 3-8 5-7 0 16 6-6 13-8 0-6 7 14 13-5 30 20 36 1-54-1-6 5-14-11-12 16-2 0-7-11-13 14-2-4-5-1 0-1-3-8-4 17-1-17 0 11-1-2-10-12-5 0-5 3-1 1-4 6-2-10-1 1-3-3-2 21 0-4-1-15 0 13-2-11-1-5 0 17-2 2 0-8-1 3-6 3-1-15 0 6-1 1-1 5-2-5-1 4-2-11-2 18-2-4 0-17-15 1-2 1-2 5-2-2 0 16 0 0-3-2-1-11-2 0-1-6-2-1-1 5-27 3-1-3 0 6-1 0-4-12 0 1-1-1-1 1 0 8-2 14-35 1-2-12-18-4-2-1-1 1 0 8 0-9-4-1-1 11-1-9 0 1-1 0-1 2 0 3-1-4-1-3-24 3 0 5 0-8-1 9-1-2 0 1-1-11 0 13 0-2 0 2-2 0-2-7-3-3 0 7-1-7 0 1 0-2-92-5-1 7 0 14-3-12 0 12-4-18-2-3-2-1-12 17-3-14 0 8-2 11-2-11-1-4 0 15-1-18-2-2-2 20-2-4-1-15-1 14 0-2-3 1 0-11-1 0-1-4 0 12-1 7-1-16 0 19-4-1 0-15-1-2 0-5-4 13-1 10 0-3-1 1 0-17-4-4-1 14-1-1-2-8-5 7 0 5-1-14 0 16-4 4-2-21-1-1 0 20-1-21-2 18-7-4-1 5-2-13-12 1-8-4-18 12-1-4-2 11-22-10-5-1-51 7-228-15-150 43 134-13 137 7 181-5 18 6 15 3 2-16 4-2 4 1 0 9 4-8 3-1 2 18 5-13 1 11 0 1 1-10 4-9 1 8 3 11 3-1 5-17 1 4 1 2 1 4 3-4 2-2 2-4 2 12 3 2 3-12 0 12 0 6 2-2 1 1 2 1 3 2 8-9 7 2 1 6 1-7 0-2 1-3 3-5 5 13 0-13 1 0 0 2 5 0 0 3 3 1 1-12 2 0 0 2 1 9 2-7 0 3 2 11 14-6 0 6 0-7 1 8 0-11 2 12 2-10 1 11 1-4 4-6 1 6 25-8 1 5 0 1 1 4 2-11 1 0 1 0 0 10 3-1 0-8 1 4 1 3 1 7 64-1 5-6 12 2 1-9 1-4 0 17 0-12 0 6 0-3 1 10 0-10 0-11 1-1 1 13 0-1 1-3 1 13 0-10 1-4 2-9 0 21 1-3 1-14 0 17 0-19 1 7 2-1 1 3 0-11 5 1 0-1 1 18 53 3 0-7 1 2 2-1 1-1 0 0 3-11 2-2 1 18 2 2 0 3 1-17 0 1 3-2 1 0 1 11 1 5 2-21 0 14 2-1 1 10 1-11 1-10 0-2 1 6 0 6 1-12 1 20 3-8 0-13 2 13 0 2 1-2 0 0 2 10 1-2 0-2 1-9 0-9 1 3 0 7 1 0 3 3 1-14 2 9 6 12 2-16 0-2 1 17 5-1 1 0 2-7 2-10 4 12 0-6 1-4 5-1 2 15 1 2 0-18 2 10 1 9 2-9 1 5 13-9 0 9 4-9 0 15 7-16 5 8 0-7 6 7 6-12 16 33 31 8-35-4-6-1 0-12-2 8-2 9-2-11-4-4-6 11-3-2-3-7-2 16 0-13-1 3-1 2 0-1-2 1-6 3-6-13-3 15 0-5-1-3-3-4-1 1-3 12-2-20-2 12-1-4 0 7-1 3-1-9-18 0 0-4-1-4-2 0 0 9-3 3-5-11-2 18-1-12-1 13 0-5-1-9 0-1 0-3 0 3-3 10-2 1-1-17-2 8-1 0 0 8-1-12-2 8 0 2-1-12-1 13-4 0 0 0 0-12-2 18 0-1 0-2 0-8-2-5 0 10-1-4-1 8 0-2-1-17-2 2-1-2-1 21-3-19 0 5 0-1 0 14 0-15-1 8-1-11-3-3-1 1-2 5-83-2 0 0 0 3-1 13 0 1 0-13-2 4-1-3 0 0 0 1-1 2-1 11-1-16 0 2-1-6-1-2-1 12 0 2 0-1 0 6 0 0 0-16-1 15 0-5 0 3-44-5-1 6-1-7 0 7 0 0 0 2-1-11-3 12-3-10-1 1 0 6-1 2-2 3-30 0-4 0-26-2 0 0-1 2-8-19-4 3-1 5-2 2 0 3-2-1-1-15-2 0 0 2-2 13-2-8-1 5-2 5-6-1 0-13-1-3 0 15 0 2-1-8-3 5 0-2-2 2-1-9 0 15-1-8-6 1 0-2-1-4-1-5-2 16-1-15 0 10-1-2-1 6-5-13-2 4-2-3-3 13-2-5-1 5-1-4-1 6 0-16-2-1-2-3-2 13-1-7-7 8 0-3-2 0-1-12-6 18 0 2 0-12-10 6-1-10 0-3-6 7-1 1-8 11-1-17-3 17-21-19-7 9-120-7-44 38 30 6 146-4 25 1 8-10 0 2 5-5 2 7 10 4 0-3 1-14 3 5 2 16 2-14 1-3 0 13 5-6 1 9 4 0 1-16 1 5 3-8 2 10 1 1 1-9 1 5 5 9 2 1 1-8 0 7 3 5 1-16 2 1 1-2 0-3 1 2 4 10 0 4 2-9 1 10 2 4 13-2 1-18 10 4 3 1 2 0 3 1 1-5 1 0 0-5 4 4 1-1 21-1 1 8 4-1 0-3 5 2 1-2 0-4 1 4 1-2 27 1 0 3 1-7 1 2 1 10 3-13 0 2 0 10 0-10 1 14 2-2 1-10 0 1 4 9 0-9 2 18 43 0 7 1 20-7 1-2 3 7 6 1 2-7 21 1 0-5 1 9 0-12 1 12 1-1 0 1 3 0 1-8 2-3 0 3 1-2 0 8 39 2 1-2 1 0 0-18 2 16 1-16 2-1 1 17 1 5 2-19 0 21 1-11 1-6 1-4 0 14 0-2 3-11 0 13 0 0 1-2 1-12 1 0 2 16 2-14 2 11 0-10 1-2 1 0 0 2 2 8 1 0 0 2 16-3 1 6 2-14 1-1 2 1 2 7 1-11 1 13 1-1 2-10 4 5 1-7 4 2 0 3 3 1 0 15 1-1 1-21 4 11 0-9 2 9 0-2 1 6 1 9 0-10 1 2 4-10 0 12 1-1 3 2 0 5 2-22 1 5 3-4 2 4 4 4 1 8 1-2 2-12 1 15 2-17 2 11 1-5 2 9 3-17 0 4 3 19 3-18 0-5 11 7 7-3 0 13 11-1 19 26 29-5-10-8-3 17-9 1-2-13-7-4-1 10-6-15-2 2-1 8-1-8 0 15 0-17-1 19-7 3-1-3-1-4-3-8-5-5-5 10-6-6-5 15-5-1-1-2 0-9-1 1 0 0-2-6 0-2-1 16-1-17-1 7-4 5-1-14-2 8-2 3-1-4 0 5-1 2-2-12-1-1-1 12 0 2-1-1-1-9-2 7-1-4-1-3-11 1-1 3-3-4 0 1-2 8-3-13-1 0-2 1-2 1 0 7-1 3-5-5-4 0 0 9-1-11-1-1-1 0-2-1-1 14 0-14-2 12-1 0 0-9 0-2-1-1 0 9-1 2-1-9 0 15-5-5-2-2-1 5-7 0 0-10-11-2-2 4-5-9-2 6-2-2-1-1-2 17-2-18-2-5-2 3 0 20 0-22 0 22-1-1-2-2-1 2-23-1-6 2-6-8-16 1 0-6-2 7 0 1 0 1-3-11-1 12-1-12 0 1-2 10 0-2-1-2-1-14-1 4-3 3-1 0-5 2-1-2-1 5-2-12-1 0 0 13 0-12-3 13 0-4-3-5-1 18 0-4-2-4-6-2-1-11-1 8 0-4-1 5 0-1 0 1 0-5-2 6 0 10-3-9-1-6-1 14 0-6 0 1-1-11-1-1-1 16-62 3-5-7-4 0 0-5-1 5-1 1 0-8-4 5-5-3-1 6 0 0-1-4-3-3-5 2 0-1-1 1 0-1-1 4-1 2-1-4 0 0-5-6-3 13-3 1-1-13-1 6-4 2-5 5-2-3-1-14-3 3-2-7-1 1-1 0 0 9-2 1-3-9-1 1-1 18-1-19-2 3-1 7-1-12-1 15-1 4-5-12 0-6-1 1-2 7 0 2-1 8-3-19 0 22-4-6-5 4-6 1-3-4-2-18-3 0-1 12-2 0-3 8-3-12-1 13-6-3-1-14-1 11-4 6-1-10-6-10-9 16-8-5-2-3-1 3-3 6-18-17-87 31 129 11 13-13 4 3 4 1 6-9 7 4 0-1 4 2 4-4 1 4 0 10 5 0 0 3 5-3 2-16 0 0 2 9 2 9 0-13 7 7 3-6 1 10 1 4 1-14 2 10 1-11 5 3 0 10 2-4 1-1 3 4 1-10 3 16 1-16 1-2 1 10 2 6 1-6 2 8 2-14 1 0 5-8 1 18 0-10 1-2 0 1 0 16 1-11 1-10 1 17 4 0 4 3 0-11 0-1 0 0 2-10 0 7 3 10 1 0 2 2 7-19 4 5 0 6 1-9 0 15 1-1 1 2 3-6 0-1 0 12 4-22 0 11 1-2 3-5 1 8 2 9 0-9 1 9 4-15 1 0 1 13 1-1 1 4 1-16 1 15 1-8 1-4 1 7 6 6 12-5 2-3 3-4 4 2 3-3 1 3 5 5 1-1 3-17 1 19 1-18 2 18 0-17 5-3 6 10 20-1 2-3 2 10 2-13 0 13 0-2 5-9 0 0 2 7 1-5 16-4 0-1 1 6 1 13 3 2 0-15 0 14 1-2 1 0 1-13 1 15 4-20 0 5 0 0 1 2 0 5 2-9 2 11 0-2 3-1 1-9 1 10 0-2 2-5 1 6 0-8 1 5 0-7 3 3 1-6 2 9 1 6 6-9 3 3 2 11 4-1 1 1 5 2 2-3 6 0 0-1 2-11 7-4 1 9 3-9 4 8 1 1 48 1 2-10 1 12 0-13 4 3 2 11 1-3 1-7 2 1 0-6 6 0 0 9 1 3 1-6 0 9 5-12 2 0 1 5 1-7 4-1 2 4 3 0 2 3 6-1 0 1 6-3 2 3 1 2 0-5 0-1 1 6 3 2 1 2 0-1 3 9 0-21 0 1 1 9 4 12 1-6 1 3 0-12 1 2 1 3 4 2 1-1 3 0 1-14 2 13 0 8 1 2 1-18 0 17 1-17 0 8 0-8 1 10 1-3 2 4 1-4 5 7 2 5 1-14 2-10 0 13 5-8 5 8 3 10 4-11 2 1 1 6 1-7 0 6 0-11 0 15 4-2 1-2 3-4 6-5 15-2 3 11 10-1 1 5 7-4 3-5 2 11 5-2 5 1 7-5 15 3 7 0 49 25 35-4-3-5-8 10-5-3-5-1-12 4-2-10-8 8-1-8-1 8 0-17-12 12-2-13 0 19-8-13-3-7-1 9 0-3-1 8 0-4-11 6-1-4 0-2 0-1-1 12-1-6 0-4-5-5-5 3-1 2-1-1-8 0-2 4-3-16 0 23-1-1-1-19 0 1-3 7-3 4-1-6 0 4-1 5-1-13-1 1-2 15 0-10-1-3-1 9 0 2-3 0-1-7-1-8-4 18 0-1-1-15-2 0-2 16-2-2-1-14 0-1-4 19 0-12-1 2-1 7-3-8-1-12 0-1-3 1-2 0 0 3-4-1-4 20-2-20 0 1-1 16-2-1-1 1-2 1-1 1-1 1-1-23 0 4-1-3 0 7 0-8-2 10-2 1-1-2-2 1-1-1-1-7 0 0-3 14-12-14-1 8 0-7 0 19-1-14 0-4-2 5-1 12 0-17-1 14-3-11-1 4-3-11-21 18-33-6-1 11-3-2 0-10 0 12-1-14-2 12-2-8-1 0 0 0-1 2-3 7-16 2-7-20-56-2-1 4-5 1-2 11-4 6-2-5 0-11 0-4-3 3-1-1 0-1-1-4-1 1 0 15-1 1-2 2-13-14 0 4 0-2-1 7 0 7-3-18 0 12-3-2-1-13-1 18-3 4-3-14 0 4-1-11 0 19 0-2-2-13-1 1 0 1-7-4-2 1 0 17-2-3 0 3-7-2-3-11 0 10 0 1-1-10-1 6-1-9-3 13-4-10-1-4-2 7 0 10 0-21-2 13 0-12-3 14 0 0-2-7-2-7 0 10 0-13-3 3 0-2-2 15 0-15-5 13-1-4-1 11 0-17-1-3 0 14-5 4-4-5-2-8-2-1 0 6-1 3-1-10-2 16-1-15-3 9 0-7-1 0-2-3-1 2 0 1-5 1-7 3-3-8-2 0-5 9-1 1-2-6-2 0-4 1-1-7 0 18-10-16-3 2-5 1-3-2-6-1 0 14-3 0-2-16-7 4-13-5-20 1-28 44 161-12 33-8 10 5 2-6 1 0 1 3 16 7 1 11 2-20 9 2 1 7 2-5 0-2 3-3 5 11 4-5 1 8 1-3 4 0 1-2 3 2 5 1 2 1 0 8 0-9 1-3 2 0 1 5 2-9 1 9 1 10 5-7 0-11 1 0 4-1 1 3 1 10 0-6 1 11 0-7 1 2 4-1 6-4 4-1 4-4 2 5 0 8 2-7 1 4 2-15 0 11 1-12 1 20 0-14 3 4 0 9 1-10 0-7 1 4 0-8 0 22 1-10 0-12 1 10 0 12 1-11 0 2 0 11 2-13 2 7 1 1 2-17 1 5 2 16 4-2 17-1 1 3 0-6 0 2 1-4 1 0 1-1 0-2 3 2 1 9 3-4 1-9 2 7 3 5 3-3 2 2 1-1 2-15 71-4 2 4 1 2 3-2 5-3 1 20 4 0 4-21 11 2 12 4 1 1 2-2 2 1 6-3 2-3 2 3 2-2 7 2 1 7 0-3 1 0 0 8 1 0 3 0 1-13 1 17 4-10 0-2 0 8 0-7 0 5 1-6 0 14 0-8 1 0 3 9 1-1 2-16 2-4 1 9 1 0 3-10 1 8 3 1 0-1 5-4 5 1 1 0 1 9 0-4 2-6 1 1 0 12 0 3 2-13 1-4 0 15 3-11 2 4 0 4 2-1 1 8 0-11 1-11 0 3 4 7 0-9 0 5 2 8 6-11 0 12 1-6 5 6 0 7 2-18 3 12 2-13 2-3 0 9 0 12 0-16 1 14 0-9 1-5 1 17 0 0 2-3 3 0 2 1 1-15 4 10 1-9 1-1 1-3 1 12 0-7 2 2 4 10 2-7 2 7 5-12 2 7 0-13 0 17 5 1 1-8 2 11 3 0 3-7 1 7 2-4 16 1 13-16 7 17 4-8 29-7 19 9 87 27 52-3-29 5-21 3-30-2-15 0-6-3-8 3-4-7-5-11-9 19-10 1 0-21-1 19-3-12 0 7-12 5-2-8-1 10-3-3 0-1-1-3-5-3-8-2-2 3-2-10-1 14-4-10-1 9-4-4-1-11 0 18-2-15-1-1-2 18-1-16-5 4-3-1-4-1-1-3 0-3-4-1 0 2 0 5-5-2 0 5-4 1-2-2 0 1-3-1-2-10-2 11-4-8-1 4-1 2-1 0-2 6-1-9-1 1-2 0-1-7-1 15-2-8 0 9-1-1-1-6 0-7-42 1-1-1-1 0-3-2-1 4-12 3-2 1 0-1-4 1-1-2-3-4-1 20-86-1-1-21-4 7-2 3-2-1-2-2-3 1 0-3-2 1-1 17-16-1-3 0-4 0-3-1 0-1-11-4-4 0 0-1-1-7-1 11-3-4-1-13-1 15-2 1-1-15-1 1-1 6 0-5 0 3 0 10-4 0-3-4 0-2 0-3-1 7 0 3-2 1 0-1-3-10-1-2 0 0-1 0-1-2 0 1-2 18-3-20 0-2-1 8 0-6 0-4-1 12-3-3-1 6 0-3-1-1-4-5-1 11-2-14 0 3-5 9-2-9 0-1-2 15 0-14-1-2-1 6 0 6-1-3-2-8-1 2 0-4-2-2-1 7-1 13-3-17-2-1-1-2-2 21-1-21-2 23-3-14-1-8-1 15-7-10-10-7-17 16-12-11-69 24-362-5 487 4 9 9 24-7 1 15 3-16 2-4 7 3 2-3 1 9 17 4 3-10 4 20 0-8 0-4 1 8 2-20 4 5 2 9 1-3 0 10 10-19 1 2 1 5 0 14 1-15 1 14 2-21 5 0 0 15 1-5 0-8 1 7 1 11 3-1 0-12 3 1 1 7 1 5 1-16 0 0 0 0 1 16 0-14 4 14 1-15 4-6 0 14 4-1 1 8 2-21 2 10 1 7 1 7 0-18 1 11 1-3 2 1 4 1 1-2 1 4 6 0 0-5 2 11 4-10 3 5 2-4 0 3 5 3 0-16 160 7 4 0 1-11 0 1 1-1 2 9 0-5 1-3 1 5 6 1 1-7 4 1 1 11 7-9 1 8 0-10 0 13 2-8 6 3 0-4 13 2 3 2 2-7 4 11 1-1 1 0 3 2 5-1 1-1 2-5 1 11 3-15 0 7 0 8 1-16 0-3 2 20 1-17 1 6 1-4 1 4 0 3 1 8 10-19 1 21 1-10 2 6 5 4 1-19 0 10 10 11 2-21 3 13 3-5 1 5 5-14 19-2 5 13 18 2 7-3 4-4 9-6 10 13 9-8 9 12 6 1 18-14 2 26 31 7-24 8-15-14-16-9-38 5-12 5-8 9-10-2-2-16-3 8-1-7-4 7-5 4-3-5 0 0-1 6-1-12 0 16-1 0 0-1-6-2-1-1-3-5-4 15 0-5-1-12-7 1-1 9 0 1 0 1-1-8-1-11-3 18-1 1-1-4-1-7-1-5 0 1-2 14-1 6-1-18-3 16 0-7-1 1-1-7-3 13 0 0-3-18-1 1 0 19 0-17-1-5 0 18-24 4-1 0 0-2-2 0 0-9-2 0-1 0-5 3 0-1-2 8-1-2 0-2 0-4-4 1-1-2 0 9-1-10-1 5-6 3-1-6 0 1-2 3 0-9-3 1-1 9-2-10-1 2-3 7-1-1-1-4-1 1-95-2-1 3 0-10-4 9-4-2-1 2-1-9-1 4-1 0 0-5-64 4-1 2-1-11-1 3 0-2-1 14-2-2-2-4-4-6-2 7 0 12 0 1 0-2 0-13-1 13 0-3-3-15-3-2 0 2-1-2 0 21-4 0-4-17 0 17 0-12-1-4-1-5 0 11-4 12 0-6-1-3 0 8 0-1 0 0-1 2-1-1-5-10-2 0 0-4-1-5-1 0-5 17 0 1-3-2-3 1 0-5 0 3-1-18 0 4 0 17-4-13 0 1-1 13-3-1-1-5-2-7-1-10 0 20-1-3-2-6-4-9-5 17-2-1-3 3-5-9-3-5 0-6-9 9-4-4-2-1 0 5-1 8-4-17-4 18-3-1-14-7-35 29-42-4 33 12 10-4 8-12 7 4 2 1 2 8 1-1 5-1 13-11 2-3 0 15 1-2 0 4 1-7 1-7 0 7 4-14 0 9 2 6 1-9 1 14 1-2 7 2 0 3 4-3 3-3 3-6 1-2 2 7 3 0 1-16 1 5 0 13 1 1 4-3 0-13 2 17 8 1 1-22 1 14 0 0 4 2 1 3 1-12 2 12 2-6 0 5 0-16 1 18 1 1 2 3 4-12 0 8 0 2 1-14 1 6 0-9 0 10 1-1 2 2 1-12 4 14 0 4 4-17 2 18 0 0 1-18 0 19 1-23 3 10 3 1 1-3 3 0 2-8 1 6 0-6 3 2 3 1 1-1 2 21 26-1 5 1 1 0 74 0 3-2 72-1 0-2 1 0 6 1 0 0 2 1 2-21 20 7 7 3 1-6 1 0 0 5 0 4 1 1 4 7 0-8 1 9 0-1 5-11 0-10 0 2 1-1 0 1 0 18 3-18 0 14 1 0 4 4 4-3 0-16 2 6 0-1 0-1 0 11 0-12 0 10 3 9 4-22 2 11 1 8 3-18 1 7 3 9 1-6 3-1 2-9 1 5 1 10 2-12 0 18 0 0 1-4 0-6 9-3 2-3 0-7 3 6 1 2 2-5 3 7 14 4 3-5 3-6 16 17 22-20 28 21 15-18 21 33-89 6-25-12-1 0-7 0-5 2-6 1-5 8-28-15-3 20-1-12-6 2-2-9-1 15-4-14-1-2 0 12-2 0-5-9-2-2-3 13-1-3-4 6-1-11 0 11-3 5-8-7 0-2-3 1-1-1-6-1-1-3-2-6-1 15-2-11-2-2-4-4-1-1 0 22-1-24-1 14 0-4-1 7-1 0 0 6-5-4-2-2-4-7-2 1-1 12 0-1 0-14-1 14-1-13 0 0-3 12-2-11-1 10 0-9-2-2 0 3-1 1-1 3-4-2-2-2-5 2 0-2-2 11-2-3-2-8 0 0-3 7-1-9-13 1-1-1-1 1 0 0 0-5-1 0 0 2-1 9-1-9 0-5-3 0 0 10-4 3 0-4-1-12 0 11-1 0 0-2-1 1-2-8 0 6 0-2-1 15-63-20 0 5-1 4 0 6-2-5-1-11 0 17-2 2-3-8 0-4-2-4 0 6-32 3 0 4 0 1-2-10-1 1-1 9 0-9-1-1-2 11-1-2-2-6-2 3 0 4 0-4 0-4-1 6 0-9-5 1 0 2-1-2-4 1 0-2-6-1-1 0-3-5-2 3-8 5-3-2-1 4-1-2-2 1-1 3-2-3-5-2 0 0-3-2-2-4-2 1-22 2-1 5-5-1-2 0-1-3-1-3 0-1-3 5-1 13-2-8-3 5-2 1-7-13-3 8-2 8 0-18-4 13 0-9-4 15-1-1-1-1-3-4-2-6-4-3-1-2 0 12-1 0-7 6-1-4-1-11-12-7-7 8-4 15 0-5-1 5-8-10-4 5-4-13-4 0 0 14-6-7-5-6-1 15-33-7-14 2-14 5-9 14-70 3 11 9 16-5 51 0 21-7 1-3 2-6 2 12 2-1 0 4 6 0 2 0 5 6 1-10 4-10 4 16 1-11 2 10 1-7 3 13 2-7 3 1 4-4 3 3 6-3 1 0 1 2 0-13 1 7 3 0 3-7 3 9 3 0 0 6 1 1 1 1 2 1 0-14 2-5 0 7 2 9 0-3 1 7 1-10 0 10 1 1 0-2 0-7 1 8 4-7 0 6 0-11 2-9 0 14 1-7 5 10 2-10 1 2 0-4 1 0 1-1 3-1 0-3 21-1 2 2 1 1 4 2 2-1 0-1 1 3 0 1 1 0 1-1 0 0 1 0 2-2 0 1 1-1 0-2 1 1 2-1 0 0 1 15 89-4 0 4 1 1 1-9 3 1 1-1 3 1 0 4 1 1 0 3 0-1 1-11 12-1 2-1 1 7 0 3 3-11 3 6 2 1 1 4 12 1 1-1 0-4 1-9 0 7 1 1 1-5 0 5 1-7 0 19 2 0 1-13 0 14 1-19 0 8 1 10 2-6 0 4 1 3 15 1 1 0 3 0 1-4 7-1 1-1 0-3 4 1 1 7 3-10 2 4 1-6 0 0 0 9 0-10 1 0 1-1 2 11 0-11 1-1 0 2 1 8 1-5 2 12 0-11 2 7 2-3 3-3 3 3 6 6 4 1 6-6 1 0 0 1 0 0 1-4 4-1 1 0 5 8 0-12 4 1 3 10 0 0 3-8 2-11 2 16 1-16 0 7 1 12 1-2 5-10 0 8 2-8 1 13 5-21 0 0 0 7 0 9 2-12 0-1 1 0 1 0 2 6 4 12 5-18 3 5 1-7 3 18 2-7 1 10 1 0 0-8 7-8 2-6 2 1 10 1 2 2 10 4 6 5 1-14 2 8 2-7 3 1 52 4 3-4 12 25-1 19-65-21-23 8-39-7-1 7-28-8-4 9-4-9-3 3-7 6 0 7 0-6-4 4-5-12-1 3-3 10 0-2-4-13 0 8-2-1-3 13-2-11-1-6-1 19 0-19-1 2-5-1 0 4-1 10 0-15-3 12-3-5-7-2 0 1 0-5-2 18-2-20-2-2-2 12-1-13-1 13 0 6-1-1-1-5-1-2-3 3 0 0-1 4-6-18 0 8-1 0-1-5-1 6 0-4 0 17-1-2-2 3 0-5-2-10 0 4 0-1 0 4-1 5 0-8-1 0-2 3-1-4-3 0-3 1-1 0-2 6 0 4-6-2-2 3-10-12-4 7-2-9-2 11 0 1 0-1-3-10 0 13-3-13 0 6-1 8 0-10 0 9-6-21-153 1 0 2-2 1-8-3-1 18-19-11-17 8-1-1 0-12-1 4-2 0 0 9 0-9-1 12-5-11 0-5-1 4-1-7-1 11-1-2 0 5 0-5-1-6-6 0-1 10-2-2 0-7-2 16-1-16-1 2-1 4-1-6-3 6-2-10-1 20-1-16 0 18-2-18-1 2-1 16-1-1-3-21-1 22-1-20 0 17-3-20-3 5-1 14-2-4-2-3-1-7-2 16-3 0-4-11 0-9-1 17-2-5-1 1-2 2 0-15-1 2 0 0-1 20-1-3-2-17-1 14 0 5-6-5-1 1-1-3-3-4-11 2-22 10-5-1-3-4-71-2-285 28-606-12 409 9 5-11 110 12 11-18 27 22 18-7 3 4 277-15 13 8 37 3 35 1 2 6 5-8 5 1 1-5 3-5 1 10 13 8 0-12 3-6 1 14 5-5 6-6 0 12 10-10 3 3 0 10 0-19 2 19 1-22 3 12 3 5 1 1 0 4 1-12 2-7 1 14 1-1 0-12 1 18 1-10 2 2 0-4 6-2 3-7 2 15 1-4 0-6 0 12 1-7 11-3 2-3 1 11 1-10 0 11 1-16 0 19 1-1 3-11 3 11 0-9 4-1 0-4 1 7 3 9 0-5 1-2 1-12 1 10 15-3 2 10 1-11 1 12 0-13 2 11 2 1 1-1 1-5 1 3 0-2 0-14 11 5 1 2 7-6 1 1 1 18 25-2 102 0 6 1 4-6 4 8 6-8 0 1 1 5 19 0 3-5 2 6 2-7 2-14 2 10 1-2 1 2 0-1 2 4 1-5 0-8 2 4 1-2 2 5 0 4 1-4 1 7 0 2 2-2 2 1 0-11 3-3 0 5 7-7 2 2 2 2 0 4 1 12 2-11 2-8 6 4 1 6 1 1 8 3 1 8 2-9 1 3 0 4 2-21 1 12 1-10 0 1 1 15 1-16 4 14 2-13 0-2 2 5 1 6 7-9 6 19 3-1 2-20 4 8 6-3 9-5 6 9 1-10 22 14 25 17 103 3-96 10-57-16-3-1-25 5-33-1 0 12-1-18-8 15-10-6 0-6-1 0-5-3-2 3 0 3-5 4-1-9-4 12 0-1-3 0 0 11-2 0-2-12-4-6 0 0-2 2-7 0-1 8-3-2 0-9 0 0-2 12-2 6 0-19-2 17-2 1-2-7 0-12-1 3-4 12 0-14-1 1 0 3-2 10-1-9-1-9-1 2-1 11-1-2-1-11-2 11-2 4-1-10-1 13 0-11-1 0-1 15-1-5 0-8 0 7-1 2 0-5 0 9 0-6-1-10-1 12-1 2-1-15 0-4-2 5-1-5-1 18-1-8 0 6-2 0-1-5-18 2 0-7-2-1 0 1 0-1-3-2 0 0-2 11-1-11-2 3-2-1-1 6 0-4 0-5-60 8-1-1-5-10-1 11-1-11-1 2-1 6-2-1-1 8-63 4-1-1-1-4-1-2-1 10 0 0-1-12-1-8 0-1 0 1-1 7-2 13-2-12 0 12 0-3 0-19-1 12-2 2 0-10-23-2 0-1-5 3-1-3-2 1-4 7-9 1 0 3 0-12 0 4-1 13-1-14-1 1-4 12 0-17-2 6 0 15 0-16-3 16 0-20-2 15-3-10-1 5-1-9 0 10 0 7-2-7 0 7-1 2 0 0-3-12-3 11 0-12 0 15 0-18 0 13-2-12-1-2-2 11-1 2-4-11-4-3 0 21-4-4 0-4 0-1-2-12-1 20-2 1-1-11-7-11-1 15-6-2-2-14-9 18-6 0-2 3-3-9-1 1-1 3-17-10-5 9-6-7-428-4-38 0-44 10-51-12-85-2-33 25-51 11 136-11 545 15 21 7 12-4 31 0 2 1 2-18 0 18 0-7 11 9 3-18 4 5 5 7 4-13 2 3 0-4 1-1 0-2 2 7 1 11 0-7 2 11 1 1 1-18 0 6 0 10 2-17 3 9 1-1 2 8 1-9 3 4 1-5 4-10 3 21 1-10 1-7 0 10 1 1 0-9 0 8 1 6 1-1 0-14 1 16 0-16 1-5 1 11 1 5 1 1 1 4 0-5 0 5 1-8 1-3 2-1 0-5 2 4 0 5 1 11 0 0 0-2 1 0 2 0 0-3 103-7 0 5 1-4 1-1 1 9 3-13 2 11 1-11 1 3 0 9 1-6 1 5 82 2 1-7 0 8 2-9 0 9 0 1 2-14 1 14 0-12 0 12 4-13 0 0 2 3 1 1 2 0 4 2 0 6 1-6 0-1 1 3 18-3 0-1 3 7 0-11 0-1 0 14 2-15 1-2 1 1 3 12 1 0 2 0 0-6 0-3 9 7 0-3 1-5 3 12 0-18 3 18 0-14 8 14 0-9 0-8 0 12 6-1 5-12 1-2 0 3 0 1 2 2 1 6 2-6 0-4 1 15 2-8 1 13 0-5 2-2 1 3 0-6 6-2 2-9 5 21 2-10 1-9 2 3 4-1 1 6 4-6 2-5 11 1 3 2 1 15 5-1 4-18 6 11 1-9 88 41-77-9-4 10-3-16-32 16-11 0-1-4-2-1-10 2-4-2-10-1-1 10-1-10-7-4 0-5 0 1-2 6 0 4-3-1-3 4-2-12-1-6-3 15 0-5-1 0 0 0-5 0-1-3-6 6-1-7-2 13-3 3-1-16-2 12-3-11-1 13-3-7 0-3-1 9-5-2-5 1-1-10-1 1-1-1 0 12-3-10-4 3 0-1-3-13 0 0 0 2-1 17 0-10-2 15-1-15-2 3-2-12 0 23-2-7-2 3-1-6 0 7-6 2-1-1-2-3-5 5 0-6-2-2-2 3-4 3-1 3-1-6-11 4 0 0-1-5-1-2-2 1-6 7-1-4 0-2-1 4 0-2-1-8-139 1-1 1 0-9-2 9 0-10 0-1-2 13 0-13 0 12-1-12-1 12-1-6-4 1-16-7 0 6-1 2-2 0-1 0-1-2-2 15-3 1 0-5 0-14 0-3-1 13 0 8-1-14-1-8-1 10-4 9-2-15-2 15-1-9-1 3-1-3 0-7-1 6-1-7-3 2-1 19 0-18-2 3-1 9-2-7-2-7 0 9-2-6 0-4-2 15-5-17 0 12-4-7-3-2 0 9-1-9 0 15-1-11-2 0-1 10 0-12 0 9-2-1-1-2 0 0-1-10-3 18 0-1-7-12-1 13-1-20 0 7-2 8-3 1-2-9-5 10-1-10 0 5-3 8-7-10-2 5-6 3-4-13 0 9-12 4-9-11-4-2-13 18-2-10-2 6-18 3-9-15-13 6-5-8-189 2-144 21-247 15 9-10 368-4 22 10 16 0 129-2 5-1 15-10 41 7 25 7 3 1 0-11 7-5 6 2 3 21 1-10 1-5 2 9 2 1 3-19 2 5 1 6 1-10 2 5 1 14 2-17 1 16 1-6 1-4 4 8 1-12 1 10 1 5 3 3 1-23 2 5 1 14 2-11 2 9 0 3 1-2 0 2 1-10 0-8 0 18 4 1 1-10 3 9 2-19 0 2 3 19 1-14 2 13 1-11 0 10 1-1 0 1 1-7 1 1 0-6 2-2 0 11 0-9 0 11 1-16 2 16 1 1 3-20 2 1 1 16 1-4 0-10 1 5 2 9 2-1 4-2 2 7 2 1 1-20 10 1 10 3 3-3 7 17 50-2 1-7 0 10 2-12 0 2 0 9 1 0 2-9 1 9 0-9 2 0 0 1 2 4 0 8 13-6 3 0 4 0 2 3 2 0 2 2 0-2 0 1 31-1 2 0 3 1 2-12 8-6 0 6 1-7 1 1 0 0 2 10 2 0 1-10 0 2 3-1 2 5 0 10 30-9 1 9 1-4 0-4 0 1 1-8 0 12 0-1 1 1 1-14 0 2 0-2 1 1 0 0 2 13 2-11 0 8 1-1 0 0 1-12 0 16 0 0 0-4 0-7 1 3 0 0 0-7 15 0 6-1 1 2 1 2 0-4 2 7 2 3 4 1 1-11 3 10 0-4 6 2 1 6 4-2 1 10 1-9 4-8 3 9 3 7 0-20 1 11 4 3 1-11 0 5 0-4 0 12 1-17 2 6 6 3 0-2 1 13 4-16 1 7 3-7 1 6 3 3 0-3 1 9 1-18 0-1 3 0 4 17 3-2 4-13 0 4 1 2 6 3 1-10 1 1 7 4 1 14 14 0 9-18 1 19 10-14 27 7 88 13-96-1-21 9-25 0-1-1-20-9-14 6-2 11-4-3-1-14-7 4-5 18 0-9-2-6-2-5-2 1-3 8-4-4-1-2-2 2-1-1-3-4-2 17 0-12-1-2-2 4-7 6-1 0-2 6-1-1-16-6 0-8-1-5-2 0-1 21-3-19-2 9 0 9-1-17-1 13-3-19-6 2-2 1-1 20-1-18-2 1-2 0-1 1-2 14-2-2 0-2-2-15-2 0 0 10 0 0-2 1-4 10-1-7 0 7 0-2-5-5 0-3-6 2-1-1 0 2 0 6-1 2 0-7-1 0-2 5-7 2-4-20-6 4-4-7 0 9-1-1-1 1-3-5-3 3-1-7 0 3-1 2 0-4-31 1-1 1-4 0-2 1-2-4-1 1-1 21-97-1 0-14 0 3 0-1-1-6 0 7 0-7-1-3-4 12-1 1 0-2-2-8-2-1 0 6 0-5-1 1 0-2-1 4-3 15-1-6-1-10-1 7-2-8 0 3-1 16 0-16-1-7-1 4-1 9-1 4-2-13-1 12-2-1-1 1-1-7-1 3 0 1-1 7-15-2-3 3-5-15-4 2-1-8-4-1-2 15-1-1 0-11-3 13-2-5-2 12-2-2-5 0-2-8-1-5 0-1 0 4-1-7-1 12-5 6-3-10-5-4 0 13-3-14 0-1 0 4-2 4-7-10-1 15-1-4 0-6-1-7-2 4-4 1-1-6-2 9-7 11-1 2-15-22-21 17-1-13-1 15-16 3-20-17-11 15-440 14 73-8 332 16 37 1 17 2 9-1 2-6 2 5 16-10 10 2 5-6 4-4 1 8 5 6 1-5 3-4 1-1 0 16 2-21 1 21 4-9 0-1 0 8 2-9 2 7 0 5 5-7 1 7 1-8 2-3 2 3 0-9 2-5 2 4 5-5 3 10 1 0 1 2 2-1 1 2 0-10 6-3 0 2 0 7 1-3 2-6 13 1 21 3 2 4 3-7 6 6 0-4 1 18 7 0 0-5 2-1 2 0 0 1 6 2 1-2 0 7 1-2 0-21 2 1 4 23 5-5 1-2 5-15 7 4 0-3 1 9 3-2 1 2 1 10 3-10 0-3 1 12 1 2 0-21 1 20 0-12 0 13 1-1 73-1 2-2 3 0 4 4 1-10 34 5 1-2 0-6 0 1 0-1 3 10 0-9 3 7 2-6 1-2 0 7 1-4 1-5 12 5 3-10 4-1 2 5 0-4 1 6 1-1 1 1 7-1 0-7 0 7 2 16 2-1 1-5 2-18 0 19 6 5 2-21 3 2 2-2 0-1 5 1 0 17 0-6 1-10 0 3 1 7 0 0 1-11 1 19 3-2 2-8 1 0 2-10 0 8 1-2 1 14 1-20 3 11 1 6 2-2 4-2 2-3 0 3 2 5 3-13 3-1 0-3 7 1 2-3 3 5 0 9 2 0 2 2 5-7 1 12 9-14 3-7 2 13 7 2 2 0 0-7 1-1 0 4 11 33 44-2-19-19-8 4-15-2-12 14-14-9-10 9-7-5-8-5-2 9 0-6-5 4 0-1-4-12-3 11 0-7-4 6-7-5-2 15-1-11 0 13-9-17-2 10-1-5 0-1 0 15-1-5-3-6-1-9-2-1-1-3-4 8 0 12-2-8-2 0-2-7-2-1-1 16-1-11 0 5-5 10-2-1-1-15-3 14-1-3 0 4-1-7-2-6 0 4-1 9-4-8 0 2-1-2-3-1-1 2-2-10-2 10-1 6-1-2-1-3 0-3 0-3-3 5-25-1-2 1-1-2-1 6-5 2 0 0-5-22-7 19-2-3-1-10 0 3-1 4 0 11 0-3 0-13-2-2-2-1-2-2 0 3-1 1-1 1 0-2-1 9 0 4 0 2-1-13-53 6-2-8-1 10-2-12 0 10 0 2-5-10-1 11 0-4-3-11-1 9 0-9-1 5-2 2-3-8-4-1-1 5 0 0-1-5-6 1-1 1-2 2-2 0-2-1-2-1-1 0-13 21-1-5-2-2-1-13-1 0 0 12-1-12 0 15-3-17-1 20-2 1-2-9-6-6-3 1-2 1 0 0-1 9-1-7-2 8-34 5 0-3 0-3-6-10-1-3 0 3-1 3 0 8 0-3 0 2 0-16-3 13-2-2-3 1-1-3-1-9-1 4-1 3-1-7-8 5-1-1 0 4-1 4-4 2-5-11 0-4-4 14-1-4 0-8 0 10-1 10-1-19 0 15 0-10-3 11-1-14-6 2-2 11-1-1 0-6-3 9 0-6-5 1-1-15-2 15-1 0 0-3 0-8-3-5-1 20-6-1-3-6-4 2-1 4-2 1-3 4-1-20 0 13-8-6 0 4-4-10-6 4-3-1-8-2-2 3-5 0-92 10-181 22-41-14 77 15 77-1 101 0 4-4 31 6 2 3 2-20 10 8 2 8 7 2 1 1 2-20 5 8 2-4 2 19 0 0 0-3 5-1 7-13 1 14 3-6 1 6 8-2 6-18 0 21 2-13 4-8 0 5 1 17 2-13 2-9 0 15 1 0 9-7 2 4 0-2 0 5 1-6 1-7 2 18 1-2 1-1 1-12 1 14 3 1 1 0 1 1 1 1 0-2 0-11 1 11 0-11 2-10 1 7 4 9 6-5 1 10 1-10 2 1 2 1 2 11 0-1 1-10 1 0 1 10 1-9 0 2 1 2 0 3 0 2 4-2 1-5 5 1 5 2 0 3 0-15 1 11 0 4 1-21 0 3 1 8 0 0 6 1 0-7 2-3 1 4 1 17 24-1 0 1 0-3 19-7 2 0 0-1 3-12 0 22 1-9 1-10 2 16 1-5 1-12 0-2 7-1 1 3 124 2 1-3 2 20 3-13 0 6 1-12 4 0 3 14 0-16 4 21 13-1 7-1 0 0 1-18 14 0 0 6 0 0 0 8 2-13 1 20 3-2 2-7 0-1 1-10 3 8 1 4 1 4 0 3 0-9 1-1 0-6 7-4 0 4 5 12 1-4 2 10 4-19 9 7 2-7 3 15 6-17 1 1 1 4 4-4 2 3 8 13 4-11 2-7 2 22 4-3 8 3 1-4 3-10 6 5 5-9 1 42 6-7 0-2-22-7-38-8-2 24-17-21-1 12-1 8-2-9-3-9-1 14-2-11-2 2-1 6-5-8-1 9-1-9-1 13-4 0 0-15-4 11-1-14 0 11 0 10 0-10-3 7-2-15-3 1-1 10-1-5-2 2-1 8-1-21-1 2 0 3-1 2-2 7-5-11-1 12 0 8-2-20-1 3-1 13-1-6-2 1-1-14-10 3 0-1-6-2-1 21 0-1-3 0-5-2-5 0-1-4-3 7 0 1-1-10-2 0-1 0-1 2-1 8-3-2 0-5-1 7-1-3-1 1-8-1 0 2-1 1-20-2-1-3-4 1-1-8-18-7 0 10 0-7-1 8-2 0-2 1 0-1-1-12-1 11-2-5-1-3 0 11-3 0-2 4 0-6-5-1-1 7-4-1-1-12-55-6-1 6-1 0 0 3-3 0 0-1-1-10 0 1-4 2-1-2-33 2-2-1-3 0 0 0-16 3-20 1 0-3-1 3-3-4-7 20-10 0-2-1-1 1-1 0-2-1-1-9-2-3-1 3 0 1-1 9-4-17-1 13-6-13-1-2-1 9 0 10 0-6-1 1-1 2-3-12 0 11-2 1-1-12-4 16-4-23-1 14 0-9-1 16-1-17-7 4-1-4-2 6-2-5-2 14-7 5-5-6-2-14-1 16-1-1 0-2-3 5-2-12-10 9-1-2-1 1-15 6-7-14-32 4-5 9-7-4-12 4-3-5-23-3-34 10-215 0 37 14 8 4 42-7 77-3 73-1 4 2 9-1 52 0 2 4 7 4 9-4 3 10 13-6 1 2 2-1 15-7 1 9 2-16 0 15 0-6 1-10 5-1 0 7 4-3 3 16 3-7 2-11 4 3 3 11 4 1 3-9 3 5 1-8 0 7 3 8 2-15 0 13 2-15 0 8 5 7 0-2 0-11 1-3 4 2 1 15 0-14 2 3 1-5 1 1 2 12 0-3 0-11 2 12 0 1 3-3 1-12 2 11 1-7 0-6 1 8 2 0 2 2 1 1 0 2 5-5 3 1 1 0 1-2 5-5 0 4 1 12 1 5 1-10 2-2 4 4 2 8 1 1 1-3 2-1 0 0 39 0 3 3 6-14 1 1 0 12 1-12 1-9 0 0 1 11 2 0 1 1 2-1 0-9 2 2 1 5 1-5 0-2 86 1 1-1 3 1 1-4 31 3 0 3 3 0 2 1 1-1 2-3 1 0 1 11 8 6 1-9 0 2 1 7 1 2 1-1 0-8 6-10 0 19 0-1 1-6 0 7 1-16 3 9 1-11 4 14 0-14 1 14 0 4 0-21 4 2 14 9 2 5 3-8 3-3 1 14 0-14 0-5 1 0 1 4 0 14 0-9 3 1 2 4 0-9 4 8 3 4 0-14 3-1 1 4 2 12 1-2 1 0 0-6 2-4 0 10 3-5 0 7 3-11 0 14 0-14 0 13 3-15 2 17 1-1 2-6 5 3 2-3 6-8 0-6 1 8 1-8 0 3 5 10 2-3 0 2 0-11 2 15 1-9 2-6 4 0 1 7 1 4 1-3 2-4 12-6 3 23 7-22 9 9 1-8 1-2 15 21 15-9 29 7 17 22 9 0-21-14-20 13-24-9-8 4-10-3-10 8-7-8-1 12-1-6-4 3 0 1-4-14-14-5-1 12-2-1-4-3 0-6-3 3 0 16-4-7-2-7-2-2-1 11-5-10-1-6-2 0 0 3 0 3-2 12-2-11 0 11 0 1 0-10-1 0-2-4-2 10 0-4-1 0-2 2 0 8-5-12 0 14-2-1-1-19-1 10 0-6-1-4-1 9-4 5 0-4-1 3 0 0-1 4-2-1-13-8-1-2-6 12 0-12 0 9-1-9 0 6-1-1-1-10-3 0-3 8-1-9-3 10-1-12 0 13-1-10-1 3-2 0 0-1-1-4-4-2-2 1-2 6-10 0-1 2 0-3-1 11-3-1-2 1-1 0-1-11-2 2 0 1 0-1-15-2-1 1 0-1-2-1-2 9 0-10 0 2-6 11-1-12 0 2-1 8 0 7-37-1-50 2-1-10-2-2 0-1 0 12-1-12-5-1 0 2-2-1 0 3 0-2-1 1 0 5-4-1-3-14-8 6-5-2-3-1-1 17-28 2-1-8-1 8-2-11-2-1-3 1 0 5-3-16-2 13-1 2-1-1 0-12-2 7 0 0-1-8-1-2-1 21-1-19-1-2-1 21 0-5-2-1-2-12-1 4-2 1-4 15 0-18 0 8-2-2-1 11-2-6-2-2 0-11 0 0-1-2-1 19-1-19-2 11-3-11-2 4 0 12-1-9 0 10 0-8-1 11-3 2-3-5-3-15-4 16-1 0-1-12 0 12-2-6 0-4 0 3 0 5-3-1 0 1-1-11-1-2 0-1-1 5-3 10 0 4-7-12-2-3-1-7-4 10 0-4-6-5-14 16-3-14 0-1 0 14 0-17-6 15-1 9-2-2-2-12-8-4-31 5-50 5-120-11-46-5-206 38 109-3 307 12 63-19 2 3 8 0 0-6 1 0 5 6 2 10 4-6 6 8 2-13 2 11 4-8 1 4 5-8 4 6 1-6 1-2 2 14 4-12 11-1 1 1 0 16 1-17 0 6 5-9 1 17 0-6 2-6 2-2 1 16 2 4 1-10 1-3 2-10 2 11 2-8 1 15 1-13 0 15 3-9 2-8 0 9 5 7 0-4 0-16 0 18 1-16 2 0 1-2 1 14 2 4 3-2 0 0 7 3 0 5 1-4 1 0 0 4 12-4 0-5 4 2 3-1 1 8 5-6 0 2 9-3 1-16 1 1 3 20 0-11 1 12 1-20 1 11 1-3 0-7 1 18 0-19 1-1 3-2 2 3 0-2 1 22 8-2 1 1 2 2 26-4 1 4 6-18 2 2 1 1 0-7 1 0 2 10 0-1 2-3 4-7 3-1 1 4 1 14 82-3 2 0 1 2 3-11 1 6 3-2 1 2 0-10 1 10 2 0 2-6 3-5 27 2 4 1 2 7 2-10 1 4 0 7 1 1 2-1 1-9 3-2 3 12 1-6 0-3 1-3 5 2 0 10 2 1 1-4 1-6 4-2 3 4 6-6 0 13 1 4 2-10 0 14 1-15 1 16 3-13 1 2 1 9 2-5 0-13 2 1 2-1 0 1 0 14 1-3 3 0 1-5 2-6 1 9 0-11 1 1 0 15 1-6 0 6 0-9 1 16 1-15 4-1 1-1 3 15 1-12 0 2 5 9 3-2 3 5 0-1 2-6 1 3 1-3 1 5 7 1 4-8 4 5 0 2 3-9 0 11 1-14 4 14 2-2 2-1 2-1 16-10 10 2 1-11 6 15 11 5 15 2 17 10 8-7-7 17-15-7-2 5-7-10-4 13-1-8 0 7-2 3-5-9-1 0-1-2-1 8-1-8-2 11-3-8-3 5-5-3-3 0-4 4-9-12-1 3-1 1 0 11-2-22-1 16 0-14-1 4-3-7 0 7 0 10 0-1-1-11-2-4 0 17 0 5-2-15-1-3-2-1 0 12-1 1 0-13-1 17 0-13-1 0-1 9 0 3-3-3 0-1-1-9-1 11-1-5-1 6-2-17 0-2-1 5 0 4-3-4-6-2-1 2-7-4-1 8-5-2-3-2-1-2-3-2-2 12-42-6-7 11-1-2 0-7-1 15-21-3-11 2-1-5-1-4-4 7-4-2 0-17-16 0-3 1-2-1-3 1-95 2 0 4-1-2 0 1 0-7 0 6 0-6-1 5 0 3-2 2-1-1-1 3-2 5 0-18-3 10 0-7 0 16-3 1-1-1-4-9 0 0-1 4-1 4-10-1-2-8 0-4-1-2-1 5-2 1-1 9 0-10-1 2-3 1-1 2-1 2-1-8 0-3 0 18-3-12-3 5 0 3 0-12-2 12-2-1 0-13-1-2-2 1-2 16-2-17 0 4-1 8-2-5-3 5 0 8-2-4-1-12 0-5-3 4 0 16 0-20-1 4-2-2-1 2-1 2-1-4 0 10-1 6 0-7-1 10-1-22-1 7-1 16 0 0-4-17-2 9-4 6 0 0 0-8 0 1-1-9-2 3-2 13 0-5-1-7-3 0-1 0-2 11-2-3-4-10-1-4-1 8-2 1 0-4 0-6-5 6 0-6-15 0-4 0-1 22 0-5-2 5 0-24-7 2-7-2 0 10-3-6-6 6-22 9-13-19-36 15-100 30-182 2 96-3 245-9 43-5 13 10 1-13 17 15 5-15 8 13 0-3 4-6 0 16 0-22 0 22 9-3 1-16 1 3 1 14 2-18 4 15 1-16 0-1 1 14 1 1 0-1 0-14 1 9 2 0 0 13 1-23 3 22 3-14 1 13 0-2 1-8 1-8 1 18 2-8 4 1 0 3 9-3 0-6 4 13 0-3 4 1 1-13 1 4 1 5 1 1 1 7 9-19 140-2 8 7 0-5 0 5 1-3 0 6 3-2 1 0 4-5 2 1 1 0 0-1 1 14 6 3 3-3 0 4 24-4 1 2 0-4 2 1 1 0 3 2 3 1 1 3 0-3 30-2 4 2 1-1 1 3 2-20 19 2 1 2 2-1 5 1 1-1 0 0 7 3 0 0 1-2 9 0 2-3 1 5 2 0 1 3 4 3 0-4 1 1 0 4 4-13 0 16 1 0 0-14 2 12 1-17 3 15 2 9 1-18 1 2 1 6 5-11 2 4 2 0 0 16 4-8 2 0 1-14 0 6 1 4 1 13 0-20 0 5 0-4 2 5 2 13 0-11 2 2 1 6 0-9 1 7 0-11 1 11 5-14 0-1 1 15 0 5 1-2 3-5 0 6 0 0 1-3 1 0 1-1 3-1 4-1 5-6 2 10 2-6 10 7 9-17 1 8 7-10 18 24 108 9-20 0-42 10-26-10-11 1-5 12-3-8-1-12-1 7 0 8-1 2-3-1-1-8 0 1-5-13-1 20-2-3-1-5-5-8-3 20-4-1 0-2-2-19-2 2 0 7-10-5 0-1 0 8-3-1-4-7-3 6 0 11-1-10 0-4-1 16-2-19-5 15-3 1 0-6-4 3 0-8-1-5 0-2-1 8-1-3 0 3-6 0-1 13-1-21-1-2-1 1-9 1-7-3-3 13-5 5-1-2-1 3 0-9-1-3-4 4-4-1 0 3 0 1-2 1 0 0-1 7 0-8 0-1-1 0 0 11 0-14-50-1 0 0 0-6-4-3-1 12-2-3-3 0-1-2-1-2-1-4-1 2-1 14-3 1 0-8-1 3-1 8 0-11 0 0-1 1-1 12 0 0-2-3-4-10-1 5-3 4-1-14-12-1 0 8-2-8-2 10 0 5 0-1-1-9 0-5 0 3-1-5 0 16-1-12-1-2-2 14-1-15-1 15-2-12-1 3-2 3 0 4 0-4-1-4 0-6-12 19-1-17 0 12 0-4-3 10-3-16 0 16-3-21-1 1-1 1-1 10-1 4-1-2 0-9 0 6-1 0-1-2-1 4-24-3-1 4-1-5-1 0-2 12-1-13-4 13-1-3-1-5 0 8 0-2-1-15 0 10 0-7 0 3-1-8 0 0 0 12-2 1 0-2 0-11 0 0-1 13 0 2 0 3-3-19-1 17-3-8-1 6-1 2 0-12-1 13-1-11-1 14 0 0 0-11 0-1-1 2-5 7-2 2-1-6-1-9-10 2-1-5-1 8 0-1-1-6-1 8-3-8-3-1-1 2-2 8-12-3-5 10 0-10-4 7 0 1 0-1-1 4 0-10-1 10-4-11-1 3-4 5-1-1-2-8 0 12-2-17-1 13-1-2-1-9-4 1 0 1 0-1 0 2-1 6-4 1-2 0-2 4-2 1 0-11-6-6-1 14 0 3-2-8 0-14-2 2-5 4-2-3-5-1-2 3-2 7-4 7-3-17 0 6 0 2-6-6-5-1 0 16-4-18 0 13-2-2-9-10-2 16-2-17 0 5-23 4-4-7-21 14-1 2-40-2-214 14 16-4 8 20 213-8 19-14 33 8 9 1 4-5 2-2 3 20 6-14 6 14 3-20 1-2 3 18 3-5 0 1 2-13 3 8 8 2 1 10 3-20 1 4 0-1 2 18 1-8 0-13 2 18 2-13 0 12 2 2 0-3 1-17 1 20 2-19 0 18 2 0 2-9 1-9 1 19 1-15 1 6 1-6 1-4 0 14 3-12 1 0 3 0 0 3 0 1 3 6 0-14 5 11 1-2 0 2 0-8 3 13 0 0 2-13 0 14 4 0 0-1 0-9 0-3 1 11 1-8 0 4 1 3 0-6 107-7 0 3 1 9 1 1 1 0 0-1 1 0 3-10 2 9 1 1 0-2 1-8 0 5 1 14 50-2 1 1 1 0 4-15 12 6 1-8 0 11 3-12 1 11 1-10 1-1 1 11 0-11 0 8 2-5 2-1 12 7 1-9 2 0 1-1 1 10 2-1 1 1 1-10 3 3 1-5 29 2 1 0 5 0 4-2 4 16 9 5 2 0 1-11 0 9 1 3 0-12 5 4 3-4 1 8 0-9 2 6 1 5 2-18 1 11 2-13 1 2 6 16 1 1 1-5 0-4 2 3 0 2 3-6 0-4 2-2 0 0 8-3 1 5 0-3 3 0 0 12 3-8 1 16 0 0 1-19 1 4 1 12 8-11 2-4 1 2 3 8 1 7 2-10 5-8 1 12 0 6 5-19 24-2 2 8 17 1 14-6 43 20 15 12 3 0-84-11-11 10-21 6-2 3-12-7-18-3-2 1-1 14-1-22-1 7-3-7 0 4-2 15-10-6-5-1-3-2-1-6-1 0-1 5-1-9-2 15-3 3-1-1-1 0-5-18-1 1-3 18-1-13 0 13 0-6-2 4-2 3-1-4-6-6-2 1-1-1-1 1-1 9-4 0-1-10 0 3-3 7-1-16-36 0-2 11-3 2 0-6-1-9-2 0 0 15-1-14-2 1 0 0 0-1-2-1-1 1-1-1 0 0-1 1 0 12 0-15-2 13 0 2-1-14 0 10-1-2-3-2-2 0 0 13-13-6-2-10 0-3-1 13-1-8-3 11-2-11-1 11 0-1 0-10 0 12-2 2 0-16-1 18-1-12-24-1-1-3-1-4-1-1-2 11-2-11-1 2-2 8 0-1-19 6-2 1-2-9 0 0-4 1-1 6-1 0-1 7-1-4-1 2-1-2 0-3-3 0-1 0-5 6-1-17-131-1 0 6 0-8-1 10 0 3-1-2-1-11-1 14-7-6-1-5-2 4 0-6-5 0-3 0 0 5 0 2-5 7-4-16-1 6 0 13-1-2 0-8-1-7 0 17-2-15 0 3-1 12-2-2-5-4-1-2-3-7-2-1-2 7 0 6-1-17-1 20-3-13-1-5-1 14-1-13-5 1-5 6-1-3-4 10-4-1-2 2-1 1-1-4 0 4-3 5-3-4-17 4-1-2-1-19-19 20-2-2-147-18-11 10-166 34-439-22 554 18 168-8 9 6 14 0 8-11 3 11 3 0 2 3 8 0 5 0 8-4 0-1 2-4 1 12 2-1 4-8 2-6 1 0 0 5 3 3 3 3 1-12 0-3 7 1 1 10 0-3 3 11 1 1 1-10 0 1 3-13 5 15 1-3 2 1 1 3 0-7 1 9 1 0 4-19 0 6 0 12 1-13 2 0 0 2 2-4 1-1 1 14 1-10 1-6 4 16 2-7 2-2 0 5 1-5 1-1 1-1 1-1 2-2 1 2 0 18 2-2 0-1 0 0 4-1 1-3 2-1 1 3 6-5 5 11 1-9 2-9 1 0 4 1 1 9 3-3 1 4 29-4 2 8 2-9 2 10 2-6 4 2 1 4 53-2 4-2 5 2 1 3 1 0 10 0 1 1 6-23 12 2 3 1 0-2 0 0 4 0 1 2 4 6 1-3 1 3 0-1 1 9 0-7 1-10 2 19 0-1 3-9 2-9 2 0 0 18 0-15 2 8 0-11 0 13 0-8 0 9 0-2 1 2 1-13 49 1 8 2 2 16 15-1 1 0 0-9 5 4 2 1 3 3 2-11 1 7 1-5 1 0 0 11 15-6 0-7 1 7 0-9 2 11 0 0 0-2 1 1 1 6 0-7 2-9 1 0 1 4 1 2 0 2 0-3 5-9 1 0 4 14 1-14 0 22 1-4 0-8 0-8 1 5 1 13 1-14 0 4 1 0 2 3 2 0 2 9 3-22 2 20 0-4 2-17 0 2 1 21 0-8 1-12 1 4 1-3 0 17 2-4 5-15 1 19 1-17 2 10 1-14 2 14 0 9 2 0 1-4 2-20 0 23 6-13 1-2 1-1 4 3 0-10 5 15 2-8 4 0 6-5 1 2 10 11 1-13 1 13 6-11 2 5 7 0 17 0 6 30-16-10-13-3-18 1-4 9-1-1-1-4-9-2-3 4-5-5-6-2-1 9-6 3-2-11-9-2-3 15-1-5-4-8-5 2-1-2-5 1-1-1-10 5-1 4-1-2-5-5-1-4-1 0 0 7 0-5-1 8-3 6-3 0-1 0 0-5 0-6-1-3-1 4-2-1-4 8-3 2-1-4 0 5-4-14-3 2-1 1 0 6 0 2-2-1-2-8 0 0-3 9-1 1 0-1 0-1 0-2-2-9 0-2-1 11-2-4-2-1-1 5 0-7 0-1-1 14-3-2-3-1-2-14 0 0-2 5 0 11 0-2-1-3-5-1-3 2-1 4-4-2 0 0-1 1-7 2-4-2-1 1 0-2-2-3-4 2-1-6-4 6-1-6-1-7 0 15-1-1-1-1-1 4 0-16 0 13 0-5-5 2-1 0-1-10 0 9-2 2 0 5-2-1-5 1-1-1-2-3-2-1-4 1-3 3-2-3-1 2-1 1-1-2-2 1-2-2-1 2-1 0-1-3 0 0-6 1-3 3-1-3-1 2-3-10 0 1-1 7-4 1 0-6-1 7 0-6-1 3-1 5-1-6 0-1 0 1 0 3-2-5-1-7-1 7 0 1 0 6-6-1 0-11-3 13 0-11-1 0 0 1-1 0 0 9-1 1-1-11-2-3-2-2 0 16-1-13 0 11-3 1 0-4-6 1-2 3-1-3-6 4-1-2-2 1-1 0-3-1-1 0-2-5-1 1 0 0-8 6-4-5-2 2-3-1-1-3-1 1-2 0-5 1-1 2-1 0-1 2-4-3-1 0-2 2-1-2-2 2-1 1-1-1-2-8-1 6-2-6 0-3 0 12-3-4-1 2 0-3-1 0 0-11-1 14 0-1-1-4-2-5 0 5-2 8-1-7-4 2-3 1-1 1-3-2-1-7-1-3-1-1-2 10-2 4-1-2 0-2-2 6-2-12 0 10-1 0-1-14-2 14-1-7 0-8 0 0-1 11-1 5-2-1-1-4-1 2 0 2-1-5-3-1 0 6-1-3 0-7-1 9-1-7-1 1-5 8-1-7-1 3-1 2-2-5-6 4-3 3-1 0-5-12-1 7 0-9-1-1-3-1-1 3-4 6 0-3-3-2-2 8-1-7-5 8-2-1-1-1-1-6-1 9-1-11-4 5-2-5 0 8-10 3-3-9-1 0-1 1-4 5-2-8 0 12-5-7-4-6-2 4-10 8 0-8-3-3-5 11-4-8-6 41 61 0 42 0 2-1 4 0 16 1 5 0 4 1 2 0 2-1 5 0 2 0 5 1 9-1 5 1 13-1 6 1 2-2 7 0 4 2 0-1 5 0 8 1 7 0 9-2 0 1 4-1 4 0 4 2 2 0 1 0 3 0 4-1 11 1 2 0 6-1 6 0 17 1 11-1 4 1 0 0 6-1 1 1 6-1 3-1 1 1 14 0 4-1 4 1 7 0 1-1 1 1 8 0 11-1 5 1 0 0 6 0 10 0 1 0 4 0 4 0 44 1 11-1 1 24 156-8-27 7-1-20-2 20-7-4-6-8-4 12-3-1-13 0-1-16-3 19-3-4-13 0-1 2 0 0-7-19-1 17-2 3-2-5-4 3-5-5-1 6-2-8-2-4-5 1-2 9 0-14-2 0-2 2-2-6 0 8-1 13-1-20-2 17-2-5 0-13-3 4-1 0-1 13-1-1 0-1-1 2-4-14-2 1-1 15-2-16 0-2-1 14-1-5-1 6 0-16 0 2-1 13-1-5-1 2 0-8-6 2 0-4-1 12-1-1-3 1-2-10-3-5 0 8-1 8-2-1 0-12-1 0-1-1-1 15-3-17 0 4-2-3 0 5-1-4-2 7 0-4 0 8-3-13 0 5-8-3-1 0 0 0-4-3-2 3-1-3-4 1-3 12-11-4-1 4-1-8 0 12-1-14-3 12-1 0-1-15-1 16 0-2-1-8 0 1 0 2-2-8-13 0 0 4-4-1-2 1 0-4-14-1-4 1-2 1-9 1-2-1-2-1-3 3-1-1-2-3-9 0-1 2-4 16-5 2-2-19 0 0 0 10-1 12 0-22 0 10-1-10-1-1 0 11-1-9 0 7-1-7 0 7-1-8-1 20 0-18-1-1 0 2-1 12-2-16-4 1-4 1 0 1-1-1-1 0-2 0-4-2-2 1-3 1-1 0-3-1-1 1-5 0-8-1-2 1-5-1-24 1-1 21-4-21-2 19-1 1-1-22-1 1 0 0-3 22-2-21-4 19-2-6-4 3-5-1-1-17-1 21-5-3-1 0-1-5 0 2 0 1-1-3-2-11 0 10-2 8-3-20-1 15 0-3-2-7-1 13-6-7 0 0-1-7-2 4 0 14-1-16 0 1-1 12-1-12-1 16-2-9-3-7 0 6-1-12 0 14-2-8-1-7-3 6 0 0-1 15-3-20-2 10 0-5 0 17-1-22-1 21 0-8-4-9-7 8 0 5-1-7-7-9-5 7 0 4-1 2-2 5 0-13-5 4-9 1-1-8-5 7-7-4-11-5-11 8-11 7-172 6-184 14 135-11 266 1 1-1 22 0 12 0 10 4 17-3 0-1 2 2 1 2 5 6 7-6 7-4 4 14 2-8 1 0 3 13 2-6 1-9 2 17 3-15 2-8 0 9 1-4 3 18 1-18 1 10 5 2 2 2 1-10 1 9 1-14 1 4 0 1 3 1 6 1 0 1 0 6 1-4 0-2 3 2 5-2 2-6 0 3 0-1 1 13 1-6 2-10 2 14 1-6 2-1 2-6 0 3 1-2 0 11 1 1 4-2 8 5 2 0 4-3 5-7 6 6 2 6 1-5 0-1 1-10 2 1 0-1 2 1 0 9 3-4 1 2 0 5 4 0 0-20 195 1 4 4 2 1 1 1 0 10 2-4 0 9 3-8 4-2 2 0 1 3 1-4 0 5 0 0 0-16 0 22 2-6 0-7 1 2 1-12 7 10 0 0 1-10 3 11 2-5 2-2 6 1 7 8 5-2 1 1 4 6 1-9 2 12 0-1 1-9 3 12 3-16 2 16 0-11 1 10 0-2 1-3 2-3 2-10 1 12 4 1 1-8 0-3 2 11 4 3 2 1 7-18 0 5 3 9 6-2 4 1 2 1 7-4 9 6 6-11 0 8 5-4 1 6 3-4 4 6 27 4 109 23 88 0-15-2-53-9-58-2-25-9-5 16-5 6-2-2-1-15-2-4-1 1 0 12-1 4 0 5-8-11-1 1-6-4-2 13-1-21-4 2-2 14-1-2-2-6 0 2-2 1-1-4 0 13-1-5-1 3 0 4-2 0-1-14-1-10-1 12-3-1-1 12 0 0 0-3-3-8 0 0 0-6-1 0-1 1-4 12-2-17 0 9-2 13 0-1-1-23-1 5-5 4-2 10 0 0-3-1-3-11 0-5-2 19 0-17-2 17-1 1 0-12-4-6-6 15-2-9 0 9-3-19-2 12-1-3 0 2 0-10-1 8-1-1-1-2-1-2 0 13-1 7-1-2-2-21 0 1-4 1-12 1-1-1-4-1-3 0-4 7-16-4-1 7-2-7-1 7 0-9-5 10 0 1-2 0 0-10-1 1-1 7-1 0 0-12-27 2-3 0-2-1 0 20-44 0-1 2-1-6-1-3-1 0 0 1 0 1-4 0 0-1 0 2-3 6-2-5 0 3-1 2-1 0-17-4-8-12-22 9-1-7-1 8 0-11 0 11-4-10 0 12-1-4-3-5-1-3 0 0-7 13-1-2-1-9 0-1-3 0-1 9-3 0 0-8-2 13 0 1-2 0-2 0 0-8-2-1 0 2 0 2-1-5 0-1-2-1 0 1-4 11-2-6-1 5-1-3-3 0-2 4-3-14-8 1 0 13-1-15 0 9-3-10-3 9-1-10 0 2-1-6 0 17 0-15 0-2-3 14-5-14-1 1-1 11-1-10 0 11-1-4 0-1 0-4-4 8-1-10-3 14-1 3-4-14-2 10-1 2 0-10 0 0-3 9-3-15 0 3-1 13-1-13-1 8-3-5-2-4 0 7 0 2 0-12-2 8 0 1-1 5-4 0 0-14-2 5-2 14-1-13 0-8 0 7-1 5-5 10-2-12-2-7-1 0-3 9-1-8-13-3-5 4-1-2-2 1 0 11-4-7-1 9-1-15-7-2-2 0-2 3-7 7-4-6-1 1-30 7-24 12 111 6 2 2 16 1 4-5 3-3 12 2 3-2 20 4 2 16 2-14 4-6 4 15 4-8 0-5 16-2 4 0 1 11 4 1 0 7 3-16 2 13 1-12 1 2 1 10 3-8 1 1 4 4 5-3 4-1 4 12 0-1 3-10 0-1 1 2 0 7 3 1 1-5 2-1 1 7 2-11 5 5 2-14 1 18 1-17 0 0 1 0 1 20 0-19 0 15 7 2 2-14 0 3 0 10 1-1 5-1 4 2 7-3 0-13 0 12 3-8 1 8 0-7 4 4 1 1 0 7 3-18 0 5 0 13 0-5 1 4 0 1 33 2 6 1 1-4 7-3 4 0 1-1 5 5 3 1 1-1 24-5 3 1 2-1 2 7 3-20 43-1 1 4 1-2 0 4 1 1 2-2 7 1 0-5 2 1 1-1 0 3 10 1 7-1 1-1 2-1 1 1 10-1 3 1 1-3 5 0 1 1 4 3 7-1 3-2 6 1 6 1 1-1 0 0 4 0 8 5 3 5 0-10 1 15 0-11 2 11 0-16 2 4 4 10 1-9 3-4 0 5 0 6 1-7 4 6 1 4 1 0 0-16 3 18 5 2 0-13 1 12 1-6 2-1 0 3 1-3 0-9 2-1 1 11 2-12 2 11 1-3 5 3 2 2 5 1 5 3 0 4 0-10 2 5 0-4 4-12 4 16 0 3 2 1 1 1 2-15 0 14 5-1 0-3 3-2 0-1 4-3 1 5 7-3 1 1 2-6 4 11 9-8 7 0 3-9 4 19 6-7 29 5 62 25 69 0-26-4-22 3-55-4-8 6-3-3-2 2 0-1-12 0-1-9-3 1-4 2-3 9-4-8-1 2-8-1-3-3-1 3 0-5-3 6-2 0 0 0-1-7-1-2-2 9 0-17-1 22 0-8-2 8-5 2-1-12-2-10-4 19 0-3-1-1-2-5 0 1 0-2-2-6-1 11-1-10 0-4-1 12-5-14-1 19-4 0-2 0-2-8-1-4-1 15-3 2 0-20-3 3-1 0-3 6-3-1-2-1-2 1-3 8-4-2-2-12 0 4-1-3 0-4-2 9-1 3-1 9-172-5-10-8 0-3-6 9-1-8-1 4-1-12-6 2-4-1 0-1-1 19-17 1 0-11-3 5-1-8-1-2-3 1-1 0-2 3 0 0-1-5-2 4-2 2 0-7 0 6-1-7-1 15-3-8 0 2-1 7-3-14-4 16 0-15-3 4 0-5-1 11-2 3-3-12-1-2-1 14-1-14 0 9-5-10-3 7-1-8-1 17-4-16-4 3-1-4-1 17-4-12-2 7-3-7-2-5-1 6-1-6-1-2-4 4-10-2-5-1 0 23-2-17-4-6 0 21-1-22-11 10-3 1-5-7-8 2-5 2-8 3-21-11-12 0-72 34 115-3 47-2 2 2 10-5 19 21 1-2 4-20 1 13 3 1 3-7 3 6 2-8 0 10 2-9 2-1 1 11 1-5 2-5 1 13 1 1 6 2 0-4 5-17 0 10 0-10 0 3 9-3 5 14 4 1 1-16 1 14 0 7 1-11 0 4 2-13 4 4 2-2 1 16 0-5 2 6 3-16 1 0 2-1 1 12 0 3 1-2 4-9 1 2 10-3 1 6 2-13 1 3 5 10 0-1 1-10 0 9 2-7 1 20 1-1 1 0 120-4 3-2 0 1 3 0 3 5 2-15 61 1 3 4 2-6 1 1 0 7 0-4 2-2 1 8 0-8 1-6 1 3 1 14 0-12 2 13 0-15 1-3 1 10 5 2 1-9 1 15 0-11 0-5 0-1 1 18 0-18 1 18 1 1 1 0 1-11 0 9 0-7 2-1 1-4 4 3 0-4 1 4 6 0 1-7 4-2 1 8 0 0 1-7 0 4 1 9 3-2 2 1 0-1 1-13 4 9 0-9 1 0 5 2 9-2 1 5 2 11 2-3 0 5 3-14 4-4 0 18 0-10 0 9 2-9 1 9 0 1 1-17 0-2 1 13 0 7 3-14 1 0 3 1 1 7 0-2 4-12 4 16 4-12 4-3 3 5 1 12 6-8 5 3 2 9 4-10 0-4 7 0 0 13 1-12 0 1 11-7 37 19 65 14-32-3-6 13-27-10-37-1-7 7-12-9-14 0-16-7-1 17-3-15-6-3-3 10 0-2-1 6-7-14 0 3-1 11-2 6-1-17-4 16-2-12-5 1-2 1 0 3-1-2 0 9-1-7 0-6 0-2-5 3-3-1-2 11 0-5-1-2-3 1-2-1-1 3-3 3-4 1-2 4 0 0-1 0-2-10 0 2-4 0-2 6-2-5-1-11-7 0-1 1-4-2-2-3-1 2 0-2-73 5-1 2-1-1 0 2 0-2 0 1-1 3-1-2-5-1-2-6 0 3-1 7-39-1-2 10-1-1 0-1-1 1 0-3 0-9 0-1-2 0-3 17-1-15 0 0-1-1 0 15-1-8-1-4-1-7-63 6-2 1-1-9 0 10-3-10-4 7-1 3 0 0-1-10 0 19-4-5-3 3 0-10-2-1-1 1 0 15-4-3 0-12 0 2-1-2-1-8 0-1-1 19 0 3-1-8 0 0-5 6-1-13 0-3-3 17-1-6-4 7-1-17 0 8-1 0-4-2 0-6-3 14 0-8 0 10-1 0-1-2-4-6-2-12-1 6 0 14 0-21 0 20-4-10-3-4 0 17-1-8-1-14-1 17-3 2-8-15-5 19-4-2-4-3-1-17-12 21-14-18-4-5-3 7-12 15-46-16 0 33-52-8 33 10 16-4 11 6 1 3 3-10 17 2 8-11 5 20 1-2 6 3 2-2 9-11 0 7 3 2 4 0 7-19 0 16 1 4 0 1 1 0 1-4 1 5 1-19 3 13 1-7 2 3 1 7 0-9 0-3 2 15 0-12 1-5 0 17 1-2 3 0 2-5 0 0 2-12 1 12 1-7 0 5 0 5 2 0 0-8 1 10 1-20 0 9 1 10 4-8 1-10 1 4 0 15 1-7 0-1 1 2 5-11 0 5 5-1 2-6 6 1 39 10 32-1 2 0 0-3 3 11 1-1 0 1 1-11 1 1 1 10 2-3 0-5 3 7 15-3 1 1 3 2 3 1 0-18 16-2 3 10 52-4 1 5 2 2 3 1 1-11 0 0 1 10 2-9 0 1 2 17 0-16 0 4 2-2 0 7 1 1 1 3 5 5 7 0 2-5 1-8 0-3 0 11 0-10 5 13 1 1 0-3 0-1 1 3 2-12 1 6 1-4 1 11 1-3 1-7 1-1 1 9 4 3 1-14 2 4 1-1 4 8 0-8 7 7 1-6 0-3 1 9 1 4 0-16 1 9 6-8 0 2 1 1 1 6 6-6 1-3 3 0 5-5 1 7 1-7 0 14 0-6 1-9 0 10 3 1 1-5 3 9 0-14 2 0 4 3 2 3 1-6 5-1 2 12 3 2 2-7 0-6 10 0 1-2 0 9 0 1 4 6 3-1 0-9 3-3 1 4 3 5 5-6 10 2 8-10 6 0 1 16 1-13 17 6 36-6 8 10 38 12-84-1-26 20-3-3-15-15-30 19-5-12-2-7-9-2-12 7-3 3-9-6-1 4-4 7-4 7-7-14-1-6 0 0-5-1-4 14-10 1-7-13-1 19-1-12-1-6-1 20-3-3-1-16-1 5-8-1 0-1-2 1-3 0-1-3-2 3-1 13-1-8-5 0-2 7-2-11-1-1 0 0-1 13 0-4-1-11 0 3-5 3-1-6-1 11 0-15-1 9 0 1-1-10-4 2-1 8 0 1-1 0 0 3-1-7-1 0-1-4-3 12-1-12 0 11-2-1 0 5-1-5-2-6-1 12-2-11-3 8-3-1-1-4 0 2 0 0 0-13-3 7-2 1-1-9 0 10-4-10-2 10 0-5-2 2 0 1-1 12-4-2-3 2-4 2-2-1-2-20-1 21-4-20-2-4-5 0-1 17-1 0-1 0-1 0-1 2-5-1 0 2-2 3-2-22-136 5-1 1-1 0 0 1-8-5-2 0 0 0-6-3-1 5 0 6 0-3-1 5 0-12 0 2 0-1 0 8-1-7-1 12-1-12-4 13-3-15 0 8-1-6-5 6-2 1 0 5-1 0-1 6 0 0-4-18-3 2-1 10-5-3 0 3 0-4 0-7-1 10-5 9 0-5-1-15-2 0 0 12 0-7-3 14 0-10 0 8-1-11-1 12-1-10-3-11-1 2-2 10 0 9-2-8-4 5-2-13-1 8-1 0-4-6-2 1-1 10-3-8-4 3-1 10-2-4-1 1-3 1 0-6-5 6-8-4-5-15 0-1-6 3-2 11-4-5-4 4-2-9-16 12 0 6-25-13-6 9-28 29-81-1 10-5 4-17 65 1 6 12 0 1 8-15 1 20 3 3 2-6 6 3 4-10 1 10 3 3 0-5 3-3 2 1 7 3 0-1 1 3 1-5 3-15 1 13 2-4 1 7 2 2 3 3 0-8 1 0 0 5 2 3 4-2 3-8 2 4 3-8 0 13 4-16 1 17 0-16 6-1 3-3 4 19 0-14 4 3 1-5 0 0 3 9 0-12 1 3 2-4 3 6 0-6 0 12 0-10 15 1 4-2 3-2 2 4 12-2 1 4 0-6 1 9 1-1 0-1 0 3 1-2 6-1 4-4 2 4 4-3 1 1 0 2 2-1 0 0 5-2 4-3 1-1 2 20 59-3 0 5 7 0 1 0 1-1 40-2 0 1 3 0 3 0 0-11 5-5 1 18 0-15 0 1 0 3 0 1 1 11 2-21 3 12 0-2 1-3 3 12 0 1 1-1 0 2 3-9 11-3 1-5 2 8 0 0 0 8 3-7 1-12 0 15 0-1 1 1 1-5 1-5 2 8 5-3 0 4 0 0 1 1 0-10 0 0 3-1 0 1 1 10 1 0 1-8 2 7 0-12 4-2 1 0 0 14 1 2 2-13 2 13 6-6 2-13 0 5 1 0 0 0 1 1 2 0 2-5 3 20 0-20 3 9 1-10 0 0 1 19 1-13 2-6 7 14 0-10 0 0 7 1 7-3 1 3 1-4 3 20 1-18 5 21 18-22 32 2 2 12 1-16 0 4 15-3 13 8 53 1 7-1 10 29-111-11-40-2-1 2-5-3-3 1-40 7-7 3-7-9-7 2-6-3 0 2-14-1-3-1-1 1-3-1-2 0-1 3-2-1-2 8-2-1-1-8-7-1-1 8-2 2-1-9-1-1 0 8-2 2 0 2-3 3-5-14-3-1-1 21-1-15-1 4 0-8-1 9-4 9-3-10 0 2-3-1-4 7 0-15-1 11-3 7-1 0-1-2 0-1-2-10 0 13-2 0-7-2-8-7 0-8-1 2-2 2-1-1 0 16-2-21 0 0 0 0-1 3 0 14 0-17-1 5-1 9 0-10-2-2-1 2-1 12 0-14-2 3-1-3 0 12-1-11 0 3-2 10-1-9-1 3-2 9-1 1-2 0-3-2-1 0 0 1-2-9 0-1-1 8 0-5-1 7-5-4-2-1 0 5 0-4-1-2 0-5 0-1-1 13-1 1-3-4-1 1 0-11-1 4-3-1 0 9-2-4-1 3 0 1-1-1-3 0 0 0 0 0-2 1 0 0-3-2-6-3-5 1-1 5-2-1-4 0-2-20-60 2 0 0 0 4-4-4-6 0 0-3-1 3-9-2-6-2-3 3-11-1-1 3-1-1 0 1-1 7 0 2-2-13 0 2-3-3 0 0 0 3-1-2 0 2 0 10-1-9 0 9-1-7-1 0 0 3 0 0 0 2-1-3 0-3-7 0-1 3-3 0-5-7-3 2 0 14-1 0 0 6-2-9-1 7 0-20 0 10 0-8-1 21-3-11-4-3-3 12 0-1-1-1 0-2-1-3-1 1 0-3-3 0-4 2-1-9-2 7 0-1-1 2-1 7-1-5 0 5-1-4 0 5 0-13-6 14-2-12-1-7-1 17-1-2-2-15-3 9 0-10-2 14-6 5 0-18-2 17 0-7-4 3 0-10-1 9-2 2-2-4-5 6-1-2-1 1-6 3-3-16-2 15-1-4-4 5-2-3 0 3-3-3-13 2-4-1-8 3-36-1-9 24-394-14 62 15 181-8 16 2 5-1 10 2 9 6 8-2 8 0 8-13 7 14 3-15 5 9 14-1 10 0 7 3 4-3 5-7 1 7 3 5 1-6 1 0 4-7 2 8 2-1 6 2 4 1 1-2 0 2 3-14 1 9 1-8 4-3 0 8 1 2 0 0 1-9 3 10 2 1 3-10 4 6 0 6 1 2 5-17 0 17 3-5 1 4 1-17 2 15 3-10 2 10 0-9 2-1 3 2 1 0 6-6 5 8 2-1 8 2 1-8 1 4 0-4 5 1 0-2 1-1 43 3 6-2 2-1 0 12 25 3 1-9 3 13 1-15 1 15 0-19 2 17 0-9 1-6 1 4 1 9 1 0 0 9 33-1 3-14 10 1 0-1 0 0 1-3 1 18 3-10 2-9 0 2 2 7 1-7 0 15 2 2 7-1 22 0 8-1 15-3 6 0 0 5 3-4 3-15 11 9 1 9 0-13 0-9 2 14 0-12 1 12 1-15 0 22 1-7 5-10 4 16 2-14 4-1 0-6 2 0 0 1 1 12 0-7 2-4 1 2 1 5 3 9 1-4 0-8 4 4 4-4 2 0 0 4 3-1 1 0 4 3 5-12 4 15 2-7 1-4 0 3 1-5 1 13 1-11 9-3 1 0 1 5 0 2 7-4 9 3 3-7 0 7 62-6 28 0 3 2 0 4 10-3 30 1 32 20-175 2-11-2-15 3-10 2-14 9-15 6-12-4-2-12-1-3-10 22-1-1-17-19-1 7-4-6 0 17-2-6-3 5-1-16 0 11-2 7 0-23-2 1-7 14-2-8-3 8-1-3-2 5-7-2-2 5-3-16-2-1 0 1-2-3-1 9 0 10-1-12 0 5-3-1-1 1-4 9-2-2-1-18-1 11 0 7 0-4 0-9-1 8 0-9-1 7-3 3-3-1-1-7-1-4-1-2 0 2 0 0 0 17-1-17 0 17 0-2-6-10-1-1-2 8 0-11 0 10-2-1-3-1-3 10-2-9-2-7 0 10-1-1-1-10-2 15-1-3 0 1-2-10 0 8-3-1-1 4-5-1-4 2-2-3-16-3-1 1 0 3-1-9-4-1 0 0-3 14 0-13-2 11 0-5-1-2-2 5-133 0-6 2-1-2-1-1 0-18 0 19-1-18-1 0 0 0-3 1 0 18-2-12-14 4-1-5-2-2-1 10-1 7-1 0-1-4-1 0-1-14 0 14-1-18-1 8-1-7 0 11-1-10-7 5-1-1 0 0-1-2-1 8-3 7 0-8-1 11-1-8 0 6 0 1-7-13-1 14-1-5 0 3 0-12 0-3-1 9 0-14-2 6-1 4-6 0 0 13-2-2-1-1 0-5-3 7-1 1 0-10-2-2-1 6-1 3-1-11-1-5 0 10 0 10-2-11-4-12-2 13 0 0-2-7 0-1-1 17-4-16-1-1 0 15-3-18-2 21-6-8-2-11 0 7-1-5-4 7-2 7-9-2-8-16-1-1-16-2-14 24-11-3-4 1-12 1-5 1-29-4-126 21 110-3 17 4 2 2 10-14 11 18 4-5 4-8 1 9 5 3 1-15 1 10 1-7 1 0 1-10 3 21 4-22 2 17 2-10 0 9 4-11 1 0 4 14 5-2 1 4 0-9 5 7 3-9 2 5 0 9 4-24 1 0 0 23 2-8 2-5 0 9 1-2 1 3 0-16 2 1 0 0 5 12 0-1 1-3 0-4 1 0 2-5 5 0 1 10 1 6 0-15 1-1 0 16 1-20 4 4 1 7 1 4 1-13 0 17 1-10 1 3 4-10 5 1 0 7 1-6 2 3 1 1 0-7 2 3 1-3 0 5 3-3 0 1 3 9 0 2 2-14 0-1 2 21 1-1 2-13 2 3 0 0 0-4 0 13 0-1 1-8 0 14 1-3 0-13 1 9 1 0 0 0 0 0 0-2 0-9 3 1 1-4 0-3 13 9 0 1 1-2 0 8 2-10 0 9 0-12 1 15 0 1 2 3 2-18 2 18 1-18 2 11 1-7 0 13 3-18 0-3 1 23 0-2 0-11 1-9 0 9 1 5 2-4 1-2 2 0 0 5 2-13 1 18 0-3 1 1 0-16 0 3 0-2 1 6 19 0 1 2 0-4 0 2 0 3 2-6 0 10 0 2 5-10 3 9 0-3 0-8 2-2 2 18 83 1 7 0 33 0 0-7 5-4 0 11 1-11 0 6 0 0 0 5 2 1 0-15 1 2 4-1 0 10 1-8 0 4 1 4 1-17 23-1 0 4 3 2 4 12 0-5 1-3 2-6 1 0 1 1 0 15 2-14 0 14 2-18 1 15 0-17 1 22 0-12 1 12 1-10 1-8 0 0 1 1 5-3 0 20 1-9 0 10 1-17 0-4 0 10 1-9 2 18 1-20 0 14 3-15 0 1 1 17 0-8 2 11 4-17 2-5 1 5 0 14 0-1 2 2 2-7 1-8 4 3 0 6 2-14 2 5 1 5 1 12 2-2 1 3 1-22 1 1 10 12 3-8 1 4 2-6 0 18 0-15 1 10 3-3 0 2 13 7 1-3 3-2 1-18 8 13 7-5 65 40-32-6-20-7-5 8-12-4-20 5-23-18-4 9-2 12-2-10-1 3-3-4-4 4-4 5-1-6-2 9-1-10 0-13 0 23-1-13 0-9-2 6-2 4 0 0 0 4-4-13-2 20-2-20-2 16-1-13-1 4-2 6 0-13-2 17-1-15-1 10 0-2 0-10-1 16-2 2-1-16-1 7-3 6-7-17 0 2-2 16 0-3 0 1-1-13-2 9-4-5-2 1-1 14 0-9-1-4-2-1-3-2-1 15 0-2 0-1-2-10-4-2 0 13-1 0-1-4-1-7 0 2-1 5-2 1 0 2-2 4-5-17-2 0-1 3-4 0 0 0-1 1-1 2-2 1-2-11-1 13-2-12 0-1 0 10-3-5-1-3 0 1-20 0-2 0-8-3-2 1-1 3-55 2-1-7-1 1-2-1-1-1-1 12-2 1-1-12-2 8 0-4-1 6-1 13-36-3-2 1-7-1-2 1-3-20-1 0 0 1 0 20-2-2-2 2-4 1-2 0-2-2-9-8-5 3 0-1-6 1-1 6-1-7-1 5 0 3 0-21-1 17 0 3-1-17 0-4 0 7-4 1 0-2-4 11-1 1-1-16 0 2-1 0 0 12-4-2 0-1-7 0-1 3-4 1 0 4-19-21-10 1-2-3-4 3-18 1-1 6-4-3-1 8-7 0-1-5 0 12 0-21-4 0-1 9-4 5 0 2-1 0-2-3 0 5-1-14-1 6-3-10-4 6-1 13-3-12 0 15-1-2-6-21-4 21-1 0-2-2-6-17-27 5-6 13-60-2-7-9-24 9-278 12-29 13 52 0 124 4 65-14 29-8 14 2 78 6 43 14 7-10 9 5 1 4 3-6 0-6 2-1 6 10 2-3 0 1 4 1 2-17 3 2 6 3 1 4 1-6 2 6 4 0 1 5 2-2 0-3 0-8 1 9 2-9 0-2 3 19 0-18 2 8 3 10 2 2 0-9 1 10 0-22 0 23 2-7 3 7 0-13 1-3 2 13 0-11 4 2 1 11 5-5 0 3 2-4 0 4 0 4 0-20 25-1 0-2 0 10 5 1 0 0 0-10 2 8 3-7 5 8 0-2 7-6 0 1 3-2 0 0 8 2 2-2 7 1 0 17 1 4 0-11 5 4 3 4 1-6 0 6 2 0 1-17 0 13 0-13 2-1 0 1 1 0 1 2 1 0 3 14 1 3 0-3 0-2 1 6 0-17 7 0 1-1 0-1 0-3 0 6 1-2 0-5 0 7 1 0 7 1 1-1 0-3 6 2 3 13 6-3 1 3 1-13 0-3 2-1 1 0 1 13 2 8 3-1 1-1 25-4 0 6 1-10 2-2 0 0 0 1 3 1 2 4 1 1 1 2 1-1 0-4 96-7 4 4 1 3 0-7 0 13 2-5 3 0 1 1 1-13 1 3 1 7 2-5 0 1 0 10 1-19 2 20 0-16 1 14 5-15 3 0 0 14 2-18 1 7 1-6 0 11 1-4 0-7 1 10 0-4 1 14 2-11 2 9 0 3 5-17 0 0 2 15 0 1 8-9 2 8 0-6 1-7 0-8 1 19 0-2 0-1 0 1 0 5 1 1 2-17 0-5 1 19 5-2 1-1 1-3 0-2 2-4 0-1 2-5 0 14 2-4 1 5 0-10 5-6 1 6 3 15 0-1 0-15 2 6 1-5 2 11 3-15 2 19 3-21 17 19 3-1 0-12 2 3 0 0 2-9 0 12 2-11 11 11 22 7 22 24 1-4-16 7-11-16-5-6-6 11-2 4-5-2-1-2-3 0-1-2-3 8-6 0-1-6-2 0-3-1-3 8-1-3-1 6 0-13 0 12-1-6-5 9-3-12-3 7 0-10-2 4-2 10-2-1 0-19 0 18-1-18-1 17-3-9-3 0 0 3-1-10 0 11-2 9-6-2-1-6 0 3 0-8-1 0-1-2-2-5-1-4 0 18 0 1-2 2 0-15-1 3-2-1-1-1-2 11 0-10 0-8 0 12-1 7-2 3-1-6-1 6-1-11-3-11 0 2 0 5-1 0 0 17 0-1-1-8-1-14-1-1-2 21 0-13-4-1-4-4-1-2-1 11-6-6-1-3-1-3 0 13-5-7-2 12 0-1-1 0-1-4-1-5-1-4-1 4 0 15-3 0 0-16-2 2-2-2 0-6-2 8-1 13-1-20 0 11-1-10-1 10-1-11-1-1 0-1-2 13 0 2 0-1-1 2 0 2-1-1-2 2-1 0-1-1-2 3-4 1-3-2-5 0-4 1-2 2-1-4-57-1 0-3-3-2 0 10-7 0 0-1 0-6 0 2-1-17-6 12-17-8-2 1 0 10-1-12-1 12-3-8-2 4 0-2 0 11-2 2 0-10 0 10-1-1 0-9-1-3-2 13-1-21-1 13-2 6 0-6 0 4-2-13-1-2-4-1-1 21-28-21-4-2 0 1-1 0 0 0-1 2-1-1 0 2-1 0 0 2-1-1-7-2-1-1-3 2-1-1 0 20-10-7-4-2 0 4-1-4-1-2-1 2 0 0-7 4-4 1-12-2 0-2-8-1 0 1-1-4 0 4-1 3-1-8-1 11-1-11-1 4-7 5 0-6 0 5-1-9-1 0 0-4 0 6 0-9-2 2 0-2-2 18-7-17-1 8 0-11-2 11 0-11 0 11-1-4-1-4 0 20 0-8-1-9-1 11-1-9-1 1-1 10 0-19-1 18-4-9-1-6-3 5 0-2 0 8-1-6-3 6-1-14-3 15-1-6-1-5-1 5 0 2-1-5-3 12-6 4-6-6-11-11 0 6-9-6-3 13-6-13-21 14 0-18-59 13-150 14-70 17 145-17 7 16 41-6 76-14 15 13 17-8 8 1 14-4 12 18 2 0 1-10 1 5 6 1 7 1 4-17 7 0 1 11 4-7 11 9 2-13 2 4 1 4 2 9 6-6 1 9 2-13 5 1 1 0 0 12 1 0 0-15 0-5 3 16 1-8 1-7 0 8 1-5 1 9 0-3 8-2 0-2 1 5 1 5 1 3 2-4 0-15 4-1 1 18 1-13 1 7 4 10 1-22 1 23 0-22 2 7 1-6 0 16 1-15 0 6 5 0 1 2 2 5 1-12 1 1 0 18 3-4 1-14 1-2 2 15 2-11 0 2 1 7 0-1 1 1 1 3 0-6 0 8 2-1 1-14 2-5 2 9 1-10 1 10 2 13 1-13 2-4 1-3 0-1 1-1 33-1 45 2 61 5 1-6 0 6 1-3 0 9 4-2 1-2 4-8 0 7 1 0 1-7 0 2 1 1 0-1 1 0 0 2 4 1 1-1 0-1 1 1 0-1 1-1 1 0 3-1 3 22 8-1 5-22 39 13 18 4 4-9 0 13 1-22 1 3 2 6 0 4 1 9 3-15 0 13 0 0 1-4 0-4 1 5 1-6 0 4 0 3 2 2 0-16 3 4 0-6 5 5 0 17 1-9 0-3 2-11 0 17 1-17 0 17 0-3 1-2 0 2 3 0 3-13 0 4 2-6 5 16 1-4 0-4 0 5 1 5 2 3 2 0 0-17 4 15 4-6 1 8 2-13 2 13 0-15 2 10 0-15 0 11 0 8 2 3 3-9 5 1 0-10 1-3 2 10 2 3 1 5 2-19 2 19 2-4 1 4 6-5 4 0 5 1 4-10 0 17 27-7 3-2 4-6 7 3 4 1 14 12 12 19 79 2-59-20-12 21-3-18-14-2-6 16-5-3-6-3-12 11-6-11-1 7-3-2-3 1-3-4-2-4-9 0-1-3 0-3-1 4-1-1-1 3-3-5-1 12-6-8-1 10 0 4-1-10-3-1-2 10-3-19-1 2 0-2-1 20-2-21-1 11-1 5-1-4-2-2-2 11-1-11-1-2-1 14-1-18-1 13 0 0-1-16-4-1 0 15-4-3 0 4 0-7-3 0-1-11-1 10-2-1-1-8 0 1 0 19-24-3 0 4-1-4-2 0-1-17-2-1-1 19-1 4-4-1-32 1-1-22-37 3-1 5 0-1 0 2-1-2 0 1-2 0-5 2 0-1-2-2 0 12-44 1-2-6-3-1-2-1-5-2-1 0-2 12-5-9 0-3 0 11-2 0-67-3-2 0-1 4-6 0-13-9-6 0 0-5 0-4-1 0-3 17-2-3 0 3 0 0-1-8-1-10-1-1-2 6-2-5 0 19 0 0-1-9-2 5-2-19-1 1 0 2 0 3-1-3 0-3-1 7 0 12-2-5-2 9-1-8-5-5-2 12-1-16-1 16 0-14-3 0-1 3-1 12-4-23-2 12-1-1 0-7-1 16-5-9 0-5-3 17 0-13-1 6-1-15 0 9-2 2-3 4-1-3-2-4 0-6-1 1-2 8-6-2-2-6-4 18-2-21-1 8-5 11-5 1-1-4-8-16-17 4-5-2-5-2-5 14-14 3-43-11-84 15-191 3 361 4 19 6 0 8 4-3 8-1 3-6 3 6 5-10 4 9 8-8 1-3 3 7 3-7 3 13 0-9 1 13 1-13 1 6 6-2 1 5 1 4 2-5 1 3 1 3 4-10 1-10 1 5 2 1 0 8 0-10 1 10 4 8 2-7 4 8 7-4 0-18 3 5 1 12 3-2 2-5 0-11 1 10 2-1 1 13 0-17 0 11 0-1 2-7 0-1 2-3 3 12 2-8 1 10 1 5 0-15 1 6 1-9 0 17 1-18 6 12 3-12 1 16 0-3 1-7 0 7 52 1 2 2 5-1 1-3 4-17 0 1 1 19 2-19 2 21 3-18 2-3 2 3 92-3 1 0 0 10 2-1 4 1 0-6 3-1 0 2 1-1 0-1 0 18 9-2 1 0 2-2 0-3 3 0 4 4 1-3 1 7 0-4 2 4 0-6 1-13 6 14 0-14 1 11 0-1 2 1 3-11 1 10 2-5 0 2 1-7 1 15 0 3 1-8 4-9 1-2 3 13 0-12 1 10 1 0 1-2 1-7 0 3 1-1 0 10 0-4 1 1 1-2 1-5 0-3 3-1 0 20 2-2 0 1 0-18 0-2 2 0 0 3 0-2 0 1 1 16 1-16 1 10 1 10 0-4 1 1 0-7 1 10 1-16 2-1 2 15 1-9 1-11 1 21 0-4 0 2 1-7 0-14 1 14 0-13 4 16 2-1 1-2 0-4 1-1 2-8 2 2 0-1 1 0 15 0 0 8 3 0 1 6 0-10 0 17 3-9 5 1 0-9 1 6 2 1 0 8 2 1 1-16 3 5 1-3 1 13 0-9 1-9 4 13 0-16 0 5 0 6 3-1 1-1 0 7 1-4 1 7 1-14 9 16 0-4 2 2 1 3 6-20 0 9 1 12 3-5 5-8 2 1 2-7 23 6 4 10 13-17 5 12 16-4 12 29-37-5-6 6-2-4-1 2-1 3-3-17-4 23-2-10 0 3-5-6-2-2-2 4-2 2-1 0-3-2-2 10-3-1-4-17-1 7-1 11-1 0-1-1-3-12-1 3 0 7 0 0 0-16 0 11-1 8-1-5 0-1-1 3 0-2-3-12-1 15 0-2 0-10-1 6-1-11-1 7-2-11-1 13-2-1-1 8-3-3 0 3-1-17-1 4 0-2-1-1-1 17-1-20-1 12-3 6 0-17-1 7 0-6-1 6 0 4-2-3-1 12-2-2-1-8-1-1 0 2-4-10-1 1-1 0-4 11 0 1 0-5-3-5-1 1-1 1-35 1-5 0-1 3-2 2-1-14-2 13-1-10-1-1 0 4-2 2-1-7-16 0-3 2-2 1-1-2-3 2-2 1-1 9 0 2 0 4-1-6 0 8-3-10 0-10-2 10 0-1 0 1-2 1-2 1-1 0-2 2 0-14-1 12-1 1-1 0 0 6-1-19-1 19-1-12-95 2 0-4 0 10-6-2-1-9 0 0-1 2-4 10-1 5-3-13 0 4-1-1-1-11-1 1-1 1-1 0-1 2-1 2-3-1-3-3-4-2-1 0-1 4-2-5-6 1 0 22-2-2-2-1-2 3-3-3-4-2-4-10-1 4-2-9 0 11-2-13-1 19 0 2-2-14-3 8-1-13-2 19 0-4-2 3 0-7-1-12 0 16 0-18-2 13-3-9 0 13 0-18 0 13-1-12-2 13-1-1-1 0 0 1-2-14 0 20-1-9-1 11 0-11-1-3-2 16 0-18-4 6-1 0-3 1-3 9-2-21-2 7 0 4-4-10-1 13 0-2 0-2 0 5-1-15-4 17-1-3-2-11-1 8-1 1-1 6-4-17 0 0-3 14 0-4-1-9-3 6-4-2-2 4-3-10-1 18-3-9-8 7-9-5 0 4-4 5-4 2-1-16-15-1-22 9-5-8-29-5-17-2-278 40 255-14 103 5 9 6 15 2 7-2 4 2 16-7 1-6 6 0 6 17 0-1 1-9 0 13 1 1 1-4 0-3 3-14 0 20 1-5 3 7 2-12 1-9 5 11 1 5 1-3 3-13 1 14 1-10 0 5 1 3 1 0 0-4 5 2 1-4 0 3 1-8 0 17 5-14 0 16 2-9 1-6 4 1 1-6 2 3 0 3 4-8 0 11 1-6 1 8 2 3 0-1 0 2 3-13 0 19 2 0 0-20 1 0 0-2 1-1 0 17 1-7 1 3 1 3 0-8 0 8 5-4 2-11 1 10 0 0 0-2 1-1 4 15 8-1 0 0 2-14 2 14 0-15 1-7 1-1 1 10 0 13 1-12 3 3 1-4 0 5 0-6 0 3 2-7 0 2 1-4 1 6 0-7 1 18 1-10 0 11 0-2 2 2 0-10 1 7 2-15 1 0 0 15 2 2 1-18 1 10 2-4 0-1 2 15 35-5 5 4 4-15 1 2 1-4 0 9 1-12 3 0 1 1 1-1 1-1 0 0 0 10 1-2 3-7 39 11 1 3 0-4 0 7 1-17 0 8 2 1 0-4 2-4 0 0 1 4 1-1 0 13 0-17 4 12 1-4 1 0 17 3 1 3 0-11 1 9 1-8 6 8 0-6 1-3 23 7 1-4 0 9 3-14 2 1 2 10 0-11 3 1 0 5 1 0 1-1 1 15 22-3 4-1 2 1 1-1 0 3 2-21 4 5 1 1 1-1 4 2 0-4 3 4 15-3 0 3 2 5 6-6 3 6 5 0 2-1 0-3 2 10 2 2 1-19 0 5 1 16 5-10 2-1 2 5 1-2 0 8 1-21 1 3 0 18 2-10 1-7 1 4 1-8 3 23 1-14 2-8 9 20 1-21 1 6 0 5 4 1 0 3 5-8 2-8 7 9 0 7 1 3 11-2 6-2 7 0 3-9 5 18 8-8 27-2 15 27 11-8-24-3-18 17-5-9-3 0-20-9-10-4-1 11-1-5-2-7-2 22-2-11-2-11-2 6-4-1-4 7-1 11 0-6 0-4-1 2-6 3-1-7 0-9-4 0-1 18 0-1-1-17-2 7-1 4-1-5-1-3-1 10-1 1-2 2-1-17 0 15 0-16-1 4-2 4-1-6 0 17-2-11 0 12 0-2-2-8-1 10-1-7-2 4 0 7-4-11-2 9-5-5 0-1 0-1-1 1-5 7-3-1-2-4 0 0-14-2-2 2-5 4-1 2-1-3-8 2-1 0-1-21-6 0-1 4-2-1-1 14-1-2-1-8-2-5-1 4-1 11 0-12-2 12 0-10 0 9-2-11-2 12-1-10-2 10 0-10-1 2-1 0 0 4 0-4-1 4-1 2 0-2 0-3-102 5 0-3 0-7-2 9 0 3-4-11-2 3-2 6-1-15-24 4-3-1-4-2-3-1-1 20-34-2-1-1 0-1-1 4-1 1 0-9-1-3-2-1 0 1 0 1-2 11-4-7 0-2-1 1-1-14-9 21-2-14-1 11 0 3-1-5 0-7-5 7-1-9 0 4-2 1 0-6-3 0-1 1 0 8-6-6 0 9-2-19 0 16 0 3 0 3-2-8 0 10-3-21-1 7-1 6-4 3-1-17 0 16-1-3-4 1 0 2-1 5-3-12-1-1-1-4-6 7-1 11-1-21 0 3-1-6 0 20 0 1-2-17-2 11-1-12-4 10-1-4-3 13-3-20-6 0-3 17-2-10-1 2 0-1-8 12-4-15-3 15-2-19-2 8-1-6-1 0-1 17-7 0-2-17-7-1 0-2-6 10-55 8-175-15-30 37 258-3 3-4 2 9 9-18 1 5 1 2 8 9 5-3 2-6 0 0 2 7 3 3 7-12 1 12 0-13 0 15 2-14 2-1 9 6 4 10 1-2 2-12 1 7 0 3 1-8 1 8 4-3 0-6 0 13 2-18 2 20 3-18 3 2 2-5 2 5 1-1 0-2 1 10 1-3 0-10 1 7 0-2 1 7 1-1 2-5 0 15 2-14 1 6 1-9 1 9 1 4 0-13 2 16 1-20 0-2 2 21 3-16 0 3 4-3 1 8 1-9 2 10 5 10 1-1 0-3 1-9 1-1 1-2 0 5 0 4 2 0 0-12 1 0 2-2 0 16 1-8 3 0 1 2 0 10 1-12 2-11 3 10 2 3 1 0 1 6 1-7 0 11 2-1 1 1 154-1 5 1 2-14 13 0 2 1 0-2 1-2 0 12 3 0 2-13 1 2 0 11 1-3 1-5 1-3 1 4 0-2 0-1 28 2 2-1 0-5 0 12 5-11 3 6 1 4 0-9 1 4 1 12 1-17 2 0 2-3 2 18 2-6 1 5 1-12 1 5 2 12 3-18 0 17 2-4 5-14 1 4 2-1 1 0 0-2 1 17 2-19 1-2 1 1 1 7 1-2 0 12 0-5 1-5 0 0 1-2 1 10 1 1 2 4 1-1 1-12 5-3 1 12 1-19 0 15 0 8 1-15 2 9 1 5 3-7 3 2 1 5 0-12 1-4 1 3 4 2 3-8 1 4 6 12 3-9 0-3 6-6 0 2 1-2 0 13 6 10 3-8 1 5 0-6 2 2 1-7 0-1 0 3 29-6 76 31 5-6-9 10-32 3-20 1-6-7-10 3-11 3-13-1-4 5-4-24-10 2-9 0-4 8 0 5-1-12-1-1-6 21-5-22 0 8-2-8-2 19 0-17-1 4-1 17-2-16-1 1-3 10-1-4-1-15-1 1-1 2-1 21-2-1-4-2-3-6-1 3-1-1-1-3-1-3 0-3-1-1-2-4-4-2-1 22-2-11 0 5-3-9-1 10 0-16 0 3-1 12-5 5-1-6-4 0-3-8-1-5 0 18-1-11-2 9-2 2-1-20-1-1-1 23-2-14 0-6 0 4-60-6-1 19-2 2-1-12-1-1-1 0-3 7-1-14-1 21-3-7-1 7 0-3 0 2 0 2-1 0-1-2-89 0-2 0-5-3-10-5 0 3 0-5-1 7 0-5-1 6 0-10-2 11-1-10-1-2-3 1-3 12 0-2 0-6-2 0 0 6-1-5 0-1-4 0 0 3 0-1-1 2-3-10-1 11 0 0-1 3-1-12-2-2-1 4-1 2 0 0-1 1-1 0 0 5-3-18-2 7-3-3-1 2-2 3 0-4-7 2-2-5 0 3-1-4-2 14-1-13 0 4-1 15-1-12 0-5 0-2-1 20-1 0-1-18 0 4-3 1-1 6-1-15-1 18 0-4 0-2-1-2-3 5 0-11-4-4-1 16 0-11-1 0-1 4-2 0 0 3-1-5 0 1-3 0-2-7 0 14-2 0-2-17-5 3 0 13 0 0-1-2 0 6-1-6 0-10-1 15 0-13-1 12-1-18 0 5-2 9-5-2 0-6-1 0 0-5-2 11-3-5-1 12-3 3-2-10-5 1 0-8-5 3 0 11 0-11-4 12-3-16-1 9-3-6-19-3 0 14-6-11-3 7-6 7-22-16-8 14-500 21 187-4 41-6 93 17 47-9 28 6 21-13 2-5 18 22 49-20 11 20 6-16 8 8 4 4 7-5 7-9 1 15 0-3 6-1 4 2 1 2 5-11 0 1 3 5 2-14 0-2 2 14 2-14 3 7 1 16 1-8 3-4 2-5 1 0 1 10 5-14 3 21 1-11 2-11 1 9 2 4 0-13 2 15 1-13 1 17 0-14 0 1 1 10 1-5 4 9 4-4 0 2 1 1 0-15 0 11 2-13 0 2 2 0 0 8 2 0 0 0 2-11 1 2 0 20 2-9 2 2 2-5 3-1 2 1 1 7 0-9 1 11 4-14 0 14 1-2 1-14 1 13 1 0 1-10 0 7 1-1 1-9 7 1 1-4 1-2 1 11 1-1 0 1 2 1 1-4 2-6 3 4 0-3 1 20 0-5 1-3 7 7 2 1 1-2 0-20 13 0 0-1 25 8 13-1 1-1 0 0 1 0 0-4 1 6 0 3 5 0 0-11 2 7 2 2 0-9 1 5 0-3 1 18 78-14 0 2 1 0 0-7 1 0 2 0 1 21 0-11 1 1 4 0 3-5 1-2 0 4 1-6 1 20 43-9 7 4 1 3 1-14 2 13 0 0 1-13 0 12 1-1 0-8 3 5 1 1 1-7 0-7 1 18 0 0 0-4 0-15 0 0 1 12 0 6 1-18 0 18 0 5 2-4 5 3 0-16 2-2 2 0 0 2 1-1 1 10 0-8 1 11 0-3 1-2 0-9 2 1 3-6 2 16 0-4 1 5 3 2 0-11 4 12 2-10 0-2 2 1 1 2 1-2 2-5 0 10 3-6 0 3 0-3 1 5 3-2 0-5 1-6 4 2 1 2 2-2 1 7 6-1 0 16 2-4 0-8 3 9 5-3 1-6 2 7 0-6 1-7 0 11 1 1 0-11 2-3 3 19 1-15 4 6 2 10 0-4 7-7 1-8 6 8 8-13 1 8 12 1 2 7 16-3 30 26-47 7-23-5-11-2-14 8-3-23-4 5-4 5-7 10-3-7-2-9-5 7-9-9-2 12-5-13-1 21-4-9 0-4-2 2-1 1-2 10 0-22-2 3 0 0-1 8-1-5-1 13 0 1-2-2-1-3-1-1-2 1-1-9-2-4 0 5-1-6 0 4-3 11-2 4-2-13-2 15-4-13 0-6-2 12-1-1 0-11-4 20-1-10-2-5-1-8-2 23-1 1 0-17-4-6-1 7 0 12-10-3 0 6-1-8-4 2-4-1-1 0-1 6 0 1 0-3 0-1-1-18-24 6-4-1-1 1-3-2-2-2-2-3 0 2-1 18-14 0-5 3-4 0-65 0-7 1-3-23-41 1-3 20-22 0 0-1-5 2-4-20-3 20-1-1-5-16-2 2 0-5-6 6-3 2-4-1-1-4-1 3 0-5-2 20-8-1-1-22-3 20-1-12-1-2 0-2 0 8-1 0 0-4 0-6 0 16-2 2-2-2 0 0-7-10 0 12 0-6-2-8 0-4 0 7-1-2 0-5-5 13-2 0-1 0 0-7-1-1-1 0-1 3-1-3 0-4-1 7-3 0 0-10-3 13-3-5-2 11-1 2 0-4-1-5 0 5-2-16 0 0-1-2-7 12 0 6-2-3-2-2 0 9-7-17-8 2-7 15-7-14-4 7-13 0-12-2-2-11-2 18-1 1-19 1-9-11-27-1-93 26-169 8 212-15 21 11 19 4 3 2 50-3 0 2 10-6 1-6 6 10 3-2 0 5 2-3 0 4 2-22 5 2 4 10 1 5 1-9 2-5 1 5 0 10 2 1 1-17 6 14 1 3 1-8 0 9 1-4 1-4 5-12 0 15 1-4 1 1 0-4 1-5 0 13 2-15 2 0 1 9 6-9 2 1 1 3 1 11 1 1 1-1 1-16 0 14 1-11 1 9 2 9 1-20 0 9 2-4 2 17 1-16 5 5 0 7 0-9 0 6 2-6 0-11 1 4 2 3 27-4 2 8 4-4 5 0 0 1 1-5 24 4 1-3 0-3 1 8 0 1 1 0 0-1 3-3 5-4 2 7 3-7 6 2 0 3 0 0 1-5 0 0 0 4 1 6 9 3 1-7 5-1 1 1 0-1 1 10 0-9 1 15 20 0 6 1 1-21 17-1 1 7 3 0 3-8 4 2 1 2 0 9 46 0 0-2 1-4 3-2 4 2 1 8 1-5 1 1 1-10 5 20 2-18 1 16 0-14 0-1 1 16 1-15 0 12 1-12 0-4 5 17 1 2 2-20 49 5 1-3 1 9 3 2 8-1 1-1 0-4 1-7 0 4 2-1 3 14 0-7 0-3 1 3 1 8 2 3 6-14 2-4 0 16 5-2 1-13 5 5 1 5 2-4 2 10 1-19 1 4 6 1 4 6 3-10 6 11 3 1 7-13 4-1 1 0 2 6 8-2 5 1 18-2 8-3 27 13 24-12 4 42-92-8-35-10-2 1 0 14-5-12-1-4-1 4-1 5 0-9-1 11-5-10-5 11-1-2-1 5 0-1 0 6-3-10-1 12-2-18-1-2-1 20-1 0 0-7-1 8-2-22-2-1 0-1-1 20-2-19-1-1 0 1-1 21-1-13-3 11-1-10-1-9 0 7 0-1-2 12-2-2-1 5 0-6-2-11 0 17-1-16-4 3-1 0 0-2-2 0-3 11 0 2-1-13-1 2 0 4-1-7-1 1-1 15-2-8-2 10-2-11-2-6 0 9-1-5 0 13-1-6 0-9-1-1-3 15-1-15-1 13-2-17-1 16-2-4-3 3 0-1-1-11 0-1-2 14 0-5-1-15-1 13-1-10-2 4-1 2-1-1-1 0-6 1-1-4-1-1-1 18-21-7-2 1-1 0-1-9-2 0 0 8-1 0-3-13-1 12-1 7 0-2-1-17 0 16 0-7-3-7 0 8 0-8-1 9-1-7 0 6 0 1-5 3-1-10-1 5 0-2 0-5-1 15-3-16 0 2-3-2-1 15 0-14 0-1-2 13 0 3 0-13-2 5-1-3 0 2-15 1-2 0 0-6-5 1-1-1 0 10-2 1 0-3-1 0 0-6 0 3-1 2-1-7-3 2-1-5-2-1-1 10-1-9-6 7 0-6-1 5 0-3-2 4-67-1 0-2-1-1 0 9-1 2-1 8-1-1-1-9 0-11-1 17 0-16 0 12 0-12-1-1 0 0-1 15 0-14-1 1-1 8-1 0 0-1 0-5-2 12 0 1 0 0-3 1 0-12-4 5 0 3-1-12-2 1-2-2 0 12-2-2-2-8-1 5 0-4 0 16-4-10-48-5 0 4-1-7-1 16-1-4-1 4-1 0 0 1-1-2-3-14 0-5-2 20-1-11 0 13-1-4 0 1 0-19-2 21 0-21-1 6-1-1 0 13-2-4-1-9-4 10-1-7-3 0-1-7-2 13 0 6-1 1-1-9-1-9-6-4 0 3-2 0 0 13-1 0 0 5-1-11-3-4-2 5-4 8-6-13-1 15 0-12 0 8-1 4-2 2-3-5-1-12-2 6-2-3-5 2 0-10-5 19-5-19 0 14-9-1-2 10-2-23-1 13-4-9-3 6-15-11-14 22-15-16-21 33-409 1 376 7 62-21 25 17 4-11 4 0 4-1 2 14 9-3 3-1 9-13 2 8 3-10 0 18 9 2 5-17 2 17 4-12 3-7 1 20 2-1 1-10 3 2 3-13 1 16 0-2 1-6 1 0 1-3 2 15 3-3 0-14 1-3 2 17 0 4 1 1 0 1 1-10 1-5 1-7 0 18 3-5 3-4 1-6 1 12 5 3 1 3 1-22 0 22 0-18 0 6 1-1 0-7 0 13 3-2 1 9 3-10 0 5 0 5 1-9 1-14 1 2 2 20 0 2 0-17 1 3 1 12 0 1 1-10 4-1 1 7 1-4 0 8 0-8 0 9 0-7 1-3 21-4 1 1 1-3 1 10 2-1 3-5 3 2 1-8 3-1 2 3 0-8 1 13 4 0 0-13 2 14 0-6 3-8 1 7 0-4 0-2 8 1 1 1 4 7 5-1 2 3 0-6 1-2 1 1 2-2 2 11 0 2 1-3 3-3 1-4 1 7 0-1 1 9 52-2 0-3 1 0 1-1 1 8 6-3 1-1 12-1 0-1 1-3 1 2 6 7 2-3 0 2 15 0 2-2 4 2 2-20 23-2 1 1 5 22 8-15 8 6 2-7 0 8 0-9 4 1 2 5 2 7 1-11 0 12 5-12 0 1 1 10 1-8 0 8 2-6 1 6 2 3 1-11 3-8 1 11 0-7 2 15 3-14 2 15 0-14 0 6 0-6 4-3 1-4 2 14 1 0 1-16 2 18 2-3 5-10 1-2 1 18 0 3 0-12 1 1 0-5 2-7 0 5 1 8 0-8 0 8 3 6 1-2 2-5 2 11 1-12 3 4 0-12 0 10 3 1 0 2 2-10 11 5 5-3 1-7 0 11 5 4 4 1 9-7 0 1 14-4 10 8 11-3 21 19 0-6-1 16-44-15-17-1-3 17-1-5-3-12-7 3-5 17-1-10-1 6-5-18-3 9-4 10-2-5-3 3-2 7-4-13-7-7-4 16-1-2-2-11-2 7-2-12-4 16-2-8-1-10-6 12-4-11 0 11-1-10 0 3 0 17-1-20 0 19-1-7-2 4 0-1-2-14-1-3-1 3-6 15-1-13 0 2-2 8 0 6-1-5 0 2 0-2-1 7-1-11-6-9 0 0-1-1 0 2 0 1 0 7-1 0-1-11-3 15-2 0-1 0-1-11-1 0 0-2-1 10 0-7 0 3-1-6-29 5-4-2-4 0 0-5-3 1-18-1-26 15-14-4 0-1-3 0 0 0 0 9-1-10-1 10-1-11-2 0-1 3-2 1 0 0-1 1 0-1 0-12-108 8-5 0 0 0 0 2-2-1-3 3-3-3-3-2-1-4-1 0-1 2-2-5-4 10-1-1-1 2 0-4-5-3-1 4 0-4-1 17-1-20-1 19-1-1 0-12 0-2-1 6 0-6-3 11 0-17-2 21-5-16-3 0 0 8-1 7-1-13 0-2 0 12-2-14-4 9-3-2-1-4-3 8-4-2-5 7-1-13-4-5-2-1-1 14-2 2-1-11-4-2-5 3-2 10 0-12-6 8-3 6-1-6-12 12-1-13-11-4-5 13 0-4-33-4-24 6-99 18-73 7 42-11 101 1 3 7 11-6 13 5 65-6 13 10 2 5 3-22 0 12 6-9 2-4 8 22 7-10 2 1 1 9 1-23 1 20 0-5 1 6 1 0 3-17 4 9 2-1 0 2 3-14 6 21 2-7 0-4 1 8 0-11 1 9 4-5 1 11 6-16 1 14 0-5 1 1 2-5 3-7 0 14 0-1 3 0 1-15 0 3 2 0 2 11 0-2 0 7 2-8 1 3 0-1 0-10 3 13 0-13 1 0 1 11 2-13 2-1 4 11 0-2 1-8 0 9 9-2 2 8 2 0 1 0 1-12 2 13 1-9 1 0 1 2 2 2 1-2 12-4 2 4 0 2 1 1 0-11 2 11 1-1 1-10 1 0 1 10 1-9 1 3 1 16 89-2 54-6 2 1 1-1 3 1 4 0 0 3 1-2 0 4 40-1 0-4 2-1 3 8 0-13 2 13 2-14 1 11 5-1 1-8 0-8 1 7 1-2 2-2 2 1 1 2 1-1 0 5 2 8 0 0 2-9 2 1 0 0 0 5 0-17 1 18 3-15 0 2 2-1 1-1 1 16 1-9 3-12 3 14 3 5 1 1 2-1 3-16 1 5 0-6 1 13 2-9 1 9 0 6 1-20 5 15 1-13 3 17 0-7 3-9 1 15 14-8 7 5 3-11 2 15 7-3 2 5 5-20 0 16 26 2 8-13 3 17 12-24 29 46-8 1-5-9-15-13-21 2-26 14 0 1-3-17-13 12-1-11-1-2-11 18-2-10-3 5 0 0-2-12-3 12-2-3-4 10-1-17-3 4-1-6-5 23 0-19-1 11-1-8-1 9-2-13 0 3-1 7-1-4-1 5-1-5-1-1-3-9 0 10 0 4-1 0 0-6-1 9-2 5-1-18-3-4-2 14-3-1 0-4-1 8-2-2-5 2 0-2-1-2 0 2-1 5-2-17-1 9 0-8-2 18-2-14-1-7-2 6-1 2-2-7-1 10 0 5-5-8-5 7-2-8 0 9-1-15-1 11-1 1-1-11-1 0 0 1-3 6-3 1-2 12-9-21-18 0-3-1-4-1-3 22-28 0 0-2-1-2-2-2 0 1-2 2-4-2-1 5-2 2-2-17-6 5-3-11-2 10 0-11-1 9-3-4 0 11-18 3-1 3-2 1 0-2 0-10-1 2 0 11-4-13 0 13-3-3-3 2-1-6-1-4 0-5-9 4-2 1-1-8-1 9 0-1-4-10-2 6-2 14-41 1-6-1 0 0-2-6-16 7-1-11-1 10-2-13-2-1 0 2-1 12 0-12-2 12 0-3-1-4 0 4-1-15-5-5-2 12 0 5-1 4-2-7 0 1-1-3-2-10-4 2-1 13-1-10-1 8 0-5-2 12 0-6-1-6-1 5-1-4-3 1-6 7 0-16-1 0-1 10 0-4 0-5 0 6-1 14-3-4-2-13-1 1 0 7 0-11-1-1-1 16-1-7-1 0-3-11-1 5-1 2-7 15-5-15-8 10-1-7-2-10 0 23 0-22-7 4-1-2-6-1-11 8-6-1-5 6-81-16-339 34 159 12 159-12 7-5 63 10 2 1 0-10 30 6 4 4 4-12 2 5 11-9 4 10 4 9 2-15 2 10 1-14 3 23 2-8 4 7 2-16 2-1 3 8 6-5 2 10 5-6 1 6 0-6 1 10 0-3 2-7 4-3 4 8 3-6 1-6 2 5 3 11 0-16 0 1 1 11 3 0 1-11 1 1 1 8 1-15 1 12 1 0 2-1 1 2 2-10 1 15 1 0 0 5 1-10 2 2 0-1 6 2 1-1 2 5 0 0 4-1 0 2 1-3 4 3 6-3 0 3 2-12 1 2 3-6 0 13 6-2 1-2 2-1 1-12 0 2 2 6 0 3 1 11 56-1 2-4 0-1 1 1 4 0 1 5 8 0 1 1 7-2 1 1 0-3 14 2 0 0 1-1 7-20 7 3 1-1 2 3 1-2 0 1 1 0 0 0 1 0 3-2 6 6 41 6 1-7 1 10 4 0 1-11 2 2 1 3 0 2 1-14 1 0 0 8 1-2 0 2 6 0 1-7 2 2 30 9 0-5 1 7 6-2 0-5 2-2 1 4 1-3 4 2 2 10 1 0 1-7 0-10 1 12 1 7 1-1 1 1 1-20 3 13 0-3 0-7 0-2 1 5 1 5 0 2 0-5 1 2 0-10 0 14 1-3 1 0 0 12 1-1 1-2 1-1 2 0 1 1 2-15 2 1 1-2 1 8 0 12 0-9 1-8 1-4 1 21 0-20 1 10 1-13 4 19 2-14 1 16 2-6 1-12 6 1 0 13 4-4 0-2 1 2 2-6 3 16 2-23 1 12 4 11 21-15 1 15 2-18 3 10 1 6 5-11 8-5 58 30 16 7-38-2-10-13-9 20-8-15-6 9-3 6-10 0-3-24 0 9-5 4-3 9-6-14-2 3-2 2-3-9 0 9-4 5 0 6-1-5-2-11-1 7-4-10-3 12-1 0 0 5-1-11-5-4-3 8 0-14-2 2-1 6 0-3-2 10-4-1 0 7-1-5 0 0 0-3-1-10-1 16 0-5-1-3-3 3-2-10-2 8-4 2-2-12-2 7-1-6 0-4-1 3-11 1-1-3-7 16-6 1 0-7-2 8-2 1-4-1 0 1 0-8-2-3-1 0-2-5-1 9-2 0-1-1-1-9-2 7-5-8-2 0-1 7-1-3 0-3-1 3 0 5 0 6-3-1-1 4-2-14-1 3-3-4 0 14-2 0-1-3-1-3 0 0-14 3-1-5 0 3 0 5-1-1-1 2-4-1-1-11 0 7-3-5 0 0 0 0 0-4-56 1-3 0-1-1 0-1-1-1-2-1-1-2-12 5-2 2-3 0-3-2-2-1-1-4-1 1-4 3-3 5-1-1-1 4-1-9-1-3-1 5 0 1-1 11 0-1-2-10 0 10-2-8-3 1-1 1 0 2-1-2 0 4 0 6-34-5-3-1-2 1 0 2-3 3-2 0-1-4-6 0-3-3-1-2-6-1-1 11-2-10 0-11-2 11-1-9-1 4-1 13 0 3 0-16-2 12-2-7 0 5-1 2-1-14 0 3-1-2-1-3 0 18-2-15 0 3-1 11-1-2-1 2 0-14-2 6-2-12 0 17-1-6 0-1-4 9-1 2-3-13-1 13 0-11-1-8 0-1-1 10 0 6-1 3 0-8-1 6-1-14-4 10-2-2-1-4-4 11-1 5-4-10-6-1-1-6-1-2-13 17 0-8-2-4-2 14-5-5-2-18-2 19 0-7-4-8-3 11-6-2-2-11-2 14-3-15-3 14-6 4-2-1-12-6-1-12-14-1-267 26 227-1 14 8 45-8 3 1 3 5 22-3 22 6 1-5 29 1 7 2 3-5 2-2 3 0 1 1 2 0 5 4 2 4 2-1 2-3 1-3 3 1 3 4 8-5 3-1 2 5 4-5 1 5 0-1 1 3 1-1 0 2 1-3 0-5 1 0 1 6 0 0 3-2 5 0 2-5 4 3 3-1 0 6 2-1 6 2 1-3 6-2 1 2 0 3 5-1 3-2 3 0 0 0 2 2 2-1 3 0 6 1 5 0 7-1 4 2 1-2 3-2 5 2 1-1 2 1 0 0 4-2 1 1 1-1 0 1 7 1 1 2 1-3 6 0 1 1 1 0 5 0 3 1 1-2 2 2 1-3 6 1 0 2 2-3 3 0 2 0 1 3 1-1 5 0 0-1 5-1 0 1 2-1 0 0 4 0 2 0 3 2 2-3 3 0 1 4 1-4 3-2 0-1 1 0 1 1 0 4 4 1 1 0 5-1 1 3 4 0 2-2 3 0 1 2 2-1 0-2 3 0 1-1 0 1 2-1 2 2 1-1 1 0 0-1 2 0 1 2 1 2 2-1 3-1 1 1 1-1 2 2 0-3 1-2 3 0 2 2 2-1 0 2 0-1 2 2 5-1 5 2 5-2 1-2 0 0 5-1 6 0 0 0 2 4 0-2 1-3 3 0 2 4 3-2 2 4 5-9 3 4 0 0 1 2 1 2 6-6 5 5 2-5 0-2 1-1 0 4 4 3 4-7 5 10 3-3 2 1 4-3 13-2 6-1 43 8 9-6 32" fill="none" stroke="none" marker-start="url(#d)" marker-mid="url(#d)" marker-end="url(#d)"/></g><rect x="180" y="60" width="2004" height="985" fill="none" stroke="#000" stroke-width="2"/><path d="M173 1006.00H180M173 868.98H180M173 731.97H180M173 594.95H180M173 457.93H180M173 320.92H180M173 183.90H180M435.95 1045V1052M771.55 1045V1052M1107.15 1045V1052M1442.76 1045V1052M1778.36 1045V1052M2113.96 1045V1052" stroke="#000" stroke-width="2" fill="none"/><text x="164.5" y="1018.80" font-size="36" text-anchor="end" textLength="105" lengthAdjust="spacingAndGlyphs">79400</text><text x="164.5" y="881.78" font-size="36" text-anchor="end" textLength="105" lengthAdjust="spacingAndGlyphs">79600</text><text x="164.5" y="744.77" font-size="36" text-anchor="end" textLength="105" lengthAdjust="spacingAndGlyphs">79800</text><text x="164.5" y="607.75" font-size="36" text-anchor="end" textLength="105" lengthAdjust="spacingAndGlyphs">80000</text><text x="164.5" y="470.73" font-size="36" text-anchor="end" textLength="105" lengthAdjust="spacingAndGlyphs">80200</text><text x="164.5" y="333.72" font-size="36" text-anchor="end" textLength="105" lengthAdjust="spacingAndGlyphs">80400</text><text x="164.5" y="196.70" font-size="36" text-anchor="end" textLength="105" lengthAdjust="spacingAndGlyphs">80600</text><text x="435.95" y="1086" font-size="36" text-anchor="middle" textLength="82" lengthAdjust="spacingAndGlyphs">3455</text><text x="771.55" y="1086" font-size="36" text-anchor="middle" textLength="82" lengthAdjust="spacingAndGlyphs">3460</text><text x="1107.15" y="1086" font-size="36" text-anchor="middle" textLength="82" lengthAdjust="spacingAndGlyphs">3465</text><text x="1442.76" y="1086" font-size="36" text-anchor="middle" textLength="82" lengthAdjust="spacingAndGlyphs">3470</text><text x="1778.36" y="1086" font-size="36" text-anchor="middle" textLength="82" lengthAdjust="spacingAndGlyphs">3475</text><text x="2113.96" y="1086" font-size="36" text-anchor="middle" textLength="82" lengthAdjust="spacingAndGlyphs">3480</text><text x="741" y="47.8" font-size="43" textLength="881" lengthAdjust="spacingAndGlyphs">Light curve for TIC 101675157 (Sector 79)</text><text x="1045" y="1129.4" font-size="38" textLength="270" lengthAdjust="spacingAndGlyphs">JD - 2 457 000</text><text transform="translate(42 724) rotate(-90)" x="0" y="0" font-size="38" textLength="341" lengthAdjust="spacingAndGlyphs">Magnitude, mmag</text></svg></body></html>
